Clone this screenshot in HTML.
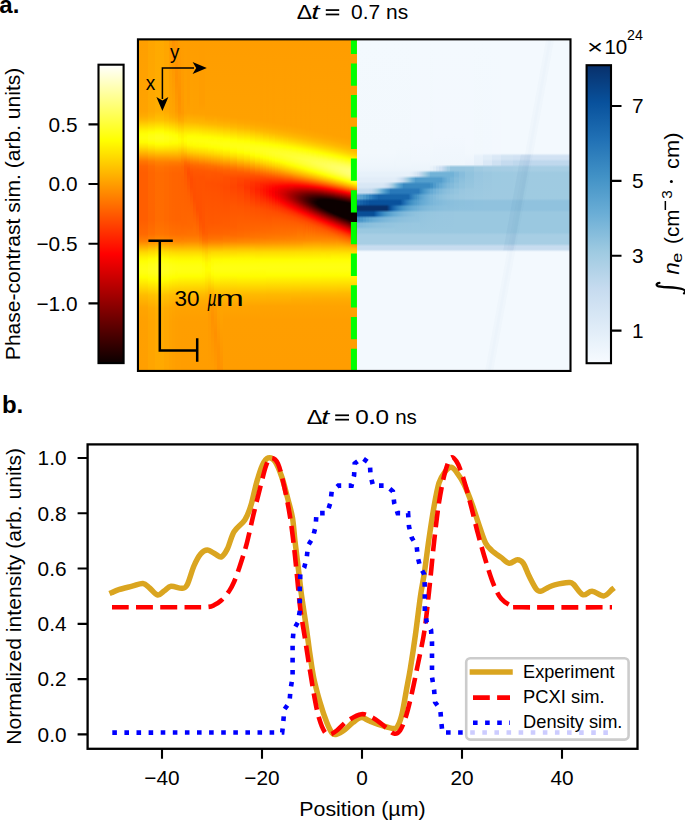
<!DOCTYPE html>
<html><head><meta charset="utf-8"><title>figure</title>
<style>
html,body{margin:0;padding:0;background:#fff;width:685px;height:821px;overflow:hidden}
svg{display:block;font-family:"Liberation Sans",sans-serif}
</style></head><body>
<svg width="685" height="821" viewBox="0 0 685 821" font-family='Liberation Sans, sans-serif' fill="#000"><defs><linearGradient id="g0" x2="0" y2="1"><stop offset="0.0000" stop-color="#ff9f00"/><stop offset="0.2153" stop-color="#ffa300"/><stop offset="0.2304" stop-color="#ffab00"/><stop offset="0.2426" stop-color="#ffb900"/><stop offset="0.2759" stop-color="#fff600"/><stop offset="0.2850" stop-color="#ffff05"/><stop offset="0.2971" stop-color="#ffff0c"/><stop offset="0.3093" stop-color="#fffd00"/><stop offset="0.3244" stop-color="#ffdf00"/><stop offset="0.3669" stop-color="#ff7600"/><stop offset="0.3820" stop-color="#ff6400"/><stop offset="0.4002" stop-color="#ff5e00"/><stop offset="0.5428" stop-color="#ff5e00"/><stop offset="0.5882" stop-color="#ff6900"/><stop offset="0.6095" stop-color="#ff8100"/><stop offset="0.6428" stop-color="#ffd700"/><stop offset="0.6580" stop-color="#fff100"/><stop offset="0.6701" stop-color="#ffff02"/><stop offset="0.6822" stop-color="#ffff10"/><stop offset="0.6944" stop-color="#ffff15"/><stop offset="0.7065" stop-color="#ffff0f"/><stop offset="0.7186" stop-color="#ffff00"/><stop offset="0.7732" stop-color="#ffbc00"/><stop offset="0.8096" stop-color="#ffa500"/><stop offset="0.8520" stop-color="#ffa000"/><stop offset="0.9976" stop-color="#ff9f00"/></linearGradient><linearGradient id="g1" x2="0" y2="1"><stop offset="0.0000" stop-color="#ffa500"/><stop offset="0.2153" stop-color="#ffa900"/><stop offset="0.2304" stop-color="#ffb100"/><stop offset="0.2426" stop-color="#ffbe00"/><stop offset="0.2790" stop-color="#ffff01"/><stop offset="0.2881" stop-color="#ffff11"/><stop offset="0.2971" stop-color="#ffff15"/><stop offset="0.3032" stop-color="#ffff10"/><stop offset="0.3123" stop-color="#ffff00"/><stop offset="0.3275" stop-color="#ffe000"/><stop offset="0.3669" stop-color="#ff7e00"/><stop offset="0.3820" stop-color="#ff6c00"/><stop offset="0.4002" stop-color="#ff6600"/><stop offset="0.5428" stop-color="#ff6500"/><stop offset="0.5882" stop-color="#ff7000"/><stop offset="0.6095" stop-color="#ff8800"/><stop offset="0.6398" stop-color="#ffd700"/><stop offset="0.6640" stop-color="#ffff01"/><stop offset="0.6792" stop-color="#ffff16"/><stop offset="0.6944" stop-color="#ffff1d"/><stop offset="0.7065" stop-color="#ffff18"/><stop offset="0.7247" stop-color="#fffe00"/><stop offset="0.7732" stop-color="#ffc100"/><stop offset="0.8126" stop-color="#ffaa00"/><stop offset="0.8551" stop-color="#ffa500"/><stop offset="0.9976" stop-color="#ffa500"/></linearGradient><linearGradient id="g2" x2="0" y2="1"><stop offset="0.0000" stop-color="#ffa900"/><stop offset="0.2153" stop-color="#ffad00"/><stop offset="0.2426" stop-color="#ffc200"/><stop offset="0.2759" stop-color="#fffe00"/><stop offset="0.2790" stop-color="#ffff06"/><stop offset="0.2881" stop-color="#ffff17"/><stop offset="0.2971" stop-color="#ffff1c"/><stop offset="0.3062" stop-color="#ffff14"/><stop offset="0.3153" stop-color="#ffff01"/><stop offset="0.3275" stop-color="#ffe700"/><stop offset="0.3578" stop-color="#ff9900"/><stop offset="0.3699" stop-color="#ff8000"/><stop offset="0.3851" stop-color="#ff7100"/><stop offset="0.4033" stop-color="#ff6b00"/><stop offset="0.5428" stop-color="#ff6c00"/><stop offset="0.5882" stop-color="#ff7600"/><stop offset="0.6095" stop-color="#ff8e00"/><stop offset="0.6398" stop-color="#ffdc00"/><stop offset="0.6610" stop-color="#ffff02"/><stop offset="0.6792" stop-color="#ffff1d"/><stop offset="0.6944" stop-color="#ffff24"/><stop offset="0.7095" stop-color="#ffff1b"/><stop offset="0.7277" stop-color="#fffe00"/><stop offset="0.7732" stop-color="#ffc500"/><stop offset="0.8126" stop-color="#ffaf00"/><stop offset="0.8551" stop-color="#ffaa00"/><stop offset="0.9976" stop-color="#ffa900"/></linearGradient><linearGradient id="g3" x2="0" y2="1"><stop offset="0.0000" stop-color="#ffa500"/><stop offset="0.2153" stop-color="#ffa900"/><stop offset="0.2426" stop-color="#ffbd00"/><stop offset="0.2790" stop-color="#fffd00"/><stop offset="0.2820" stop-color="#ffff04"/><stop offset="0.2911" stop-color="#ffff13"/><stop offset="0.2971" stop-color="#ffff16"/><stop offset="0.3062" stop-color="#ffff10"/><stop offset="0.3153" stop-color="#fffe00"/><stop offset="0.3305" stop-color="#ffde00"/><stop offset="0.3578" stop-color="#ff9900"/><stop offset="0.3699" stop-color="#ff7f00"/><stop offset="0.3851" stop-color="#ff6e00"/><stop offset="0.4033" stop-color="#ff6900"/><stop offset="0.5428" stop-color="#ff6900"/><stop offset="0.5882" stop-color="#ff7400"/><stop offset="0.6095" stop-color="#ff8b00"/><stop offset="0.6428" stop-color="#ffdf00"/><stop offset="0.6640" stop-color="#ffff02"/><stop offset="0.6792" stop-color="#ffff17"/><stop offset="0.6944" stop-color="#ffff1e"/><stop offset="0.7065" stop-color="#ffff18"/><stop offset="0.7247" stop-color="#fffe00"/><stop offset="0.7732" stop-color="#ffc100"/><stop offset="0.8126" stop-color="#ffaa00"/><stop offset="0.8551" stop-color="#ffa600"/><stop offset="0.9976" stop-color="#ffa500"/></linearGradient><linearGradient id="g4" x2="0" y2="1"><stop offset="0.0000" stop-color="#ff9b00"/><stop offset="0.2183" stop-color="#ffa600"/><stop offset="0.2335" stop-color="#ffaf00"/><stop offset="0.2456" stop-color="#ffbd00"/><stop offset="0.2790" stop-color="#fff900"/><stop offset="0.2850" stop-color="#ffff04"/><stop offset="0.2941" stop-color="#ffff0f"/><stop offset="0.3002" stop-color="#ffff10"/><stop offset="0.3153" stop-color="#fffb00"/><stop offset="0.3305" stop-color="#ffdd00"/><stop offset="0.3699" stop-color="#ff7d00"/><stop offset="0.3851" stop-color="#ff6c00"/><stop offset="0.4033" stop-color="#ff6600"/><stop offset="0.5428" stop-color="#ff6600"/><stop offset="0.5882" stop-color="#ff7100"/><stop offset="0.6095" stop-color="#ff8800"/><stop offset="0.6428" stop-color="#ffdb00"/><stop offset="0.6671" stop-color="#ffff02"/><stop offset="0.6822" stop-color="#ffff15"/><stop offset="0.6944" stop-color="#ffff18"/><stop offset="0.7065" stop-color="#ffff12"/><stop offset="0.7216" stop-color="#fffe00"/><stop offset="0.7732" stop-color="#ffbd00"/><stop offset="0.8126" stop-color="#ffa700"/><stop offset="0.8551" stop-color="#ffa200"/><stop offset="0.9976" stop-color="#ffa200"/></linearGradient><linearGradient id="g5" x2="0" y2="1"><stop offset="0.0000" stop-color="#ff9200"/><stop offset="0.2183" stop-color="#ffa400"/><stop offset="0.2335" stop-color="#ffac00"/><stop offset="0.2456" stop-color="#ffba00"/><stop offset="0.2790" stop-color="#fff600"/><stop offset="0.2881" stop-color="#ffff05"/><stop offset="0.3002" stop-color="#ffff0e"/><stop offset="0.3123" stop-color="#ffff00"/><stop offset="0.3275" stop-color="#ffe300"/><stop offset="0.3699" stop-color="#ff7d00"/><stop offset="0.3851" stop-color="#ff6b00"/><stop offset="0.4033" stop-color="#ff6400"/><stop offset="0.5428" stop-color="#ff6500"/><stop offset="0.5882" stop-color="#ff7000"/><stop offset="0.6095" stop-color="#ff8700"/><stop offset="0.6428" stop-color="#ffd900"/><stop offset="0.6580" stop-color="#fff300"/><stop offset="0.6701" stop-color="#ffff04"/><stop offset="0.6822" stop-color="#ffff12"/><stop offset="0.6944" stop-color="#ffff15"/><stop offset="0.7065" stop-color="#ffff0f"/><stop offset="0.7186" stop-color="#ffff00"/><stop offset="0.7732" stop-color="#ffbb00"/><stop offset="0.8096" stop-color="#ffa600"/><stop offset="0.8520" stop-color="#ffa000"/><stop offset="0.9976" stop-color="#ffa000"/></linearGradient><linearGradient id="g6" x2="0" y2="1"><stop offset="0.0000" stop-color="#ff9800"/><stop offset="0.1152" stop-color="#ff9100"/><stop offset="0.2153" stop-color="#ff9c00"/><stop offset="0.2304" stop-color="#ffa400"/><stop offset="0.2456" stop-color="#ffb500"/><stop offset="0.2881" stop-color="#ffff01"/><stop offset="0.3002" stop-color="#ffff0b"/><stop offset="0.3123" stop-color="#fffe00"/><stop offset="0.3305" stop-color="#ffdc00"/><stop offset="0.3699" stop-color="#ff7d00"/><stop offset="0.3851" stop-color="#ff6a00"/><stop offset="0.4033" stop-color="#ff6400"/><stop offset="0.5428" stop-color="#ff6400"/><stop offset="0.5882" stop-color="#ff6f00"/><stop offset="0.6095" stop-color="#ff8600"/><stop offset="0.6428" stop-color="#ffd800"/><stop offset="0.6580" stop-color="#fff200"/><stop offset="0.6701" stop-color="#ffff02"/><stop offset="0.6822" stop-color="#ffff10"/><stop offset="0.6944" stop-color="#ffff14"/><stop offset="0.7186" stop-color="#fffe00"/><stop offset="0.7702" stop-color="#ffbd00"/><stop offset="0.7884" stop-color="#ffae00"/><stop offset="0.8096" stop-color="#ffa400"/><stop offset="0.8520" stop-color="#ff9f00"/><stop offset="0.9976" stop-color="#ff9e00"/></linearGradient><linearGradient id="g7" x2="0" y2="1"><stop offset="0.0000" stop-color="#ff9d00"/><stop offset="0.1789" stop-color="#ff9100"/><stop offset="0.2183" stop-color="#ff9500"/><stop offset="0.2426" stop-color="#ffa700"/><stop offset="0.2850" stop-color="#fff300"/><stop offset="0.3002" stop-color="#ffff00"/><stop offset="0.3093" stop-color="#fffc00"/><stop offset="0.3214" stop-color="#ffeb00"/><stop offset="0.3730" stop-color="#ff7700"/><stop offset="0.3851" stop-color="#ff6a00"/><stop offset="0.4033" stop-color="#ff6300"/><stop offset="0.5428" stop-color="#ff6400"/><stop offset="0.5882" stop-color="#ff6f00"/><stop offset="0.6095" stop-color="#ff8600"/><stop offset="0.6428" stop-color="#ffd800"/><stop offset="0.6580" stop-color="#fff100"/><stop offset="0.6701" stop-color="#ffff01"/><stop offset="0.6822" stop-color="#ffff0f"/><stop offset="0.6913" stop-color="#ffff13"/><stop offset="0.7035" stop-color="#ffff0f"/><stop offset="0.7156" stop-color="#ffff01"/><stop offset="0.7732" stop-color="#ffb900"/><stop offset="0.8096" stop-color="#ffa400"/><stop offset="0.8520" stop-color="#ff9e00"/><stop offset="0.9976" stop-color="#ff9e00"/></linearGradient><linearGradient id="g8" x2="0" y2="1"><stop offset="0.0000" stop-color="#ff9d00"/><stop offset="0.2213" stop-color="#ff9a00"/><stop offset="0.2456" stop-color="#ffab00"/><stop offset="0.2850" stop-color="#ffee00"/><stop offset="0.3002" stop-color="#fff900"/><stop offset="0.3093" stop-color="#fff500"/><stop offset="0.3214" stop-color="#ffe500"/><stop offset="0.3669" stop-color="#ff7c00"/><stop offset="0.3851" stop-color="#ff6600"/><stop offset="0.4154" stop-color="#ff6100"/><stop offset="0.5579" stop-color="#ff6600"/><stop offset="0.5852" stop-color="#ff6e00"/><stop offset="0.6034" stop-color="#ff7d00"/><stop offset="0.6155" stop-color="#ff9300"/><stop offset="0.6428" stop-color="#ffd800"/><stop offset="0.6580" stop-color="#fff100"/><stop offset="0.6701" stop-color="#ffff01"/><stop offset="0.6822" stop-color="#ffff0e"/><stop offset="0.6913" stop-color="#ffff12"/><stop offset="0.7035" stop-color="#ffff0e"/><stop offset="0.7156" stop-color="#ffff01"/><stop offset="0.7732" stop-color="#ffb900"/><stop offset="0.8096" stop-color="#ffa300"/><stop offset="0.8520" stop-color="#ff9e00"/><stop offset="0.9976" stop-color="#ff9d00"/></linearGradient><linearGradient id="g9" x2="0" y2="1"><stop offset="0.0000" stop-color="#ff9d00"/><stop offset="0.2213" stop-color="#ffa100"/><stop offset="0.2456" stop-color="#ffb300"/><stop offset="0.2820" stop-color="#fff000"/><stop offset="0.2971" stop-color="#ffff01"/><stop offset="0.3062" stop-color="#ffff00"/><stop offset="0.3184" stop-color="#fff100"/><stop offset="0.3366" stop-color="#ffc900"/><stop offset="0.3699" stop-color="#ff6e00"/><stop offset="0.3820" stop-color="#ff5d00"/><stop offset="0.3942" stop-color="#ff5900"/><stop offset="0.4548" stop-color="#ff6100"/><stop offset="0.5549" stop-color="#ff6600"/><stop offset="0.5882" stop-color="#ff7000"/><stop offset="0.6095" stop-color="#ff8700"/><stop offset="0.6428" stop-color="#ffd800"/><stop offset="0.6580" stop-color="#fff100"/><stop offset="0.6701" stop-color="#ffff01"/><stop offset="0.6822" stop-color="#ffff0e"/><stop offset="0.6913" stop-color="#ffff12"/><stop offset="0.7035" stop-color="#ffff0e"/><stop offset="0.7156" stop-color="#ffff00"/><stop offset="0.7702" stop-color="#ffbc00"/><stop offset="0.7884" stop-color="#ffad00"/><stop offset="0.8096" stop-color="#ffa300"/><stop offset="0.8520" stop-color="#ff9e00"/><stop offset="0.9976" stop-color="#ff9d00"/></linearGradient><linearGradient id="g10" x2="0" y2="1"><stop offset="0.0000" stop-color="#ff9d00"/><stop offset="0.1880" stop-color="#ff9d00"/><stop offset="0.2213" stop-color="#ffa200"/><stop offset="0.2486" stop-color="#ffb800"/><stop offset="0.2911" stop-color="#ffff01"/><stop offset="0.3032" stop-color="#ffff0a"/><stop offset="0.3123" stop-color="#ffff02"/><stop offset="0.3184" stop-color="#fff900"/><stop offset="0.3396" stop-color="#ffcb00"/><stop offset="0.3669" stop-color="#ff7b00"/><stop offset="0.3760" stop-color="#ff6600"/><stop offset="0.3881" stop-color="#ff5500"/><stop offset="0.4033" stop-color="#ff4e00"/><stop offset="0.4730" stop-color="#ff6000"/><stop offset="0.5640" stop-color="#ff6800"/><stop offset="0.5913" stop-color="#ff7300"/><stop offset="0.6095" stop-color="#ff8800"/><stop offset="0.6428" stop-color="#ffd800"/><stop offset="0.6580" stop-color="#fff100"/><stop offset="0.6701" stop-color="#ffff01"/><stop offset="0.6822" stop-color="#ffff0e"/><stop offset="0.6913" stop-color="#ffff12"/><stop offset="0.7035" stop-color="#ffff0e"/><stop offset="0.7156" stop-color="#ffff00"/><stop offset="0.7702" stop-color="#ffbc00"/><stop offset="0.7884" stop-color="#ffad00"/><stop offset="0.8096" stop-color="#ffa300"/><stop offset="0.8520" stop-color="#ff9e00"/><stop offset="0.9976" stop-color="#ff9d00"/></linearGradient><linearGradient id="g11" x2="0" y2="1"><stop offset="0.0000" stop-color="#ff9d00"/><stop offset="0.2213" stop-color="#ffa200"/><stop offset="0.2486" stop-color="#ffb700"/><stop offset="0.2911" stop-color="#ffff01"/><stop offset="0.3032" stop-color="#ffff0b"/><stop offset="0.3184" stop-color="#fffb00"/><stop offset="0.3366" stop-color="#ffd600"/><stop offset="0.3669" stop-color="#ff8200"/><stop offset="0.3790" stop-color="#ff6700"/><stop offset="0.3972" stop-color="#ff5400"/><stop offset="0.4215" stop-color="#ff4c00"/><stop offset="0.4457" stop-color="#ff4e00"/><stop offset="0.5033" stop-color="#ff6100"/><stop offset="0.5670" stop-color="#ff6900"/><stop offset="0.5913" stop-color="#ff7300"/><stop offset="0.6095" stop-color="#ff8800"/><stop offset="0.6428" stop-color="#ffd800"/><stop offset="0.6580" stop-color="#fff100"/><stop offset="0.6701" stop-color="#ffff01"/><stop offset="0.6822" stop-color="#ffff0e"/><stop offset="0.6913" stop-color="#ffff12"/><stop offset="0.7035" stop-color="#ffff0e"/><stop offset="0.7156" stop-color="#ffff00"/><stop offset="0.7702" stop-color="#ffbc00"/><stop offset="0.7884" stop-color="#ffad00"/><stop offset="0.8096" stop-color="#ffa300"/><stop offset="0.8520" stop-color="#ff9e00"/><stop offset="0.9976" stop-color="#ff9d00"/></linearGradient><linearGradient id="g12" x2="0" y2="1"><stop offset="0.0000" stop-color="#ff9d00"/><stop offset="0.2213" stop-color="#ffa100"/><stop offset="0.2486" stop-color="#ffb600"/><stop offset="0.2850" stop-color="#fff600"/><stop offset="0.2941" stop-color="#ffff04"/><stop offset="0.3062" stop-color="#ffff0b"/><stop offset="0.3153" stop-color="#ffff02"/><stop offset="0.3244" stop-color="#fff300"/><stop offset="0.3426" stop-color="#ffca00"/><stop offset="0.3699" stop-color="#ff7d00"/><stop offset="0.3820" stop-color="#ff6500"/><stop offset="0.3972" stop-color="#ff5700"/><stop offset="0.4215" stop-color="#ff5100"/><stop offset="0.4791" stop-color="#ff4f00"/><stop offset="0.5913" stop-color="#ff7300"/><stop offset="0.6095" stop-color="#ff8800"/><stop offset="0.6428" stop-color="#ffd800"/><stop offset="0.6580" stop-color="#fff200"/><stop offset="0.6701" stop-color="#ffff01"/><stop offset="0.6822" stop-color="#ffff0e"/><stop offset="0.6913" stop-color="#ffff12"/><stop offset="0.7035" stop-color="#ffff0e"/><stop offset="0.7156" stop-color="#ffff00"/><stop offset="0.7702" stop-color="#ffbb00"/><stop offset="0.7884" stop-color="#ffad00"/><stop offset="0.8096" stop-color="#ffa300"/><stop offset="0.8520" stop-color="#ff9e00"/><stop offset="0.9976" stop-color="#ff9d00"/></linearGradient><linearGradient id="g13" x2="0" y2="1"><stop offset="0.0000" stop-color="#ff9d00"/><stop offset="0.2213" stop-color="#ffa100"/><stop offset="0.2486" stop-color="#ffb500"/><stop offset="0.2850" stop-color="#fff500"/><stop offset="0.2941" stop-color="#ffff03"/><stop offset="0.3062" stop-color="#ffff0c"/><stop offset="0.3214" stop-color="#fffa00"/><stop offset="0.3396" stop-color="#ffd400"/><stop offset="0.3699" stop-color="#ff7f00"/><stop offset="0.3790" stop-color="#ff6b00"/><stop offset="0.3942" stop-color="#ff5900"/><stop offset="0.4124" stop-color="#ff5300"/><stop offset="0.5124" stop-color="#ff5000"/><stop offset="0.5882" stop-color="#ff7000"/><stop offset="0.6095" stop-color="#ff8800"/><stop offset="0.6428" stop-color="#ffd800"/><stop offset="0.6580" stop-color="#fff200"/><stop offset="0.6701" stop-color="#ffff01"/><stop offset="0.6822" stop-color="#ffff0f"/><stop offset="0.6913" stop-color="#ffff12"/><stop offset="0.7035" stop-color="#ffff0e"/><stop offset="0.7156" stop-color="#ffff00"/><stop offset="0.7702" stop-color="#ffbb00"/><stop offset="0.7884" stop-color="#ffad00"/><stop offset="0.8096" stop-color="#ffa300"/><stop offset="0.8520" stop-color="#ff9e00"/><stop offset="0.9976" stop-color="#ff9d00"/></linearGradient><linearGradient id="g14" x2="0" y2="1"><stop offset="0.0000" stop-color="#ff9d00"/><stop offset="0.1910" stop-color="#ff9d00"/><stop offset="0.2244" stop-color="#ffa200"/><stop offset="0.2517" stop-color="#ffb800"/><stop offset="0.2850" stop-color="#fff300"/><stop offset="0.2941" stop-color="#ffff02"/><stop offset="0.3062" stop-color="#ffff0d"/><stop offset="0.3214" stop-color="#fffc00"/><stop offset="0.3396" stop-color="#ffd700"/><stop offset="0.3790" stop-color="#ff6d00"/><stop offset="0.3942" stop-color="#ff5a00"/><stop offset="0.4154" stop-color="#ff5200"/><stop offset="0.5397" stop-color="#ff5100"/><stop offset="0.5731" stop-color="#ff5d00"/><stop offset="0.5943" stop-color="#ff6e00"/><stop offset="0.6064" stop-color="#ff7e00"/><stop offset="0.6155" stop-color="#ff9000"/><stop offset="0.6428" stop-color="#ffd700"/><stop offset="0.6580" stop-color="#fff100"/><stop offset="0.6701" stop-color="#ffff01"/><stop offset="0.6822" stop-color="#ffff0e"/><stop offset="0.6913" stop-color="#ffff12"/><stop offset="0.7035" stop-color="#ffff0d"/><stop offset="0.7156" stop-color="#ffff00"/><stop offset="0.7702" stop-color="#ffbb00"/><stop offset="0.7884" stop-color="#ffad00"/><stop offset="0.8096" stop-color="#ffa300"/><stop offset="0.8520" stop-color="#ff9e00"/><stop offset="0.9976" stop-color="#ff9d00"/></linearGradient><linearGradient id="g15" x2="0" y2="1"><stop offset="0.0000" stop-color="#ff9d00"/><stop offset="0.1910" stop-color="#ff9d00"/><stop offset="0.2244" stop-color="#ffa200"/><stop offset="0.2517" stop-color="#ffb700"/><stop offset="0.2941" stop-color="#ffff01"/><stop offset="0.3062" stop-color="#ffff0d"/><stop offset="0.3214" stop-color="#fffd00"/><stop offset="0.3396" stop-color="#ffd900"/><stop offset="0.3730" stop-color="#ff7d00"/><stop offset="0.3820" stop-color="#ff6900"/><stop offset="0.3972" stop-color="#ff5800"/><stop offset="0.4154" stop-color="#ff5200"/><stop offset="0.5640" stop-color="#ff5500"/><stop offset="0.5852" stop-color="#ff5c00"/><stop offset="0.6064" stop-color="#ff7200"/><stop offset="0.6155" stop-color="#ff8600"/><stop offset="0.6337" stop-color="#ffba00"/><stop offset="0.6458" stop-color="#ffd600"/><stop offset="0.6610" stop-color="#ffef00"/><stop offset="0.6762" stop-color="#ffff02"/><stop offset="0.6944" stop-color="#ffff0d"/><stop offset="0.7156" stop-color="#fffd00"/><stop offset="0.7702" stop-color="#ffbb00"/><stop offset="0.7884" stop-color="#ffac00"/><stop offset="0.8096" stop-color="#ffa300"/><stop offset="0.8520" stop-color="#ff9e00"/><stop offset="0.9976" stop-color="#ff9d00"/></linearGradient><linearGradient id="g16" x2="0" y2="1"><stop offset="0.0000" stop-color="#ff9d00"/><stop offset="0.2244" stop-color="#ffa100"/><stop offset="0.2395" stop-color="#ffa900"/><stop offset="0.2547" stop-color="#ffba00"/><stop offset="0.2941" stop-color="#ffff00"/><stop offset="0.3032" stop-color="#ffff0c"/><stop offset="0.3093" stop-color="#ffff0d"/><stop offset="0.3214" stop-color="#ffff00"/><stop offset="0.3426" stop-color="#ffd500"/><stop offset="0.3790" stop-color="#ff7100"/><stop offset="0.3972" stop-color="#ff5900"/><stop offset="0.4336" stop-color="#ff5000"/><stop offset="0.5670" stop-color="#ff5b00"/><stop offset="0.5882" stop-color="#ff6000"/><stop offset="0.6034" stop-color="#ff6e00"/><stop offset="0.6125" stop-color="#ff7d00"/><stop offset="0.6367" stop-color="#ffbe00"/><stop offset="0.6519" stop-color="#ffdb00"/><stop offset="0.6731" stop-color="#fff600"/><stop offset="0.6944" stop-color="#ffff00"/><stop offset="0.7156" stop-color="#fff500"/><stop offset="0.7702" stop-color="#ffb800"/><stop offset="0.8035" stop-color="#ffa400"/><stop offset="0.8460" stop-color="#ff9e00"/><stop offset="0.9976" stop-color="#ff9d00"/></linearGradient><linearGradient id="g17" x2="0" y2="1"><stop offset="0.0000" stop-color="#ff9d00"/><stop offset="0.2244" stop-color="#ffa100"/><stop offset="0.2395" stop-color="#ffa900"/><stop offset="0.2547" stop-color="#ffb800"/><stop offset="0.2941" stop-color="#fffe00"/><stop offset="0.3093" stop-color="#ffff0e"/><stop offset="0.3214" stop-color="#ffff03"/><stop offset="0.3305" stop-color="#fff300"/><stop offset="0.3426" stop-color="#ffd800"/><stop offset="0.3790" stop-color="#ff7400"/><stop offset="0.3972" stop-color="#ff5a00"/><stop offset="0.4336" stop-color="#ff5000"/><stop offset="0.5518" stop-color="#ff5900"/><stop offset="0.5822" stop-color="#ff6100"/><stop offset="0.6004" stop-color="#ff6f00"/><stop offset="0.6125" stop-color="#ff8300"/><stop offset="0.6367" stop-color="#ffc600"/><stop offset="0.6519" stop-color="#ffe300"/><stop offset="0.6762" stop-color="#fffd00"/><stop offset="0.6974" stop-color="#ffff00"/><stop offset="0.7186" stop-color="#ffef00"/><stop offset="0.7671" stop-color="#ffb200"/><stop offset="0.7975" stop-color="#ff9f00"/><stop offset="0.8308" stop-color="#ff9a00"/><stop offset="0.9976" stop-color="#ff9d00"/></linearGradient><linearGradient id="g18" x2="0" y2="1"><stop offset="0.0000" stop-color="#ff9d00"/><stop offset="0.2244" stop-color="#ffa100"/><stop offset="0.2395" stop-color="#ffa800"/><stop offset="0.2547" stop-color="#ffb700"/><stop offset="0.2941" stop-color="#fffc00"/><stop offset="0.3093" stop-color="#ffff0e"/><stop offset="0.3153" stop-color="#ffff0d"/><stop offset="0.3244" stop-color="#ffff00"/><stop offset="0.3457" stop-color="#ffd300"/><stop offset="0.3820" stop-color="#ff7000"/><stop offset="0.4002" stop-color="#ff5800"/><stop offset="0.4336" stop-color="#ff4f00"/><stop offset="0.5549" stop-color="#ff5900"/><stop offset="0.5852" stop-color="#ff6300"/><stop offset="0.6034" stop-color="#ff7300"/><stop offset="0.6155" stop-color="#ff8c00"/><stop offset="0.6428" stop-color="#ffd700"/><stop offset="0.6671" stop-color="#fffc00"/><stop offset="0.6913" stop-color="#ffff0f"/><stop offset="0.7095" stop-color="#ffff02"/><stop offset="0.7247" stop-color="#ffef00"/><stop offset="0.7702" stop-color="#ffb000"/><stop offset="0.8065" stop-color="#ff9700"/><stop offset="0.8429" stop-color="#ff9200"/><stop offset="0.9976" stop-color="#ff9d00"/></linearGradient><linearGradient id="g19" x2="0" y2="1"><stop offset="0.0000" stop-color="#ff9d00"/><stop offset="0.2274" stop-color="#ffa100"/><stop offset="0.2547" stop-color="#ffb600"/><stop offset="0.2971" stop-color="#ffff01"/><stop offset="0.3062" stop-color="#ffff0d"/><stop offset="0.3123" stop-color="#ffff0f"/><stop offset="0.3244" stop-color="#ffff02"/><stop offset="0.3335" stop-color="#fff200"/><stop offset="0.3457" stop-color="#ffd700"/><stop offset="0.3820" stop-color="#ff7200"/><stop offset="0.3911" stop-color="#ff6200"/><stop offset="0.4033" stop-color="#ff5600"/><stop offset="0.4366" stop-color="#ff4f00"/><stop offset="0.5549" stop-color="#ff5a00"/><stop offset="0.5852" stop-color="#ff6300"/><stop offset="0.6034" stop-color="#ff7400"/><stop offset="0.6155" stop-color="#ff8c00"/><stop offset="0.6428" stop-color="#ffd800"/><stop offset="0.6671" stop-color="#fffd00"/><stop offset="0.6822" stop-color="#ffff0f"/><stop offset="0.6913" stop-color="#ffff12"/><stop offset="0.7004" stop-color="#ffff0f"/><stop offset="0.7126" stop-color="#ffff03"/><stop offset="0.7247" stop-color="#fff400"/><stop offset="0.7732" stop-color="#ffb600"/><stop offset="0.7944" stop-color="#ffa500"/><stop offset="0.8156" stop-color="#ff9b00"/><stop offset="0.8914" stop-color="#ff9000"/><stop offset="0.9976" stop-color="#ff9a00"/></linearGradient><linearGradient id="g20" x2="0" y2="1"><stop offset="0.0000" stop-color="#ff9d00"/><stop offset="0.2274" stop-color="#ffa100"/><stop offset="0.2426" stop-color="#ffa900"/><stop offset="0.2577" stop-color="#ffb800"/><stop offset="0.2971" stop-color="#fffe00"/><stop offset="0.3123" stop-color="#ffff10"/><stop offset="0.3244" stop-color="#ffff05"/><stop offset="0.3305" stop-color="#fffa00"/><stop offset="0.3426" stop-color="#ffe100"/><stop offset="0.3851" stop-color="#ff6e00"/><stop offset="0.4033" stop-color="#ff5700"/><stop offset="0.4366" stop-color="#ff4e00"/><stop offset="0.5549" stop-color="#ff5a00"/><stop offset="0.5852" stop-color="#ff6300"/><stop offset="0.6034" stop-color="#ff7400"/><stop offset="0.6155" stop-color="#ff8c00"/><stop offset="0.6428" stop-color="#ffd800"/><stop offset="0.6671" stop-color="#fffd00"/><stop offset="0.6822" stop-color="#ffff0f"/><stop offset="0.6913" stop-color="#ffff12"/><stop offset="0.7004" stop-color="#ffff0f"/><stop offset="0.7126" stop-color="#ffff03"/><stop offset="0.7216" stop-color="#fff800"/><stop offset="0.7702" stop-color="#ffbb00"/><stop offset="0.8035" stop-color="#ffa400"/><stop offset="0.9339" stop-color="#ff9200"/><stop offset="0.9976" stop-color="#ff9100"/></linearGradient><linearGradient id="g21" x2="0" y2="1"><stop offset="0.0000" stop-color="#ff9d00"/><stop offset="0.2274" stop-color="#ffa100"/><stop offset="0.2426" stop-color="#ffa800"/><stop offset="0.2577" stop-color="#ffb700"/><stop offset="0.2971" stop-color="#fffd00"/><stop offset="0.3123" stop-color="#ffff10"/><stop offset="0.3184" stop-color="#ffff0f"/><stop offset="0.3275" stop-color="#ffff03"/><stop offset="0.3457" stop-color="#ffdd00"/><stop offset="0.3851" stop-color="#ff7100"/><stop offset="0.3942" stop-color="#ff6100"/><stop offset="0.4063" stop-color="#ff5500"/><stop offset="0.4397" stop-color="#ff4c00"/><stop offset="0.5549" stop-color="#ff5b00"/><stop offset="0.5852" stop-color="#ff6400"/><stop offset="0.6034" stop-color="#ff7400"/><stop offset="0.6155" stop-color="#ff8c00"/><stop offset="0.6428" stop-color="#ffd800"/><stop offset="0.6671" stop-color="#fffd00"/><stop offset="0.6822" stop-color="#ffff0f"/><stop offset="0.6913" stop-color="#ffff12"/><stop offset="0.7004" stop-color="#ffff0f"/><stop offset="0.7126" stop-color="#ffff03"/><stop offset="0.7702" stop-color="#ffbb00"/><stop offset="0.8035" stop-color="#ffa500"/><stop offset="0.9976" stop-color="#ff9300"/></linearGradient><linearGradient id="g22" x2="0" y2="1"><stop offset="0.0000" stop-color="#ff9d00"/><stop offset="0.2304" stop-color="#ffa100"/><stop offset="0.2456" stop-color="#ffa900"/><stop offset="0.2608" stop-color="#ffb900"/><stop offset="0.3002" stop-color="#ffff00"/><stop offset="0.3093" stop-color="#ffff0e"/><stop offset="0.3153" stop-color="#ffff12"/><stop offset="0.3214" stop-color="#ffff10"/><stop offset="0.3305" stop-color="#ffff02"/><stop offset="0.3487" stop-color="#ffdc00"/><stop offset="0.3820" stop-color="#ff7d00"/><stop offset="0.3942" stop-color="#ff6300"/><stop offset="0.4154" stop-color="#ff4f00"/><stop offset="0.4457" stop-color="#ff4a00"/><stop offset="0.5640" stop-color="#ff5d00"/><stop offset="0.5882" stop-color="#ff6700"/><stop offset="0.6095" stop-color="#ff8000"/><stop offset="0.6398" stop-color="#ffd200"/><stop offset="0.6640" stop-color="#fffa00"/><stop offset="0.6701" stop-color="#ffff02"/><stop offset="0.6822" stop-color="#ffff0f"/><stop offset="0.6913" stop-color="#ffff12"/><stop offset="0.7004" stop-color="#ffff0f"/><stop offset="0.7126" stop-color="#ffff03"/><stop offset="0.7702" stop-color="#ffbb00"/><stop offset="0.8035" stop-color="#ffa500"/><stop offset="0.8490" stop-color="#ff9e00"/><stop offset="0.9976" stop-color="#ff9d00"/></linearGradient><linearGradient id="g23" x2="0" y2="1"><stop offset="0.0000" stop-color="#ff9d00"/><stop offset="0.2335" stop-color="#ffa100"/><stop offset="0.2486" stop-color="#ffa900"/><stop offset="0.2638" stop-color="#ffb900"/><stop offset="0.3032" stop-color="#ffff02"/><stop offset="0.3123" stop-color="#ffff10"/><stop offset="0.3184" stop-color="#ffff14"/><stop offset="0.3244" stop-color="#ffff12"/><stop offset="0.3335" stop-color="#ffff04"/><stop offset="0.3396" stop-color="#fff800"/><stop offset="0.3517" stop-color="#ffdd00"/><stop offset="0.3851" stop-color="#ff7c00"/><stop offset="0.3972" stop-color="#ff6100"/><stop offset="0.4184" stop-color="#ff4b00"/><stop offset="0.4457" stop-color="#ff4500"/><stop offset="0.5033" stop-color="#ff5600"/><stop offset="0.5670" stop-color="#ff5f00"/><stop offset="0.5913" stop-color="#ff6a00"/><stop offset="0.6095" stop-color="#ff8100"/><stop offset="0.6398" stop-color="#ffd200"/><stop offset="0.6610" stop-color="#fff700"/><stop offset="0.6701" stop-color="#ffff03"/><stop offset="0.6822" stop-color="#ffff0f"/><stop offset="0.6913" stop-color="#ffff12"/><stop offset="0.7004" stop-color="#ffff0f"/><stop offset="0.7126" stop-color="#ffff03"/><stop offset="0.7702" stop-color="#ffba00"/><stop offset="0.8035" stop-color="#ffa500"/><stop offset="0.8490" stop-color="#ff9e00"/><stop offset="0.9976" stop-color="#ff9d00"/></linearGradient><linearGradient id="g24" x2="0" y2="1"><stop offset="0.0000" stop-color="#ff9d00"/><stop offset="0.2365" stop-color="#ffa100"/><stop offset="0.2517" stop-color="#ffa900"/><stop offset="0.2668" stop-color="#ffb900"/><stop offset="0.3062" stop-color="#ffff03"/><stop offset="0.3153" stop-color="#ffff12"/><stop offset="0.3244" stop-color="#ffff16"/><stop offset="0.3305" stop-color="#ffff11"/><stop offset="0.3396" stop-color="#ffff00"/><stop offset="0.3578" stop-color="#ffd700"/><stop offset="0.3881" stop-color="#ff7c00"/><stop offset="0.4002" stop-color="#ff5f00"/><stop offset="0.4184" stop-color="#ff4800"/><stop offset="0.4397" stop-color="#ff3e00"/><stop offset="0.5094" stop-color="#ff5600"/><stop offset="0.5731" stop-color="#ff6300"/><stop offset="0.5943" stop-color="#ff6e00"/><stop offset="0.6125" stop-color="#ff8900"/><stop offset="0.6337" stop-color="#ffc400"/><stop offset="0.6458" stop-color="#ffdf00"/><stop offset="0.6610" stop-color="#fff700"/><stop offset="0.6701" stop-color="#ffff03"/><stop offset="0.6822" stop-color="#ffff0f"/><stop offset="0.6913" stop-color="#ffff12"/><stop offset="0.7004" stop-color="#ffff0f"/><stop offset="0.7156" stop-color="#fffe00"/><stop offset="0.7702" stop-color="#ffba00"/><stop offset="0.8065" stop-color="#ffa400"/><stop offset="0.8490" stop-color="#ff9e00"/><stop offset="0.9976" stop-color="#ff9d00"/></linearGradient><linearGradient id="g25" x2="0" y2="1"><stop offset="0.0000" stop-color="#ff9d00"/><stop offset="0.2365" stop-color="#ffa100"/><stop offset="0.2517" stop-color="#ffa700"/><stop offset="0.2668" stop-color="#ffb600"/><stop offset="0.3062" stop-color="#fffe00"/><stop offset="0.3153" stop-color="#ffff11"/><stop offset="0.3244" stop-color="#ffff19"/><stop offset="0.3335" stop-color="#ffff14"/><stop offset="0.3426" stop-color="#ffff02"/><stop offset="0.3608" stop-color="#ffd700"/><stop offset="0.3911" stop-color="#ff7a00"/><stop offset="0.4033" stop-color="#ff5c00"/><stop offset="0.4245" stop-color="#ff3f00"/><stop offset="0.4457" stop-color="#ff3500"/><stop offset="0.5064" stop-color="#ff5300"/><stop offset="0.5731" stop-color="#ff6400"/><stop offset="0.5943" stop-color="#ff7000"/><stop offset="0.6125" stop-color="#ff8a00"/><stop offset="0.6337" stop-color="#ffc400"/><stop offset="0.6458" stop-color="#ffe000"/><stop offset="0.6610" stop-color="#fff700"/><stop offset="0.6701" stop-color="#ffff03"/><stop offset="0.6822" stop-color="#ffff0f"/><stop offset="0.6913" stop-color="#ffff12"/><stop offset="0.7004" stop-color="#ffff0f"/><stop offset="0.7156" stop-color="#fffe00"/><stop offset="0.7702" stop-color="#ffba00"/><stop offset="0.8065" stop-color="#ffa400"/><stop offset="0.8490" stop-color="#ff9e00"/><stop offset="0.9976" stop-color="#ff9d00"/></linearGradient><linearGradient id="g26" x2="0" y2="1"><stop offset="0.0000" stop-color="#ff9d00"/><stop offset="0.2395" stop-color="#ffa100"/><stop offset="0.2547" stop-color="#ffa800"/><stop offset="0.2699" stop-color="#ffb600"/><stop offset="0.3093" stop-color="#ffff00"/><stop offset="0.3184" stop-color="#ffff13"/><stop offset="0.3275" stop-color="#ffff1b"/><stop offset="0.3366" stop-color="#ffff16"/><stop offset="0.3457" stop-color="#ffff05"/><stop offset="0.3487" stop-color="#fffd00"/><stop offset="0.3608" stop-color="#ffe100"/><stop offset="0.3972" stop-color="#ff7000"/><stop offset="0.4093" stop-color="#ff5300"/><stop offset="0.4306" stop-color="#ff3500"/><stop offset="0.4488" stop-color="#ff2c00"/><stop offset="0.4609" stop-color="#ff3000"/><stop offset="0.5094" stop-color="#ff5200"/><stop offset="0.5761" stop-color="#ff6600"/><stop offset="0.5973" stop-color="#ff7400"/><stop offset="0.6125" stop-color="#ff8b00"/><stop offset="0.6337" stop-color="#ffc500"/><stop offset="0.6458" stop-color="#ffe000"/><stop offset="0.6610" stop-color="#fff700"/><stop offset="0.6701" stop-color="#ffff03"/><stop offset="0.6822" stop-color="#ffff0f"/><stop offset="0.6913" stop-color="#ffff12"/><stop offset="0.7156" stop-color="#fffd00"/><stop offset="0.7702" stop-color="#ffba00"/><stop offset="0.8065" stop-color="#ffa400"/><stop offset="0.8490" stop-color="#ff9e00"/><stop offset="0.9976" stop-color="#ff9d00"/></linearGradient><linearGradient id="g27" x2="0" y2="1"><stop offset="0.0000" stop-color="#ff9d00"/><stop offset="0.2426" stop-color="#ffa100"/><stop offset="0.2577" stop-color="#ffa800"/><stop offset="0.2729" stop-color="#ffb700"/><stop offset="0.3123" stop-color="#ffff03"/><stop offset="0.3214" stop-color="#ffff16"/><stop offset="0.3305" stop-color="#ffff1e"/><stop offset="0.3396" stop-color="#ffff18"/><stop offset="0.3487" stop-color="#ffff06"/><stop offset="0.3517" stop-color="#fffe00"/><stop offset="0.3669" stop-color="#ffd900"/><stop offset="0.4002" stop-color="#ff6e00"/><stop offset="0.4124" stop-color="#ff4f00"/><stop offset="0.4336" stop-color="#ff2d00"/><stop offset="0.4518" stop-color="#ff2200"/><stop offset="0.4639" stop-color="#ff2800"/><stop offset="0.5124" stop-color="#ff5100"/><stop offset="0.5761" stop-color="#ff6700"/><stop offset="0.5973" stop-color="#ff7500"/><stop offset="0.6125" stop-color="#ff8c00"/><stop offset="0.6428" stop-color="#ffda00"/><stop offset="0.6671" stop-color="#fffe00"/><stop offset="0.6792" stop-color="#ffff0d"/><stop offset="0.6913" stop-color="#ffff12"/><stop offset="0.7156" stop-color="#fffd00"/><stop offset="0.7702" stop-color="#ffba00"/><stop offset="0.8065" stop-color="#ffa400"/><stop offset="0.8490" stop-color="#ff9e00"/><stop offset="0.9976" stop-color="#ff9d00"/></linearGradient><linearGradient id="g28" x2="0" y2="1"><stop offset="0.0000" stop-color="#ff9d00"/><stop offset="0.2426" stop-color="#ffa000"/><stop offset="0.2608" stop-color="#ffa900"/><stop offset="0.2759" stop-color="#ffb900"/><stop offset="0.3123" stop-color="#fffe00"/><stop offset="0.3244" stop-color="#ffff19"/><stop offset="0.3335" stop-color="#ffff20"/><stop offset="0.3426" stop-color="#ffff19"/><stop offset="0.3517" stop-color="#ffff06"/><stop offset="0.3548" stop-color="#fffd00"/><stop offset="0.3699" stop-color="#ffd700"/><stop offset="0.4033" stop-color="#ff6a00"/><stop offset="0.4154" stop-color="#ff4a00"/><stop offset="0.4366" stop-color="#ff2400"/><stop offset="0.4548" stop-color="#ff1a00"/><stop offset="0.4669" stop-color="#ff2000"/><stop offset="0.5124" stop-color="#ff4f00"/><stop offset="0.5791" stop-color="#ff6900"/><stop offset="0.5973" stop-color="#ff7600"/><stop offset="0.6125" stop-color="#ff8d00"/><stop offset="0.6428" stop-color="#ffda00"/><stop offset="0.6671" stop-color="#ffff00"/><stop offset="0.6792" stop-color="#ffff0e"/><stop offset="0.6913" stop-color="#ffff12"/><stop offset="0.7156" stop-color="#fffd00"/><stop offset="0.7702" stop-color="#ffba00"/><stop offset="0.8065" stop-color="#ffa300"/><stop offset="0.8490" stop-color="#ff9e00"/><stop offset="0.9976" stop-color="#ff9d00"/></linearGradient><linearGradient id="g29" x2="0" y2="1"><stop offset="0.0000" stop-color="#ff9d00"/><stop offset="0.2456" stop-color="#ffa100"/><stop offset="0.2608" stop-color="#ffa800"/><stop offset="0.2759" stop-color="#ffb700"/><stop offset="0.2881" stop-color="#ffca00"/><stop offset="0.3123" stop-color="#fffc00"/><stop offset="0.3153" stop-color="#ffff04"/><stop offset="0.3275" stop-color="#ffff1c"/><stop offset="0.3366" stop-color="#ffff21"/><stop offset="0.3457" stop-color="#ffff19"/><stop offset="0.3548" stop-color="#ffff04"/><stop offset="0.3608" stop-color="#fff500"/><stop offset="0.3730" stop-color="#ffd400"/><stop offset="0.4033" stop-color="#ff6e00"/><stop offset="0.4184" stop-color="#ff4400"/><stop offset="0.4397" stop-color="#ff1d00"/><stop offset="0.4548" stop-color="#ff1200"/><stop offset="0.4669" stop-color="#ff1800"/><stop offset="0.4973" stop-color="#ff3f00"/><stop offset="0.5155" stop-color="#ff4f00"/><stop offset="0.5822" stop-color="#ff6b00"/><stop offset="0.6004" stop-color="#ff7900"/><stop offset="0.6155" stop-color="#ff9400"/><stop offset="0.6428" stop-color="#ffdb00"/><stop offset="0.6671" stop-color="#ffff00"/><stop offset="0.6792" stop-color="#ffff0e"/><stop offset="0.6913" stop-color="#ffff12"/><stop offset="0.7156" stop-color="#fffd00"/><stop offset="0.7702" stop-color="#ffba00"/><stop offset="0.8065" stop-color="#ffa300"/><stop offset="0.8490" stop-color="#ff9e00"/><stop offset="0.9976" stop-color="#ff9d00"/></linearGradient><linearGradient id="g30" x2="0" y2="1"><stop offset="0.0000" stop-color="#ff9d00"/><stop offset="0.2456" stop-color="#ffa000"/><stop offset="0.2638" stop-color="#ffa900"/><stop offset="0.2790" stop-color="#ffb900"/><stop offset="0.3153" stop-color="#ffff01"/><stop offset="0.3275" stop-color="#ffff1c"/><stop offset="0.3366" stop-color="#ffff23"/><stop offset="0.3457" stop-color="#ffff1e"/><stop offset="0.3578" stop-color="#ffff02"/><stop offset="0.3760" stop-color="#ffd100"/><stop offset="0.4063" stop-color="#ff6900"/><stop offset="0.4215" stop-color="#ff3e00"/><stop offset="0.4427" stop-color="#ff1400"/><stop offset="0.4579" stop-color="#ff0a00"/><stop offset="0.4700" stop-color="#ff1200"/><stop offset="0.4973" stop-color="#ff3a00"/><stop offset="0.5155" stop-color="#ff4d00"/><stop offset="0.5822" stop-color="#ff6c00"/><stop offset="0.6004" stop-color="#ff7a00"/><stop offset="0.6155" stop-color="#ff9500"/><stop offset="0.6428" stop-color="#ffdb00"/><stop offset="0.6671" stop-color="#ffff00"/><stop offset="0.6792" stop-color="#ffff0e"/><stop offset="0.6913" stop-color="#ffff12"/><stop offset="0.7004" stop-color="#ffff0e"/><stop offset="0.7126" stop-color="#ffff01"/><stop offset="0.7702" stop-color="#ffb900"/><stop offset="0.8065" stop-color="#ffa300"/><stop offset="0.8490" stop-color="#ff9e00"/><stop offset="0.9976" stop-color="#ff9d00"/></linearGradient><linearGradient id="g31" x2="0" y2="1"><stop offset="0.0000" stop-color="#ff9d00"/><stop offset="0.2486" stop-color="#ffa100"/><stop offset="0.2638" stop-color="#ffa800"/><stop offset="0.2790" stop-color="#ffb700"/><stop offset="0.2941" stop-color="#ffd000"/><stop offset="0.3153" stop-color="#fffd00"/><stop offset="0.3305" stop-color="#ffff1f"/><stop offset="0.3396" stop-color="#ffff25"/><stop offset="0.3487" stop-color="#ffff1e"/><stop offset="0.3608" stop-color="#ffff00"/><stop offset="0.3790" stop-color="#ffcd00"/><stop offset="0.4093" stop-color="#ff6300"/><stop offset="0.4245" stop-color="#ff3700"/><stop offset="0.4427" stop-color="#ff0f00"/><stop offset="0.4579" stop-color="#ff0100"/><stop offset="0.4700" stop-color="#ff0800"/><stop offset="0.5003" stop-color="#ff3900"/><stop offset="0.5185" stop-color="#ff4e00"/><stop offset="0.5822" stop-color="#ff6c00"/><stop offset="0.6004" stop-color="#ff7b00"/><stop offset="0.6155" stop-color="#ff9500"/><stop offset="0.6428" stop-color="#ffdb00"/><stop offset="0.6671" stop-color="#ffff00"/><stop offset="0.6792" stop-color="#ffff0e"/><stop offset="0.6883" stop-color="#ffff12"/><stop offset="0.7004" stop-color="#ffff0e"/><stop offset="0.7126" stop-color="#ffff01"/><stop offset="0.7702" stop-color="#ffb900"/><stop offset="0.8065" stop-color="#ffa300"/><stop offset="0.8490" stop-color="#ff9e00"/><stop offset="0.9976" stop-color="#ff9d00"/></linearGradient><linearGradient id="g32" x2="0" y2="1"><stop offset="0.0000" stop-color="#ff9d00"/><stop offset="0.2486" stop-color="#ffa000"/><stop offset="0.2668" stop-color="#ffa900"/><stop offset="0.2820" stop-color="#ffb900"/><stop offset="0.3184" stop-color="#ffff02"/><stop offset="0.3305" stop-color="#ffff1e"/><stop offset="0.3396" stop-color="#ffff27"/><stop offset="0.3487" stop-color="#ffff22"/><stop offset="0.3608" stop-color="#ffff07"/><stop offset="0.3639" stop-color="#fffd00"/><stop offset="0.3790" stop-color="#ffd400"/><stop offset="0.4154" stop-color="#ff5300"/><stop offset="0.4366" stop-color="#ff1800"/><stop offset="0.4488" stop-color="#ff0000"/><stop offset="0.4609" stop-color="#f70000"/><stop offset="0.4700" stop-color="#fc0000"/><stop offset="0.4760" stop-color="#ff0600"/><stop offset="0.5033" stop-color="#ff3800"/><stop offset="0.5185" stop-color="#ff4b00"/><stop offset="0.5397" stop-color="#ff5a00"/><stop offset="0.5852" stop-color="#ff6e00"/><stop offset="0.6034" stop-color="#ff7f00"/><stop offset="0.6155" stop-color="#ff9600"/><stop offset="0.6428" stop-color="#ffdb00"/><stop offset="0.6671" stop-color="#ffff00"/><stop offset="0.6792" stop-color="#ffff0e"/><stop offset="0.6883" stop-color="#ffff12"/><stop offset="0.7004" stop-color="#ffff0e"/><stop offset="0.7126" stop-color="#ffff01"/><stop offset="0.7702" stop-color="#ffb900"/><stop offset="0.8065" stop-color="#ffa300"/><stop offset="0.8490" stop-color="#ff9e00"/><stop offset="0.9976" stop-color="#ff9d00"/></linearGradient><linearGradient id="g33" x2="0" y2="1"><stop offset="0.0000" stop-color="#ff9d00"/><stop offset="0.2517" stop-color="#ffa100"/><stop offset="0.2668" stop-color="#ffa800"/><stop offset="0.2820" stop-color="#ffb700"/><stop offset="0.2971" stop-color="#ffd000"/><stop offset="0.3184" stop-color="#fffe00"/><stop offset="0.3305" stop-color="#ffff1d"/><stop offset="0.3426" stop-color="#ffff29"/><stop offset="0.3517" stop-color="#ffff23"/><stop offset="0.3639" stop-color="#ffff06"/><stop offset="0.3669" stop-color="#fffc00"/><stop offset="0.3820" stop-color="#ffd100"/><stop offset="0.4184" stop-color="#ff4d00"/><stop offset="0.4427" stop-color="#ff0600"/><stop offset="0.4457" stop-color="#fe0000"/><stop offset="0.4609" stop-color="#ec0000"/><stop offset="0.4700" stop-color="#f00000"/><stop offset="0.4791" stop-color="#fe0000"/><stop offset="0.5033" stop-color="#ff3200"/><stop offset="0.5215" stop-color="#ff4c00"/><stop offset="0.5428" stop-color="#ff5b00"/><stop offset="0.5852" stop-color="#ff6f00"/><stop offset="0.6034" stop-color="#ff8000"/><stop offset="0.6155" stop-color="#ff9600"/><stop offset="0.6428" stop-color="#ffdb00"/><stop offset="0.6671" stop-color="#ffff00"/><stop offset="0.6792" stop-color="#ffff0e"/><stop offset="0.6883" stop-color="#ffff12"/><stop offset="0.7004" stop-color="#ffff0e"/><stop offset="0.7126" stop-color="#ffff01"/><stop offset="0.7702" stop-color="#ffb900"/><stop offset="0.8065" stop-color="#ffa300"/><stop offset="0.8490" stop-color="#ff9e00"/><stop offset="0.9976" stop-color="#ff9d00"/></linearGradient><linearGradient id="g34" x2="0" y2="1"><stop offset="0.0000" stop-color="#ff9d00"/><stop offset="0.2517" stop-color="#ffa100"/><stop offset="0.2699" stop-color="#ffa900"/><stop offset="0.2850" stop-color="#ffb900"/><stop offset="0.2971" stop-color="#ffce00"/><stop offset="0.3184" stop-color="#fffc00"/><stop offset="0.3335" stop-color="#ffff21"/><stop offset="0.3426" stop-color="#ffff2b"/><stop offset="0.3548" stop-color="#ffff21"/><stop offset="0.3669" stop-color="#ffff01"/><stop offset="0.3851" stop-color="#ffcc00"/><stop offset="0.4215" stop-color="#ff4500"/><stop offset="0.4427" stop-color="#ff0300"/><stop offset="0.4548" stop-color="#ea0000"/><stop offset="0.4639" stop-color="#e40000"/><stop offset="0.4730" stop-color="#ea0000"/><stop offset="0.4821" stop-color="#fb0000"/><stop offset="0.5064" stop-color="#ff3300"/><stop offset="0.5246" stop-color="#ff4d00"/><stop offset="0.5428" stop-color="#ff5b00"/><stop offset="0.5852" stop-color="#ff6f00"/><stop offset="0.6034" stop-color="#ff8000"/><stop offset="0.6155" stop-color="#ff9700"/><stop offset="0.6428" stop-color="#ffdb00"/><stop offset="0.6671" stop-color="#ffff00"/><stop offset="0.6792" stop-color="#ffff0e"/><stop offset="0.6883" stop-color="#ffff12"/><stop offset="0.7004" stop-color="#ffff0e"/><stop offset="0.7126" stop-color="#ffff01"/><stop offset="0.7702" stop-color="#ffb900"/><stop offset="0.8065" stop-color="#ffa300"/><stop offset="0.8490" stop-color="#ff9e00"/><stop offset="0.9976" stop-color="#ff9d00"/></linearGradient><linearGradient id="g35" x2="0" y2="1"><stop offset="0.0000" stop-color="#ff9d00"/><stop offset="0.2547" stop-color="#ffa100"/><stop offset="0.2699" stop-color="#ffa800"/><stop offset="0.2850" stop-color="#ffb800"/><stop offset="0.2971" stop-color="#ffcc00"/><stop offset="0.3184" stop-color="#fffa00"/><stop offset="0.3214" stop-color="#ffff02"/><stop offset="0.3366" stop-color="#ffff26"/><stop offset="0.3457" stop-color="#ffff2c"/><stop offset="0.3548" stop-color="#ffff25"/><stop offset="0.3669" stop-color="#ffff07"/><stop offset="0.3730" stop-color="#fff500"/><stop offset="0.3881" stop-color="#ffc600"/><stop offset="0.4215" stop-color="#ff4700"/><stop offset="0.4427" stop-color="#ff0000"/><stop offset="0.4548" stop-color="#e40000"/><stop offset="0.4639" stop-color="#db0000"/><stop offset="0.4730" stop-color="#e10000"/><stop offset="0.4851" stop-color="#f90000"/><stop offset="0.4882" stop-color="#ff0100"/><stop offset="0.5094" stop-color="#ff3400"/><stop offset="0.5246" stop-color="#ff4b00"/><stop offset="0.5428" stop-color="#ff5a00"/><stop offset="0.5882" stop-color="#ff7200"/><stop offset="0.6034" stop-color="#ff8100"/><stop offset="0.6155" stop-color="#ff9700"/><stop offset="0.6428" stop-color="#ffdc00"/><stop offset="0.6671" stop-color="#ffff00"/><stop offset="0.6792" stop-color="#ffff0e"/><stop offset="0.6883" stop-color="#ffff12"/><stop offset="0.7004" stop-color="#ffff0e"/><stop offset="0.7126" stop-color="#ffff01"/><stop offset="0.7702" stop-color="#ffb900"/><stop offset="0.8065" stop-color="#ffa300"/><stop offset="0.8490" stop-color="#ff9e00"/><stop offset="0.9976" stop-color="#ff9d00"/></linearGradient><linearGradient id="g36" x2="0" y2="1"><stop offset="0.0000" stop-color="#ff9d00"/><stop offset="0.2547" stop-color="#ffa100"/><stop offset="0.2699" stop-color="#ffa800"/><stop offset="0.2850" stop-color="#ffb700"/><stop offset="0.3002" stop-color="#ffd100"/><stop offset="0.3214" stop-color="#ffff00"/><stop offset="0.3335" stop-color="#ffff20"/><stop offset="0.3457" stop-color="#ffff2d"/><stop offset="0.3578" stop-color="#ffff21"/><stop offset="0.3699" stop-color="#fffe00"/><stop offset="0.3911" stop-color="#ffbe00"/><stop offset="0.4245" stop-color="#ff3d00"/><stop offset="0.4427" stop-color="#fe0000"/><stop offset="0.4548" stop-color="#e10000"/><stop offset="0.4639" stop-color="#d70000"/><stop offset="0.4760" stop-color="#e00000"/><stop offset="0.4882" stop-color="#fb0000"/><stop offset="0.5094" stop-color="#ff3200"/><stop offset="0.5276" stop-color="#ff4d00"/><stop offset="0.5458" stop-color="#ff5c00"/><stop offset="0.5882" stop-color="#ff7200"/><stop offset="0.6034" stop-color="#ff8100"/><stop offset="0.6155" stop-color="#ff9700"/><stop offset="0.6428" stop-color="#ffdc00"/><stop offset="0.6671" stop-color="#ffff00"/><stop offset="0.6792" stop-color="#ffff0e"/><stop offset="0.6883" stop-color="#ffff12"/><stop offset="0.7004" stop-color="#ffff0e"/><stop offset="0.7126" stop-color="#ffff01"/><stop offset="0.7702" stop-color="#ffb900"/><stop offset="0.8065" stop-color="#ffa300"/><stop offset="0.8490" stop-color="#ff9e00"/><stop offset="0.9976" stop-color="#ff9d00"/></linearGradient><linearGradient id="g37" x2="0" y2="1"><stop offset="0.0000" stop-color="#ff9d00"/><stop offset="0.2547" stop-color="#ffa100"/><stop offset="0.2729" stop-color="#ffaa00"/><stop offset="0.2881" stop-color="#ffbb00"/><stop offset="0.3214" stop-color="#fffe00"/><stop offset="0.3335" stop-color="#ffff1f"/><stop offset="0.3457" stop-color="#ffff2e"/><stop offset="0.3578" stop-color="#ffff23"/><stop offset="0.3699" stop-color="#ffff02"/><stop offset="0.3790" stop-color="#ffe800"/><stop offset="0.3911" stop-color="#ffc100"/><stop offset="0.4275" stop-color="#ff3300"/><stop offset="0.4427" stop-color="#fd0000"/><stop offset="0.4548" stop-color="#de0000"/><stop offset="0.4669" stop-color="#d20000"/><stop offset="0.4791" stop-color="#e00000"/><stop offset="0.4912" stop-color="#ff0000"/><stop offset="0.5094" stop-color="#ff2f00"/><stop offset="0.5276" stop-color="#ff4c00"/><stop offset="0.5458" stop-color="#ff5c00"/><stop offset="0.5882" stop-color="#ff7200"/><stop offset="0.6034" stop-color="#ff8100"/><stop offset="0.6155" stop-color="#ff9700"/><stop offset="0.6428" stop-color="#ffdc00"/><stop offset="0.6671" stop-color="#ffff00"/><stop offset="0.6792" stop-color="#ffff0e"/><stop offset="0.6883" stop-color="#ffff12"/><stop offset="0.7004" stop-color="#ffff0e"/><stop offset="0.7126" stop-color="#ffff01"/><stop offset="0.7702" stop-color="#ffb900"/><stop offset="0.8065" stop-color="#ffa300"/><stop offset="0.8490" stop-color="#ff9e00"/><stop offset="0.9976" stop-color="#ff9d00"/></linearGradient><linearGradient id="g38" x2="0" y2="1"><stop offset="0.0000" stop-color="#ff9d00"/><stop offset="0.2547" stop-color="#ffa100"/><stop offset="0.2729" stop-color="#ffa900"/><stop offset="0.2881" stop-color="#ffba00"/><stop offset="0.3002" stop-color="#ffcf00"/><stop offset="0.3214" stop-color="#fffd00"/><stop offset="0.3366" stop-color="#ffff25"/><stop offset="0.3487" stop-color="#ffff2e"/><stop offset="0.3578" stop-color="#ffff25"/><stop offset="0.3699" stop-color="#ffff05"/><stop offset="0.3760" stop-color="#fff300"/><stop offset="0.3911" stop-color="#ffc300"/><stop offset="0.4306" stop-color="#ff2800"/><stop offset="0.4427" stop-color="#fc0000"/><stop offset="0.4548" stop-color="#db0000"/><stop offset="0.4669" stop-color="#ce0000"/><stop offset="0.4791" stop-color="#db0000"/><stop offset="0.4912" stop-color="#fa0000"/><stop offset="0.4942" stop-color="#ff0400"/><stop offset="0.5124" stop-color="#ff3300"/><stop offset="0.5276" stop-color="#ff4b00"/><stop offset="0.5458" stop-color="#ff5b00"/><stop offset="0.5882" stop-color="#ff7200"/><stop offset="0.6034" stop-color="#ff8100"/><stop offset="0.6155" stop-color="#ff9700"/><stop offset="0.6428" stop-color="#ffdc00"/><stop offset="0.6671" stop-color="#ffff00"/><stop offset="0.6792" stop-color="#ffff0e"/><stop offset="0.6883" stop-color="#ffff12"/><stop offset="0.7004" stop-color="#ffff0e"/><stop offset="0.7126" stop-color="#ffff01"/><stop offset="0.7702" stop-color="#ffb900"/><stop offset="0.8065" stop-color="#ffa300"/><stop offset="0.8490" stop-color="#ff9e00"/><stop offset="0.9976" stop-color="#ff9d00"/></linearGradient><linearGradient id="g39" x2="0" y2="1"><stop offset="0.0000" stop-color="#ff9d00"/><stop offset="0.2547" stop-color="#ffa000"/><stop offset="0.2729" stop-color="#ffa900"/><stop offset="0.2881" stop-color="#ffb900"/><stop offset="0.3002" stop-color="#ffce00"/><stop offset="0.3214" stop-color="#fffc00"/><stop offset="0.3366" stop-color="#ffff24"/><stop offset="0.3487" stop-color="#ffff2f"/><stop offset="0.3578" stop-color="#ffff27"/><stop offset="0.3699" stop-color="#ffff08"/><stop offset="0.3730" stop-color="#fffd00"/><stop offset="0.3911" stop-color="#ffc600"/><stop offset="0.4397" stop-color="#ff0600"/><stop offset="0.4427" stop-color="#fb0000"/><stop offset="0.4548" stop-color="#d80000"/><stop offset="0.4669" stop-color="#c90000"/><stop offset="0.4791" stop-color="#d50000"/><stop offset="0.4942" stop-color="#fe0000"/><stop offset="0.5124" stop-color="#ff3000"/><stop offset="0.5306" stop-color="#ff4e00"/><stop offset="0.5488" stop-color="#ff5d00"/><stop offset="0.5882" stop-color="#ff7200"/><stop offset="0.6034" stop-color="#ff8100"/><stop offset="0.6155" stop-color="#ff9800"/><stop offset="0.6428" stop-color="#ffdc00"/><stop offset="0.6671" stop-color="#ffff00"/><stop offset="0.6792" stop-color="#ffff0e"/><stop offset="0.6883" stop-color="#ffff12"/><stop offset="0.7004" stop-color="#ffff0e"/><stop offset="0.7126" stop-color="#ffff01"/><stop offset="0.7702" stop-color="#ffb900"/><stop offset="0.8065" stop-color="#ffa300"/><stop offset="0.8490" stop-color="#ff9e00"/><stop offset="0.9976" stop-color="#ff9d00"/></linearGradient><linearGradient id="g40" x2="0" y2="1"><stop offset="0.0000" stop-color="#ff9d00"/><stop offset="0.2547" stop-color="#ffa000"/><stop offset="0.2729" stop-color="#ffa900"/><stop offset="0.2881" stop-color="#ffb800"/><stop offset="0.3002" stop-color="#ffcd00"/><stop offset="0.3214" stop-color="#fffb00"/><stop offset="0.3366" stop-color="#ffff24"/><stop offset="0.3487" stop-color="#ffff30"/><stop offset="0.3608" stop-color="#ffff24"/><stop offset="0.3730" stop-color="#ffff00"/><stop offset="0.3851" stop-color="#ffdd00"/><stop offset="0.3972" stop-color="#ffb200"/><stop offset="0.4397" stop-color="#ff0600"/><stop offset="0.4427" stop-color="#fa0000"/><stop offset="0.4548" stop-color="#d50000"/><stop offset="0.4669" stop-color="#c40000"/><stop offset="0.4791" stop-color="#cf0000"/><stop offset="0.4942" stop-color="#f80000"/><stop offset="0.4973" stop-color="#ff0300"/><stop offset="0.5155" stop-color="#ff3400"/><stop offset="0.5306" stop-color="#ff4d00"/><stop offset="0.5488" stop-color="#ff5d00"/><stop offset="0.5882" stop-color="#ff7200"/><stop offset="0.6034" stop-color="#ff8200"/><stop offset="0.6155" stop-color="#ff9800"/><stop offset="0.6428" stop-color="#ffdc00"/><stop offset="0.6671" stop-color="#ffff00"/><stop offset="0.6792" stop-color="#ffff0e"/><stop offset="0.6883" stop-color="#ffff12"/><stop offset="0.7004" stop-color="#ffff0e"/><stop offset="0.7126" stop-color="#ffff01"/><stop offset="0.7702" stop-color="#ffb900"/><stop offset="0.8065" stop-color="#ffa300"/><stop offset="0.8490" stop-color="#ff9e00"/><stop offset="0.9976" stop-color="#ff9d00"/></linearGradient><linearGradient id="g41" x2="0" y2="1"><stop offset="0.0000" stop-color="#ff9d00"/><stop offset="0.2577" stop-color="#ffa100"/><stop offset="0.2729" stop-color="#ffa800"/><stop offset="0.2881" stop-color="#ffb700"/><stop offset="0.3032" stop-color="#ffd100"/><stop offset="0.3214" stop-color="#fffa00"/><stop offset="0.3244" stop-color="#ffff02"/><stop offset="0.3396" stop-color="#ffff29"/><stop offset="0.3487" stop-color="#ffff31"/><stop offset="0.3608" stop-color="#ffff26"/><stop offset="0.3730" stop-color="#ffff04"/><stop offset="0.3820" stop-color="#ffe900"/><stop offset="0.3972" stop-color="#ffb500"/><stop offset="0.4397" stop-color="#ff0500"/><stop offset="0.4427" stop-color="#f90000"/><stop offset="0.4579" stop-color="#cb0000"/><stop offset="0.4700" stop-color="#bf0000"/><stop offset="0.4821" stop-color="#cf0000"/><stop offset="0.4973" stop-color="#fd0000"/><stop offset="0.5155" stop-color="#ff3200"/><stop offset="0.5306" stop-color="#ff4c00"/><stop offset="0.5488" stop-color="#ff5c00"/><stop offset="0.5913" stop-color="#ff7500"/><stop offset="0.6064" stop-color="#ff8600"/><stop offset="0.6155" stop-color="#ff9800"/><stop offset="0.6428" stop-color="#ffdc00"/><stop offset="0.6671" stop-color="#ffff00"/><stop offset="0.6792" stop-color="#ffff0e"/><stop offset="0.6883" stop-color="#ffff12"/><stop offset="0.7004" stop-color="#ffff0e"/><stop offset="0.7126" stop-color="#ffff01"/><stop offset="0.7702" stop-color="#ffb900"/><stop offset="0.8065" stop-color="#ffa300"/><stop offset="0.8490" stop-color="#ff9e00"/><stop offset="0.9976" stop-color="#ff9d00"/></linearGradient><linearGradient id="g42" x2="0" y2="1"><stop offset="0.0000" stop-color="#ff9d00"/><stop offset="0.2577" stop-color="#ffa100"/><stop offset="0.2759" stop-color="#ffaa00"/><stop offset="0.2911" stop-color="#ffbb00"/><stop offset="0.3244" stop-color="#ffff01"/><stop offset="0.3366" stop-color="#ffff22"/><stop offset="0.3487" stop-color="#ffff32"/><stop offset="0.3608" stop-color="#ffff28"/><stop offset="0.3730" stop-color="#ffff07"/><stop offset="0.3760" stop-color="#fffc00"/><stop offset="0.3820" stop-color="#ffeb00"/><stop offset="0.3972" stop-color="#ffb700"/><stop offset="0.4397" stop-color="#ff0500"/><stop offset="0.4427" stop-color="#f80000"/><stop offset="0.4579" stop-color="#c70000"/><stop offset="0.4639" stop-color="#bd0000"/><stop offset="0.4700" stop-color="#ba0000"/><stop offset="0.4821" stop-color="#c90000"/><stop offset="0.4973" stop-color="#f70000"/><stop offset="0.5003" stop-color="#ff0300"/><stop offset="0.5185" stop-color="#ff3600"/><stop offset="0.5337" stop-color="#ff4e00"/><stop offset="0.5488" stop-color="#ff5c00"/><stop offset="0.5882" stop-color="#ff7300"/><stop offset="0.6064" stop-color="#ff8600"/><stop offset="0.6155" stop-color="#ff9800"/><stop offset="0.6428" stop-color="#ffdc00"/><stop offset="0.6671" stop-color="#ffff00"/><stop offset="0.6792" stop-color="#ffff0e"/><stop offset="0.6883" stop-color="#ffff12"/><stop offset="0.7004" stop-color="#ffff0e"/><stop offset="0.7126" stop-color="#ffff01"/><stop offset="0.7702" stop-color="#ffb900"/><stop offset="0.8065" stop-color="#ffa300"/><stop offset="0.8490" stop-color="#ff9e00"/><stop offset="0.9976" stop-color="#ff9d00"/></linearGradient><linearGradient id="g43" x2="0" y2="1"><stop offset="0.0000" stop-color="#ff9d00"/><stop offset="0.2577" stop-color="#ffa100"/><stop offset="0.2759" stop-color="#ffaa00"/><stop offset="0.2911" stop-color="#ffba00"/><stop offset="0.3032" stop-color="#ffcf00"/><stop offset="0.3244" stop-color="#ffff00"/><stop offset="0.3396" stop-color="#ffff28"/><stop offset="0.3517" stop-color="#ffff33"/><stop offset="0.3639" stop-color="#ffff24"/><stop offset="0.3760" stop-color="#fffe00"/><stop offset="0.3881" stop-color="#ffda00"/><stop offset="0.4002" stop-color="#ffae00"/><stop offset="0.4397" stop-color="#ff0400"/><stop offset="0.4427" stop-color="#f70000"/><stop offset="0.4579" stop-color="#c40000"/><stop offset="0.4639" stop-color="#b90000"/><stop offset="0.4700" stop-color="#b40000"/><stop offset="0.4760" stop-color="#b80000"/><stop offset="0.4821" stop-color="#c30000"/><stop offset="0.5003" stop-color="#fc0000"/><stop offset="0.5185" stop-color="#ff3300"/><stop offset="0.5337" stop-color="#ff4d00"/><stop offset="0.5488" stop-color="#ff5c00"/><stop offset="0.5913" stop-color="#ff7500"/><stop offset="0.6064" stop-color="#ff8700"/><stop offset="0.6155" stop-color="#ff9800"/><stop offset="0.6428" stop-color="#ffdc00"/><stop offset="0.6671" stop-color="#ffff01"/><stop offset="0.6792" stop-color="#ffff0e"/><stop offset="0.6883" stop-color="#ffff12"/><stop offset="0.7004" stop-color="#ffff0e"/><stop offset="0.7126" stop-color="#ffff01"/><stop offset="0.7702" stop-color="#ffb900"/><stop offset="0.8065" stop-color="#ffa300"/><stop offset="0.8490" stop-color="#ff9e00"/><stop offset="0.9976" stop-color="#ff9d00"/></linearGradient><linearGradient id="g44" x2="0" y2="1"><stop offset="0.0000" stop-color="#ff9d00"/><stop offset="0.2577" stop-color="#ffa100"/><stop offset="0.2759" stop-color="#ffa900"/><stop offset="0.2911" stop-color="#ffb900"/><stop offset="0.3032" stop-color="#ffce00"/><stop offset="0.3244" stop-color="#fffd00"/><stop offset="0.3396" stop-color="#ffff27"/><stop offset="0.3517" stop-color="#ffff33"/><stop offset="0.3639" stop-color="#ffff26"/><stop offset="0.3760" stop-color="#ffff02"/><stop offset="0.3881" stop-color="#ffdd00"/><stop offset="0.4002" stop-color="#ffb100"/><stop offset="0.4397" stop-color="#ff0400"/><stop offset="0.4579" stop-color="#c10000"/><stop offset="0.4639" stop-color="#b40000"/><stop offset="0.4700" stop-color="#af0000"/><stop offset="0.4760" stop-color="#b20000"/><stop offset="0.4821" stop-color="#bc0000"/><stop offset="0.5003" stop-color="#f70000"/><stop offset="0.5033" stop-color="#ff0200"/><stop offset="0.5185" stop-color="#ff3000"/><stop offset="0.5337" stop-color="#ff4c00"/><stop offset="0.5518" stop-color="#ff5e00"/><stop offset="0.5913" stop-color="#ff7500"/><stop offset="0.6064" stop-color="#ff8700"/><stop offset="0.6155" stop-color="#ff9800"/><stop offset="0.6428" stop-color="#ffdc00"/><stop offset="0.6671" stop-color="#ffff01"/><stop offset="0.6792" stop-color="#ffff0e"/><stop offset="0.6883" stop-color="#ffff12"/><stop offset="0.7004" stop-color="#ffff0e"/><stop offset="0.7126" stop-color="#ffff01"/><stop offset="0.7702" stop-color="#ffb900"/><stop offset="0.8065" stop-color="#ffa300"/><stop offset="0.8490" stop-color="#ff9e00"/><stop offset="0.9976" stop-color="#ff9d00"/></linearGradient><linearGradient id="g45" x2="0" y2="1"><stop offset="0.0000" stop-color="#ff9d00"/><stop offset="0.2577" stop-color="#ffa000"/><stop offset="0.2759" stop-color="#ffa900"/><stop offset="0.2911" stop-color="#ffb900"/><stop offset="0.3062" stop-color="#ffd300"/><stop offset="0.3244" stop-color="#fffc00"/><stop offset="0.3396" stop-color="#ffff27"/><stop offset="0.3517" stop-color="#ffff34"/><stop offset="0.3639" stop-color="#ffff29"/><stop offset="0.3760" stop-color="#ffff05"/><stop offset="0.3790" stop-color="#fffb00"/><stop offset="0.3851" stop-color="#ffe900"/><stop offset="0.4002" stop-color="#ffb400"/><stop offset="0.4397" stop-color="#ff0400"/><stop offset="0.4579" stop-color="#be0000"/><stop offset="0.4669" stop-color="#ac0000"/><stop offset="0.4730" stop-color="#a90000"/><stop offset="0.4791" stop-color="#af0000"/><stop offset="0.4851" stop-color="#bd0000"/><stop offset="0.5033" stop-color="#fc0000"/><stop offset="0.5185" stop-color="#ff2d00"/><stop offset="0.5306" stop-color="#ff4600"/><stop offset="0.5488" stop-color="#ff5b00"/><stop offset="0.5882" stop-color="#ff7300"/><stop offset="0.6034" stop-color="#ff8200"/><stop offset="0.6155" stop-color="#ff9900"/><stop offset="0.6428" stop-color="#ffdc00"/><stop offset="0.6671" stop-color="#ffff01"/><stop offset="0.6792" stop-color="#ffff0e"/><stop offset="0.6883" stop-color="#ffff12"/><stop offset="0.7004" stop-color="#ffff0e"/><stop offset="0.7126" stop-color="#ffff01"/><stop offset="0.7702" stop-color="#ffb900"/><stop offset="0.8065" stop-color="#ffa300"/><stop offset="0.8490" stop-color="#ff9e00"/><stop offset="0.9976" stop-color="#ff9d00"/></linearGradient><linearGradient id="g46" x2="0" y2="1"><stop offset="0.0000" stop-color="#ff9d00"/><stop offset="0.2577" stop-color="#ffa000"/><stop offset="0.2759" stop-color="#ffa800"/><stop offset="0.2911" stop-color="#ffb800"/><stop offset="0.3062" stop-color="#ffd200"/><stop offset="0.3244" stop-color="#fffb00"/><stop offset="0.3396" stop-color="#ffff26"/><stop offset="0.3517" stop-color="#ffff35"/><stop offset="0.3639" stop-color="#ffff2b"/><stop offset="0.3760" stop-color="#ffff09"/><stop offset="0.3790" stop-color="#fffd00"/><stop offset="0.3851" stop-color="#ffec00"/><stop offset="0.4002" stop-color="#ffb700"/><stop offset="0.4397" stop-color="#ff0400"/><stop offset="0.4579" stop-color="#ba0000"/><stop offset="0.4669" stop-color="#a70000"/><stop offset="0.4730" stop-color="#a30000"/><stop offset="0.4791" stop-color="#a90000"/><stop offset="0.4851" stop-color="#b60000"/><stop offset="0.5033" stop-color="#f60000"/><stop offset="0.5064" stop-color="#ff0300"/><stop offset="0.5185" stop-color="#ff2a00"/><stop offset="0.5337" stop-color="#ff4900"/><stop offset="0.5488" stop-color="#ff5a00"/><stop offset="0.5882" stop-color="#ff7300"/><stop offset="0.6034" stop-color="#ff8300"/><stop offset="0.6155" stop-color="#ff9900"/><stop offset="0.6428" stop-color="#ffdc00"/><stop offset="0.6671" stop-color="#ffff01"/><stop offset="0.6792" stop-color="#ffff0e"/><stop offset="0.6883" stop-color="#ffff12"/><stop offset="0.7004" stop-color="#ffff0e"/><stop offset="0.7126" stop-color="#ffff00"/><stop offset="0.7671" stop-color="#ffbc00"/><stop offset="0.7853" stop-color="#ffad00"/><stop offset="0.8065" stop-color="#ffa300"/><stop offset="0.8490" stop-color="#ff9e00"/><stop offset="0.9976" stop-color="#ff9d00"/></linearGradient><linearGradient id="g47" x2="0" y2="1"><stop offset="0.0000" stop-color="#ff9d00"/><stop offset="0.2608" stop-color="#ffa100"/><stop offset="0.2759" stop-color="#ffa800"/><stop offset="0.2911" stop-color="#ffb700"/><stop offset="0.3062" stop-color="#ffd100"/><stop offset="0.3244" stop-color="#fffa00"/><stop offset="0.3275" stop-color="#ffff03"/><stop offset="0.3426" stop-color="#ffff2c"/><stop offset="0.3548" stop-color="#ffff36"/><stop offset="0.3669" stop-color="#ffff27"/><stop offset="0.3790" stop-color="#ffff01"/><stop offset="0.3911" stop-color="#ffdb00"/><stop offset="0.4033" stop-color="#ffad00"/><stop offset="0.4397" stop-color="#ff0400"/><stop offset="0.4579" stop-color="#b70000"/><stop offset="0.4669" stop-color="#a20000"/><stop offset="0.4730" stop-color="#9e0000"/><stop offset="0.4791" stop-color="#a20000"/><stop offset="0.4851" stop-color="#ae0000"/><stop offset="0.5064" stop-color="#fc0000"/><stop offset="0.5215" stop-color="#ff2e00"/><stop offset="0.5337" stop-color="#ff4800"/><stop offset="0.5488" stop-color="#ff5a00"/><stop offset="0.5882" stop-color="#ff7300"/><stop offset="0.6034" stop-color="#ff8300"/><stop offset="0.6155" stop-color="#ff9900"/><stop offset="0.6428" stop-color="#ffdc00"/><stop offset="0.6671" stop-color="#ffff01"/><stop offset="0.6792" stop-color="#ffff0e"/><stop offset="0.6883" stop-color="#ffff12"/><stop offset="0.7004" stop-color="#ffff0e"/><stop offset="0.7126" stop-color="#ffff00"/><stop offset="0.7671" stop-color="#ffbc00"/><stop offset="0.7853" stop-color="#ffad00"/><stop offset="0.8065" stop-color="#ffa300"/><stop offset="0.8490" stop-color="#ff9e00"/><stop offset="0.9976" stop-color="#ff9d00"/></linearGradient><linearGradient id="g48" x2="0" y2="1"><stop offset="0.0000" stop-color="#ff9d00"/><stop offset="0.2608" stop-color="#ffa100"/><stop offset="0.2790" stop-color="#ffaa00"/><stop offset="0.2941" stop-color="#ffba00"/><stop offset="0.3062" stop-color="#ffd000"/><stop offset="0.3275" stop-color="#ffff01"/><stop offset="0.3426" stop-color="#ffff2b"/><stop offset="0.3548" stop-color="#ffff37"/><stop offset="0.3669" stop-color="#ffff29"/><stop offset="0.3790" stop-color="#ffff04"/><stop offset="0.3881" stop-color="#ffe700"/><stop offset="0.4033" stop-color="#ffb000"/><stop offset="0.4154" stop-color="#ff7a00"/><stop offset="0.4397" stop-color="#ff0400"/><stop offset="0.4548" stop-color="#bf0000"/><stop offset="0.4609" stop-color="#ab0000"/><stop offset="0.4669" stop-color="#9d0000"/><stop offset="0.4730" stop-color="#980000"/><stop offset="0.4791" stop-color="#9b0000"/><stop offset="0.4851" stop-color="#a70000"/><stop offset="0.4942" stop-color="#c50000"/><stop offset="0.5064" stop-color="#f60000"/><stop offset="0.5094" stop-color="#ff0300"/><stop offset="0.5215" stop-color="#ff2b00"/><stop offset="0.5367" stop-color="#ff4b00"/><stop offset="0.5518" stop-color="#ff5c00"/><stop offset="0.5882" stop-color="#ff7400"/><stop offset="0.6034" stop-color="#ff8300"/><stop offset="0.6155" stop-color="#ff9900"/><stop offset="0.6428" stop-color="#ffdc00"/><stop offset="0.6671" stop-color="#ffff01"/><stop offset="0.6792" stop-color="#ffff0e"/><stop offset="0.6883" stop-color="#ffff12"/><stop offset="0.7004" stop-color="#ffff0e"/><stop offset="0.7126" stop-color="#ffff00"/><stop offset="0.7671" stop-color="#ffbc00"/><stop offset="0.7853" stop-color="#ffad00"/><stop offset="0.8065" stop-color="#ffa300"/><stop offset="0.8490" stop-color="#ff9e00"/><stop offset="0.9976" stop-color="#ff9d00"/></linearGradient><linearGradient id="g49" x2="0" y2="1"><stop offset="0.0000" stop-color="#ff9d00"/><stop offset="0.2608" stop-color="#ffa100"/><stop offset="0.2790" stop-color="#ffa900"/><stop offset="0.2941" stop-color="#ffba00"/><stop offset="0.3062" stop-color="#ffcf00"/><stop offset="0.3275" stop-color="#ffff00"/><stop offset="0.3426" stop-color="#ffff2b"/><stop offset="0.3548" stop-color="#ffff38"/><stop offset="0.3669" stop-color="#ffff2c"/><stop offset="0.3790" stop-color="#ffff07"/><stop offset="0.3820" stop-color="#fffc00"/><stop offset="0.3881" stop-color="#ffea00"/><stop offset="0.4033" stop-color="#ffb300"/><stop offset="0.4154" stop-color="#ff7d00"/><stop offset="0.4397" stop-color="#ff0400"/><stop offset="0.4427" stop-color="#f40000"/><stop offset="0.4518" stop-color="#ca0000"/><stop offset="0.4609" stop-color="#a80000"/><stop offset="0.4669" stop-color="#990000"/><stop offset="0.4730" stop-color="#920000"/><stop offset="0.4791" stop-color="#940000"/><stop offset="0.4882" stop-color="#a80000"/><stop offset="0.5094" stop-color="#fc0000"/><stop offset="0.5246" stop-color="#ff3000"/><stop offset="0.5367" stop-color="#ff4900"/><stop offset="0.5518" stop-color="#ff5b00"/><stop offset="0.5882" stop-color="#ff7400"/><stop offset="0.6034" stop-color="#ff8300"/><stop offset="0.6155" stop-color="#ff9900"/><stop offset="0.6428" stop-color="#ffdc00"/><stop offset="0.6671" stop-color="#ffff01"/><stop offset="0.6792" stop-color="#ffff0e"/><stop offset="0.6883" stop-color="#ffff12"/><stop offset="0.7004" stop-color="#ffff0e"/><stop offset="0.7126" stop-color="#ffff00"/><stop offset="0.7671" stop-color="#ffbc00"/><stop offset="0.7853" stop-color="#ffad00"/><stop offset="0.8065" stop-color="#ffa300"/><stop offset="0.8490" stop-color="#ff9e00"/><stop offset="0.9976" stop-color="#ff9d00"/></linearGradient><linearGradient id="g50" x2="0" y2="1"><stop offset="0.0000" stop-color="#ff9d00"/><stop offset="0.2608" stop-color="#ffa000"/><stop offset="0.2790" stop-color="#ffa900"/><stop offset="0.2941" stop-color="#ffb900"/><stop offset="0.3093" stop-color="#ffd400"/><stop offset="0.3275" stop-color="#fffe00"/><stop offset="0.3426" stop-color="#ffff2a"/><stop offset="0.3548" stop-color="#ffff39"/><stop offset="0.3669" stop-color="#ffff2e"/><stop offset="0.3730" stop-color="#ffff1f"/><stop offset="0.3820" stop-color="#fffe00"/><stop offset="0.3942" stop-color="#ffd800"/><stop offset="0.4063" stop-color="#ffa900"/><stop offset="0.4184" stop-color="#ff7100"/><stop offset="0.4397" stop-color="#ff0500"/><stop offset="0.4427" stop-color="#f40000"/><stop offset="0.4518" stop-color="#c80000"/><stop offset="0.4609" stop-color="#a40000"/><stop offset="0.4700" stop-color="#8f0000"/><stop offset="0.4760" stop-color="#8c0000"/><stop offset="0.4821" stop-color="#920000"/><stop offset="0.4882" stop-color="#a00000"/><stop offset="0.5094" stop-color="#f60000"/><stop offset="0.5124" stop-color="#ff0300"/><stop offset="0.5246" stop-color="#ff2d00"/><stop offset="0.5367" stop-color="#ff4800"/><stop offset="0.5518" stop-color="#ff5b00"/><stop offset="0.5882" stop-color="#ff7400"/><stop offset="0.6034" stop-color="#ff8300"/><stop offset="0.6155" stop-color="#ff9900"/><stop offset="0.6428" stop-color="#ffdd00"/><stop offset="0.6671" stop-color="#ffff01"/><stop offset="0.6792" stop-color="#ffff0e"/><stop offset="0.6883" stop-color="#ffff12"/><stop offset="0.7004" stop-color="#ffff0e"/><stop offset="0.7126" stop-color="#ffff00"/><stop offset="0.7671" stop-color="#ffbc00"/><stop offset="0.7853" stop-color="#ffad00"/><stop offset="0.8065" stop-color="#ffa300"/><stop offset="0.8490" stop-color="#ff9e00"/><stop offset="0.9976" stop-color="#ff9d00"/></linearGradient><linearGradient id="g51" x2="0" y2="1"><stop offset="0.0000" stop-color="#ff9d00"/><stop offset="0.2608" stop-color="#ffa000"/><stop offset="0.2790" stop-color="#ffa800"/><stop offset="0.2941" stop-color="#ffb800"/><stop offset="0.3093" stop-color="#ffd200"/><stop offset="0.3275" stop-color="#fffc00"/><stop offset="0.3457" stop-color="#ffff30"/><stop offset="0.3578" stop-color="#ffff3a"/><stop offset="0.3699" stop-color="#ffff2a"/><stop offset="0.3820" stop-color="#ffff03"/><stop offset="0.3942" stop-color="#ffdb00"/><stop offset="0.4063" stop-color="#ffac00"/><stop offset="0.4184" stop-color="#ff7300"/><stop offset="0.4397" stop-color="#ff0500"/><stop offset="0.4427" stop-color="#f40000"/><stop offset="0.4518" stop-color="#c70000"/><stop offset="0.4609" stop-color="#a10000"/><stop offset="0.4700" stop-color="#8a0000"/><stop offset="0.4760" stop-color="#850000"/><stop offset="0.4821" stop-color="#8a0000"/><stop offset="0.4912" stop-color="#a20000"/><stop offset="0.5124" stop-color="#fd0000"/><stop offset="0.5276" stop-color="#ff3200"/><stop offset="0.5397" stop-color="#ff4b00"/><stop offset="0.5549" stop-color="#ff5d00"/><stop offset="0.5882" stop-color="#ff7400"/><stop offset="0.6034" stop-color="#ff8400"/><stop offset="0.6155" stop-color="#ff9a00"/><stop offset="0.6428" stop-color="#ffdd00"/><stop offset="0.6671" stop-color="#ffff01"/><stop offset="0.6792" stop-color="#ffff0e"/><stop offset="0.6883" stop-color="#ffff12"/><stop offset="0.7004" stop-color="#ffff0e"/><stop offset="0.7126" stop-color="#ffff00"/><stop offset="0.7671" stop-color="#ffbc00"/><stop offset="0.7853" stop-color="#ffad00"/><stop offset="0.8065" stop-color="#ffa300"/><stop offset="0.8490" stop-color="#ff9e00"/><stop offset="0.9976" stop-color="#ff9d00"/></linearGradient><linearGradient id="g52" x2="0" y2="1"><stop offset="0.0000" stop-color="#ff9d00"/><stop offset="0.2638" stop-color="#ffa100"/><stop offset="0.2790" stop-color="#ffa800"/><stop offset="0.2941" stop-color="#ffb700"/><stop offset="0.3093" stop-color="#ffd100"/><stop offset="0.3275" stop-color="#fffb00"/><stop offset="0.3457" stop-color="#ffff2f"/><stop offset="0.3578" stop-color="#ffff3b"/><stop offset="0.3699" stop-color="#ffff2c"/><stop offset="0.3820" stop-color="#ffff06"/><stop offset="0.3851" stop-color="#fffb00"/><stop offset="0.3911" stop-color="#ffe800"/><stop offset="0.4063" stop-color="#ffaf00"/><stop offset="0.4184" stop-color="#ff7600"/><stop offset="0.4397" stop-color="#ff0600"/><stop offset="0.4427" stop-color="#f40000"/><stop offset="0.4518" stop-color="#c60000"/><stop offset="0.4609" stop-color="#9e0000"/><stop offset="0.4700" stop-color="#850000"/><stop offset="0.4760" stop-color="#7f0000"/><stop offset="0.4821" stop-color="#830000"/><stop offset="0.4912" stop-color="#9a0000"/><stop offset="0.5124" stop-color="#f60000"/><stop offset="0.5155" stop-color="#ff0400"/><stop offset="0.5276" stop-color="#ff2e00"/><stop offset="0.5397" stop-color="#ff4900"/><stop offset="0.5549" stop-color="#ff5c00"/><stop offset="0.6034" stop-color="#ff8400"/><stop offset="0.6155" stop-color="#ff9a00"/><stop offset="0.6428" stop-color="#ffdd00"/><stop offset="0.6671" stop-color="#ffff01"/><stop offset="0.6792" stop-color="#ffff0e"/><stop offset="0.6883" stop-color="#ffff12"/><stop offset="0.7004" stop-color="#ffff0e"/><stop offset="0.7126" stop-color="#ffff00"/><stop offset="0.7671" stop-color="#ffbc00"/><stop offset="0.7853" stop-color="#ffad00"/><stop offset="0.8065" stop-color="#ffa300"/><stop offset="0.8490" stop-color="#ff9e00"/><stop offset="0.9976" stop-color="#ff9d00"/></linearGradient><linearGradient id="g53" x2="0" y2="1"><stop offset="0.0000" stop-color="#ff9d00"/><stop offset="0.2638" stop-color="#ffa100"/><stop offset="0.2820" stop-color="#ffaa00"/><stop offset="0.2971" stop-color="#ffba00"/><stop offset="0.3093" stop-color="#ffd000"/><stop offset="0.3275" stop-color="#fffa00"/><stop offset="0.3305" stop-color="#ffff03"/><stop offset="0.3457" stop-color="#ffff2f"/><stop offset="0.3578" stop-color="#ffff3c"/><stop offset="0.3699" stop-color="#ffff2f"/><stop offset="0.3820" stop-color="#ffff0a"/><stop offset="0.3851" stop-color="#fffd00"/><stop offset="0.3911" stop-color="#ffeb00"/><stop offset="0.4063" stop-color="#ffb200"/><stop offset="0.4184" stop-color="#ff7900"/><stop offset="0.4397" stop-color="#ff0600"/><stop offset="0.4427" stop-color="#f50000"/><stop offset="0.4548" stop-color="#b60000"/><stop offset="0.4639" stop-color="#900000"/><stop offset="0.4730" stop-color="#7b0000"/><stop offset="0.4791" stop-color="#790000"/><stop offset="0.4851" stop-color="#810000"/><stop offset="0.4912" stop-color="#920000"/><stop offset="0.5155" stop-color="#fd0000"/><stop offset="0.5306" stop-color="#ff3300"/><stop offset="0.5428" stop-color="#ff4d00"/><stop offset="0.5579" stop-color="#ff5f00"/><stop offset="0.6034" stop-color="#ff8400"/><stop offset="0.6155" stop-color="#ff9a00"/><stop offset="0.6428" stop-color="#ffdd00"/><stop offset="0.6671" stop-color="#ffff01"/><stop offset="0.6792" stop-color="#ffff0e"/><stop offset="0.6883" stop-color="#ffff12"/><stop offset="0.7004" stop-color="#ffff0e"/><stop offset="0.7126" stop-color="#ffff00"/><stop offset="0.7671" stop-color="#ffbc00"/><stop offset="0.7853" stop-color="#ffad00"/><stop offset="0.8065" stop-color="#ffa300"/><stop offset="0.8490" stop-color="#ff9e00"/><stop offset="0.9976" stop-color="#ff9d00"/></linearGradient><linearGradient id="g54" x2="0" y2="1"><stop offset="0.0000" stop-color="#ff9d00"/><stop offset="0.2638" stop-color="#ffa100"/><stop offset="0.2820" stop-color="#ffa900"/><stop offset="0.2971" stop-color="#ffba00"/><stop offset="0.3093" stop-color="#ffcf00"/><stop offset="0.3305" stop-color="#ffff01"/><stop offset="0.3457" stop-color="#ffff2e"/><stop offset="0.3578" stop-color="#ffff3d"/><stop offset="0.3699" stop-color="#ffff31"/><stop offset="0.3760" stop-color="#ffff22"/><stop offset="0.3851" stop-color="#ffff01"/><stop offset="0.3972" stop-color="#ffd900"/><stop offset="0.4093" stop-color="#ffa700"/><stop offset="0.4215" stop-color="#ff6c00"/><stop offset="0.4397" stop-color="#ff0700"/><stop offset="0.4427" stop-color="#f50000"/><stop offset="0.4548" stop-color="#b40000"/><stop offset="0.4639" stop-color="#8d0000"/><stop offset="0.4730" stop-color="#760000"/><stop offset="0.4791" stop-color="#730000"/><stop offset="0.4851" stop-color="#790000"/><stop offset="0.4912" stop-color="#8a0000"/><stop offset="0.5003" stop-color="#af0000"/><stop offset="0.5155" stop-color="#f70000"/><stop offset="0.5185" stop-color="#ff0500"/><stop offset="0.5306" stop-color="#ff3000"/><stop offset="0.5428" stop-color="#ff4b00"/><stop offset="0.5579" stop-color="#ff5e00"/><stop offset="0.6034" stop-color="#ff8400"/><stop offset="0.6155" stop-color="#ff9a00"/><stop offset="0.6428" stop-color="#ffdd00"/><stop offset="0.6671" stop-color="#ffff01"/><stop offset="0.6792" stop-color="#ffff0e"/><stop offset="0.6883" stop-color="#ffff12"/><stop offset="0.7004" stop-color="#ffff0e"/><stop offset="0.7126" stop-color="#ffff00"/><stop offset="0.7671" stop-color="#ffbc00"/><stop offset="0.7853" stop-color="#ffad00"/><stop offset="0.8065" stop-color="#ffa300"/><stop offset="0.8490" stop-color="#ff9e00"/><stop offset="0.9976" stop-color="#ff9d00"/></linearGradient><linearGradient id="g55" x2="0" y2="1"><stop offset="0.0000" stop-color="#ff9d00"/><stop offset="0.2638" stop-color="#ffa000"/><stop offset="0.2820" stop-color="#ffa900"/><stop offset="0.2971" stop-color="#ffb900"/><stop offset="0.3123" stop-color="#ffd400"/><stop offset="0.3305" stop-color="#ffff00"/><stop offset="0.3457" stop-color="#ffff2d"/><stop offset="0.3578" stop-color="#ffff3d"/><stop offset="0.3699" stop-color="#ffff34"/><stop offset="0.3760" stop-color="#ffff25"/><stop offset="0.3851" stop-color="#ffff05"/><stop offset="0.3942" stop-color="#ffe600"/><stop offset="0.4093" stop-color="#ffaa00"/><stop offset="0.4215" stop-color="#ff6e00"/><stop offset="0.4397" stop-color="#ff0800"/><stop offset="0.4427" stop-color="#f60000"/><stop offset="0.4548" stop-color="#b30000"/><stop offset="0.4639" stop-color="#8a0000"/><stop offset="0.4730" stop-color="#710000"/><stop offset="0.4791" stop-color="#6c0000"/><stop offset="0.4851" stop-color="#720000"/><stop offset="0.4942" stop-color="#8c0000"/><stop offset="0.5185" stop-color="#fe0000"/><stop offset="0.5306" stop-color="#ff2c00"/><stop offset="0.5428" stop-color="#ff4900"/><stop offset="0.5579" stop-color="#ff5d00"/><stop offset="0.6034" stop-color="#ff8400"/><stop offset="0.6155" stop-color="#ff9a00"/><stop offset="0.6428" stop-color="#ffdd00"/><stop offset="0.6671" stop-color="#ffff01"/><stop offset="0.6792" stop-color="#ffff0e"/><stop offset="0.6883" stop-color="#ffff12"/><stop offset="0.7004" stop-color="#ffff0e"/><stop offset="0.7126" stop-color="#ffff00"/><stop offset="0.7671" stop-color="#ffbc00"/><stop offset="0.7853" stop-color="#ffad00"/><stop offset="0.8065" stop-color="#ffa300"/><stop offset="0.8490" stop-color="#ff9e00"/><stop offset="0.9976" stop-color="#ff9d00"/></linearGradient><linearGradient id="g56" x2="0" y2="1"><stop offset="0.0000" stop-color="#ff9d00"/><stop offset="0.2638" stop-color="#ffa000"/><stop offset="0.2820" stop-color="#ffa800"/><stop offset="0.2971" stop-color="#ffb800"/><stop offset="0.3123" stop-color="#ffd300"/><stop offset="0.3305" stop-color="#fffd00"/><stop offset="0.3487" stop-color="#ffff33"/><stop offset="0.3608" stop-color="#ffff3f"/><stop offset="0.3730" stop-color="#ffff30"/><stop offset="0.3851" stop-color="#ffff09"/><stop offset="0.3881" stop-color="#fffc00"/><stop offset="0.3942" stop-color="#ffe900"/><stop offset="0.4093" stop-color="#ffad00"/><stop offset="0.4215" stop-color="#ff7100"/><stop offset="0.4397" stop-color="#ff0a00"/><stop offset="0.4427" stop-color="#f70000"/><stop offset="0.4548" stop-color="#b20000"/><stop offset="0.4639" stop-color="#870000"/><stop offset="0.4730" stop-color="#6c0000"/><stop offset="0.4791" stop-color="#660000"/><stop offset="0.4851" stop-color="#6a0000"/><stop offset="0.4942" stop-color="#840000"/><stop offset="0.5185" stop-color="#f80000"/><stop offset="0.5215" stop-color="#ff0600"/><stop offset="0.5337" stop-color="#ff3200"/><stop offset="0.5458" stop-color="#ff4d00"/><stop offset="0.5609" stop-color="#ff6000"/><stop offset="0.6034" stop-color="#ff8400"/><stop offset="0.6155" stop-color="#ff9a00"/><stop offset="0.6428" stop-color="#ffdd00"/><stop offset="0.6671" stop-color="#ffff01"/><stop offset="0.6792" stop-color="#ffff0e"/><stop offset="0.6883" stop-color="#ffff12"/><stop offset="0.7004" stop-color="#ffff0e"/><stop offset="0.7126" stop-color="#ffff00"/><stop offset="0.7671" stop-color="#ffbb00"/><stop offset="0.7853" stop-color="#ffad00"/><stop offset="0.8065" stop-color="#ffa300"/><stop offset="0.8490" stop-color="#ff9e00"/><stop offset="0.9976" stop-color="#ff9d00"/></linearGradient><linearGradient id="g57" x2="0" y2="1"><stop offset="0.0000" stop-color="#ff9d00"/><stop offset="0.2668" stop-color="#ffa100"/><stop offset="0.2820" stop-color="#ffa800"/><stop offset="0.2971" stop-color="#ffb700"/><stop offset="0.3123" stop-color="#ffd100"/><stop offset="0.3305" stop-color="#fffc00"/><stop offset="0.3487" stop-color="#ffff32"/><stop offset="0.3608" stop-color="#ffff40"/><stop offset="0.3730" stop-color="#ffff33"/><stop offset="0.3790" stop-color="#ffff22"/><stop offset="0.3881" stop-color="#ffff00"/><stop offset="0.4002" stop-color="#ffd600"/><stop offset="0.4124" stop-color="#ffa200"/><stop offset="0.4245" stop-color="#ff6300"/><stop offset="0.4397" stop-color="#ff0b00"/><stop offset="0.4427" stop-color="#f80000"/><stop offset="0.4548" stop-color="#b10000"/><stop offset="0.4639" stop-color="#840000"/><stop offset="0.4730" stop-color="#670000"/><stop offset="0.4791" stop-color="#600000"/><stop offset="0.4851" stop-color="#630000"/><stop offset="0.4942" stop-color="#7b0000"/><stop offset="0.5215" stop-color="#ff0000"/><stop offset="0.5337" stop-color="#ff2e00"/><stop offset="0.5458" stop-color="#ff4b00"/><stop offset="0.5609" stop-color="#ff5f00"/><stop offset="0.6034" stop-color="#ff8400"/><stop offset="0.6155" stop-color="#ff9a00"/><stop offset="0.6428" stop-color="#ffdd00"/><stop offset="0.6671" stop-color="#ffff01"/><stop offset="0.6792" stop-color="#ffff0e"/><stop offset="0.6883" stop-color="#ffff12"/><stop offset="0.7004" stop-color="#ffff0e"/><stop offset="0.7126" stop-color="#ffff00"/><stop offset="0.7671" stop-color="#ffbb00"/><stop offset="0.7853" stop-color="#ffad00"/><stop offset="0.8065" stop-color="#ffa300"/><stop offset="0.8490" stop-color="#ff9e00"/><stop offset="0.9976" stop-color="#ff9d00"/></linearGradient><linearGradient id="g58" x2="0" y2="1"><stop offset="0.0000" stop-color="#ff9d00"/><stop offset="0.2668" stop-color="#ffa100"/><stop offset="0.2850" stop-color="#ffaa00"/><stop offset="0.3002" stop-color="#ffba00"/><stop offset="0.3123" stop-color="#ffd000"/><stop offset="0.3305" stop-color="#fffb00"/><stop offset="0.3335" stop-color="#ffff05"/><stop offset="0.3487" stop-color="#ffff32"/><stop offset="0.3608" stop-color="#ffff41"/><stop offset="0.3730" stop-color="#ffff35"/><stop offset="0.3790" stop-color="#ffff26"/><stop offset="0.3881" stop-color="#ffff04"/><stop offset="0.4002" stop-color="#ffd900"/><stop offset="0.4124" stop-color="#ffa500"/><stop offset="0.4245" stop-color="#ff6600"/><stop offset="0.4397" stop-color="#ff0c00"/><stop offset="0.4427" stop-color="#f90000"/><stop offset="0.4579" stop-color="#a00000"/><stop offset="0.4669" stop-color="#750000"/><stop offset="0.4760" stop-color="#5d0000"/><stop offset="0.4821" stop-color="#590000"/><stop offset="0.4882" stop-color="#610000"/><stop offset="0.4942" stop-color="#720000"/><stop offset="0.5033" stop-color="#9b0000"/><stop offset="0.5215" stop-color="#f90000"/><stop offset="0.5246" stop-color="#ff0800"/><stop offset="0.5367" stop-color="#ff3300"/><stop offset="0.5488" stop-color="#ff4f00"/><stop offset="0.5609" stop-color="#ff5e00"/><stop offset="0.5913" stop-color="#ff7700"/><stop offset="0.6064" stop-color="#ff8900"/><stop offset="0.6428" stop-color="#ffdd00"/><stop offset="0.6671" stop-color="#ffff01"/><stop offset="0.6792" stop-color="#ffff0e"/><stop offset="0.6883" stop-color="#ffff12"/><stop offset="0.7004" stop-color="#ffff0e"/><stop offset="0.7126" stop-color="#ffff00"/><stop offset="0.7671" stop-color="#ffbb00"/><stop offset="0.7853" stop-color="#ffad00"/><stop offset="0.8065" stop-color="#ffa300"/><stop offset="0.8490" stop-color="#ff9e00"/><stop offset="0.9976" stop-color="#ff9d00"/></linearGradient><linearGradient id="g59" x2="0" y2="1"><stop offset="0.0000" stop-color="#ff9d00"/><stop offset="0.2668" stop-color="#ffa100"/><stop offset="0.2850" stop-color="#ffa900"/><stop offset="0.3002" stop-color="#ffba00"/><stop offset="0.3123" stop-color="#ffcf00"/><stop offset="0.3305" stop-color="#fff900"/><stop offset="0.3335" stop-color="#ffff03"/><stop offset="0.3487" stop-color="#ffff31"/><stop offset="0.3608" stop-color="#ffff41"/><stop offset="0.3730" stop-color="#ffff38"/><stop offset="0.3790" stop-color="#ffff29"/><stop offset="0.3881" stop-color="#ffff08"/><stop offset="0.3911" stop-color="#fffb00"/><stop offset="0.3972" stop-color="#ffe700"/><stop offset="0.4124" stop-color="#ffa900"/><stop offset="0.4245" stop-color="#ff6900"/><stop offset="0.4397" stop-color="#ff0e00"/><stop offset="0.4427" stop-color="#fa0000"/><stop offset="0.4579" stop-color="#9f0000"/><stop offset="0.4669" stop-color="#720000"/><stop offset="0.4760" stop-color="#580000"/><stop offset="0.4821" stop-color="#530000"/><stop offset="0.4882" stop-color="#590000"/><stop offset="0.4973" stop-color="#760000"/><stop offset="0.5246" stop-color="#ff0200"/><stop offset="0.5367" stop-color="#ff3000"/><stop offset="0.5488" stop-color="#ff4d00"/><stop offset="0.5609" stop-color="#ff5e00"/><stop offset="0.5943" stop-color="#ff7a00"/><stop offset="0.6064" stop-color="#ff8900"/><stop offset="0.6428" stop-color="#ffdd00"/><stop offset="0.6671" stop-color="#ffff01"/><stop offset="0.6792" stop-color="#ffff0e"/><stop offset="0.6883" stop-color="#ffff12"/><stop offset="0.7004" stop-color="#ffff0e"/><stop offset="0.7126" stop-color="#ffff00"/><stop offset="0.7671" stop-color="#ffbb00"/><stop offset="0.7853" stop-color="#ffad00"/><stop offset="0.8065" stop-color="#ffa300"/><stop offset="0.8490" stop-color="#ff9e00"/><stop offset="0.9976" stop-color="#ff9d00"/></linearGradient><linearGradient id="g60" x2="0" y2="1"><stop offset="0.0000" stop-color="#ff9d00"/><stop offset="0.2668" stop-color="#ffa000"/><stop offset="0.2850" stop-color="#ffa900"/><stop offset="0.3002" stop-color="#ffb900"/><stop offset="0.3153" stop-color="#ffd400"/><stop offset="0.3335" stop-color="#ffff01"/><stop offset="0.3426" stop-color="#ffff20"/><stop offset="0.3517" stop-color="#ffff37"/><stop offset="0.3639" stop-color="#ffff43"/><stop offset="0.3760" stop-color="#ffff34"/><stop offset="0.3881" stop-color="#ffff0c"/><stop offset="0.3911" stop-color="#fffe00"/><stop offset="0.3972" stop-color="#ffea00"/><stop offset="0.4124" stop-color="#ffac00"/><stop offset="0.4245" stop-color="#ff6c00"/><stop offset="0.4427" stop-color="#fb0000"/><stop offset="0.4579" stop-color="#9e0000"/><stop offset="0.4669" stop-color="#700000"/><stop offset="0.4760" stop-color="#530000"/><stop offset="0.4821" stop-color="#4c0000"/><stop offset="0.4882" stop-color="#510000"/><stop offset="0.4973" stop-color="#6d0000"/><stop offset="0.5246" stop-color="#fb0000"/><stop offset="0.5276" stop-color="#ff0900"/><stop offset="0.5397" stop-color="#ff3500"/><stop offset="0.5518" stop-color="#ff5000"/><stop offset="0.6064" stop-color="#ff8900"/><stop offset="0.6428" stop-color="#ffdd00"/><stop offset="0.6671" stop-color="#ffff01"/><stop offset="0.6792" stop-color="#ffff0e"/><stop offset="0.6883" stop-color="#ffff12"/><stop offset="0.7004" stop-color="#ffff0e"/><stop offset="0.7126" stop-color="#ffff00"/><stop offset="0.7671" stop-color="#ffbb00"/><stop offset="0.7853" stop-color="#ffad00"/><stop offset="0.8065" stop-color="#ffa300"/><stop offset="0.8490" stop-color="#ff9e00"/><stop offset="0.9976" stop-color="#ff9d00"/></linearGradient><linearGradient id="g61" x2="0" y2="1"><stop offset="0.0000" stop-color="#ff9d00"/><stop offset="0.2699" stop-color="#ffa100"/><stop offset="0.2850" stop-color="#ffa800"/><stop offset="0.3002" stop-color="#ffb800"/><stop offset="0.3153" stop-color="#ffd300"/><stop offset="0.3335" stop-color="#fffe00"/><stop offset="0.3517" stop-color="#ffff36"/><stop offset="0.3639" stop-color="#ffff44"/><stop offset="0.3760" stop-color="#ffff36"/><stop offset="0.3820" stop-color="#ffff26"/><stop offset="0.3911" stop-color="#ffff02"/><stop offset="0.4033" stop-color="#ffd600"/><stop offset="0.4154" stop-color="#ffa000"/><stop offset="0.4245" stop-color="#ff6f00"/><stop offset="0.4427" stop-color="#fd0000"/><stop offset="0.4579" stop-color="#9d0000"/><stop offset="0.4669" stop-color="#6d0000"/><stop offset="0.4760" stop-color="#4e0000"/><stop offset="0.4821" stop-color="#460000"/><stop offset="0.4882" stop-color="#4a0000"/><stop offset="0.4973" stop-color="#640000"/><stop offset="0.5064" stop-color="#900000"/><stop offset="0.5215" stop-color="#e50000"/><stop offset="0.5276" stop-color="#ff0400"/><stop offset="0.5397" stop-color="#ff3200"/><stop offset="0.5518" stop-color="#ff4f00"/><stop offset="0.5640" stop-color="#ff6000"/><stop offset="0.6064" stop-color="#ff8a00"/><stop offset="0.6428" stop-color="#ffdd00"/><stop offset="0.6671" stop-color="#ffff01"/><stop offset="0.6792" stop-color="#ffff0e"/><stop offset="0.6883" stop-color="#ffff12"/><stop offset="0.7004" stop-color="#ffff0e"/><stop offset="0.7126" stop-color="#ffff00"/><stop offset="0.7671" stop-color="#ffbb00"/><stop offset="0.7853" stop-color="#ffad00"/><stop offset="0.8065" stop-color="#ffa300"/><stop offset="0.8490" stop-color="#ff9e00"/><stop offset="0.9976" stop-color="#ff9d00"/></linearGradient><linearGradient id="g62" x2="0" y2="1"><stop offset="0.0000" stop-color="#ff9d00"/><stop offset="0.2699" stop-color="#ffa100"/><stop offset="0.2881" stop-color="#ffaa00"/><stop offset="0.3032" stop-color="#ffbb00"/><stop offset="0.3153" stop-color="#ffd100"/><stop offset="0.3335" stop-color="#fffd00"/><stop offset="0.3517" stop-color="#ffff36"/><stop offset="0.3639" stop-color="#ffff45"/><stop offset="0.3760" stop-color="#ffff39"/><stop offset="0.3820" stop-color="#ffff29"/><stop offset="0.3911" stop-color="#ffff07"/><stop offset="0.3942" stop-color="#fffa00"/><stop offset="0.4002" stop-color="#ffe500"/><stop offset="0.4154" stop-color="#ffa300"/><stop offset="0.4275" stop-color="#ff6000"/><stop offset="0.4427" stop-color="#ff0000"/><stop offset="0.4579" stop-color="#9d0000"/><stop offset="0.4669" stop-color="#6b0000"/><stop offset="0.4760" stop-color="#4a0000"/><stop offset="0.4851" stop-color="#400000"/><stop offset="0.4912" stop-color="#480000"/><stop offset="0.5003" stop-color="#680000"/><stop offset="0.5276" stop-color="#fc0000"/><stop offset="0.5397" stop-color="#ff2e00"/><stop offset="0.5518" stop-color="#ff4d00"/><stop offset="0.5640" stop-color="#ff5f00"/><stop offset="0.6064" stop-color="#ff8a00"/><stop offset="0.6428" stop-color="#ffdd00"/><stop offset="0.6671" stop-color="#ffff01"/><stop offset="0.6792" stop-color="#ffff0e"/><stop offset="0.6883" stop-color="#ffff12"/><stop offset="0.7004" stop-color="#ffff0e"/><stop offset="0.7126" stop-color="#ffff00"/><stop offset="0.7671" stop-color="#ffbb00"/><stop offset="0.7853" stop-color="#ffad00"/><stop offset="0.8065" stop-color="#ffa300"/><stop offset="0.8490" stop-color="#ff9e00"/><stop offset="0.9976" stop-color="#ff9d00"/></linearGradient><linearGradient id="g63" x2="0" y2="1"><stop offset="0.0000" stop-color="#ff9d00"/><stop offset="0.2699" stop-color="#ffa100"/><stop offset="0.2881" stop-color="#ffaa00"/><stop offset="0.3032" stop-color="#ffba00"/><stop offset="0.3153" stop-color="#ffd000"/><stop offset="0.3335" stop-color="#fffb00"/><stop offset="0.3517" stop-color="#ffff35"/><stop offset="0.3639" stop-color="#ffff46"/><stop offset="0.3760" stop-color="#ffff3c"/><stop offset="0.3820" stop-color="#ffff2c"/><stop offset="0.3911" stop-color="#ffff0b"/><stop offset="0.3942" stop-color="#fffd00"/><stop offset="0.4002" stop-color="#ffe800"/><stop offset="0.4154" stop-color="#ffa700"/><stop offset="0.4275" stop-color="#ff6300"/><stop offset="0.4427" stop-color="#ff0100"/><stop offset="0.4579" stop-color="#9d0000"/><stop offset="0.4669" stop-color="#690000"/><stop offset="0.4760" stop-color="#460000"/><stop offset="0.4851" stop-color="#3a0000"/><stop offset="0.4912" stop-color="#400000"/><stop offset="0.5003" stop-color="#5f0000"/><stop offset="0.5246" stop-color="#e60000"/><stop offset="0.5306" stop-color="#ff0500"/><stop offset="0.5428" stop-color="#ff3400"/><stop offset="0.5549" stop-color="#ff5000"/><stop offset="0.6064" stop-color="#ff8a00"/><stop offset="0.6428" stop-color="#ffdd00"/><stop offset="0.6671" stop-color="#ffff01"/><stop offset="0.6792" stop-color="#ffff0f"/><stop offset="0.6883" stop-color="#ffff12"/><stop offset="0.7004" stop-color="#ffff0e"/><stop offset="0.7126" stop-color="#ffff00"/><stop offset="0.7671" stop-color="#ffbb00"/><stop offset="0.7853" stop-color="#ffad00"/><stop offset="0.8065" stop-color="#ffa300"/><stop offset="0.8490" stop-color="#ff9e00"/><stop offset="0.9976" stop-color="#ff9d00"/></linearGradient><linearGradient id="g64" x2="0" y2="1"><stop offset="0.0000" stop-color="#ff9d00"/><stop offset="0.2699" stop-color="#ffa000"/><stop offset="0.2881" stop-color="#ffa900"/><stop offset="0.3032" stop-color="#ffb900"/><stop offset="0.3153" stop-color="#ffcf00"/><stop offset="0.3335" stop-color="#fffa00"/><stop offset="0.3366" stop-color="#ffff04"/><stop offset="0.3457" stop-color="#ffff23"/><stop offset="0.3548" stop-color="#ffff3b"/><stop offset="0.3669" stop-color="#ffff47"/><stop offset="0.3790" stop-color="#ffff38"/><stop offset="0.3851" stop-color="#ffff26"/><stop offset="0.3942" stop-color="#ffff01"/><stop offset="0.4063" stop-color="#ffd300"/><stop offset="0.4184" stop-color="#ff9a00"/><stop offset="0.4306" stop-color="#ff5400"/><stop offset="0.4427" stop-color="#ff0400"/><stop offset="0.4609" stop-color="#8a0000"/><stop offset="0.4700" stop-color="#590000"/><stop offset="0.4791" stop-color="#3b0000"/><stop offset="0.4851" stop-color="#340000"/><stop offset="0.4912" stop-color="#390000"/><stop offset="0.5003" stop-color="#560000"/><stop offset="0.5064" stop-color="#740000"/><stop offset="0.5306" stop-color="#fe0000"/><stop offset="0.5428" stop-color="#ff3000"/><stop offset="0.5549" stop-color="#ff4f00"/><stop offset="0.5670" stop-color="#ff6100"/><stop offset="0.6064" stop-color="#ff8a00"/><stop offset="0.6428" stop-color="#ffdd00"/><stop offset="0.6671" stop-color="#ffff01"/><stop offset="0.6792" stop-color="#ffff0f"/><stop offset="0.6883" stop-color="#ffff12"/><stop offset="0.7004" stop-color="#ffff0e"/><stop offset="0.7126" stop-color="#ffff00"/><stop offset="0.7671" stop-color="#ffbb00"/><stop offset="0.7853" stop-color="#ffad00"/><stop offset="0.8065" stop-color="#ffa300"/><stop offset="0.8490" stop-color="#ff9e00"/><stop offset="0.9976" stop-color="#ff9d00"/></linearGradient><linearGradient id="g65" x2="0" y2="1"><stop offset="0.0000" stop-color="#ff9d00"/><stop offset="0.2699" stop-color="#ffa000"/><stop offset="0.2881" stop-color="#ffa900"/><stop offset="0.3032" stop-color="#ffb900"/><stop offset="0.3153" stop-color="#ffce00"/><stop offset="0.3366" stop-color="#ffff02"/><stop offset="0.3457" stop-color="#ffff22"/><stop offset="0.3548" stop-color="#ffff3b"/><stop offset="0.3669" stop-color="#ffff48"/><stop offset="0.3790" stop-color="#ffff3b"/><stop offset="0.3851" stop-color="#ffff2a"/><stop offset="0.3942" stop-color="#ffff05"/><stop offset="0.3972" stop-color="#fff900"/><stop offset="0.4063" stop-color="#ffd700"/><stop offset="0.4184" stop-color="#ff9e00"/><stop offset="0.4306" stop-color="#ff5700"/><stop offset="0.4427" stop-color="#ff0600"/><stop offset="0.4457" stop-color="#f00000"/><stop offset="0.4609" stop-color="#8a0000"/><stop offset="0.4700" stop-color="#570000"/><stop offset="0.4791" stop-color="#370000"/><stop offset="0.4851" stop-color="#2e0000"/><stop offset="0.4912" stop-color="#320000"/><stop offset="0.5003" stop-color="#4d0000"/><stop offset="0.5094" stop-color="#7c0000"/><stop offset="0.5276" stop-color="#e80000"/><stop offset="0.5306" stop-color="#f80000"/><stop offset="0.5337" stop-color="#ff0700"/><stop offset="0.5458" stop-color="#ff3600"/><stop offset="0.5579" stop-color="#ff5200"/><stop offset="0.6064" stop-color="#ff8a00"/><stop offset="0.6428" stop-color="#ffdd00"/><stop offset="0.6671" stop-color="#ffff01"/><stop offset="0.6792" stop-color="#ffff0f"/><stop offset="0.6883" stop-color="#ffff12"/><stop offset="0.7004" stop-color="#ffff0e"/><stop offset="0.7126" stop-color="#ffff00"/><stop offset="0.7671" stop-color="#ffbb00"/><stop offset="0.7853" stop-color="#ffad00"/><stop offset="0.8065" stop-color="#ffa300"/><stop offset="0.8490" stop-color="#ff9e00"/><stop offset="0.9976" stop-color="#ff9d00"/></linearGradient><linearGradient id="g66" x2="0" y2="1"><stop offset="0.0000" stop-color="#ff9d00"/><stop offset="0.2729" stop-color="#ffa100"/><stop offset="0.2911" stop-color="#ffaa00"/><stop offset="0.3062" stop-color="#ffbc00"/><stop offset="0.3184" stop-color="#ffd300"/><stop offset="0.3366" stop-color="#ffff00"/><stop offset="0.3548" stop-color="#ffff3a"/><stop offset="0.3669" stop-color="#ffff49"/><stop offset="0.3730" stop-color="#ffff47"/><stop offset="0.3790" stop-color="#ffff3d"/><stop offset="0.3851" stop-color="#ffff2d"/><stop offset="0.3942" stop-color="#ffff0a"/><stop offset="0.3972" stop-color="#fffc00"/><stop offset="0.4002" stop-color="#fff100"/><stop offset="0.4154" stop-color="#ffb000"/><stop offset="0.4275" stop-color="#ff6d00"/><stop offset="0.4427" stop-color="#ff0800"/><stop offset="0.4457" stop-color="#f20000"/><stop offset="0.4609" stop-color="#8a0000"/><stop offset="0.4700" stop-color="#560000"/><stop offset="0.4791" stop-color="#330000"/><stop offset="0.4882" stop-color="#280000"/><stop offset="0.4942" stop-color="#300000"/><stop offset="0.5033" stop-color="#520000"/><stop offset="0.5276" stop-color="#e00000"/><stop offset="0.5337" stop-color="#ff0100"/><stop offset="0.5458" stop-color="#ff3200"/><stop offset="0.5579" stop-color="#ff5000"/><stop offset="0.5700" stop-color="#ff6300"/><stop offset="0.6064" stop-color="#ff8a00"/><stop offset="0.6428" stop-color="#ffdd00"/><stop offset="0.6671" stop-color="#ffff01"/><stop offset="0.6792" stop-color="#ffff0f"/><stop offset="0.6883" stop-color="#ffff12"/><stop offset="0.7004" stop-color="#ffff0d"/><stop offset="0.7126" stop-color="#ffff00"/><stop offset="0.7671" stop-color="#ffbb00"/><stop offset="0.7853" stop-color="#ffad00"/><stop offset="0.8065" stop-color="#ffa300"/><stop offset="0.8490" stop-color="#ff9e00"/><stop offset="0.9976" stop-color="#ff9d00"/></linearGradient><linearGradient id="g67" x2="0" y2="1"><stop offset="0.0000" stop-color="#ff9d00"/><stop offset="0.2729" stop-color="#ffa100"/><stop offset="0.2911" stop-color="#ffaa00"/><stop offset="0.3062" stop-color="#ffbb00"/><stop offset="0.3184" stop-color="#ffd100"/><stop offset="0.3366" stop-color="#fffd00"/><stop offset="0.3548" stop-color="#ffff39"/><stop offset="0.3639" stop-color="#ffff48"/><stop offset="0.3699" stop-color="#ffff4a"/><stop offset="0.3760" stop-color="#ffff45"/><stop offset="0.3820" stop-color="#ffff39"/><stop offset="0.3881" stop-color="#ffff26"/><stop offset="0.3972" stop-color="#ffff00"/><stop offset="0.4093" stop-color="#ffd000"/><stop offset="0.4184" stop-color="#ffa400"/><stop offset="0.4306" stop-color="#ff5d00"/><stop offset="0.4427" stop-color="#ff0b00"/><stop offset="0.4457" stop-color="#f40000"/><stop offset="0.4609" stop-color="#8a0000"/><stop offset="0.4700" stop-color="#540000"/><stop offset="0.4791" stop-color="#2f0000"/><stop offset="0.4882" stop-color="#220000"/><stop offset="0.4942" stop-color="#290000"/><stop offset="0.5033" stop-color="#490000"/><stop offset="0.5094" stop-color="#690000"/><stop offset="0.5306" stop-color="#ea0000"/><stop offset="0.5337" stop-color="#fa0000"/><stop offset="0.5367" stop-color="#ff0900"/><stop offset="0.5488" stop-color="#ff3800"/><stop offset="0.5609" stop-color="#ff5400"/><stop offset="0.6064" stop-color="#ff8a00"/><stop offset="0.6428" stop-color="#ffdd00"/><stop offset="0.6671" stop-color="#ffff01"/><stop offset="0.6792" stop-color="#ffff0f"/><stop offset="0.6883" stop-color="#ffff12"/><stop offset="0.7004" stop-color="#ffff0d"/><stop offset="0.7126" stop-color="#ffff00"/><stop offset="0.7671" stop-color="#ffbb00"/><stop offset="0.7853" stop-color="#ffac00"/><stop offset="0.8065" stop-color="#ffa300"/><stop offset="0.8490" stop-color="#ff9e00"/><stop offset="0.9976" stop-color="#ff9d00"/></linearGradient><linearGradient id="g68" x2="0" y2="1"><stop offset="0.0000" stop-color="#ff9d00"/><stop offset="0.2729" stop-color="#ffa100"/><stop offset="0.2911" stop-color="#ffa900"/><stop offset="0.3062" stop-color="#ffba00"/><stop offset="0.3184" stop-color="#ffd000"/><stop offset="0.3366" stop-color="#fffc00"/><stop offset="0.3578" stop-color="#ffff3f"/><stop offset="0.3699" stop-color="#ffff4c"/><stop offset="0.3760" stop-color="#ffff47"/><stop offset="0.3820" stop-color="#ffff3c"/><stop offset="0.3881" stop-color="#ffff2a"/><stop offset="0.3972" stop-color="#ffff04"/><stop offset="0.4063" stop-color="#ffe000"/><stop offset="0.4184" stop-color="#ffa800"/><stop offset="0.4306" stop-color="#ff6000"/><stop offset="0.4427" stop-color="#ff0d00"/><stop offset="0.4457" stop-color="#f60000"/><stop offset="0.4609" stop-color="#8b0000"/><stop offset="0.4700" stop-color="#530000"/><stop offset="0.4791" stop-color="#2c0000"/><stop offset="0.4882" stop-color="#1d0000"/><stop offset="0.4942" stop-color="#220000"/><stop offset="0.5033" stop-color="#400000"/><stop offset="0.5124" stop-color="#710000"/><stop offset="0.5306" stop-color="#e20000"/><stop offset="0.5367" stop-color="#ff0300"/><stop offset="0.5488" stop-color="#ff3400"/><stop offset="0.5609" stop-color="#ff5200"/><stop offset="0.6064" stop-color="#ff8b00"/><stop offset="0.6428" stop-color="#ffde00"/><stop offset="0.6671" stop-color="#ffff02"/><stop offset="0.6792" stop-color="#ffff0f"/><stop offset="0.6883" stop-color="#ffff12"/><stop offset="0.7004" stop-color="#ffff0d"/><stop offset="0.7126" stop-color="#ffff00"/><stop offset="0.7671" stop-color="#ffbb00"/><stop offset="0.7853" stop-color="#ffac00"/><stop offset="0.8065" stop-color="#ffa300"/><stop offset="0.8490" stop-color="#ff9e00"/><stop offset="0.9976" stop-color="#ff9d00"/></linearGradient><linearGradient id="g69" x2="0" y2="1"><stop offset="0.0000" stop-color="#ff9d00"/><stop offset="0.2759" stop-color="#ffa100"/><stop offset="0.2911" stop-color="#ffa900"/><stop offset="0.3062" stop-color="#ffb900"/><stop offset="0.3184" stop-color="#ffcf00"/><stop offset="0.3366" stop-color="#fffa00"/><stop offset="0.3396" stop-color="#ffff05"/><stop offset="0.3487" stop-color="#ffff25"/><stop offset="0.3578" stop-color="#ffff3f"/><stop offset="0.3699" stop-color="#ffff4d"/><stop offset="0.3760" stop-color="#ffff49"/><stop offset="0.3820" stop-color="#ffff3f"/><stop offset="0.3881" stop-color="#ffff2e"/><stop offset="0.3972" stop-color="#ffff08"/><stop offset="0.4002" stop-color="#fffa00"/><stop offset="0.4063" stop-color="#ffe300"/><stop offset="0.4184" stop-color="#ffab00"/><stop offset="0.4306" stop-color="#ff6400"/><stop offset="0.4427" stop-color="#ff1000"/><stop offset="0.4457" stop-color="#f90000"/><stop offset="0.4609" stop-color="#8c0000"/><stop offset="0.4700" stop-color="#530000"/><stop offset="0.4791" stop-color="#2a0000"/><stop offset="0.4882" stop-color="#180000"/><stop offset="0.4942" stop-color="#1b0000"/><stop offset="0.5033" stop-color="#370000"/><stop offset="0.5124" stop-color="#680000"/><stop offset="0.5337" stop-color="#ec0000"/><stop offset="0.5367" stop-color="#fc0000"/><stop offset="0.5397" stop-color="#ff0c00"/><stop offset="0.5488" stop-color="#ff3000"/><stop offset="0.5609" stop-color="#ff5000"/><stop offset="0.5731" stop-color="#ff6400"/><stop offset="0.6064" stop-color="#ff8b00"/><stop offset="0.6428" stop-color="#ffde00"/><stop offset="0.6671" stop-color="#ffff02"/><stop offset="0.6792" stop-color="#ffff0f"/><stop offset="0.6883" stop-color="#ffff12"/><stop offset="0.7004" stop-color="#ffff0d"/><stop offset="0.7126" stop-color="#ffff00"/><stop offset="0.7671" stop-color="#ffbb00"/><stop offset="0.7853" stop-color="#ffac00"/><stop offset="0.8065" stop-color="#ffa300"/><stop offset="0.8490" stop-color="#ff9e00"/><stop offset="0.9976" stop-color="#ff9d00"/></linearGradient><linearGradient id="g70" x2="0" y2="1"><stop offset="0.0000" stop-color="#ff9d00"/><stop offset="0.2759" stop-color="#ffa100"/><stop offset="0.2911" stop-color="#ffa800"/><stop offset="0.3062" stop-color="#ffb800"/><stop offset="0.3214" stop-color="#ffd400"/><stop offset="0.3366" stop-color="#fff900"/><stop offset="0.3396" stop-color="#ffff03"/><stop offset="0.3487" stop-color="#ffff24"/><stop offset="0.3578" stop-color="#ffff3e"/><stop offset="0.3699" stop-color="#ffff4e"/><stop offset="0.3760" stop-color="#ffff4b"/><stop offset="0.3820" stop-color="#ffff42"/><stop offset="0.3881" stop-color="#ffff31"/><stop offset="0.3972" stop-color="#ffff0d"/><stop offset="0.4002" stop-color="#fffd00"/><stop offset="0.4093" stop-color="#ffda00"/><stop offset="0.4184" stop-color="#ffaf00"/><stop offset="0.4306" stop-color="#ff6700"/><stop offset="0.4457" stop-color="#fc0000"/><stop offset="0.4639" stop-color="#780000"/><stop offset="0.4730" stop-color="#420000"/><stop offset="0.4821" stop-color="#1e0000"/><stop offset="0.4912" stop-color="#120000"/><stop offset="0.4973" stop-color="#1a0000"/><stop offset="0.5064" stop-color="#3d0000"/><stop offset="0.5124" stop-color="#5e0000"/><stop offset="0.5337" stop-color="#e40000"/><stop offset="0.5397" stop-color="#ff0600"/><stop offset="0.5518" stop-color="#ff3600"/><stop offset="0.5640" stop-color="#ff5400"/><stop offset="0.6064" stop-color="#ff8b00"/><stop offset="0.6428" stop-color="#ffde00"/><stop offset="0.6671" stop-color="#ffff02"/><stop offset="0.6792" stop-color="#ffff0f"/><stop offset="0.6883" stop-color="#ffff12"/><stop offset="0.7004" stop-color="#ffff0d"/><stop offset="0.7126" stop-color="#ffff00"/><stop offset="0.7671" stop-color="#ffbb00"/><stop offset="0.7853" stop-color="#ffac00"/><stop offset="0.8065" stop-color="#ffa300"/><stop offset="0.8490" stop-color="#ff9e00"/><stop offset="0.9976" stop-color="#ff9d00"/></linearGradient><linearGradient id="g71" x2="0" y2="1"><stop offset="0.0000" stop-color="#ff9d00"/><stop offset="0.2759" stop-color="#ffa100"/><stop offset="0.2941" stop-color="#ffaa00"/><stop offset="0.3093" stop-color="#ffbc00"/><stop offset="0.3214" stop-color="#ffd200"/><stop offset="0.3396" stop-color="#ffff00"/><stop offset="0.3578" stop-color="#ffff3d"/><stop offset="0.3669" stop-color="#ffff4d"/><stop offset="0.3730" stop-color="#ffff4f"/><stop offset="0.3790" stop-color="#ffff4a"/><stop offset="0.3851" stop-color="#ffff3d"/><stop offset="0.3911" stop-color="#ffff2a"/><stop offset="0.4002" stop-color="#ffff02"/><stop offset="0.4093" stop-color="#ffdd00"/><stop offset="0.4215" stop-color="#ffa200"/><stop offset="0.4336" stop-color="#ff5700"/><stop offset="0.4457" stop-color="#ff0000"/><stop offset="0.4639" stop-color="#790000"/><stop offset="0.4730" stop-color="#410000"/><stop offset="0.4821" stop-color="#1b0000"/><stop offset="0.4912" stop-color="#0d0000"/><stop offset="0.4973" stop-color="#140000"/><stop offset="0.5064" stop-color="#340000"/><stop offset="0.5124" stop-color="#550000"/><stop offset="0.5306" stop-color="#ca0000"/><stop offset="0.5397" stop-color="#fe0000"/><stop offset="0.5518" stop-color="#ff3200"/><stop offset="0.5640" stop-color="#ff5200"/><stop offset="0.6064" stop-color="#ff8b00"/><stop offset="0.6428" stop-color="#ffde00"/><stop offset="0.6671" stop-color="#ffff02"/><stop offset="0.6792" stop-color="#ffff0f"/><stop offset="0.6883" stop-color="#ffff12"/><stop offset="0.7004" stop-color="#ffff0d"/><stop offset="0.7126" stop-color="#ffff00"/><stop offset="0.7671" stop-color="#ffbb00"/><stop offset="0.7853" stop-color="#ffac00"/><stop offset="0.8065" stop-color="#ffa300"/><stop offset="0.8490" stop-color="#ff9e00"/><stop offset="0.9976" stop-color="#ff9d00"/></linearGradient><linearGradient id="g72" x2="0" y2="1"><stop offset="0.0000" stop-color="#ff9d00"/><stop offset="0.2759" stop-color="#ffa100"/><stop offset="0.2941" stop-color="#ffaa00"/><stop offset="0.3093" stop-color="#ffbb00"/><stop offset="0.3214" stop-color="#ffd100"/><stop offset="0.3396" stop-color="#fffe00"/><stop offset="0.3578" stop-color="#ffff3c"/><stop offset="0.3669" stop-color="#ffff4d"/><stop offset="0.3730" stop-color="#ffff50"/><stop offset="0.3790" stop-color="#ffff4c"/><stop offset="0.3851" stop-color="#ffff41"/><stop offset="0.3911" stop-color="#ffff2e"/><stop offset="0.4002" stop-color="#ffff07"/><stop offset="0.4033" stop-color="#fff900"/><stop offset="0.4093" stop-color="#ffe100"/><stop offset="0.4215" stop-color="#ffa600"/><stop offset="0.4336" stop-color="#ff5a00"/><stop offset="0.4457" stop-color="#ff0300"/><stop offset="0.4639" stop-color="#7a0000"/><stop offset="0.4730" stop-color="#410000"/><stop offset="0.4821" stop-color="#180000"/><stop offset="0.4882" stop-color="#0b0000"/><stop offset="0.4912" stop-color="#0b0000"/><stop offset="0.4973" stop-color="#0d0000"/><stop offset="0.5064" stop-color="#2b0000"/><stop offset="0.5155" stop-color="#5e0000"/><stop offset="0.5367" stop-color="#e70000"/><stop offset="0.5397" stop-color="#f80000"/><stop offset="0.5428" stop-color="#ff0800"/><stop offset="0.5549" stop-color="#ff3800"/><stop offset="0.5670" stop-color="#ff5600"/><stop offset="0.6064" stop-color="#ff8b00"/><stop offset="0.6428" stop-color="#ffde00"/><stop offset="0.6671" stop-color="#ffff02"/><stop offset="0.6792" stop-color="#ffff0f"/><stop offset="0.6883" stop-color="#ffff12"/><stop offset="0.7004" stop-color="#ffff0d"/><stop offset="0.7126" stop-color="#ffff00"/><stop offset="0.7671" stop-color="#ffbb00"/><stop offset="0.7853" stop-color="#ffac00"/><stop offset="0.8065" stop-color="#ffa300"/><stop offset="0.8490" stop-color="#ff9e00"/><stop offset="0.9976" stop-color="#ff9d00"/></linearGradient><linearGradient id="g73" x2="0" y2="1"><stop offset="0.0000" stop-color="#ff9d00"/><stop offset="0.2759" stop-color="#ffa100"/><stop offset="0.2941" stop-color="#ffa900"/><stop offset="0.3093" stop-color="#ffba00"/><stop offset="0.3214" stop-color="#ffd000"/><stop offset="0.3396" stop-color="#fffc00"/><stop offset="0.3608" stop-color="#ffff43"/><stop offset="0.3730" stop-color="#ffff51"/><stop offset="0.3790" stop-color="#ffff4e"/><stop offset="0.3851" stop-color="#ffff44"/><stop offset="0.3911" stop-color="#ffff32"/><stop offset="0.4002" stop-color="#ffff0b"/><stop offset="0.4033" stop-color="#fffc00"/><stop offset="0.4063" stop-color="#fff100"/><stop offset="0.4215" stop-color="#ffa900"/><stop offset="0.4336" stop-color="#ff5e00"/><stop offset="0.4457" stop-color="#ff0600"/><stop offset="0.4488" stop-color="#ee0000"/><stop offset="0.4639" stop-color="#7c0000"/><stop offset="0.4730" stop-color="#410000"/><stop offset="0.4821" stop-color="#160000"/><stop offset="0.4882" stop-color="#0b0000"/><stop offset="0.5003" stop-color="#0d0000"/><stop offset="0.5064" stop-color="#230000"/><stop offset="0.5155" stop-color="#550000"/><stop offset="0.5337" stop-color="#cd0000"/><stop offset="0.5428" stop-color="#ff0200"/><stop offset="0.5549" stop-color="#ff3500"/><stop offset="0.5670" stop-color="#ff5400"/><stop offset="0.6064" stop-color="#ff8b00"/><stop offset="0.6428" stop-color="#ffde00"/><stop offset="0.6671" stop-color="#ffff02"/><stop offset="0.6792" stop-color="#ffff0f"/><stop offset="0.6883" stop-color="#ffff12"/><stop offset="0.7004" stop-color="#ffff0d"/><stop offset="0.7126" stop-color="#ffff00"/><stop offset="0.7671" stop-color="#ffbb00"/><stop offset="0.7853" stop-color="#ffac00"/><stop offset="0.8065" stop-color="#ffa300"/><stop offset="0.8490" stop-color="#ff9e00"/><stop offset="0.9976" stop-color="#ff9d00"/></linearGradient><linearGradient id="g74" x2="0" y2="1"><stop offset="0.0000" stop-color="#ff9d00"/><stop offset="0.2790" stop-color="#ffa100"/><stop offset="0.2941" stop-color="#ffa900"/><stop offset="0.3093" stop-color="#ffb900"/><stop offset="0.3244" stop-color="#ffd500"/><stop offset="0.3396" stop-color="#fffb00"/><stop offset="0.3426" stop-color="#ffff05"/><stop offset="0.3517" stop-color="#ffff27"/><stop offset="0.3608" stop-color="#ffff42"/><stop offset="0.3730" stop-color="#ffff52"/><stop offset="0.3790" stop-color="#ffff50"/><stop offset="0.3881" stop-color="#ffff3f"/><stop offset="0.3942" stop-color="#ffff2b"/><stop offset="0.4033" stop-color="#ffff00"/><stop offset="0.4154" stop-color="#ffcc00"/><stop offset="0.4245" stop-color="#ff9c00"/><stop offset="0.4336" stop-color="#ff6200"/><stop offset="0.4457" stop-color="#ff0900"/><stop offset="0.4488" stop-color="#f10000"/><stop offset="0.4639" stop-color="#7d0000"/><stop offset="0.4730" stop-color="#410000"/><stop offset="0.4821" stop-color="#150000"/><stop offset="0.4851" stop-color="#0b0000"/><stop offset="0.4882" stop-color="#0b0000"/><stop offset="0.5003" stop-color="#0b0000"/><stop offset="0.5064" stop-color="#1b0000"/><stop offset="0.5155" stop-color="#4b0000"/><stop offset="0.5397" stop-color="#e90000"/><stop offset="0.5428" stop-color="#fa0000"/><stop offset="0.5458" stop-color="#ff0a00"/><stop offset="0.5579" stop-color="#ff3b00"/><stop offset="0.5700" stop-color="#ff5900"/><stop offset="0.6064" stop-color="#ff8b00"/><stop offset="0.6428" stop-color="#ffde00"/><stop offset="0.6671" stop-color="#ffff02"/><stop offset="0.6792" stop-color="#ffff0f"/><stop offset="0.6883" stop-color="#ffff12"/><stop offset="0.7004" stop-color="#ffff0d"/><stop offset="0.7126" stop-color="#ffff00"/><stop offset="0.7671" stop-color="#ffbb00"/><stop offset="0.7853" stop-color="#ffac00"/><stop offset="0.8065" stop-color="#ffa300"/><stop offset="0.8490" stop-color="#ff9e00"/><stop offset="0.9976" stop-color="#ff9d00"/></linearGradient><linearGradient id="g75" x2="0" y2="1"><stop offset="0.0000" stop-color="#ff9d00"/><stop offset="0.2790" stop-color="#ffa100"/><stop offset="0.2941" stop-color="#ffa800"/><stop offset="0.3093" stop-color="#ffb800"/><stop offset="0.3244" stop-color="#ffd300"/><stop offset="0.3396" stop-color="#fff900"/><stop offset="0.3426" stop-color="#ffff03"/><stop offset="0.3608" stop-color="#ffff41"/><stop offset="0.3699" stop-color="#ffff51"/><stop offset="0.3760" stop-color="#ffff54"/><stop offset="0.3820" stop-color="#ffff4f"/><stop offset="0.3881" stop-color="#ffff42"/><stop offset="0.3942" stop-color="#ffff2e"/><stop offset="0.4033" stop-color="#ffff05"/><stop offset="0.4124" stop-color="#ffde00"/><stop offset="0.4245" stop-color="#ffa000"/><stop offset="0.4336" stop-color="#ff6600"/><stop offset="0.4457" stop-color="#ff0d00"/><stop offset="0.4488" stop-color="#f40000"/><stop offset="0.4639" stop-color="#7f0000"/><stop offset="0.4730" stop-color="#420000"/><stop offset="0.4791" stop-color="#200000"/><stop offset="0.4851" stop-color="#0b0000"/><stop offset="0.5033" stop-color="#0b0000"/><stop offset="0.5064" stop-color="#130000"/><stop offset="0.5155" stop-color="#420000"/><stop offset="0.5367" stop-color="#d00000"/><stop offset="0.5428" stop-color="#f30000"/><stop offset="0.5458" stop-color="#ff0400"/><stop offset="0.5579" stop-color="#ff3700"/><stop offset="0.5700" stop-color="#ff5700"/><stop offset="0.6064" stop-color="#ff8b00"/><stop offset="0.6428" stop-color="#ffde00"/><stop offset="0.6671" stop-color="#ffff02"/><stop offset="0.6792" stop-color="#ffff0f"/><stop offset="0.6883" stop-color="#ffff12"/><stop offset="0.7004" stop-color="#ffff0d"/><stop offset="0.7126" stop-color="#ffff00"/><stop offset="0.7671" stop-color="#ffbb00"/><stop offset="0.7853" stop-color="#ffac00"/><stop offset="0.8065" stop-color="#ffa300"/><stop offset="0.8490" stop-color="#ff9e00"/><stop offset="0.9976" stop-color="#ff9d00"/></linearGradient><linearGradient id="g76" x2="0" y2="1"><stop offset="0.0000" stop-color="#ff9d00"/><stop offset="0.2790" stop-color="#ffa100"/><stop offset="0.2941" stop-color="#ffa800"/><stop offset="0.3093" stop-color="#ffb700"/><stop offset="0.3244" stop-color="#ffd200"/><stop offset="0.3396" stop-color="#fff700"/><stop offset="0.3426" stop-color="#ffff01"/><stop offset="0.3548" stop-color="#ffff2e"/><stop offset="0.3639" stop-color="#ffff48"/><stop offset="0.3760" stop-color="#ffff55"/><stop offset="0.3820" stop-color="#ffff51"/><stop offset="0.3881" stop-color="#ffff45"/><stop offset="0.3942" stop-color="#ffff32"/><stop offset="0.4033" stop-color="#ffff0a"/><stop offset="0.4063" stop-color="#fffa00"/><stop offset="0.4093" stop-color="#ffee00"/><stop offset="0.4215" stop-color="#ffb400"/><stop offset="0.4336" stop-color="#ff6a00"/><stop offset="0.4457" stop-color="#ff1000"/><stop offset="0.4488" stop-color="#f80000"/><stop offset="0.4639" stop-color="#820000"/><stop offset="0.4730" stop-color="#420000"/><stop offset="0.4791" stop-color="#200000"/><stop offset="0.4851" stop-color="#0b0000"/><stop offset="0.5064" stop-color="#0b0000"/><stop offset="0.5155" stop-color="#390000"/><stop offset="0.5428" stop-color="#ec0000"/><stop offset="0.5458" stop-color="#fd0000"/><stop offset="0.5488" stop-color="#ff0d00"/><stop offset="0.5579" stop-color="#ff3300"/><stop offset="0.5700" stop-color="#ff5500"/><stop offset="0.6095" stop-color="#ff9000"/><stop offset="0.6458" stop-color="#ffe400"/><stop offset="0.6671" stop-color="#ffff02"/><stop offset="0.6792" stop-color="#ffff0f"/><stop offset="0.6883" stop-color="#ffff12"/><stop offset="0.7004" stop-color="#ffff0d"/><stop offset="0.7126" stop-color="#fffe00"/><stop offset="0.7671" stop-color="#ffbb00"/><stop offset="0.7853" stop-color="#ffac00"/><stop offset="0.8065" stop-color="#ffa300"/><stop offset="0.8490" stop-color="#ff9e00"/><stop offset="0.9976" stop-color="#ff9d00"/></linearGradient><linearGradient id="g77" x2="0" y2="1"><stop offset="0.0000" stop-color="#ff9d00"/><stop offset="0.2790" stop-color="#ffa100"/><stop offset="0.2971" stop-color="#ffa900"/><stop offset="0.3123" stop-color="#ffba00"/><stop offset="0.3244" stop-color="#ffd100"/><stop offset="0.3426" stop-color="#fffe00"/><stop offset="0.3608" stop-color="#ffff3f"/><stop offset="0.3699" stop-color="#ffff52"/><stop offset="0.3760" stop-color="#ffff56"/><stop offset="0.3820" stop-color="#ffff53"/><stop offset="0.3881" stop-color="#ffff48"/><stop offset="0.3942" stop-color="#ffff36"/><stop offset="0.4033" stop-color="#ffff0e"/><stop offset="0.4063" stop-color="#fffe00"/><stop offset="0.4215" stop-color="#ffb800"/><stop offset="0.4336" stop-color="#ff6e00"/><stop offset="0.4488" stop-color="#fb0000"/><stop offset="0.4639" stop-color="#840000"/><stop offset="0.4730" stop-color="#440000"/><stop offset="0.4821" stop-color="#120000"/><stop offset="0.4851" stop-color="#0b0000"/><stop offset="0.5064" stop-color="#0b0000"/><stop offset="0.5094" stop-color="#100000"/><stop offset="0.5185" stop-color="#430000"/><stop offset="0.5428" stop-color="#e50000"/><stop offset="0.5458" stop-color="#f60000"/><stop offset="0.5488" stop-color="#ff0700"/><stop offset="0.5609" stop-color="#ff3900"/><stop offset="0.5731" stop-color="#ff5900"/><stop offset="0.6095" stop-color="#ff9000"/><stop offset="0.6458" stop-color="#ffe400"/><stop offset="0.6671" stop-color="#ffff02"/><stop offset="0.6792" stop-color="#ffff0f"/><stop offset="0.6883" stop-color="#ffff12"/><stop offset="0.7004" stop-color="#ffff0d"/><stop offset="0.7126" stop-color="#fffe00"/><stop offset="0.7671" stop-color="#ffbb00"/><stop offset="0.7853" stop-color="#ffac00"/><stop offset="0.8065" stop-color="#ffa300"/><stop offset="0.8490" stop-color="#ff9e00"/><stop offset="0.9976" stop-color="#ff9d00"/></linearGradient><linearGradient id="g78" x2="0" y2="1"><stop offset="0.0000" stop-color="#ff9d00"/><stop offset="0.2820" stop-color="#ffa100"/><stop offset="0.2971" stop-color="#ffa900"/><stop offset="0.3123" stop-color="#ffb900"/><stop offset="0.3275" stop-color="#ffd600"/><stop offset="0.3426" stop-color="#fffc00"/><stop offset="0.3639" stop-color="#ffff46"/><stop offset="0.3760" stop-color="#ffff57"/><stop offset="0.3820" stop-color="#ffff55"/><stop offset="0.3911" stop-color="#ffff44"/><stop offset="0.3972" stop-color="#ffff2f"/><stop offset="0.4063" stop-color="#ffff03"/><stop offset="0.4154" stop-color="#ffdb00"/><stop offset="0.4275" stop-color="#ff9900"/><stop offset="0.4366" stop-color="#ff5c00"/><stop offset="0.4488" stop-color="#ff0000"/><stop offset="0.4639" stop-color="#870000"/><stop offset="0.4730" stop-color="#450000"/><stop offset="0.4821" stop-color="#110000"/><stop offset="0.4851" stop-color="#0b0000"/><stop offset="0.5094" stop-color="#0b0000"/><stop offset="0.5185" stop-color="#390000"/><stop offset="0.5397" stop-color="#ca0000"/><stop offset="0.5488" stop-color="#ff0100"/><stop offset="0.5609" stop-color="#ff3500"/><stop offset="0.5731" stop-color="#ff5700"/><stop offset="0.6095" stop-color="#ff9000"/><stop offset="0.6458" stop-color="#ffe400"/><stop offset="0.6671" stop-color="#ffff02"/><stop offset="0.6792" stop-color="#ffff0f"/><stop offset="0.6883" stop-color="#ffff12"/><stop offset="0.7004" stop-color="#ffff0d"/><stop offset="0.7126" stop-color="#fffe00"/><stop offset="0.7671" stop-color="#ffbb00"/><stop offset="0.7853" stop-color="#ffac00"/><stop offset="0.8065" stop-color="#ffa300"/><stop offset="0.8490" stop-color="#ff9e00"/><stop offset="0.9976" stop-color="#ff9d00"/></linearGradient><linearGradient id="g79" x2="0" y2="1"><stop offset="0.0000" stop-color="#ff9d00"/><stop offset="0.2820" stop-color="#ffa100"/><stop offset="0.2971" stop-color="#ffa800"/><stop offset="0.3123" stop-color="#ffb800"/><stop offset="0.3275" stop-color="#ffd400"/><stop offset="0.3426" stop-color="#fffb00"/><stop offset="0.3457" stop-color="#ffff06"/><stop offset="0.3639" stop-color="#ffff45"/><stop offset="0.3730" stop-color="#ffff56"/><stop offset="0.3790" stop-color="#ffff59"/><stop offset="0.3851" stop-color="#ffff54"/><stop offset="0.3911" stop-color="#ffff47"/><stop offset="0.3972" stop-color="#ffff33"/><stop offset="0.4063" stop-color="#ffff08"/><stop offset="0.4093" stop-color="#fff900"/><stop offset="0.4124" stop-color="#ffec00"/><stop offset="0.4245" stop-color="#ffaf00"/><stop offset="0.4366" stop-color="#ff6100"/><stop offset="0.4488" stop-color="#ff0400"/><stop offset="0.4730" stop-color="#470000"/><stop offset="0.4821" stop-color="#110000"/><stop offset="0.4851" stop-color="#0b0000"/><stop offset="0.5094" stop-color="#0b0000"/><stop offset="0.5124" stop-color="#0f0000"/><stop offset="0.5215" stop-color="#440000"/><stop offset="0.5428" stop-color="#d50000"/><stop offset="0.5488" stop-color="#f90000"/><stop offset="0.5518" stop-color="#ff0a00"/><stop offset="0.5640" stop-color="#ff3c00"/><stop offset="0.5761" stop-color="#ff5b00"/><stop offset="0.6095" stop-color="#ff9000"/><stop offset="0.6458" stop-color="#ffe400"/><stop offset="0.6671" stop-color="#ffff02"/><stop offset="0.6792" stop-color="#ffff0f"/><stop offset="0.6883" stop-color="#ffff12"/><stop offset="0.7004" stop-color="#ffff0d"/><stop offset="0.7126" stop-color="#fffe00"/><stop offset="0.7671" stop-color="#ffbb00"/><stop offset="0.7853" stop-color="#ffac00"/><stop offset="0.8065" stop-color="#ffa300"/><stop offset="0.8490" stop-color="#ff9e00"/><stop offset="0.9976" stop-color="#ff9d00"/></linearGradient><linearGradient id="g80" x2="0" y2="1"><stop offset="0.0000" stop-color="#ff9d00"/><stop offset="0.2820" stop-color="#ffa100"/><stop offset="0.2971" stop-color="#ffa800"/><stop offset="0.3123" stop-color="#ffb700"/><stop offset="0.3275" stop-color="#ffd300"/><stop offset="0.3426" stop-color="#fff900"/><stop offset="0.3457" stop-color="#ffff03"/><stop offset="0.3578" stop-color="#ffff32"/><stop offset="0.3669" stop-color="#ffff4c"/><stop offset="0.3790" stop-color="#ffff5a"/><stop offset="0.3851" stop-color="#ffff56"/><stop offset="0.3911" stop-color="#ffff4a"/><stop offset="0.3972" stop-color="#ffff37"/><stop offset="0.4063" stop-color="#ffff0d"/><stop offset="0.4093" stop-color="#fffc00"/><stop offset="0.4245" stop-color="#ffb300"/><stop offset="0.4366" stop-color="#ff6500"/><stop offset="0.4488" stop-color="#ff0800"/><stop offset="0.4518" stop-color="#ee0000"/><stop offset="0.4730" stop-color="#490000"/><stop offset="0.4821" stop-color="#120000"/><stop offset="0.4851" stop-color="#0b0000"/><stop offset="0.5124" stop-color="#0b0000"/><stop offset="0.5185" stop-color="#280000"/><stop offset="0.5428" stop-color="#cd0000"/><stop offset="0.5488" stop-color="#f20000"/><stop offset="0.5518" stop-color="#ff0300"/><stop offset="0.5640" stop-color="#ff3800"/><stop offset="0.5761" stop-color="#ff5900"/><stop offset="0.6095" stop-color="#ff9000"/><stop offset="0.6458" stop-color="#ffe400"/><stop offset="0.6671" stop-color="#ffff02"/><stop offset="0.6792" stop-color="#ffff0f"/><stop offset="0.6883" stop-color="#ffff12"/><stop offset="0.7004" stop-color="#ffff0d"/><stop offset="0.7126" stop-color="#fffe00"/><stop offset="0.7671" stop-color="#ffbb00"/><stop offset="0.7853" stop-color="#ffac00"/><stop offset="0.8065" stop-color="#ffa300"/><stop offset="0.8490" stop-color="#ff9e00"/><stop offset="0.9976" stop-color="#ff9d00"/></linearGradient><linearGradient id="g81" x2="0" y2="1"><stop offset="0.0000" stop-color="#ff9d00"/><stop offset="0.2820" stop-color="#ffa100"/><stop offset="0.2971" stop-color="#ffa700"/><stop offset="0.3123" stop-color="#ffb600"/><stop offset="0.3275" stop-color="#ffd100"/><stop offset="0.3426" stop-color="#fff700"/><stop offset="0.3457" stop-color="#ffff01"/><stop offset="0.3578" stop-color="#ffff30"/><stop offset="0.3669" stop-color="#ffff4b"/><stop offset="0.3790" stop-color="#ffff5b"/><stop offset="0.3851" stop-color="#ffff58"/><stop offset="0.3942" stop-color="#ffff45"/><stop offset="0.4002" stop-color="#ffff2f"/><stop offset="0.4093" stop-color="#ffff01"/><stop offset="0.4184" stop-color="#ffd700"/><stop offset="0.4275" stop-color="#ffa500"/><stop offset="0.4366" stop-color="#ff6900"/><stop offset="0.4488" stop-color="#ff0c00"/><stop offset="0.4518" stop-color="#f20000"/><stop offset="0.4669" stop-color="#780000"/><stop offset="0.4760" stop-color="#360000"/><stop offset="0.4821" stop-color="#130000"/><stop offset="0.4851" stop-color="#0b0000"/><stop offset="0.5124" stop-color="#0b0000"/><stop offset="0.5155" stop-color="#0f0000"/><stop offset="0.5246" stop-color="#460000"/><stop offset="0.5458" stop-color="#d90000"/><stop offset="0.5518" stop-color="#fc0000"/><stop offset="0.5549" stop-color="#ff0d00"/><stop offset="0.5670" stop-color="#ff3e00"/><stop offset="0.5791" stop-color="#ff5e00"/><stop offset="0.6125" stop-color="#ff9600"/><stop offset="0.6428" stop-color="#ffde00"/><stop offset="0.6671" stop-color="#ffff02"/><stop offset="0.6792" stop-color="#ffff0f"/><stop offset="0.6883" stop-color="#ffff12"/><stop offset="0.7004" stop-color="#ffff0d"/><stop offset="0.7126" stop-color="#fffe00"/><stop offset="0.7671" stop-color="#ffbb00"/><stop offset="0.7853" stop-color="#ffac00"/><stop offset="0.8065" stop-color="#ffa300"/><stop offset="0.8490" stop-color="#ff9e00"/><stop offset="0.9976" stop-color="#ff9d00"/></linearGradient><linearGradient id="g82" x2="0" y2="1"><stop offset="0.0000" stop-color="#ff9d00"/><stop offset="0.2820" stop-color="#ffa000"/><stop offset="0.3002" stop-color="#ffa900"/><stop offset="0.3153" stop-color="#ffba00"/><stop offset="0.3305" stop-color="#ffd700"/><stop offset="0.3457" stop-color="#fffe00"/><stop offset="0.3639" stop-color="#ffff42"/><stop offset="0.3730" stop-color="#ffff57"/><stop offset="0.3790" stop-color="#ffff5c"/><stop offset="0.3851" stop-color="#ffff5a"/><stop offset="0.3942" stop-color="#ffff49"/><stop offset="0.4002" stop-color="#ffff33"/><stop offset="0.4093" stop-color="#ffff06"/><stop offset="0.4154" stop-color="#ffe900"/><stop offset="0.4275" stop-color="#ffa900"/><stop offset="0.4366" stop-color="#ff6d00"/><stop offset="0.4488" stop-color="#ff1000"/><stop offset="0.4518" stop-color="#f60000"/><stop offset="0.4730" stop-color="#4e0000"/><stop offset="0.4821" stop-color="#140000"/><stop offset="0.4851" stop-color="#0b0000"/><stop offset="0.5155" stop-color="#0b0000"/><stop offset="0.5185" stop-color="#170000"/><stop offset="0.5246" stop-color="#3d0000"/><stop offset="0.5458" stop-color="#d10000"/><stop offset="0.5518" stop-color="#f50000"/><stop offset="0.5549" stop-color="#ff0600"/><stop offset="0.5670" stop-color="#ff3a00"/><stop offset="0.5791" stop-color="#ff5c00"/><stop offset="0.6125" stop-color="#ff9600"/><stop offset="0.6428" stop-color="#ffde00"/><stop offset="0.6671" stop-color="#ffff02"/><stop offset="0.6792" stop-color="#ffff0f"/><stop offset="0.6883" stop-color="#ffff12"/><stop offset="0.7004" stop-color="#ffff0d"/><stop offset="0.7126" stop-color="#fffe00"/><stop offset="0.7671" stop-color="#ffbb00"/><stop offset="0.7853" stop-color="#ffac00"/><stop offset="0.8065" stop-color="#ffa300"/><stop offset="0.8490" stop-color="#ff9e00"/><stop offset="0.9976" stop-color="#ff9d00"/></linearGradient><linearGradient id="g83" x2="0" y2="1"><stop offset="0.0000" stop-color="#ff9d00"/><stop offset="0.2850" stop-color="#ffa100"/><stop offset="0.3002" stop-color="#ffa900"/><stop offset="0.3153" stop-color="#ffb900"/><stop offset="0.3305" stop-color="#ffd500"/><stop offset="0.3457" stop-color="#fffc00"/><stop offset="0.3669" stop-color="#ffff4a"/><stop offset="0.3760" stop-color="#ffff5b"/><stop offset="0.3820" stop-color="#ffff5e"/><stop offset="0.3881" stop-color="#ffff59"/><stop offset="0.3942" stop-color="#ffff4c"/><stop offset="0.4002" stop-color="#ffff37"/><stop offset="0.4093" stop-color="#ffff0b"/><stop offset="0.4124" stop-color="#fffa00"/><stop offset="0.4154" stop-color="#ffed00"/><stop offset="0.4275" stop-color="#ffad00"/><stop offset="0.4366" stop-color="#ff7200"/><stop offset="0.4518" stop-color="#fb0000"/><stop offset="0.4730" stop-color="#500000"/><stop offset="0.4821" stop-color="#150000"/><stop offset="0.4851" stop-color="#0b0000"/><stop offset="0.5155" stop-color="#0b0000"/><stop offset="0.5185" stop-color="#0f0000"/><stop offset="0.5276" stop-color="#480000"/><stop offset="0.5458" stop-color="#c90000"/><stop offset="0.5549" stop-color="#ff0000"/><stop offset="0.5670" stop-color="#ff3600"/><stop offset="0.5791" stop-color="#ff5900"/><stop offset="0.6125" stop-color="#ff9600"/><stop offset="0.6428" stop-color="#ffde00"/><stop offset="0.6671" stop-color="#ffff02"/><stop offset="0.6792" stop-color="#ffff0f"/><stop offset="0.6883" stop-color="#ffff12"/><stop offset="0.7004" stop-color="#ffff0d"/><stop offset="0.7126" stop-color="#fffe00"/><stop offset="0.7671" stop-color="#ffbb00"/><stop offset="0.7853" stop-color="#ffac00"/><stop offset="0.8065" stop-color="#ffa300"/><stop offset="0.8490" stop-color="#ff9e00"/><stop offset="0.9976" stop-color="#ff9d00"/></linearGradient><linearGradient id="g84" x2="0" y2="1"><stop offset="0.0000" stop-color="#ff9d00"/><stop offset="0.2850" stop-color="#ffa100"/><stop offset="0.3002" stop-color="#ffa800"/><stop offset="0.3153" stop-color="#ffb800"/><stop offset="0.3305" stop-color="#ffd400"/><stop offset="0.3457" stop-color="#fffa00"/><stop offset="0.3487" stop-color="#ffff06"/><stop offset="0.3669" stop-color="#ffff48"/><stop offset="0.3760" stop-color="#ffff5b"/><stop offset="0.3820" stop-color="#ffff5f"/><stop offset="0.3881" stop-color="#ffff5b"/><stop offset="0.3942" stop-color="#ffff4f"/><stop offset="0.4002" stop-color="#ffff3b"/><stop offset="0.4093" stop-color="#ffff10"/><stop offset="0.4124" stop-color="#fffe00"/><stop offset="0.4275" stop-color="#ffb200"/><stop offset="0.4397" stop-color="#ff6000"/><stop offset="0.4518" stop-color="#ff0000"/><stop offset="0.4730" stop-color="#530000"/><stop offset="0.4821" stop-color="#170000"/><stop offset="0.4851" stop-color="#0b0000"/><stop offset="0.5185" stop-color="#0b0000"/><stop offset="0.5246" stop-color="#2b0000"/><stop offset="0.5488" stop-color="#d40000"/><stop offset="0.5549" stop-color="#f80000"/><stop offset="0.5579" stop-color="#ff0900"/><stop offset="0.5700" stop-color="#ff3d00"/><stop offset="0.5822" stop-color="#ff5e00"/><stop offset="0.6125" stop-color="#ff9600"/><stop offset="0.6428" stop-color="#ffde00"/><stop offset="0.6671" stop-color="#ffff02"/><stop offset="0.6792" stop-color="#ffff0f"/><stop offset="0.6883" stop-color="#ffff12"/><stop offset="0.7004" stop-color="#ffff0d"/><stop offset="0.7126" stop-color="#fffe00"/><stop offset="0.7671" stop-color="#ffbb00"/><stop offset="0.7853" stop-color="#ffac00"/><stop offset="0.8065" stop-color="#ffa300"/><stop offset="0.8490" stop-color="#ff9e00"/><stop offset="0.9976" stop-color="#ff9d00"/></linearGradient><linearGradient id="g85" x2="0" y2="1"><stop offset="0.0000" stop-color="#ff9d00"/><stop offset="0.2850" stop-color="#ffa100"/><stop offset="0.3002" stop-color="#ffa800"/><stop offset="0.3153" stop-color="#ffb700"/><stop offset="0.3305" stop-color="#ffd200"/><stop offset="0.3457" stop-color="#fff900"/><stop offset="0.3487" stop-color="#ffff03"/><stop offset="0.3608" stop-color="#ffff33"/><stop offset="0.3699" stop-color="#ffff4f"/><stop offset="0.3820" stop-color="#ffff60"/><stop offset="0.3881" stop-color="#ffff5d"/><stop offset="0.3972" stop-color="#ffff4a"/><stop offset="0.4033" stop-color="#ffff33"/><stop offset="0.4124" stop-color="#ffff03"/><stop offset="0.4215" stop-color="#ffd700"/><stop offset="0.4306" stop-color="#ffa300"/><stop offset="0.4397" stop-color="#ff6500"/><stop offset="0.4518" stop-color="#ff0500"/><stop offset="0.4548" stop-color="#ea0000"/><stop offset="0.4730" stop-color="#560000"/><stop offset="0.4821" stop-color="#190000"/><stop offset="0.4851" stop-color="#0b0000"/><stop offset="0.5185" stop-color="#0b0000"/><stop offset="0.5215" stop-color="#100000"/><stop offset="0.5276" stop-color="#360000"/><stop offset="0.5488" stop-color="#cc0000"/><stop offset="0.5579" stop-color="#ff0300"/><stop offset="0.5700" stop-color="#ff3900"/><stop offset="0.5822" stop-color="#ff5c00"/><stop offset="0.6125" stop-color="#ff9600"/><stop offset="0.6428" stop-color="#ffde00"/><stop offset="0.6671" stop-color="#ffff02"/><stop offset="0.6792" stop-color="#ffff0f"/><stop offset="0.6883" stop-color="#ffff12"/><stop offset="0.7004" stop-color="#ffff0d"/><stop offset="0.7126" stop-color="#fffe00"/><stop offset="0.7671" stop-color="#ffbb00"/><stop offset="0.7853" stop-color="#ffac00"/><stop offset="0.8065" stop-color="#ffa300"/><stop offset="0.8490" stop-color="#ff9e00"/><stop offset="0.9976" stop-color="#ff9d00"/></linearGradient><linearGradient id="g86" x2="0" y2="1"><stop offset="0.0000" stop-color="#ff9d00"/><stop offset="0.2850" stop-color="#ffa100"/><stop offset="0.3032" stop-color="#ffa900"/><stop offset="0.3184" stop-color="#ffba00"/><stop offset="0.3335" stop-color="#ffd700"/><stop offset="0.3487" stop-color="#ffff00"/><stop offset="0.3608" stop-color="#ffff31"/><stop offset="0.3699" stop-color="#ffff4f"/><stop offset="0.3790" stop-color="#ffff5f"/><stop offset="0.3851" stop-color="#ffff61"/><stop offset="0.3911" stop-color="#ffff5c"/><stop offset="0.3972" stop-color="#ffff4e"/><stop offset="0.4033" stop-color="#ffff38"/><stop offset="0.4124" stop-color="#ffff09"/><stop offset="0.4154" stop-color="#fff800"/><stop offset="0.4184" stop-color="#ffea00"/><stop offset="0.4306" stop-color="#ffa800"/><stop offset="0.4397" stop-color="#ff6900"/><stop offset="0.4518" stop-color="#ff0900"/><stop offset="0.4548" stop-color="#ef0000"/><stop offset="0.4760" stop-color="#430000"/><stop offset="0.4851" stop-color="#0b0000"/><stop offset="0.5215" stop-color="#0b0000"/><stop offset="0.5276" stop-color="#2e0000"/><stop offset="0.5518" stop-color="#d80000"/><stop offset="0.5579" stop-color="#fb0000"/><stop offset="0.5609" stop-color="#ff0c00"/><stop offset="0.5731" stop-color="#ff3f00"/><stop offset="0.5852" stop-color="#ff6100"/><stop offset="0.6125" stop-color="#ff9600"/><stop offset="0.6428" stop-color="#ffde00"/><stop offset="0.6549" stop-color="#fff200"/><stop offset="0.6671" stop-color="#ffff02"/><stop offset="0.6792" stop-color="#ffff0f"/><stop offset="0.6883" stop-color="#ffff12"/><stop offset="0.7004" stop-color="#ffff0d"/><stop offset="0.7126" stop-color="#fffe00"/><stop offset="0.7671" stop-color="#ffbb00"/><stop offset="0.7853" stop-color="#ffac00"/><stop offset="0.8065" stop-color="#ffa300"/><stop offset="0.8490" stop-color="#ff9e00"/><stop offset="0.9976" stop-color="#ff9d00"/></linearGradient><linearGradient id="g87" x2="0" y2="1"><stop offset="0.0000" stop-color="#ff9d00"/><stop offset="0.2881" stop-color="#ffa100"/><stop offset="0.3032" stop-color="#ffa900"/><stop offset="0.3184" stop-color="#ffb900"/><stop offset="0.3335" stop-color="#ffd600"/><stop offset="0.3487" stop-color="#fffe00"/><stop offset="0.3699" stop-color="#ffff4e"/><stop offset="0.3790" stop-color="#ffff60"/><stop offset="0.3851" stop-color="#ffff63"/><stop offset="0.3911" stop-color="#ffff5e"/><stop offset="0.3972" stop-color="#ffff51"/><stop offset="0.4033" stop-color="#ffff3c"/><stop offset="0.4124" stop-color="#ffff0e"/><stop offset="0.4154" stop-color="#fffc00"/><stop offset="0.4306" stop-color="#ffac00"/><stop offset="0.4397" stop-color="#ff6e00"/><stop offset="0.4518" stop-color="#ff0e00"/><stop offset="0.4548" stop-color="#f40000"/><stop offset="0.4700" stop-color="#750000"/><stop offset="0.4791" stop-color="#310000"/><stop offset="0.4851" stop-color="#0b0000"/><stop offset="0.4882" stop-color="#0b0000"/><stop offset="0.5215" stop-color="#0b0000"/><stop offset="0.5246" stop-color="#120000"/><stop offset="0.5518" stop-color="#d00000"/><stop offset="0.5579" stop-color="#f50000"/><stop offset="0.5609" stop-color="#ff0600"/><stop offset="0.5731" stop-color="#ff3b00"/><stop offset="0.5852" stop-color="#ff5f00"/><stop offset="0.6125" stop-color="#ff9600"/><stop offset="0.6428" stop-color="#ffde00"/><stop offset="0.6549" stop-color="#fff200"/><stop offset="0.6671" stop-color="#ffff02"/><stop offset="0.6792" stop-color="#ffff0f"/><stop offset="0.6883" stop-color="#ffff12"/><stop offset="0.7004" stop-color="#ffff0d"/><stop offset="0.7126" stop-color="#fffe00"/><stop offset="0.7671" stop-color="#ffbb00"/><stop offset="0.7853" stop-color="#ffac00"/><stop offset="0.8065" stop-color="#ffa300"/><stop offset="0.8490" stop-color="#ff9e00"/><stop offset="0.9976" stop-color="#ff9d00"/></linearGradient><linearGradient id="g88" x2="0" y2="1"><stop offset="0.0000" stop-color="#ff9d00"/><stop offset="0.2881" stop-color="#ffa100"/><stop offset="0.3032" stop-color="#ffa800"/><stop offset="0.3184" stop-color="#ffb800"/><stop offset="0.3335" stop-color="#ffd400"/><stop offset="0.3487" stop-color="#fffc00"/><stop offset="0.3699" stop-color="#ffff4c"/><stop offset="0.3790" stop-color="#ffff60"/><stop offset="0.3851" stop-color="#ffff64"/><stop offset="0.3911" stop-color="#ffff60"/><stop offset="0.4002" stop-color="#ffff4b"/><stop offset="0.4063" stop-color="#ffff33"/><stop offset="0.4154" stop-color="#ffff01"/><stop offset="0.4245" stop-color="#ffd300"/><stop offset="0.4336" stop-color="#ff9d00"/><stop offset="0.4427" stop-color="#ff5c00"/><stop offset="0.4518" stop-color="#ff1300"/><stop offset="0.4548" stop-color="#f80000"/><stop offset="0.4700" stop-color="#790000"/><stop offset="0.4791" stop-color="#340000"/><stop offset="0.4851" stop-color="#0d0000"/><stop offset="0.4882" stop-color="#0b0000"/><stop offset="0.5246" stop-color="#0b0000"/><stop offset="0.5306" stop-color="#310000"/><stop offset="0.5518" stop-color="#c80000"/><stop offset="0.5609" stop-color="#ff0000"/><stop offset="0.5731" stop-color="#ff3700"/><stop offset="0.5882" stop-color="#ff6400"/><stop offset="0.6125" stop-color="#ff9500"/><stop offset="0.6428" stop-color="#ffde00"/><stop offset="0.6549" stop-color="#fff200"/><stop offset="0.6671" stop-color="#ffff02"/><stop offset="0.6792" stop-color="#ffff0f"/><stop offset="0.6883" stop-color="#ffff12"/><stop offset="0.7004" stop-color="#ffff0d"/><stop offset="0.7126" stop-color="#fffe00"/><stop offset="0.7671" stop-color="#ffbb00"/><stop offset="0.7853" stop-color="#ffac00"/><stop offset="0.8065" stop-color="#ffa300"/><stop offset="0.8490" stop-color="#ff9e00"/><stop offset="0.9976" stop-color="#ff9d00"/></linearGradient><linearGradient id="g89" x2="0" y2="1"><stop offset="0.0000" stop-color="#ff9d00"/><stop offset="0.2881" stop-color="#ffa100"/><stop offset="0.3032" stop-color="#ffa800"/><stop offset="0.3184" stop-color="#ffb700"/><stop offset="0.3335" stop-color="#ffd300"/><stop offset="0.3487" stop-color="#fffa00"/><stop offset="0.3517" stop-color="#ffff05"/><stop offset="0.3639" stop-color="#ffff37"/><stop offset="0.3730" stop-color="#ffff54"/><stop offset="0.3790" stop-color="#ffff60"/><stop offset="0.3851" stop-color="#ffff65"/><stop offset="0.3942" stop-color="#ffff5e"/><stop offset="0.4002" stop-color="#ffff4f"/><stop offset="0.4063" stop-color="#ffff38"/><stop offset="0.4154" stop-color="#ffff06"/><stop offset="0.4215" stop-color="#ffe700"/><stop offset="0.4336" stop-color="#ffa100"/><stop offset="0.4427" stop-color="#ff6100"/><stop offset="0.4548" stop-color="#fd0000"/><stop offset="0.4700" stop-color="#7d0000"/><stop offset="0.4791" stop-color="#380000"/><stop offset="0.4851" stop-color="#100000"/><stop offset="0.4882" stop-color="#0b0000"/><stop offset="0.5246" stop-color="#0b0000"/><stop offset="0.5276" stop-color="#150000"/><stop offset="0.5306" stop-color="#280000"/><stop offset="0.5488" stop-color="#ab0000"/><stop offset="0.5579" stop-color="#e60000"/><stop offset="0.5609" stop-color="#f80000"/><stop offset="0.5640" stop-color="#ff0900"/><stop offset="0.5761" stop-color="#ff3e00"/><stop offset="0.5882" stop-color="#ff6200"/><stop offset="0.6125" stop-color="#ff9500"/><stop offset="0.6398" stop-color="#ffd800"/><stop offset="0.6549" stop-color="#fff200"/><stop offset="0.6671" stop-color="#ffff02"/><stop offset="0.6792" stop-color="#ffff0f"/><stop offset="0.6883" stop-color="#ffff12"/><stop offset="0.7004" stop-color="#ffff0d"/><stop offset="0.7126" stop-color="#fffe00"/><stop offset="0.7671" stop-color="#ffbb00"/><stop offset="0.7853" stop-color="#ffac00"/><stop offset="0.8065" stop-color="#ffa300"/><stop offset="0.8490" stop-color="#ff9e00"/><stop offset="0.9976" stop-color="#ff9d00"/></linearGradient><linearGradient id="g90" x2="0" y2="1"><stop offset="0.0000" stop-color="#ff9d00"/><stop offset="0.2881" stop-color="#ffa100"/><stop offset="0.3062" stop-color="#ffa900"/><stop offset="0.3214" stop-color="#ffba00"/><stop offset="0.3335" stop-color="#ffd100"/><stop offset="0.3487" stop-color="#fff800"/><stop offset="0.3517" stop-color="#ffff02"/><stop offset="0.3639" stop-color="#ffff35"/><stop offset="0.3730" stop-color="#ffff53"/><stop offset="0.3820" stop-color="#ffff64"/><stop offset="0.3881" stop-color="#ffff67"/><stop offset="0.3942" stop-color="#ffff61"/><stop offset="0.4002" stop-color="#ffff53"/><stop offset="0.4063" stop-color="#ffff3c"/><stop offset="0.4154" stop-color="#ffff0c"/><stop offset="0.4184" stop-color="#fffa00"/><stop offset="0.4215" stop-color="#ffeb00"/><stop offset="0.4336" stop-color="#ffa600"/><stop offset="0.4427" stop-color="#ff6600"/><stop offset="0.4548" stop-color="#ff0300"/><stop offset="0.4791" stop-color="#3b0000"/><stop offset="0.4851" stop-color="#120000"/><stop offset="0.4882" stop-color="#0b0000"/><stop offset="0.5276" stop-color="#0d0000"/><stop offset="0.5549" stop-color="#cb0000"/><stop offset="0.5640" stop-color="#ff0300"/><stop offset="0.5761" stop-color="#ff3a00"/><stop offset="0.5913" stop-color="#ff6700"/><stop offset="0.6125" stop-color="#ff9500"/><stop offset="0.6398" stop-color="#ffd800"/><stop offset="0.6549" stop-color="#fff200"/><stop offset="0.6671" stop-color="#ffff02"/><stop offset="0.6792" stop-color="#ffff0f"/><stop offset="0.6883" stop-color="#ffff12"/><stop offset="0.7004" stop-color="#ffff0d"/><stop offset="0.7126" stop-color="#fffe00"/><stop offset="0.7671" stop-color="#ffbb00"/><stop offset="0.7853" stop-color="#ffac00"/><stop offset="0.8065" stop-color="#ffa300"/><stop offset="0.8490" stop-color="#ff9e00"/><stop offset="0.9976" stop-color="#ff9d00"/></linearGradient><linearGradient id="g91" x2="0" y2="1"><stop offset="0.0000" stop-color="#ff9d00"/><stop offset="0.2911" stop-color="#ffa100"/><stop offset="0.3062" stop-color="#ffa900"/><stop offset="0.3214" stop-color="#ffb900"/><stop offset="0.3366" stop-color="#ffd600"/><stop offset="0.3517" stop-color="#ffff00"/><stop offset="0.3639" stop-color="#ffff32"/><stop offset="0.3730" stop-color="#ffff52"/><stop offset="0.3820" stop-color="#ffff64"/><stop offset="0.3881" stop-color="#ffff68"/><stop offset="0.3942" stop-color="#ffff63"/><stop offset="0.4002" stop-color="#ffff56"/><stop offset="0.4063" stop-color="#ffff41"/><stop offset="0.4154" stop-color="#ffff11"/><stop offset="0.4184" stop-color="#fffe00"/><stop offset="0.4275" stop-color="#ffcf00"/><stop offset="0.4336" stop-color="#ffab00"/><stop offset="0.4427" stop-color="#ff6b00"/><stop offset="0.4548" stop-color="#ff0800"/><stop offset="0.4579" stop-color="#ed0000"/><stop offset="0.4791" stop-color="#3f0000"/><stop offset="0.4851" stop-color="#150000"/><stop offset="0.4882" stop-color="#0b0000"/><stop offset="0.5276" stop-color="#0b0000"/><stop offset="0.5337" stop-color="#2c0000"/><stop offset="0.5579" stop-color="#d70000"/><stop offset="0.5640" stop-color="#fb0000"/><stop offset="0.5670" stop-color="#ff0c00"/><stop offset="0.5791" stop-color="#ff4100"/><stop offset="0.5913" stop-color="#ff6500"/><stop offset="0.6398" stop-color="#ffd800"/><stop offset="0.6549" stop-color="#fff200"/><stop offset="0.6671" stop-color="#ffff02"/><stop offset="0.6792" stop-color="#ffff0f"/><stop offset="0.6883" stop-color="#ffff12"/><stop offset="0.7004" stop-color="#ffff0d"/><stop offset="0.7126" stop-color="#fffe00"/><stop offset="0.7671" stop-color="#ffbb00"/><stop offset="0.7853" stop-color="#ffac00"/><stop offset="0.8065" stop-color="#ffa300"/><stop offset="0.8490" stop-color="#ff9e00"/><stop offset="0.9976" stop-color="#ff9d00"/></linearGradient><linearGradient id="g92" x2="0" y2="1"><stop offset="0.0000" stop-color="#ff9d00"/><stop offset="0.2911" stop-color="#ffa100"/><stop offset="0.3062" stop-color="#ffa800"/><stop offset="0.3214" stop-color="#ffb800"/><stop offset="0.3366" stop-color="#ffd500"/><stop offset="0.3517" stop-color="#fffd00"/><stop offset="0.3730" stop-color="#ffff50"/><stop offset="0.3820" stop-color="#ffff65"/><stop offset="0.3881" stop-color="#ffff69"/><stop offset="0.3972" stop-color="#ffff61"/><stop offset="0.4033" stop-color="#ffff50"/><stop offset="0.4093" stop-color="#ffff38"/><stop offset="0.4184" stop-color="#ffff04"/><stop offset="0.4275" stop-color="#ffd400"/><stop offset="0.4366" stop-color="#ff9b00"/><stop offset="0.4457" stop-color="#ff5800"/><stop offset="0.4548" stop-color="#ff0d00"/><stop offset="0.4579" stop-color="#f20000"/><stop offset="0.4760" stop-color="#5a0000"/><stop offset="0.4851" stop-color="#190000"/><stop offset="0.4882" stop-color="#0b0000"/><stop offset="0.5276" stop-color="#0b0000"/><stop offset="0.5306" stop-color="#100000"/><stop offset="0.5579" stop-color="#cf0000"/><stop offset="0.5640" stop-color="#f40000"/><stop offset="0.5670" stop-color="#ff0600"/><stop offset="0.5791" stop-color="#ff3d00"/><stop offset="0.5943" stop-color="#ff6a00"/><stop offset="0.6398" stop-color="#ffd800"/><stop offset="0.6549" stop-color="#fff200"/><stop offset="0.6671" stop-color="#ffff02"/><stop offset="0.6792" stop-color="#ffff0f"/><stop offset="0.6883" stop-color="#ffff12"/><stop offset="0.7004" stop-color="#ffff0d"/><stop offset="0.7126" stop-color="#fffe00"/><stop offset="0.7671" stop-color="#ffba00"/><stop offset="0.7853" stop-color="#ffac00"/><stop offset="0.8065" stop-color="#ffa300"/><stop offset="0.8490" stop-color="#ff9e00"/><stop offset="0.9976" stop-color="#ff9d00"/></linearGradient><linearGradient id="g93" x2="0" y2="1"><stop offset="0.0000" stop-color="#ff9d00"/><stop offset="0.2911" stop-color="#ffa100"/><stop offset="0.3062" stop-color="#ffa800"/><stop offset="0.3214" stop-color="#ffb700"/><stop offset="0.3366" stop-color="#ffd300"/><stop offset="0.3517" stop-color="#fffb00"/><stop offset="0.3548" stop-color="#ffff07"/><stop offset="0.3730" stop-color="#ffff4f"/><stop offset="0.3820" stop-color="#ffff65"/><stop offset="0.3881" stop-color="#ffff6a"/><stop offset="0.3972" stop-color="#ffff64"/><stop offset="0.4033" stop-color="#ffff54"/><stop offset="0.4093" stop-color="#ffff3c"/><stop offset="0.4184" stop-color="#ffff09"/><stop offset="0.4215" stop-color="#fff700"/><stop offset="0.4336" stop-color="#ffb400"/><stop offset="0.4427" stop-color="#ff7500"/><stop offset="0.4548" stop-color="#ff1300"/><stop offset="0.4579" stop-color="#f80000"/><stop offset="0.4760" stop-color="#5e0000"/><stop offset="0.4821" stop-color="#310000"/><stop offset="0.4882" stop-color="#0b0000"/><stop offset="0.5306" stop-color="#0b0000"/><stop offset="0.5367" stop-color="#300000"/><stop offset="0.5579" stop-color="#c70000"/><stop offset="0.5670" stop-color="#fe0000"/><stop offset="0.5791" stop-color="#ff3800"/><stop offset="0.5943" stop-color="#ff6800"/><stop offset="0.6398" stop-color="#ffd800"/><stop offset="0.6549" stop-color="#fff200"/><stop offset="0.6671" stop-color="#ffff02"/><stop offset="0.6792" stop-color="#ffff0f"/><stop offset="0.6883" stop-color="#ffff12"/><stop offset="0.7004" stop-color="#ffff0d"/><stop offset="0.7126" stop-color="#fffe00"/><stop offset="0.7671" stop-color="#ffba00"/><stop offset="0.7853" stop-color="#ffac00"/><stop offset="0.8065" stop-color="#ffa300"/><stop offset="0.8490" stop-color="#ff9e00"/><stop offset="0.9976" stop-color="#ff9d00"/></linearGradient><linearGradient id="g94" x2="0" y2="1"><stop offset="0.0000" stop-color="#ff9d00"/><stop offset="0.2911" stop-color="#ffa100"/><stop offset="0.3093" stop-color="#ffa900"/><stop offset="0.3244" stop-color="#ffbb00"/><stop offset="0.3366" stop-color="#ffd200"/><stop offset="0.3517" stop-color="#fff900"/><stop offset="0.3548" stop-color="#ffff04"/><stop offset="0.3669" stop-color="#ffff38"/><stop offset="0.3760" stop-color="#ffff57"/><stop offset="0.3851" stop-color="#ffff69"/><stop offset="0.3911" stop-color="#ffff6c"/><stop offset="0.3972" stop-color="#ffff66"/><stop offset="0.4033" stop-color="#ffff58"/><stop offset="0.4093" stop-color="#ffff41"/><stop offset="0.4184" stop-color="#ffff0f"/><stop offset="0.4215" stop-color="#fffb00"/><stop offset="0.4336" stop-color="#ffb800"/><stop offset="0.4427" stop-color="#ff7a00"/><stop offset="0.4579" stop-color="#fd0000"/><stop offset="0.4730" stop-color="#7b0000"/><stop offset="0.4821" stop-color="#350000"/><stop offset="0.4882" stop-color="#0c0000"/><stop offset="0.4912" stop-color="#0b0000"/><stop offset="0.5306" stop-color="#0b0000"/><stop offset="0.5337" stop-color="#130000"/><stop offset="0.5609" stop-color="#d30000"/><stop offset="0.5670" stop-color="#f80000"/><stop offset="0.5700" stop-color="#ff0900"/><stop offset="0.5791" stop-color="#ff3400"/><stop offset="0.5882" stop-color="#ff5400"/><stop offset="0.6307" stop-color="#ffc300"/><stop offset="0.6489" stop-color="#ffe900"/><stop offset="0.6671" stop-color="#ffff02"/><stop offset="0.6792" stop-color="#ffff0f"/><stop offset="0.6883" stop-color="#ffff12"/><stop offset="0.7004" stop-color="#ffff0d"/><stop offset="0.7126" stop-color="#fffe00"/><stop offset="0.7671" stop-color="#ffba00"/><stop offset="0.7853" stop-color="#ffac00"/><stop offset="0.8065" stop-color="#ffa300"/><stop offset="0.8490" stop-color="#ff9e00"/><stop offset="0.9976" stop-color="#ff9d00"/></linearGradient><linearGradient id="g95" x2="0" y2="1"><stop offset="0.0000" stop-color="#ff9d00"/><stop offset="0.2911" stop-color="#ffa000"/><stop offset="0.3093" stop-color="#ffa900"/><stop offset="0.3244" stop-color="#ffba00"/><stop offset="0.3366" stop-color="#ffd000"/><stop offset="0.3517" stop-color="#fff700"/><stop offset="0.3548" stop-color="#ffff01"/><stop offset="0.3669" stop-color="#ffff35"/><stop offset="0.3760" stop-color="#ffff55"/><stop offset="0.3851" stop-color="#ffff69"/><stop offset="0.3911" stop-color="#ffff6d"/><stop offset="0.4002" stop-color="#ffff63"/><stop offset="0.4063" stop-color="#ffff52"/><stop offset="0.4124" stop-color="#ffff37"/><stop offset="0.4215" stop-color="#ffff00"/><stop offset="0.4306" stop-color="#ffcf00"/><stop offset="0.4397" stop-color="#ff9500"/><stop offset="0.4488" stop-color="#ff5000"/><stop offset="0.4579" stop-color="#ff0300"/><stop offset="0.4821" stop-color="#390000"/><stop offset="0.4882" stop-color="#0f0000"/><stop offset="0.4912" stop-color="#0b0000"/><stop offset="0.5337" stop-color="#0c0000"/><stop offset="0.5609" stop-color="#cb0000"/><stop offset="0.5700" stop-color="#ff0300"/><stop offset="0.5791" stop-color="#ff2f00"/><stop offset="0.5882" stop-color="#ff5100"/><stop offset="0.6307" stop-color="#ffc300"/><stop offset="0.6489" stop-color="#ffe900"/><stop offset="0.6671" stop-color="#ffff02"/><stop offset="0.6792" stop-color="#ffff0f"/><stop offset="0.6883" stop-color="#ffff12"/><stop offset="0.7004" stop-color="#ffff0d"/><stop offset="0.7126" stop-color="#fffe00"/><stop offset="0.7671" stop-color="#ffba00"/><stop offset="0.7853" stop-color="#ffac00"/><stop offset="0.8065" stop-color="#ffa300"/><stop offset="0.8490" stop-color="#ff9e00"/><stop offset="0.9976" stop-color="#ff9d00"/></linearGradient><linearGradient id="g96" x2="0" y2="1"><stop offset="0.0000" stop-color="#ff9d00"/><stop offset="0.2941" stop-color="#ffa100"/><stop offset="0.3093" stop-color="#ffa800"/><stop offset="0.3244" stop-color="#ffb800"/><stop offset="0.3396" stop-color="#ffd500"/><stop offset="0.3548" stop-color="#fffe00"/><stop offset="0.3760" stop-color="#ffff54"/><stop offset="0.3851" stop-color="#ffff69"/><stop offset="0.3911" stop-color="#ffff6f"/><stop offset="0.4002" stop-color="#ffff66"/><stop offset="0.4063" stop-color="#ffff56"/><stop offset="0.4124" stop-color="#ffff3c"/><stop offset="0.4215" stop-color="#ffff06"/><stop offset="0.4275" stop-color="#ffe500"/><stop offset="0.4366" stop-color="#ffae00"/><stop offset="0.4457" stop-color="#ff6d00"/><stop offset="0.4579" stop-color="#ff0900"/><stop offset="0.4609" stop-color="#ee0000"/><stop offset="0.4730" stop-color="#850000"/><stop offset="0.4821" stop-color="#3d0000"/><stop offset="0.4882" stop-color="#130000"/><stop offset="0.4912" stop-color="#0b0000"/><stop offset="0.5337" stop-color="#0b0000"/><stop offset="0.5367" stop-color="#170000"/><stop offset="0.5397" stop-color="#2b0000"/><stop offset="0.5640" stop-color="#d70000"/><stop offset="0.5700" stop-color="#fb0000"/><stop offset="0.5731" stop-color="#ff0c00"/><stop offset="0.5822" stop-color="#ff3700"/><stop offset="0.5913" stop-color="#ff5800"/><stop offset="0.6307" stop-color="#ffc300"/><stop offset="0.6489" stop-color="#ffe900"/><stop offset="0.6671" stop-color="#ffff03"/><stop offset="0.6792" stop-color="#ffff0f"/><stop offset="0.6883" stop-color="#ffff12"/><stop offset="0.7004" stop-color="#ffff0d"/><stop offset="0.7126" stop-color="#fffe00"/><stop offset="0.7671" stop-color="#ffba00"/><stop offset="0.7853" stop-color="#ffac00"/><stop offset="0.8065" stop-color="#ffa300"/><stop offset="0.8490" stop-color="#ff9e00"/><stop offset="0.9976" stop-color="#ff9d00"/></linearGradient><linearGradient id="g97" x2="0" y2="1"><stop offset="0.0000" stop-color="#ff9d00"/><stop offset="0.2941" stop-color="#ffa100"/><stop offset="0.3123" stop-color="#ffaa00"/><stop offset="0.3275" stop-color="#ffbc00"/><stop offset="0.3396" stop-color="#ffd400"/><stop offset="0.3548" stop-color="#fffc00"/><stop offset="0.3760" stop-color="#ffff53"/><stop offset="0.3851" stop-color="#ffff69"/><stop offset="0.3911" stop-color="#ffff70"/><stop offset="0.4002" stop-color="#ffff69"/><stop offset="0.4063" stop-color="#ffff5a"/><stop offset="0.4124" stop-color="#ffff41"/><stop offset="0.4215" stop-color="#ffff0c"/><stop offset="0.4245" stop-color="#fff900"/><stop offset="0.4366" stop-color="#ffb300"/><stop offset="0.4457" stop-color="#ff7200"/><stop offset="0.4579" stop-color="#ff0e00"/><stop offset="0.4609" stop-color="#f30000"/><stop offset="0.4821" stop-color="#410000"/><stop offset="0.4882" stop-color="#170000"/><stop offset="0.4912" stop-color="#0b0000"/><stop offset="0.5337" stop-color="#0b0000"/><stop offset="0.5367" stop-color="#0f0000"/><stop offset="0.5640" stop-color="#cf0000"/><stop offset="0.5700" stop-color="#f40000"/><stop offset="0.5731" stop-color="#ff0600"/><stop offset="0.5822" stop-color="#ff3200"/><stop offset="0.5913" stop-color="#ff5400"/><stop offset="0.6307" stop-color="#ffc300"/><stop offset="0.6489" stop-color="#ffe900"/><stop offset="0.6671" stop-color="#ffff03"/><stop offset="0.6792" stop-color="#ffff0f"/><stop offset="0.6883" stop-color="#ffff12"/><stop offset="0.7004" stop-color="#ffff0d"/><stop offset="0.7126" stop-color="#fffe00"/><stop offset="0.7671" stop-color="#ffba00"/><stop offset="0.7853" stop-color="#ffac00"/><stop offset="0.8065" stop-color="#ffa300"/><stop offset="0.8490" stop-color="#ff9e00"/><stop offset="0.9976" stop-color="#ff9d00"/></linearGradient><linearGradient id="g98" x2="0" y2="1"><stop offset="0.0000" stop-color="#ff9d00"/><stop offset="0.2941" stop-color="#ffa100"/><stop offset="0.3123" stop-color="#ffa900"/><stop offset="0.3275" stop-color="#ffbb00"/><stop offset="0.3396" stop-color="#ffd200"/><stop offset="0.3548" stop-color="#fffa00"/><stop offset="0.3578" stop-color="#ffff06"/><stop offset="0.3699" stop-color="#ffff3a"/><stop offset="0.3790" stop-color="#ffff5b"/><stop offset="0.3881" stop-color="#ffff6e"/><stop offset="0.3942" stop-color="#ffff71"/><stop offset="0.4002" stop-color="#ffff6c"/><stop offset="0.4063" stop-color="#ffff5d"/><stop offset="0.4124" stop-color="#ffff46"/><stop offset="0.4215" stop-color="#ffff12"/><stop offset="0.4245" stop-color="#fffd00"/><stop offset="0.4366" stop-color="#ffb800"/><stop offset="0.4457" stop-color="#ff7800"/><stop offset="0.4579" stop-color="#ff1400"/><stop offset="0.4609" stop-color="#f90000"/><stop offset="0.4791" stop-color="#5e0000"/><stop offset="0.4882" stop-color="#1b0000"/><stop offset="0.4912" stop-color="#0b0000"/><stop offset="0.5367" stop-color="#0b0000"/><stop offset="0.5428" stop-color="#300000"/><stop offset="0.5640" stop-color="#c70000"/><stop offset="0.5731" stop-color="#fe0000"/><stop offset="0.5822" stop-color="#ff2d00"/><stop offset="0.5913" stop-color="#ff5100"/><stop offset="0.6277" stop-color="#ffba00"/><stop offset="0.6458" stop-color="#ffe400"/><stop offset="0.6671" stop-color="#ffff03"/><stop offset="0.6792" stop-color="#ffff0f"/><stop offset="0.6883" stop-color="#ffff12"/><stop offset="0.7004" stop-color="#ffff0d"/><stop offset="0.7126" stop-color="#fffe00"/><stop offset="0.7671" stop-color="#ffba00"/><stop offset="0.7853" stop-color="#ffac00"/><stop offset="0.8065" stop-color="#ffa300"/><stop offset="0.8490" stop-color="#ff9e00"/><stop offset="0.9976" stop-color="#ff9d00"/></linearGradient><linearGradient id="g99" x2="0" y2="1"><stop offset="0.0000" stop-color="#ff9d00"/><stop offset="0.2941" stop-color="#ffa000"/><stop offset="0.3123" stop-color="#ffa900"/><stop offset="0.3275" stop-color="#ffba00"/><stop offset="0.3396" stop-color="#ffd000"/><stop offset="0.3548" stop-color="#fff800"/><stop offset="0.3578" stop-color="#ffff03"/><stop offset="0.3699" stop-color="#ffff38"/><stop offset="0.3790" stop-color="#ffff59"/><stop offset="0.3881" stop-color="#ffff6e"/><stop offset="0.3942" stop-color="#ffff72"/><stop offset="0.4033" stop-color="#ffff69"/><stop offset="0.4093" stop-color="#ffff57"/><stop offset="0.4154" stop-color="#ffff3c"/><stop offset="0.4245" stop-color="#ffff03"/><stop offset="0.4306" stop-color="#ffe200"/><stop offset="0.4397" stop-color="#ffa900"/><stop offset="0.4488" stop-color="#ff6500"/><stop offset="0.4609" stop-color="#fe0000"/><stop offset="0.4760" stop-color="#7b0000"/><stop offset="0.4851" stop-color="#340000"/><stop offset="0.4912" stop-color="#0b0000"/><stop offset="0.4942" stop-color="#0b0000"/><stop offset="0.5367" stop-color="#0b0000"/><stop offset="0.5397" stop-color="#130000"/><stop offset="0.5670" stop-color="#d30000"/><stop offset="0.5731" stop-color="#f80000"/><stop offset="0.5761" stop-color="#ff0900"/><stop offset="0.5852" stop-color="#ff3500"/><stop offset="0.5943" stop-color="#ff5800"/><stop offset="0.6307" stop-color="#ffc200"/><stop offset="0.6489" stop-color="#ffe900"/><stop offset="0.6671" stop-color="#ffff03"/><stop offset="0.6792" stop-color="#ffff0f"/><stop offset="0.6883" stop-color="#ffff12"/><stop offset="0.7004" stop-color="#ffff0d"/><stop offset="0.7126" stop-color="#fffe00"/><stop offset="0.7671" stop-color="#ffba00"/><stop offset="0.7853" stop-color="#ffac00"/><stop offset="0.8065" stop-color="#ffa300"/><stop offset="0.8490" stop-color="#ff9e00"/><stop offset="0.9976" stop-color="#ff9d00"/></linearGradient><linearGradient id="g100" x2="0" y2="1"><stop offset="0.0000" stop-color="#ff9d00"/><stop offset="0.2971" stop-color="#ffa100"/><stop offset="0.3123" stop-color="#ffa800"/><stop offset="0.3275" stop-color="#ffb900"/><stop offset="0.3426" stop-color="#ffd600"/><stop offset="0.3578" stop-color="#ffff00"/><stop offset="0.3790" stop-color="#ffff58"/><stop offset="0.3881" stop-color="#ffff6e"/><stop offset="0.3942" stop-color="#ffff74"/><stop offset="0.4033" stop-color="#ffff6c"/><stop offset="0.4093" stop-color="#ffff5b"/><stop offset="0.4154" stop-color="#ffff41"/><stop offset="0.4245" stop-color="#ffff09"/><stop offset="0.4275" stop-color="#fff600"/><stop offset="0.4397" stop-color="#ffae00"/><stop offset="0.4488" stop-color="#ff6b00"/><stop offset="0.4609" stop-color="#ff0500"/><stop offset="0.4639" stop-color="#e90000"/><stop offset="0.4760" stop-color="#810000"/><stop offset="0.4851" stop-color="#390000"/><stop offset="0.4912" stop-color="#0f0000"/><stop offset="0.4942" stop-color="#0b0000"/><stop offset="0.5397" stop-color="#0c0000"/><stop offset="0.5670" stop-color="#cb0000"/><stop offset="0.5761" stop-color="#ff0300"/><stop offset="0.5852" stop-color="#ff3000"/><stop offset="0.5943" stop-color="#ff5400"/><stop offset="0.6277" stop-color="#ffb900"/><stop offset="0.6458" stop-color="#ffe400"/><stop offset="0.6671" stop-color="#ffff03"/><stop offset="0.6792" stop-color="#ffff0f"/><stop offset="0.6883" stop-color="#ffff12"/><stop offset="0.6974" stop-color="#ffff0f"/><stop offset="0.7126" stop-color="#fffe00"/><stop offset="0.7671" stop-color="#ffba00"/><stop offset="0.7853" stop-color="#ffac00"/><stop offset="0.8065" stop-color="#ffa300"/><stop offset="0.8490" stop-color="#ff9e00"/><stop offset="0.9976" stop-color="#ff9d00"/></linearGradient><linearGradient id="g101" x2="0" y2="1"><stop offset="0.0000" stop-color="#ff9d00"/><stop offset="0.2971" stop-color="#ffa100"/><stop offset="0.3153" stop-color="#ffaa00"/><stop offset="0.3305" stop-color="#ffbc00"/><stop offset="0.3426" stop-color="#ffd400"/><stop offset="0.3578" stop-color="#fffd00"/><stop offset="0.3730" stop-color="#ffff3f"/><stop offset="0.3820" stop-color="#ffff60"/><stop offset="0.3911" stop-color="#ffff72"/><stop offset="0.3972" stop-color="#ffff75"/><stop offset="0.4033" stop-color="#ffff6f"/><stop offset="0.4093" stop-color="#ffff5f"/><stop offset="0.4154" stop-color="#ffff46"/><stop offset="0.4245" stop-color="#ffff10"/><stop offset="0.4275" stop-color="#fffb00"/><stop offset="0.4397" stop-color="#ffb300"/><stop offset="0.4488" stop-color="#ff7000"/><stop offset="0.4609" stop-color="#ff0b00"/><stop offset="0.4639" stop-color="#ef0000"/><stop offset="0.4760" stop-color="#860000"/><stop offset="0.4851" stop-color="#3e0000"/><stop offset="0.4912" stop-color="#130000"/><stop offset="0.4942" stop-color="#0b0000"/><stop offset="0.5397" stop-color="#0b0000"/><stop offset="0.5428" stop-color="#180000"/><stop offset="0.5640" stop-color="#ae0000"/><stop offset="0.5731" stop-color="#e90000"/><stop offset="0.5761" stop-color="#fb0000"/><stop offset="0.5791" stop-color="#ff0d00"/><stop offset="0.5882" stop-color="#ff3800"/><stop offset="0.5973" stop-color="#ff5b00"/><stop offset="0.6307" stop-color="#ffc100"/><stop offset="0.6489" stop-color="#ffe900"/><stop offset="0.6671" stop-color="#ffff03"/><stop offset="0.6792" stop-color="#ffff0f"/><stop offset="0.6883" stop-color="#ffff12"/><stop offset="0.6974" stop-color="#ffff0f"/><stop offset="0.7126" stop-color="#fffe00"/><stop offset="0.7671" stop-color="#ffba00"/><stop offset="0.7853" stop-color="#ffac00"/><stop offset="0.8065" stop-color="#ffa300"/><stop offset="0.8490" stop-color="#ff9e00"/><stop offset="0.9976" stop-color="#ff9d00"/></linearGradient><linearGradient id="g102" x2="0" y2="1"><stop offset="0.0000" stop-color="#ff9d00"/><stop offset="0.2971" stop-color="#ffa100"/><stop offset="0.3153" stop-color="#ffa900"/><stop offset="0.3305" stop-color="#ffbb00"/><stop offset="0.3426" stop-color="#ffd200"/><stop offset="0.3578" stop-color="#fffb00"/><stop offset="0.3608" stop-color="#ffff07"/><stop offset="0.3730" stop-color="#ffff3d"/><stop offset="0.3820" stop-color="#ffff5e"/><stop offset="0.3911" stop-color="#ffff73"/><stop offset="0.3972" stop-color="#ffff76"/><stop offset="0.4063" stop-color="#ffff6b"/><stop offset="0.4124" stop-color="#ffff58"/><stop offset="0.4184" stop-color="#ffff3b"/><stop offset="0.4275" stop-color="#ffff00"/><stop offset="0.4336" stop-color="#ffde00"/><stop offset="0.4427" stop-color="#ffa300"/><stop offset="0.4518" stop-color="#ff5e00"/><stop offset="0.4609" stop-color="#ff1100"/><stop offset="0.4639" stop-color="#f50000"/><stop offset="0.4821" stop-color="#5a0000"/><stop offset="0.4912" stop-color="#170000"/><stop offset="0.4942" stop-color="#0b0000"/><stop offset="0.5397" stop-color="#0b0000"/><stop offset="0.5428" stop-color="#100000"/><stop offset="0.5700" stop-color="#cf0000"/><stop offset="0.5761" stop-color="#f40000"/><stop offset="0.5791" stop-color="#ff0600"/><stop offset="0.5882" stop-color="#ff3400"/><stop offset="0.5973" stop-color="#ff5800"/><stop offset="0.6307" stop-color="#ffc100"/><stop offset="0.6489" stop-color="#ffe900"/><stop offset="0.6671" stop-color="#ffff03"/><stop offset="0.6792" stop-color="#ffff0f"/><stop offset="0.6883" stop-color="#ffff12"/><stop offset="0.6974" stop-color="#ffff0f"/><stop offset="0.7126" stop-color="#fffe00"/><stop offset="0.7671" stop-color="#ffba00"/><stop offset="0.7853" stop-color="#ffac00"/><stop offset="0.8065" stop-color="#ffa300"/><stop offset="0.8490" stop-color="#ff9e00"/><stop offset="0.9976" stop-color="#ff9d00"/></linearGradient><linearGradient id="g103" x2="0" y2="1"><stop offset="0.0000" stop-color="#ff9d00"/><stop offset="0.2971" stop-color="#ffa000"/><stop offset="0.3153" stop-color="#ffa900"/><stop offset="0.3305" stop-color="#ffba00"/><stop offset="0.3426" stop-color="#ffd000"/><stop offset="0.3578" stop-color="#fff900"/><stop offset="0.3608" stop-color="#ffff04"/><stop offset="0.3730" stop-color="#ffff3a"/><stop offset="0.3820" stop-color="#ffff5d"/><stop offset="0.3911" stop-color="#ffff73"/><stop offset="0.3972" stop-color="#ffff78"/><stop offset="0.4063" stop-color="#ffff6e"/><stop offset="0.4124" stop-color="#ffff5c"/><stop offset="0.4184" stop-color="#ffff40"/><stop offset="0.4275" stop-color="#ffff06"/><stop offset="0.4336" stop-color="#ffe300"/><stop offset="0.4427" stop-color="#ffa800"/><stop offset="0.4639" stop-color="#fb0000"/><stop offset="0.4821" stop-color="#5f0000"/><stop offset="0.4912" stop-color="#1c0000"/><stop offset="0.4942" stop-color="#0b0000"/><stop offset="0.5428" stop-color="#0b0000"/><stop offset="0.5488" stop-color="#300000"/><stop offset="0.5700" stop-color="#c70000"/><stop offset="0.5791" stop-color="#ff0000"/><stop offset="0.5882" stop-color="#ff2e00"/><stop offset="0.5973" stop-color="#ff5400"/><stop offset="0.6277" stop-color="#ffb800"/><stop offset="0.6458" stop-color="#ffe300"/><stop offset="0.6671" stop-color="#ffff03"/><stop offset="0.6792" stop-color="#ffff0f"/><stop offset="0.6883" stop-color="#ffff12"/><stop offset="0.6974" stop-color="#ffff0f"/><stop offset="0.7126" stop-color="#fffe00"/><stop offset="0.7671" stop-color="#ffba00"/><stop offset="0.7853" stop-color="#ffac00"/><stop offset="0.8065" stop-color="#ffa300"/><stop offset="0.8490" stop-color="#ff9e00"/><stop offset="0.9976" stop-color="#ff9d00"/></linearGradient><linearGradient id="g104" x2="0" y2="1"><stop offset="0.0000" stop-color="#ff9d00"/><stop offset="0.2971" stop-color="#ffa000"/><stop offset="0.3153" stop-color="#ffa800"/><stop offset="0.3305" stop-color="#ffb900"/><stop offset="0.3426" stop-color="#ffcf00"/><stop offset="0.3578" stop-color="#fff700"/><stop offset="0.3608" stop-color="#ffff01"/><stop offset="0.3760" stop-color="#ffff45"/><stop offset="0.3851" stop-color="#ffff65"/><stop offset="0.3911" stop-color="#ffff73"/><stop offset="0.3972" stop-color="#ffff79"/><stop offset="0.4063" stop-color="#ffff71"/><stop offset="0.4124" stop-color="#ffff60"/><stop offset="0.4184" stop-color="#ffff46"/><stop offset="0.4275" stop-color="#ffff0d"/><stop offset="0.4306" stop-color="#fff800"/><stop offset="0.4427" stop-color="#ffae00"/><stop offset="0.4518" stop-color="#ff6900"/><stop offset="0.4639" stop-color="#ff0200"/><stop offset="0.4791" stop-color="#7d0000"/><stop offset="0.4882" stop-color="#360000"/><stop offset="0.4942" stop-color="#0c0000"/><stop offset="0.4973" stop-color="#0b0000"/><stop offset="0.5428" stop-color="#0b0000"/><stop offset="0.5458" stop-color="#140000"/><stop offset="0.5761" stop-color="#e60000"/><stop offset="0.5791" stop-color="#f80000"/><stop offset="0.5822" stop-color="#ff0a00"/><stop offset="0.5913" stop-color="#ff3700"/><stop offset="0.6004" stop-color="#ff5c00"/><stop offset="0.6307" stop-color="#ffc000"/><stop offset="0.6489" stop-color="#ffe900"/><stop offset="0.6671" stop-color="#ffff03"/><stop offset="0.6792" stop-color="#ffff0f"/><stop offset="0.6883" stop-color="#ffff12"/><stop offset="0.6974" stop-color="#ffff0f"/><stop offset="0.7126" stop-color="#fffe00"/><stop offset="0.7671" stop-color="#ffba00"/><stop offset="0.7853" stop-color="#ffac00"/><stop offset="0.8065" stop-color="#ffa300"/><stop offset="0.8490" stop-color="#ff9e00"/><stop offset="0.9976" stop-color="#ff9d00"/></linearGradient><linearGradient id="g105" x2="0" y2="1"><stop offset="0.0000" stop-color="#ff9d00"/><stop offset="0.3002" stop-color="#ffa100"/><stop offset="0.3184" stop-color="#ffaa00"/><stop offset="0.3335" stop-color="#ffbc00"/><stop offset="0.3457" stop-color="#ffd400"/><stop offset="0.3608" stop-color="#fffe00"/><stop offset="0.3760" stop-color="#ffff42"/><stop offset="0.3851" stop-color="#ffff63"/><stop offset="0.3942" stop-color="#ffff77"/><stop offset="0.4002" stop-color="#ffff7a"/><stop offset="0.4063" stop-color="#ffff74"/><stop offset="0.4124" stop-color="#ffff64"/><stop offset="0.4184" stop-color="#ffff4b"/><stop offset="0.4275" stop-color="#ffff13"/><stop offset="0.4306" stop-color="#fffd00"/><stop offset="0.4427" stop-color="#ffb300"/><stop offset="0.4518" stop-color="#ff6f00"/><stop offset="0.4639" stop-color="#ff0800"/><stop offset="0.4669" stop-color="#ec0000"/><stop offset="0.4791" stop-color="#830000"/><stop offset="0.4882" stop-color="#3b0000"/><stop offset="0.4942" stop-color="#110000"/><stop offset="0.4973" stop-color="#0b0000"/><stop offset="0.5458" stop-color="#0d0000"/><stop offset="0.5731" stop-color="#cb0000"/><stop offset="0.5822" stop-color="#ff0300"/><stop offset="0.5913" stop-color="#ff3200"/><stop offset="0.6004" stop-color="#ff5800"/><stop offset="0.6307" stop-color="#ffbf00"/><stop offset="0.6489" stop-color="#ffe800"/><stop offset="0.6671" stop-color="#ffff02"/><stop offset="0.6792" stop-color="#ffff0f"/><stop offset="0.6883" stop-color="#ffff12"/><stop offset="0.6974" stop-color="#ffff0f"/><stop offset="0.7126" stop-color="#fffe00"/><stop offset="0.7671" stop-color="#ffba00"/><stop offset="0.7853" stop-color="#ffac00"/><stop offset="0.8065" stop-color="#ffa300"/><stop offset="0.8490" stop-color="#ff9e00"/><stop offset="0.9976" stop-color="#ff9d00"/></linearGradient><linearGradient id="g106" x2="0" y2="1"><stop offset="0.0000" stop-color="#ff9d00"/><stop offset="0.3002" stop-color="#ffa100"/><stop offset="0.3184" stop-color="#ffa900"/><stop offset="0.3335" stop-color="#ffbb00"/><stop offset="0.3457" stop-color="#ffd200"/><stop offset="0.3608" stop-color="#fffb00"/><stop offset="0.3639" stop-color="#ffff08"/><stop offset="0.3760" stop-color="#ffff3f"/><stop offset="0.3851" stop-color="#ffff62"/><stop offset="0.3942" stop-color="#ffff77"/><stop offset="0.4002" stop-color="#ffff7b"/><stop offset="0.4093" stop-color="#ffff71"/><stop offset="0.4154" stop-color="#ffff5d"/><stop offset="0.4215" stop-color="#ffff40"/><stop offset="0.4306" stop-color="#ffff03"/><stop offset="0.4366" stop-color="#ffdf00"/><stop offset="0.4457" stop-color="#ffa300"/><stop offset="0.4548" stop-color="#ff5c00"/><stop offset="0.4639" stop-color="#ff0e00"/><stop offset="0.4669" stop-color="#f30000"/><stop offset="0.4791" stop-color="#890000"/><stop offset="0.4882" stop-color="#400000"/><stop offset="0.4942" stop-color="#150000"/><stop offset="0.4973" stop-color="#0b0000"/><stop offset="0.5458" stop-color="#0b0000"/><stop offset="0.5488" stop-color="#190000"/><stop offset="0.5700" stop-color="#ae0000"/><stop offset="0.5822" stop-color="#fc0000"/><stop offset="0.5943" stop-color="#ff3b00"/><stop offset="0.6034" stop-color="#ff6000"/><stop offset="0.6307" stop-color="#ffbe00"/><stop offset="0.6489" stop-color="#ffe800"/><stop offset="0.6671" stop-color="#ffff02"/><stop offset="0.6792" stop-color="#ffff0f"/><stop offset="0.6883" stop-color="#ffff12"/><stop offset="0.6974" stop-color="#ffff0f"/><stop offset="0.7126" stop-color="#fffe00"/><stop offset="0.7671" stop-color="#ffba00"/><stop offset="0.8035" stop-color="#ffa400"/><stop offset="0.8490" stop-color="#ff9e00"/><stop offset="0.9976" stop-color="#ff9d00"/></linearGradient><linearGradient id="g107" x2="0" y2="1"><stop offset="0.0000" stop-color="#ff9d00"/><stop offset="0.3002" stop-color="#ffa000"/><stop offset="0.3184" stop-color="#ffa900"/><stop offset="0.3335" stop-color="#ffba00"/><stop offset="0.3457" stop-color="#ffd100"/><stop offset="0.3608" stop-color="#fff900"/><stop offset="0.3639" stop-color="#ffff05"/><stop offset="0.3760" stop-color="#ffff3d"/><stop offset="0.3851" stop-color="#ffff60"/><stop offset="0.3942" stop-color="#ffff77"/><stop offset="0.4002" stop-color="#ffff7d"/><stop offset="0.4093" stop-color="#ffff74"/><stop offset="0.4154" stop-color="#ffff61"/><stop offset="0.4215" stop-color="#ffff45"/><stop offset="0.4306" stop-color="#ffff0a"/><stop offset="0.4336" stop-color="#fff500"/><stop offset="0.4457" stop-color="#ffa800"/><stop offset="0.4548" stop-color="#ff6200"/><stop offset="0.4639" stop-color="#ff1500"/><stop offset="0.4669" stop-color="#f90000"/><stop offset="0.4851" stop-color="#5d0000"/><stop offset="0.4942" stop-color="#1a0000"/><stop offset="0.4973" stop-color="#0b0000"/><stop offset="0.5458" stop-color="#0b0000"/><stop offset="0.5488" stop-color="#110000"/><stop offset="0.5731" stop-color="#bb0000"/><stop offset="0.5822" stop-color="#f50000"/><stop offset="0.5852" stop-color="#ff0700"/><stop offset="0.5943" stop-color="#ff3600"/><stop offset="0.6034" stop-color="#ff5d00"/><stop offset="0.6307" stop-color="#ffbd00"/><stop offset="0.6489" stop-color="#ffe800"/><stop offset="0.6671" stop-color="#ffff02"/><stop offset="0.6792" stop-color="#ffff0f"/><stop offset="0.6883" stop-color="#ffff12"/><stop offset="0.6974" stop-color="#ffff0f"/><stop offset="0.7126" stop-color="#fffe00"/><stop offset="0.7671" stop-color="#ffba00"/><stop offset="0.8035" stop-color="#ffa400"/><stop offset="0.8490" stop-color="#ff9e00"/><stop offset="0.9976" stop-color="#ff9d00"/></linearGradient><linearGradient id="g108" x2="0" y2="1"><stop offset="0.0000" stop-color="#ff9d00"/><stop offset="0.3002" stop-color="#ffa000"/><stop offset="0.3184" stop-color="#ffa800"/><stop offset="0.3335" stop-color="#ffb800"/><stop offset="0.3457" stop-color="#ffcf00"/><stop offset="0.3608" stop-color="#fff700"/><stop offset="0.3639" stop-color="#ffff02"/><stop offset="0.3790" stop-color="#ffff47"/><stop offset="0.3881" stop-color="#ffff68"/><stop offset="0.3942" stop-color="#ffff77"/><stop offset="0.4002" stop-color="#ffff7e"/><stop offset="0.4093" stop-color="#ffff77"/><stop offset="0.4154" stop-color="#ffff65"/><stop offset="0.4215" stop-color="#ffff4a"/><stop offset="0.4306" stop-color="#ffff10"/><stop offset="0.4336" stop-color="#fffa00"/><stop offset="0.4457" stop-color="#ffae00"/><stop offset="0.4548" stop-color="#ff6800"/><stop offset="0.4669" stop-color="#ff0000"/><stop offset="0.4821" stop-color="#7b0000"/><stop offset="0.4912" stop-color="#340000"/><stop offset="0.4973" stop-color="#0b0000"/><stop offset="0.5003" stop-color="#0b0000"/><stop offset="0.5488" stop-color="#0b0000"/><stop offset="0.5761" stop-color="#c70000"/><stop offset="0.5852" stop-color="#ff0000"/><stop offset="0.5943" stop-color="#ff3000"/><stop offset="0.6034" stop-color="#ff5900"/><stop offset="0.6307" stop-color="#ffbc00"/><stop offset="0.6489" stop-color="#ffe800"/><stop offset="0.6671" stop-color="#ffff02"/><stop offset="0.6792" stop-color="#ffff0f"/><stop offset="0.6883" stop-color="#ffff12"/><stop offset="0.6974" stop-color="#ffff0f"/><stop offset="0.7126" stop-color="#fffe00"/><stop offset="0.7671" stop-color="#ffba00"/><stop offset="0.8035" stop-color="#ffa400"/><stop offset="0.8490" stop-color="#ff9e00"/><stop offset="0.9976" stop-color="#ff9d00"/></linearGradient><linearGradient id="g109" x2="0" y2="1"><stop offset="0.0000" stop-color="#ff9d00"/><stop offset="0.3032" stop-color="#ffa100"/><stop offset="0.3214" stop-color="#ffaa00"/><stop offset="0.3366" stop-color="#ffbc00"/><stop offset="0.3487" stop-color="#ffd400"/><stop offset="0.3639" stop-color="#fffe00"/><stop offset="0.3790" stop-color="#ffff44"/><stop offset="0.3881" stop-color="#ffff67"/><stop offset="0.3972" stop-color="#ffff7b"/><stop offset="0.4033" stop-color="#ffff7f"/><stop offset="0.4124" stop-color="#ffff73"/><stop offset="0.4184" stop-color="#ffff5e"/><stop offset="0.4245" stop-color="#ffff3f"/><stop offset="0.4336" stop-color="#ffff00"/><stop offset="0.4397" stop-color="#ffdb00"/><stop offset="0.4488" stop-color="#ff9d00"/><stop offset="0.4669" stop-color="#ff0600"/><stop offset="0.4700" stop-color="#ea0000"/><stop offset="0.4821" stop-color="#810000"/><stop offset="0.4912" stop-color="#390000"/><stop offset="0.4973" stop-color="#100000"/><stop offset="0.5003" stop-color="#0b0000"/><stop offset="0.5488" stop-color="#0b0000"/><stop offset="0.5518" stop-color="#160000"/><stop offset="0.5761" stop-color="#bf0000"/><stop offset="0.5852" stop-color="#f80000"/><stop offset="0.5882" stop-color="#ff0b00"/><stop offset="0.6064" stop-color="#ff6200"/><stop offset="0.6307" stop-color="#ffbb00"/><stop offset="0.6489" stop-color="#ffe700"/><stop offset="0.6671" stop-color="#ffff02"/><stop offset="0.6792" stop-color="#ffff0f"/><stop offset="0.6883" stop-color="#ffff12"/><stop offset="0.6974" stop-color="#ffff0f"/><stop offset="0.7126" stop-color="#fffe00"/><stop offset="0.7671" stop-color="#ffba00"/><stop offset="0.8035" stop-color="#ffa400"/><stop offset="0.8490" stop-color="#ff9e00"/><stop offset="0.9976" stop-color="#ff9d00"/></linearGradient><linearGradient id="g110" x2="0" y2="1"><stop offset="0.0000" stop-color="#ff9d00"/><stop offset="0.3032" stop-color="#ffa100"/><stop offset="0.3214" stop-color="#ffa900"/><stop offset="0.3366" stop-color="#ffbb00"/><stop offset="0.3487" stop-color="#ffd200"/><stop offset="0.3639" stop-color="#fffc00"/><stop offset="0.3881" stop-color="#ffff65"/><stop offset="0.3972" stop-color="#ffff7b"/><stop offset="0.4033" stop-color="#ffff80"/><stop offset="0.4124" stop-color="#ffff76"/><stop offset="0.4184" stop-color="#ffff62"/><stop offset="0.4245" stop-color="#ffff45"/><stop offset="0.4336" stop-color="#ffff06"/><stop offset="0.4397" stop-color="#ffe100"/><stop offset="0.4488" stop-color="#ffa300"/><stop offset="0.4579" stop-color="#ff5b00"/><stop offset="0.4669" stop-color="#ff0d00"/><stop offset="0.4700" stop-color="#f10000"/><stop offset="0.4821" stop-color="#870000"/><stop offset="0.4912" stop-color="#3f0000"/><stop offset="0.4973" stop-color="#140000"/><stop offset="0.5003" stop-color="#0b0000"/><stop offset="0.5488" stop-color="#0b0000"/><stop offset="0.5518" stop-color="#0f0000"/><stop offset="0.5791" stop-color="#cb0000"/><stop offset="0.5852" stop-color="#f10000"/><stop offset="0.5882" stop-color="#ff0400"/><stop offset="0.6064" stop-color="#ff5e00"/><stop offset="0.6307" stop-color="#ffba00"/><stop offset="0.6489" stop-color="#ffe700"/><stop offset="0.6671" stop-color="#ffff02"/><stop offset="0.6792" stop-color="#ffff0f"/><stop offset="0.6883" stop-color="#ffff12"/><stop offset="0.6974" stop-color="#ffff0f"/><stop offset="0.7126" stop-color="#fffe00"/><stop offset="0.7671" stop-color="#ffba00"/><stop offset="0.8035" stop-color="#ffa400"/><stop offset="0.8490" stop-color="#ff9e00"/><stop offset="0.9976" stop-color="#ff9d00"/></linearGradient><linearGradient id="g111" x2="0" y2="1"><stop offset="0.0000" stop-color="#ff9d00"/><stop offset="0.3032" stop-color="#ffa000"/><stop offset="0.3214" stop-color="#ffa900"/><stop offset="0.3366" stop-color="#ffb900"/><stop offset="0.3487" stop-color="#ffd000"/><stop offset="0.3639" stop-color="#fffa00"/><stop offset="0.3669" stop-color="#ffff06"/><stop offset="0.3881" stop-color="#ffff63"/><stop offset="0.3972" stop-color="#ffff7b"/><stop offset="0.4033" stop-color="#ffff81"/><stop offset="0.4124" stop-color="#ffff79"/><stop offset="0.4184" stop-color="#ffff67"/><stop offset="0.4245" stop-color="#ffff4a"/><stop offset="0.4336" stop-color="#ffff0d"/><stop offset="0.4366" stop-color="#fff700"/><stop offset="0.4457" stop-color="#ffbe00"/><stop offset="0.4548" stop-color="#ff7a00"/><stop offset="0.4669" stop-color="#ff1300"/><stop offset="0.4700" stop-color="#f70000"/><stop offset="0.4882" stop-color="#5b0000"/><stop offset="0.4973" stop-color="#190000"/><stop offset="0.5003" stop-color="#0b0000"/><stop offset="0.5518" stop-color="#0b0000"/><stop offset="0.5579" stop-color="#2f0000"/><stop offset="0.5761" stop-color="#af0000"/><stop offset="0.5882" stop-color="#fc0000"/><stop offset="0.6064" stop-color="#ff5a00"/><stop offset="0.6307" stop-color="#ffb900"/><stop offset="0.6489" stop-color="#ffe600"/><stop offset="0.6671" stop-color="#ffff02"/><stop offset="0.6792" stop-color="#ffff0f"/><stop offset="0.6883" stop-color="#ffff12"/><stop offset="0.6974" stop-color="#ffff0f"/><stop offset="0.7126" stop-color="#fffe00"/><stop offset="0.7671" stop-color="#ffba00"/><stop offset="0.8035" stop-color="#ffa400"/><stop offset="0.8490" stop-color="#ff9e00"/><stop offset="0.9976" stop-color="#ff9d00"/></linearGradient><linearGradient id="g112" x2="0" y2="1"><stop offset="-0.0262" stop-color="#f3f9fe"/><stop offset="0.3428" stop-color="#f2f8fd"/><stop offset="0.3770" stop-color="#eff6fc"/><stop offset="0.3942" stop-color="#ecf4fb"/><stop offset="0.4021" stop-color="#e7f1fa"/><stop offset="0.4113" stop-color="#e7f1fa"/><stop offset="0.4192" stop-color="#e2edf8"/><stop offset="0.4284" stop-color="#e2edf8"/><stop offset="0.4363" stop-color="#d8e7f5"/><stop offset="0.4456" stop-color="#d8e7f5"/><stop offset="0.4535" stop-color="#c7dcef"/><stop offset="0.4627" stop-color="#c7dcef"/><stop offset="0.4706" stop-color="#5ea5d1"/><stop offset="0.4798" stop-color="#5ea5d1"/><stop offset="0.4877" stop-color="#1a69ae"/><stop offset="0.4970" stop-color="#1a69ae"/><stop offset="0.5049" stop-color="#08306b"/><stop offset="0.5141" stop-color="#08306b"/><stop offset="0.5220" stop-color="#084e97"/><stop offset="0.5312" stop-color="#084e97"/><stop offset="0.5391" stop-color="#4090c5"/><stop offset="0.5484" stop-color="#4090c5"/><stop offset="0.5562" stop-color="#82bbdb"/><stop offset="0.5655" stop-color="#82bbdb"/><stop offset="0.5734" stop-color="#9ac8e0"/><stop offset="0.5826" stop-color="#9ac8e0"/><stop offset="0.5905" stop-color="#a7cee4"/><stop offset="0.6169" stop-color="#a7cee4"/><stop offset="0.6248" stop-color="#c7dcef"/><stop offset="0.6340" stop-color="#c7dcef"/><stop offset="0.6419" stop-color="#f3f9fe"/><stop offset="1.0452" stop-color="#f3f9fe"/></linearGradient><linearGradient id="g113" x2="0" y2="1"><stop offset="-0.0262" stop-color="#f3f9fe"/><stop offset="0.3428" stop-color="#f2f8fd"/><stop offset="0.3770" stop-color="#eff6fc"/><stop offset="0.3942" stop-color="#ecf4fb"/><stop offset="0.4021" stop-color="#e7f1fa"/><stop offset="0.4113" stop-color="#e7f1fa"/><stop offset="0.4192" stop-color="#e2edf8"/><stop offset="0.4284" stop-color="#e2edf8"/><stop offset="0.4363" stop-color="#d8e7f5"/><stop offset="0.4456" stop-color="#d8e7f5"/><stop offset="0.4535" stop-color="#c7dcef"/><stop offset="0.4627" stop-color="#c7dcef"/><stop offset="0.4706" stop-color="#57a0ce"/><stop offset="0.4798" stop-color="#57a0ce"/><stop offset="0.4877" stop-color="#1562a9"/><stop offset="0.4970" stop-color="#1562a9"/><stop offset="0.5049" stop-color="#08306b"/><stop offset="0.5141" stop-color="#08306b"/><stop offset="0.5220" stop-color="#084e97"/><stop offset="0.5312" stop-color="#084e97"/><stop offset="0.5391" stop-color="#4a97c9"/><stop offset="0.5484" stop-color="#4a97c9"/><stop offset="0.5562" stop-color="#85bcdc"/><stop offset="0.5655" stop-color="#85bcdc"/><stop offset="0.5734" stop-color="#9ac8e0"/><stop offset="0.5826" stop-color="#9ac8e0"/><stop offset="0.5905" stop-color="#a7cee4"/><stop offset="0.6169" stop-color="#a7cee4"/><stop offset="0.6248" stop-color="#c7dcef"/><stop offset="0.6340" stop-color="#c7dcef"/><stop offset="0.6419" stop-color="#f3f9fe"/><stop offset="1.0452" stop-color="#f3f9fe"/></linearGradient><linearGradient id="g114" x2="0" y2="1"><stop offset="-0.0262" stop-color="#f3f9fe"/><stop offset="0.3428" stop-color="#f2f8fd"/><stop offset="0.3770" stop-color="#eff6fc"/><stop offset="0.3942" stop-color="#ecf4fb"/><stop offset="0.4021" stop-color="#e7f1fa"/><stop offset="0.4113" stop-color="#e7f1fa"/><stop offset="0.4192" stop-color="#e2edf8"/><stop offset="0.4284" stop-color="#e2edf8"/><stop offset="0.4363" stop-color="#d8e7f5"/><stop offset="0.4456" stop-color="#d8e7f5"/><stop offset="0.4535" stop-color="#c7dcef"/><stop offset="0.4627" stop-color="#c7dcef"/><stop offset="0.4706" stop-color="#4b98ca"/><stop offset="0.4798" stop-color="#4b98ca"/><stop offset="0.4877" stop-color="#105ba4"/><stop offset="0.4970" stop-color="#105ba4"/><stop offset="0.5049" stop-color="#08306b"/><stop offset="0.5141" stop-color="#08306b"/><stop offset="0.5220" stop-color="#084e97"/><stop offset="0.5312" stop-color="#084e97"/><stop offset="0.5391" stop-color="#539dcd"/><stop offset="0.5484" stop-color="#539dcd"/><stop offset="0.5562" stop-color="#87bedc"/><stop offset="0.5655" stop-color="#87bedc"/><stop offset="0.5734" stop-color="#9ac8e0"/><stop offset="0.5826" stop-color="#9ac8e0"/><stop offset="0.5905" stop-color="#a7cee4"/><stop offset="0.6169" stop-color="#a7cee4"/><stop offset="0.6248" stop-color="#c7dcef"/><stop offset="0.6340" stop-color="#c7dcef"/><stop offset="0.6419" stop-color="#f3f9fe"/><stop offset="1.0452" stop-color="#f3f9fe"/></linearGradient><linearGradient id="g115" x2="0" y2="1"><stop offset="-0.0262" stop-color="#f3f9fe"/><stop offset="0.3428" stop-color="#f2f8fd"/><stop offset="0.3770" stop-color="#eff6fc"/><stop offset="0.3942" stop-color="#ecf4fb"/><stop offset="0.4021" stop-color="#e7f1fa"/><stop offset="0.4113" stop-color="#e7f1fa"/><stop offset="0.4192" stop-color="#e2edf8"/><stop offset="0.4284" stop-color="#e2edf8"/><stop offset="0.4363" stop-color="#d8e7f5"/><stop offset="0.4456" stop-color="#d8e7f5"/><stop offset="0.4535" stop-color="#c7dcef"/><stop offset="0.4627" stop-color="#c7dcef"/><stop offset="0.4706" stop-color="#3e8ec4"/><stop offset="0.4798" stop-color="#3e8ec4"/><stop offset="0.4877" stop-color="#0c56a0"/><stop offset="0.4970" stop-color="#0c56a0"/><stop offset="0.5049" stop-color="#08306b"/><stop offset="0.5141" stop-color="#08306b"/><stop offset="0.5220" stop-color="#084e97"/><stop offset="0.5312" stop-color="#084e97"/><stop offset="0.5391" stop-color="#5ba3d0"/><stop offset="0.5484" stop-color="#5ba3d0"/><stop offset="0.5562" stop-color="#89bfdd"/><stop offset="0.5655" stop-color="#89bfdd"/><stop offset="0.5734" stop-color="#9ac8e0"/><stop offset="0.5826" stop-color="#9ac8e0"/><stop offset="0.5905" stop-color="#a7cee4"/><stop offset="0.6169" stop-color="#a7cee4"/><stop offset="0.6248" stop-color="#c7dcef"/><stop offset="0.6340" stop-color="#c7dcef"/><stop offset="0.6419" stop-color="#f3f9fe"/><stop offset="1.0452" stop-color="#f3f9fe"/></linearGradient><linearGradient id="g116" x2="0" y2="1"><stop offset="-0.0262" stop-color="#f3f9fe"/><stop offset="0.3428" stop-color="#f2f8fd"/><stop offset="0.3770" stop-color="#eff6fc"/><stop offset="0.3942" stop-color="#ecf4fb"/><stop offset="0.4021" stop-color="#e7f1fa"/><stop offset="0.4113" stop-color="#e7f1fa"/><stop offset="0.4192" stop-color="#e2edf8"/><stop offset="0.4284" stop-color="#e2edf8"/><stop offset="0.4363" stop-color="#d8e7f5"/><stop offset="0.4456" stop-color="#d8e7f5"/><stop offset="0.4535" stop-color="#c4daee"/><stop offset="0.4627" stop-color="#c4daee"/><stop offset="0.4706" stop-color="#3282be"/><stop offset="0.4798" stop-color="#3282be"/><stop offset="0.4877" stop-color="#08519c"/><stop offset="0.4970" stop-color="#08519c"/><stop offset="0.5049" stop-color="#08306b"/><stop offset="0.5141" stop-color="#08306b"/><stop offset="0.5220" stop-color="#084e97"/><stop offset="0.5312" stop-color="#084e97"/><stop offset="0.5391" stop-color="#62a8d2"/><stop offset="0.5484" stop-color="#62a8d2"/><stop offset="0.5562" stop-color="#8bc0dd"/><stop offset="0.5655" stop-color="#8bc0dd"/><stop offset="0.5734" stop-color="#9ac8e0"/><stop offset="0.5826" stop-color="#9ac8e0"/><stop offset="0.5905" stop-color="#a7cee4"/><stop offset="0.6169" stop-color="#a7cee4"/><stop offset="0.6248" stop-color="#c7dcef"/><stop offset="0.6340" stop-color="#c7dcef"/><stop offset="0.6419" stop-color="#f3f9fe"/><stop offset="1.0452" stop-color="#f3f9fe"/></linearGradient><linearGradient id="g117" x2="0" y2="1"><stop offset="-0.0262" stop-color="#f3f9fe"/><stop offset="0.3428" stop-color="#f2f8fd"/><stop offset="0.3770" stop-color="#eff6fc"/><stop offset="0.3942" stop-color="#ecf4fb"/><stop offset="0.4021" stop-color="#e7f1fa"/><stop offset="0.4113" stop-color="#e7f1fa"/><stop offset="0.4192" stop-color="#e2edf8"/><stop offset="0.4284" stop-color="#e2edf8"/><stop offset="0.4363" stop-color="#d8e7f5"/><stop offset="0.4456" stop-color="#d8e7f5"/><stop offset="0.4535" stop-color="#bdd7ec"/><stop offset="0.4627" stop-color="#bdd7ec"/><stop offset="0.4706" stop-color="#2a7aba"/><stop offset="0.4798" stop-color="#2a7aba"/><stop offset="0.4877" stop-color="#08519c"/><stop offset="0.4970" stop-color="#08519c"/><stop offset="0.5049" stop-color="#08306b"/><stop offset="0.5141" stop-color="#08306b"/><stop offset="0.5220" stop-color="#084e97"/><stop offset="0.5312" stop-color="#084e97"/><stop offset="0.5391" stop-color="#66aad4"/><stop offset="0.5484" stop-color="#66aad4"/><stop offset="0.5562" stop-color="#8dc0dd"/><stop offset="0.5655" stop-color="#8dc0dd"/><stop offset="0.5734" stop-color="#9ac8e0"/><stop offset="0.5826" stop-color="#9ac8e0"/><stop offset="0.5905" stop-color="#a7cee4"/><stop offset="0.6169" stop-color="#a7cee4"/><stop offset="0.6248" stop-color="#c7dcef"/><stop offset="0.6340" stop-color="#c7dcef"/><stop offset="0.6419" stop-color="#f3f9fe"/><stop offset="1.0452" stop-color="#f3f9fe"/></linearGradient><linearGradient id="g118" x2="0" y2="1"><stop offset="-0.0262" stop-color="#f3f9fe"/><stop offset="0.3428" stop-color="#f2f8fd"/><stop offset="0.3770" stop-color="#eff6fc"/><stop offset="0.3942" stop-color="#ecf4fb"/><stop offset="0.4021" stop-color="#e7f1fa"/><stop offset="0.4113" stop-color="#e7f1fa"/><stop offset="0.4192" stop-color="#e2edf8"/><stop offset="0.4284" stop-color="#e2edf8"/><stop offset="0.4363" stop-color="#d8e7f5"/><stop offset="0.4456" stop-color="#d8e7f5"/><stop offset="0.4535" stop-color="#b8d5ea"/><stop offset="0.4627" stop-color="#b8d5ea"/><stop offset="0.4706" stop-color="#2777b8"/><stop offset="0.4798" stop-color="#2777b8"/><stop offset="0.4877" stop-color="#08519c"/><stop offset="0.4970" stop-color="#08519c"/><stop offset="0.5049" stop-color="#08306b"/><stop offset="0.5141" stop-color="#08306b"/><stop offset="0.5220" stop-color="#084e97"/><stop offset="0.5312" stop-color="#084e97"/><stop offset="0.5391" stop-color="#68acd5"/><stop offset="0.5484" stop-color="#68acd5"/><stop offset="0.5562" stop-color="#8dc1dd"/><stop offset="0.5655" stop-color="#8dc1dd"/><stop offset="0.5734" stop-color="#9ac8e0"/><stop offset="0.5826" stop-color="#9ac8e0"/><stop offset="0.5905" stop-color="#a7cee4"/><stop offset="0.6169" stop-color="#a7cee4"/><stop offset="0.6248" stop-color="#c7dcef"/><stop offset="0.6340" stop-color="#c7dcef"/><stop offset="0.6419" stop-color="#f3f9fe"/><stop offset="1.0452" stop-color="#f3f9fe"/></linearGradient><linearGradient id="g119" x2="0" y2="1"><stop offset="-0.0262" stop-color="#f3f9fe"/><stop offset="0.3428" stop-color="#f2f8fd"/><stop offset="0.3770" stop-color="#eff6fc"/><stop offset="0.3942" stop-color="#ecf4fb"/><stop offset="0.4021" stop-color="#e7f1fa"/><stop offset="0.4113" stop-color="#e7f1fa"/><stop offset="0.4192" stop-color="#e2edf8"/><stop offset="0.4284" stop-color="#e2edf8"/><stop offset="0.4363" stop-color="#d8e7f5"/><stop offset="0.4456" stop-color="#d8e7f5"/><stop offset="0.4535" stop-color="#b2d2e8"/><stop offset="0.4627" stop-color="#b2d2e8"/><stop offset="0.4706" stop-color="#2373b6"/><stop offset="0.4798" stop-color="#2373b6"/><stop offset="0.4877" stop-color="#08519c"/><stop offset="0.4970" stop-color="#08519c"/><stop offset="0.5049" stop-color="#08306b"/><stop offset="0.5141" stop-color="#08306b"/><stop offset="0.5220" stop-color="#0a549e"/><stop offset="0.5312" stop-color="#0a549e"/><stop offset="0.5391" stop-color="#6aadd5"/><stop offset="0.5484" stop-color="#6aadd5"/><stop offset="0.5562" stop-color="#8ec1dd"/><stop offset="0.5655" stop-color="#8ec1dd"/><stop offset="0.5734" stop-color="#9ac8e0"/><stop offset="0.5826" stop-color="#9ac8e0"/><stop offset="0.5905" stop-color="#a7cee4"/><stop offset="0.6169" stop-color="#a7cee4"/><stop offset="0.6248" stop-color="#c7dcef"/><stop offset="0.6340" stop-color="#c7dcef"/><stop offset="0.6419" stop-color="#f3f9fe"/><stop offset="1.0452" stop-color="#f3f9fe"/></linearGradient><linearGradient id="g120" x2="0" y2="1"><stop offset="-0.0262" stop-color="#f3f9fe"/><stop offset="0.3428" stop-color="#f2f8fd"/><stop offset="0.3770" stop-color="#eff6fc"/><stop offset="0.3942" stop-color="#ecf4fb"/><stop offset="0.4021" stop-color="#e7f1fa"/><stop offset="0.4113" stop-color="#e7f1fa"/><stop offset="0.4192" stop-color="#e2edf8"/><stop offset="0.4284" stop-color="#e2edf8"/><stop offset="0.4363" stop-color="#d8e7f5"/><stop offset="0.4456" stop-color="#d8e7f5"/><stop offset="0.4535" stop-color="#abcfe5"/><stop offset="0.4627" stop-color="#abcfe5"/><stop offset="0.4706" stop-color="#2070b4"/><stop offset="0.4798" stop-color="#2070b4"/><stop offset="0.4877" stop-color="#08519c"/><stop offset="0.4970" stop-color="#08519c"/><stop offset="0.5049" stop-color="#08306b"/><stop offset="0.5141" stop-color="#08306b"/><stop offset="0.5220" stop-color="#105ca4"/><stop offset="0.5312" stop-color="#105ca4"/><stop offset="0.5391" stop-color="#6baed6"/><stop offset="0.5484" stop-color="#6baed6"/><stop offset="0.5562" stop-color="#8ec1de"/><stop offset="0.5655" stop-color="#8ec1de"/><stop offset="0.5734" stop-color="#9ac8e0"/><stop offset="0.5826" stop-color="#9ac8e0"/><stop offset="0.5905" stop-color="#a7cee4"/><stop offset="0.6169" stop-color="#a7cee4"/><stop offset="0.6248" stop-color="#c7dcef"/><stop offset="0.6340" stop-color="#c7dcef"/><stop offset="0.6419" stop-color="#f3f9fe"/><stop offset="1.0452" stop-color="#f3f9fe"/></linearGradient><linearGradient id="g121" x2="0" y2="1"><stop offset="-0.0262" stop-color="#f3f9fe"/><stop offset="0.3428" stop-color="#f2f8fd"/><stop offset="0.3770" stop-color="#eff6fc"/><stop offset="0.3942" stop-color="#ecf4fb"/><stop offset="0.4021" stop-color="#e7f1fa"/><stop offset="0.4113" stop-color="#e7f1fa"/><stop offset="0.4192" stop-color="#e2edf8"/><stop offset="0.4284" stop-color="#e2edf8"/><stop offset="0.4363" stop-color="#d8e7f5"/><stop offset="0.4456" stop-color="#d8e7f5"/><stop offset="0.4535" stop-color="#a3cce3"/><stop offset="0.4627" stop-color="#a3cce3"/><stop offset="0.4706" stop-color="#1e6db2"/><stop offset="0.4798" stop-color="#1e6db2"/><stop offset="0.4877" stop-color="#08519c"/><stop offset="0.4970" stop-color="#08519c"/><stop offset="0.5049" stop-color="#08306b"/><stop offset="0.5141" stop-color="#08306b"/><stop offset="0.5220" stop-color="#1663aa"/><stop offset="0.5312" stop-color="#1663aa"/><stop offset="0.5391" stop-color="#6dafd7"/><stop offset="0.5484" stop-color="#6dafd7"/><stop offset="0.5562" stop-color="#8fc2de"/><stop offset="0.5655" stop-color="#8fc2de"/><stop offset="0.5734" stop-color="#9ac8e0"/><stop offset="0.5826" stop-color="#9ac8e0"/><stop offset="0.5905" stop-color="#a7cee4"/><stop offset="0.6169" stop-color="#a7cee4"/><stop offset="0.6248" stop-color="#c7dcef"/><stop offset="0.6340" stop-color="#c7dcef"/><stop offset="0.6419" stop-color="#f3f9fe"/><stop offset="1.0452" stop-color="#f3f9fe"/></linearGradient><linearGradient id="g122" x2="0" y2="1"><stop offset="-0.0262" stop-color="#f3f9fe"/><stop offset="0.3428" stop-color="#f2f8fd"/><stop offset="0.3770" stop-color="#eff6fc"/><stop offset="0.3942" stop-color="#ecf4fb"/><stop offset="0.4021" stop-color="#e7f1fa"/><stop offset="0.4113" stop-color="#e7f1fa"/><stop offset="0.4192" stop-color="#e2edf8"/><stop offset="0.4284" stop-color="#e2edf8"/><stop offset="0.4363" stop-color="#d8e7f5"/><stop offset="0.4456" stop-color="#d8e7f5"/><stop offset="0.4535" stop-color="#9bc8e0"/><stop offset="0.4627" stop-color="#9bc8e0"/><stop offset="0.4706" stop-color="#1c6bb0"/><stop offset="0.4798" stop-color="#1c6bb0"/><stop offset="0.4877" stop-color="#08519c"/><stop offset="0.4970" stop-color="#08519c"/><stop offset="0.5049" stop-color="#08306b"/><stop offset="0.5141" stop-color="#08306b"/><stop offset="0.5220" stop-color="#1c6ab0"/><stop offset="0.5312" stop-color="#1c6ab0"/><stop offset="0.5391" stop-color="#6fb0d7"/><stop offset="0.5484" stop-color="#6fb0d7"/><stop offset="0.5562" stop-color="#8fc2de"/><stop offset="0.5655" stop-color="#8fc2de"/><stop offset="0.5734" stop-color="#9ac8e0"/><stop offset="0.5826" stop-color="#9ac8e0"/><stop offset="0.5905" stop-color="#a7cee4"/><stop offset="0.6169" stop-color="#a7cee4"/><stop offset="0.6248" stop-color="#c7dcef"/><stop offset="0.6340" stop-color="#c7dcef"/><stop offset="0.6419" stop-color="#f3f9fe"/><stop offset="1.0452" stop-color="#f3f9fe"/></linearGradient><linearGradient id="g123" x2="0" y2="1"><stop offset="-0.0262" stop-color="#f3f9fe"/><stop offset="0.3428" stop-color="#f2f8fd"/><stop offset="0.3770" stop-color="#eff6fc"/><stop offset="0.3942" stop-color="#ecf4fb"/><stop offset="0.4021" stop-color="#e7f1fa"/><stop offset="0.4113" stop-color="#e7f1fa"/><stop offset="0.4192" stop-color="#e2edf8"/><stop offset="0.4284" stop-color="#e2edf8"/><stop offset="0.4363" stop-color="#d8e7f5"/><stop offset="0.4456" stop-color="#d8e7f5"/><stop offset="0.4535" stop-color="#90c3de"/><stop offset="0.4627" stop-color="#90c3de"/><stop offset="0.4706" stop-color="#1765ab"/><stop offset="0.4798" stop-color="#1765ab"/><stop offset="0.4877" stop-color="#08519c"/><stop offset="0.4970" stop-color="#08519c"/><stop offset="0.5049" stop-color="#08306b"/><stop offset="0.5141" stop-color="#08306b"/><stop offset="0.5220" stop-color="#2171b5"/><stop offset="0.5312" stop-color="#2171b5"/><stop offset="0.5391" stop-color="#71b1d7"/><stop offset="0.5484" stop-color="#71b1d7"/><stop offset="0.5562" stop-color="#8fc2de"/><stop offset="0.5655" stop-color="#8fc2de"/><stop offset="0.5734" stop-color="#9ac8e0"/><stop offset="0.5826" stop-color="#9ac8e0"/><stop offset="0.5905" stop-color="#a7cee4"/><stop offset="0.6169" stop-color="#a7cee4"/><stop offset="0.6248" stop-color="#c7dcef"/><stop offset="0.6340" stop-color="#c7dcef"/><stop offset="0.6419" stop-color="#f3f9fe"/><stop offset="1.0452" stop-color="#f3f9fe"/></linearGradient><linearGradient id="g124" x2="0" y2="1"><stop offset="-0.0262" stop-color="#f3f9fe"/><stop offset="0.3428" stop-color="#f2f8fd"/><stop offset="0.3770" stop-color="#eff6fc"/><stop offset="0.3942" stop-color="#ecf4fb"/><stop offset="0.4021" stop-color="#e7f1fa"/><stop offset="0.4113" stop-color="#e7f1fa"/><stop offset="0.4192" stop-color="#e2edf8"/><stop offset="0.4284" stop-color="#e2edf8"/><stop offset="0.4363" stop-color="#d8e7f5"/><stop offset="0.4456" stop-color="#d8e7f5"/><stop offset="0.4535" stop-color="#86bddc"/><stop offset="0.4627" stop-color="#86bddc"/><stop offset="0.4706" stop-color="#1765ab"/><stop offset="0.4798" stop-color="#1765ab"/><stop offset="0.4877" stop-color="#08519c"/><stop offset="0.4970" stop-color="#08519c"/><stop offset="0.5049" stop-color="#08306b"/><stop offset="0.5141" stop-color="#08306b"/><stop offset="0.5220" stop-color="#2777b8"/><stop offset="0.5312" stop-color="#2777b8"/><stop offset="0.5391" stop-color="#73b2d8"/><stop offset="0.5484" stop-color="#73b2d8"/><stop offset="0.5562" stop-color="#90c2de"/><stop offset="0.5655" stop-color="#90c2de"/><stop offset="0.5734" stop-color="#9ac8e0"/><stop offset="0.5826" stop-color="#9ac8e0"/><stop offset="0.5905" stop-color="#a7cee4"/><stop offset="0.6169" stop-color="#a7cee4"/><stop offset="0.6248" stop-color="#c7dcef"/><stop offset="0.6340" stop-color="#c7dcef"/><stop offset="0.6419" stop-color="#f3f9fe"/><stop offset="1.0452" stop-color="#f3f9fe"/></linearGradient><linearGradient id="g125" x2="0" y2="1"><stop offset="-0.0262" stop-color="#f3f9fe"/><stop offset="0.3428" stop-color="#f2f8fd"/><stop offset="0.3770" stop-color="#eff6fc"/><stop offset="0.3942" stop-color="#ecf4fb"/><stop offset="0.4021" stop-color="#e7f1fa"/><stop offset="0.4113" stop-color="#e7f1fa"/><stop offset="0.4192" stop-color="#e2edf8"/><stop offset="0.4284" stop-color="#e2edf8"/><stop offset="0.4363" stop-color="#d8e7f5"/><stop offset="0.4456" stop-color="#d8e7f5"/><stop offset="0.4535" stop-color="#7ab6d9"/><stop offset="0.4627" stop-color="#7ab6d9"/><stop offset="0.4706" stop-color="#1765ab"/><stop offset="0.4798" stop-color="#1765ab"/><stop offset="0.4877" stop-color="#08519c"/><stop offset="0.4970" stop-color="#08519c"/><stop offset="0.5049" stop-color="#08306b"/><stop offset="0.5141" stop-color="#08306b"/><stop offset="0.5220" stop-color="#2d7dbb"/><stop offset="0.5312" stop-color="#2d7dbb"/><stop offset="0.5391" stop-color="#75b3d8"/><stop offset="0.5484" stop-color="#75b3d8"/><stop offset="0.5562" stop-color="#90c2de"/><stop offset="0.5655" stop-color="#90c2de"/><stop offset="0.5734" stop-color="#9ac8e0"/><stop offset="0.5826" stop-color="#9ac8e0"/><stop offset="0.5905" stop-color="#a7cee4"/><stop offset="0.6169" stop-color="#a7cee4"/><stop offset="0.6248" stop-color="#c7dcef"/><stop offset="0.6340" stop-color="#c7dcef"/><stop offset="0.6419" stop-color="#f3f9fe"/><stop offset="1.0452" stop-color="#f3f9fe"/></linearGradient><linearGradient id="g126" x2="0" y2="1"><stop offset="-0.0262" stop-color="#f3f9fe"/><stop offset="0.3428" stop-color="#f2f8fd"/><stop offset="0.3770" stop-color="#eff6fc"/><stop offset="0.3942" stop-color="#ecf4fb"/><stop offset="0.4021" stop-color="#e7f1fa"/><stop offset="0.4113" stop-color="#e7f1fa"/><stop offset="0.4192" stop-color="#e2edf8"/><stop offset="0.4284" stop-color="#e2edf8"/><stop offset="0.4363" stop-color="#d8e7f5"/><stop offset="0.4456" stop-color="#d8e7f5"/><stop offset="0.4535" stop-color="#6fb0d7"/><stop offset="0.4627" stop-color="#6fb0d7"/><stop offset="0.4706" stop-color="#1765ab"/><stop offset="0.4798" stop-color="#1765ab"/><stop offset="0.4877" stop-color="#08519c"/><stop offset="0.4970" stop-color="#08519c"/><stop offset="0.5049" stop-color="#08306b"/><stop offset="0.5141" stop-color="#08306b"/><stop offset="0.5220" stop-color="#3282be"/><stop offset="0.5312" stop-color="#3282be"/><stop offset="0.5391" stop-color="#77b4d9"/><stop offset="0.5484" stop-color="#77b4d9"/><stop offset="0.5562" stop-color="#91c3de"/><stop offset="0.5655" stop-color="#91c3de"/><stop offset="0.5734" stop-color="#9ac8e0"/><stop offset="0.5826" stop-color="#9ac8e0"/><stop offset="0.5905" stop-color="#a7cee4"/><stop offset="0.6169" stop-color="#a7cee4"/><stop offset="0.6248" stop-color="#c7dcef"/><stop offset="0.6340" stop-color="#c7dcef"/><stop offset="0.6419" stop-color="#f3f9fe"/><stop offset="1.0452" stop-color="#f3f9fe"/></linearGradient><linearGradient id="g127" x2="0" y2="1"><stop offset="-0.0262" stop-color="#f3f9fe"/><stop offset="0.3428" stop-color="#f2f8fd"/><stop offset="0.3770" stop-color="#eff6fc"/><stop offset="0.3942" stop-color="#ecf4fb"/><stop offset="0.4021" stop-color="#e7f1fa"/><stop offset="0.4113" stop-color="#e7f1fa"/><stop offset="0.4192" stop-color="#e2edf8"/><stop offset="0.4284" stop-color="#e2edf8"/><stop offset="0.4363" stop-color="#d7e6f5"/><stop offset="0.4456" stop-color="#d7e6f5"/><stop offset="0.4535" stop-color="#65aad4"/><stop offset="0.4627" stop-color="#65aad4"/><stop offset="0.4706" stop-color="#1765ab"/><stop offset="0.4798" stop-color="#1765ab"/><stop offset="0.4877" stop-color="#08519c"/><stop offset="0.4970" stop-color="#08519c"/><stop offset="0.5049" stop-color="#08306b"/><stop offset="0.5141" stop-color="#08306b"/><stop offset="0.5220" stop-color="#3787c1"/><stop offset="0.5312" stop-color="#3787c1"/><stop offset="0.5391" stop-color="#78b5d9"/><stop offset="0.5484" stop-color="#78b5d9"/><stop offset="0.5562" stop-color="#91c3de"/><stop offset="0.5655" stop-color="#91c3de"/><stop offset="0.5734" stop-color="#9ac8e0"/><stop offset="0.5826" stop-color="#9ac8e0"/><stop offset="0.5905" stop-color="#a7cee4"/><stop offset="0.6169" stop-color="#a7cee4"/><stop offset="0.6248" stop-color="#c7dcef"/><stop offset="0.6340" stop-color="#c7dcef"/><stop offset="0.6419" stop-color="#f3f9fe"/><stop offset="1.0452" stop-color="#f3f9fe"/></linearGradient><linearGradient id="g128" x2="0" y2="1"><stop offset="-0.0262" stop-color="#f3f9fe"/><stop offset="0.3428" stop-color="#f2f8fd"/><stop offset="0.3770" stop-color="#eff6fc"/><stop offset="0.3942" stop-color="#ecf4fb"/><stop offset="0.4021" stop-color="#e7f1fa"/><stop offset="0.4113" stop-color="#e7f1fa"/><stop offset="0.4192" stop-color="#e2edf8"/><stop offset="0.4284" stop-color="#e2edf8"/><stop offset="0.4363" stop-color="#d6e6f4"/><stop offset="0.4456" stop-color="#d6e6f4"/><stop offset="0.4535" stop-color="#5ca4d0"/><stop offset="0.4627" stop-color="#5ca4d0"/><stop offset="0.4706" stop-color="#1765ab"/><stop offset="0.4798" stop-color="#1765ab"/><stop offset="0.4877" stop-color="#08519c"/><stop offset="0.4970" stop-color="#08519c"/><stop offset="0.5049" stop-color="#08306b"/><stop offset="0.5141" stop-color="#08306b"/><stop offset="0.5220" stop-color="#3c8cc3"/><stop offset="0.5312" stop-color="#3c8cc3"/><stop offset="0.5391" stop-color="#7ab6d9"/><stop offset="0.5484" stop-color="#7ab6d9"/><stop offset="0.5562" stop-color="#91c3de"/><stop offset="0.5655" stop-color="#91c3de"/><stop offset="0.5734" stop-color="#9ac8e0"/><stop offset="0.5826" stop-color="#9ac8e0"/><stop offset="0.5905" stop-color="#a7cee4"/><stop offset="0.6169" stop-color="#a7cee4"/><stop offset="0.6248" stop-color="#c7dcef"/><stop offset="0.6340" stop-color="#c7dcef"/><stop offset="0.6419" stop-color="#f3f9fe"/><stop offset="1.0452" stop-color="#f3f9fe"/></linearGradient><linearGradient id="g129" x2="0" y2="1"><stop offset="-0.0262" stop-color="#f3f9fe"/><stop offset="0.3428" stop-color="#f2f8fd"/><stop offset="0.3770" stop-color="#eff6fc"/><stop offset="0.3942" stop-color="#ecf4fb"/><stop offset="0.4021" stop-color="#e7f1fa"/><stop offset="0.4113" stop-color="#e7f1fa"/><stop offset="0.4192" stop-color="#e2edf8"/><stop offset="0.4284" stop-color="#e2edf8"/><stop offset="0.4363" stop-color="#d4e4f4"/><stop offset="0.4456" stop-color="#d4e4f4"/><stop offset="0.4535" stop-color="#549ecd"/><stop offset="0.4627" stop-color="#549ecd"/><stop offset="0.4706" stop-color="#1765ab"/><stop offset="0.4798" stop-color="#1765ab"/><stop offset="0.4877" stop-color="#08519c"/><stop offset="0.4970" stop-color="#08519c"/><stop offset="0.5049" stop-color="#08306b"/><stop offset="0.5141" stop-color="#08306b"/><stop offset="0.5220" stop-color="#4191c5"/><stop offset="0.5312" stop-color="#4191c5"/><stop offset="0.5391" stop-color="#7bb7d9"/><stop offset="0.5484" stop-color="#7bb7d9"/><stop offset="0.5562" stop-color="#92c3de"/><stop offset="0.5655" stop-color="#92c3de"/><stop offset="0.5734" stop-color="#9ac8e0"/><stop offset="0.5826" stop-color="#9ac8e0"/><stop offset="0.5905" stop-color="#a7cee4"/><stop offset="0.6169" stop-color="#a7cee4"/><stop offset="0.6248" stop-color="#c7dcef"/><stop offset="0.6340" stop-color="#c7dcef"/><stop offset="0.6419" stop-color="#f3f9fe"/><stop offset="1.0452" stop-color="#f3f9fe"/></linearGradient><linearGradient id="g130" x2="0" y2="1"><stop offset="-0.0262" stop-color="#f3f9fe"/><stop offset="0.3428" stop-color="#f2f8fd"/><stop offset="0.3770" stop-color="#eff6fc"/><stop offset="0.3942" stop-color="#ecf4fb"/><stop offset="0.4021" stop-color="#e7f1fa"/><stop offset="0.4113" stop-color="#e7f1fa"/><stop offset="0.4192" stop-color="#e2edf8"/><stop offset="0.4284" stop-color="#e2edf8"/><stop offset="0.4363" stop-color="#d1e2f3"/><stop offset="0.4456" stop-color="#d1e2f3"/><stop offset="0.4535" stop-color="#4b98ca"/><stop offset="0.4627" stop-color="#4b98ca"/><stop offset="0.4706" stop-color="#1765ab"/><stop offset="0.4798" stop-color="#1765ab"/><stop offset="0.4877" stop-color="#08519c"/><stop offset="0.4970" stop-color="#08519c"/><stop offset="0.5049" stop-color="#08306b"/><stop offset="0.5141" stop-color="#08306b"/><stop offset="0.5220" stop-color="#4694c7"/><stop offset="0.5312" stop-color="#4694c7"/><stop offset="0.5391" stop-color="#7db8da"/><stop offset="0.5484" stop-color="#7db8da"/><stop offset="0.5562" stop-color="#92c4de"/><stop offset="0.5655" stop-color="#92c4de"/><stop offset="0.5734" stop-color="#9ac8e0"/><stop offset="0.5826" stop-color="#9ac8e0"/><stop offset="0.5905" stop-color="#a7cee4"/><stop offset="0.6169" stop-color="#a7cee4"/><stop offset="0.6248" stop-color="#c7dcef"/><stop offset="0.6340" stop-color="#c7dcef"/><stop offset="0.6419" stop-color="#f3f9fe"/><stop offset="1.0452" stop-color="#f3f9fe"/></linearGradient><linearGradient id="g131" x2="0" y2="1"><stop offset="-0.0262" stop-color="#f3f9fe"/><stop offset="0.3428" stop-color="#f2f8fd"/><stop offset="0.3770" stop-color="#eff6fc"/><stop offset="0.3942" stop-color="#ecf4fb"/><stop offset="0.4021" stop-color="#e7f1fa"/><stop offset="0.4113" stop-color="#e7f1fa"/><stop offset="0.4192" stop-color="#e2edf8"/><stop offset="0.4284" stop-color="#e2edf8"/><stop offset="0.4363" stop-color="#cee0f2"/><stop offset="0.4456" stop-color="#cee0f2"/><stop offset="0.4535" stop-color="#4493c7"/><stop offset="0.4627" stop-color="#4493c7"/><stop offset="0.4706" stop-color="#1765ab"/><stop offset="0.4798" stop-color="#1765ab"/><stop offset="0.4877" stop-color="#08519c"/><stop offset="0.4970" stop-color="#08519c"/><stop offset="0.5049" stop-color="#08306b"/><stop offset="0.5141" stop-color="#08306b"/><stop offset="0.5220" stop-color="#4a98c9"/><stop offset="0.5312" stop-color="#4a98c9"/><stop offset="0.5391" stop-color="#7eb8da"/><stop offset="0.5484" stop-color="#7eb8da"/><stop offset="0.5562" stop-color="#92c4df"/><stop offset="0.5655" stop-color="#92c4df"/><stop offset="0.5734" stop-color="#9ac8e0"/><stop offset="0.5826" stop-color="#9ac8e0"/><stop offset="0.5905" stop-color="#a7cee4"/><stop offset="0.6169" stop-color="#a7cee4"/><stop offset="0.6248" stop-color="#c7dcef"/><stop offset="0.6340" stop-color="#c7dcef"/><stop offset="0.6419" stop-color="#f3f9fe"/><stop offset="1.0452" stop-color="#f3f9fe"/></linearGradient><linearGradient id="g132" x2="0" y2="1"><stop offset="-0.0262" stop-color="#f3f9fe"/><stop offset="0.3428" stop-color="#f2f8fd"/><stop offset="0.3770" stop-color="#eff6fc"/><stop offset="0.3942" stop-color="#ecf4fb"/><stop offset="0.4021" stop-color="#e7f1fa"/><stop offset="0.4113" stop-color="#e7f1fa"/><stop offset="0.4192" stop-color="#e2edf8"/><stop offset="0.4284" stop-color="#e2edf8"/><stop offset="0.4363" stop-color="#cadef0"/><stop offset="0.4456" stop-color="#cadef0"/><stop offset="0.4535" stop-color="#3d8dc4"/><stop offset="0.4627" stop-color="#3d8dc4"/><stop offset="0.4706" stop-color="#1765ab"/><stop offset="0.4798" stop-color="#1765ab"/><stop offset="0.4877" stop-color="#08519c"/><stop offset="0.4970" stop-color="#08519c"/><stop offset="0.5049" stop-color="#083674"/><stop offset="0.5141" stop-color="#083674"/><stop offset="0.5220" stop-color="#4f9bcb"/><stop offset="0.5312" stop-color="#4f9bcb"/><stop offset="0.5391" stop-color="#7fb9da"/><stop offset="0.5484" stop-color="#7fb9da"/><stop offset="0.5562" stop-color="#93c4df"/><stop offset="0.5655" stop-color="#93c4df"/><stop offset="0.5734" stop-color="#9ac8e0"/><stop offset="0.5826" stop-color="#9ac8e0"/><stop offset="0.5905" stop-color="#a7cee4"/><stop offset="0.6169" stop-color="#a7cee4"/><stop offset="0.6248" stop-color="#c7dcef"/><stop offset="0.6340" stop-color="#c7dcef"/><stop offset="0.6419" stop-color="#f3f9fe"/><stop offset="1.0452" stop-color="#f3f9fe"/></linearGradient><linearGradient id="g133" x2="0" y2="1"><stop offset="-0.0262" stop-color="#f3f9fe"/><stop offset="0.3428" stop-color="#f2f8fd"/><stop offset="0.3770" stop-color="#eff6fc"/><stop offset="0.3942" stop-color="#ecf4fb"/><stop offset="0.4021" stop-color="#e7f1fa"/><stop offset="0.4113" stop-color="#e7f1fa"/><stop offset="0.4192" stop-color="#e2edf8"/><stop offset="0.4284" stop-color="#e2edf8"/><stop offset="0.4363" stop-color="#c5dbef"/><stop offset="0.4456" stop-color="#c5dbef"/><stop offset="0.4535" stop-color="#3888c1"/><stop offset="0.4627" stop-color="#3888c1"/><stop offset="0.4706" stop-color="#1765ab"/><stop offset="0.4798" stop-color="#1765ab"/><stop offset="0.4877" stop-color="#08519c"/><stop offset="0.4970" stop-color="#08519c"/><stop offset="0.5049" stop-color="#084082"/><stop offset="0.5141" stop-color="#084082"/><stop offset="0.5220" stop-color="#539ecd"/><stop offset="0.5312" stop-color="#539ecd"/><stop offset="0.5391" stop-color="#80badb"/><stop offset="0.5484" stop-color="#80badb"/><stop offset="0.5562" stop-color="#93c4df"/><stop offset="0.5655" stop-color="#93c4df"/><stop offset="0.5734" stop-color="#9ac8e0"/><stop offset="0.5826" stop-color="#9ac8e0"/><stop offset="0.5905" stop-color="#a7cee4"/><stop offset="0.6169" stop-color="#a7cee4"/><stop offset="0.6248" stop-color="#c7dcef"/><stop offset="0.6340" stop-color="#c7dcef"/><stop offset="0.6419" stop-color="#f3f9fe"/><stop offset="1.0452" stop-color="#f3f9fe"/></linearGradient><linearGradient id="g134" x2="0" y2="1"><stop offset="-0.0262" stop-color="#f3f9fe"/><stop offset="0.3428" stop-color="#f2f8fd"/><stop offset="0.3770" stop-color="#eff6fc"/><stop offset="0.3942" stop-color="#ecf4fb"/><stop offset="0.4021" stop-color="#e7f1fa"/><stop offset="0.4113" stop-color="#e7f1fa"/><stop offset="0.4192" stop-color="#e2edf8"/><stop offset="0.4284" stop-color="#e2edf8"/><stop offset="0.4363" stop-color="#bed7ec"/><stop offset="0.4456" stop-color="#bed7ec"/><stop offset="0.4535" stop-color="#3383be"/><stop offset="0.4627" stop-color="#3383be"/><stop offset="0.4706" stop-color="#1765ab"/><stop offset="0.4798" stop-color="#1765ab"/><stop offset="0.4877" stop-color="#08519c"/><stop offset="0.4970" stop-color="#08519c"/><stop offset="0.5049" stop-color="#084990"/><stop offset="0.5141" stop-color="#084990"/><stop offset="0.5220" stop-color="#57a0ce"/><stop offset="0.5312" stop-color="#57a0ce"/><stop offset="0.5391" stop-color="#82badb"/><stop offset="0.5484" stop-color="#82badb"/><stop offset="0.5562" stop-color="#93c4df"/><stop offset="0.5655" stop-color="#93c4df"/><stop offset="0.5734" stop-color="#9ac8e0"/><stop offset="0.5826" stop-color="#9ac8e0"/><stop offset="0.5905" stop-color="#a7cee4"/><stop offset="0.6169" stop-color="#a7cee4"/><stop offset="0.6248" stop-color="#c7dcef"/><stop offset="0.6340" stop-color="#c7dcef"/><stop offset="0.6419" stop-color="#f3f9fe"/><stop offset="1.0452" stop-color="#f3f9fe"/></linearGradient><linearGradient id="g135" x2="0" y2="1"><stop offset="-0.0262" stop-color="#f3f9fe"/><stop offset="0.3428" stop-color="#f2f8fd"/><stop offset="0.3770" stop-color="#eff6fc"/><stop offset="0.3942" stop-color="#ecf4fb"/><stop offset="0.4021" stop-color="#e7f1fa"/><stop offset="0.4113" stop-color="#e7f1fa"/><stop offset="0.4192" stop-color="#e2edf8"/><stop offset="0.4284" stop-color="#e2edf8"/><stop offset="0.4363" stop-color="#b5d4e9"/><stop offset="0.4456" stop-color="#b5d4e9"/><stop offset="0.4535" stop-color="#2878b9"/><stop offset="0.4627" stop-color="#2878b9"/><stop offset="0.4706" stop-color="#1765ab"/><stop offset="0.4798" stop-color="#1765ab"/><stop offset="0.4877" stop-color="#08519c"/><stop offset="0.4970" stop-color="#08519c"/><stop offset="0.5141" stop-color="#08519c"/><stop offset="0.5220" stop-color="#5ba3d0"/><stop offset="0.5312" stop-color="#5ba3d0"/><stop offset="0.5391" stop-color="#83bbdb"/><stop offset="0.5484" stop-color="#83bbdb"/><stop offset="0.5562" stop-color="#94c4df"/><stop offset="0.5655" stop-color="#94c4df"/><stop offset="0.5734" stop-color="#9ac8e0"/><stop offset="0.5826" stop-color="#9ac8e0"/><stop offset="0.5905" stop-color="#a7cee4"/><stop offset="0.6169" stop-color="#a7cee4"/><stop offset="0.6248" stop-color="#c7dcef"/><stop offset="0.6340" stop-color="#c7dcef"/><stop offset="0.6419" stop-color="#f3f9fe"/><stop offset="1.0452" stop-color="#f3f9fe"/></linearGradient><linearGradient id="g136" x2="0" y2="1"><stop offset="-0.0262" stop-color="#f3f9fe"/><stop offset="0.3428" stop-color="#f2f8fd"/><stop offset="0.3770" stop-color="#eff6fc"/><stop offset="0.3942" stop-color="#ecf4fb"/><stop offset="0.4021" stop-color="#e7f1fa"/><stop offset="0.4113" stop-color="#e7f1fa"/><stop offset="0.4192" stop-color="#e2edf8"/><stop offset="0.4284" stop-color="#e2edf8"/><stop offset="0.4363" stop-color="#add0e6"/><stop offset="0.4456" stop-color="#add0e6"/><stop offset="0.4535" stop-color="#2878b9"/><stop offset="0.4627" stop-color="#2878b9"/><stop offset="0.4706" stop-color="#1765ab"/><stop offset="0.4798" stop-color="#1765ab"/><stop offset="0.4877" stop-color="#08519c"/><stop offset="0.4970" stop-color="#08519c"/><stop offset="0.5049" stop-color="#0e59a2"/><stop offset="0.5141" stop-color="#0e59a2"/><stop offset="0.5220" stop-color="#5ea5d1"/><stop offset="0.5312" stop-color="#5ea5d1"/><stop offset="0.5391" stop-color="#84bcdb"/><stop offset="0.5484" stop-color="#84bcdb"/><stop offset="0.5562" stop-color="#94c4df"/><stop offset="0.5655" stop-color="#94c4df"/><stop offset="0.5734" stop-color="#9ac8e0"/><stop offset="0.5826" stop-color="#9ac8e0"/><stop offset="0.5905" stop-color="#a7cee4"/><stop offset="0.6169" stop-color="#a7cee4"/><stop offset="0.6248" stop-color="#c7dcef"/><stop offset="0.6340" stop-color="#c7dcef"/><stop offset="0.6419" stop-color="#f3f9fe"/><stop offset="1.0452" stop-color="#f3f9fe"/></linearGradient><linearGradient id="g137" x2="0" y2="1"><stop offset="-0.0262" stop-color="#f3f9fe"/><stop offset="0.3428" stop-color="#f2f8fd"/><stop offset="0.3770" stop-color="#eff6fc"/><stop offset="0.3942" stop-color="#ecf4fb"/><stop offset="0.4021" stop-color="#e7f1fa"/><stop offset="0.4113" stop-color="#e7f1fa"/><stop offset="0.4192" stop-color="#e2edf8"/><stop offset="0.4284" stop-color="#e2edf8"/><stop offset="0.4363" stop-color="#a4cce3"/><stop offset="0.4456" stop-color="#a4cce3"/><stop offset="0.4535" stop-color="#2878b9"/><stop offset="0.4627" stop-color="#2878b9"/><stop offset="0.4706" stop-color="#1765ab"/><stop offset="0.4798" stop-color="#1765ab"/><stop offset="0.4877" stop-color="#08519c"/><stop offset="0.4970" stop-color="#08519c"/><stop offset="0.5049" stop-color="#1460a8"/><stop offset="0.5141" stop-color="#1460a8"/><stop offset="0.5220" stop-color="#62a8d2"/><stop offset="0.5312" stop-color="#62a8d2"/><stop offset="0.5391" stop-color="#85bcdc"/><stop offset="0.5484" stop-color="#85bcdc"/><stop offset="0.5562" stop-color="#94c5df"/><stop offset="0.5655" stop-color="#94c5df"/><stop offset="0.5734" stop-color="#9ac8e0"/><stop offset="0.5826" stop-color="#9ac8e0"/><stop offset="0.5905" stop-color="#a7cee4"/><stop offset="0.6169" stop-color="#a7cee4"/><stop offset="0.6248" stop-color="#c7dcef"/><stop offset="0.6340" stop-color="#c7dcef"/><stop offset="0.6419" stop-color="#f3f9fe"/><stop offset="1.0452" stop-color="#f3f9fe"/></linearGradient><linearGradient id="g138" x2="0" y2="1"><stop offset="-0.0262" stop-color="#f3f9fe"/><stop offset="0.3428" stop-color="#f2f8fd"/><stop offset="0.3770" stop-color="#eff6fc"/><stop offset="0.3942" stop-color="#ecf4fb"/><stop offset="0.4021" stop-color="#e7f1fa"/><stop offset="0.4113" stop-color="#e7f1fa"/><stop offset="0.4192" stop-color="#e2edf8"/><stop offset="0.4284" stop-color="#e2edf8"/><stop offset="0.4363" stop-color="#9ac8e0"/><stop offset="0.4456" stop-color="#9ac8e0"/><stop offset="0.4535" stop-color="#2878b9"/><stop offset="0.4627" stop-color="#2878b9"/><stop offset="0.4706" stop-color="#1765ab"/><stop offset="0.4798" stop-color="#1765ab"/><stop offset="0.4877" stop-color="#08519c"/><stop offset="0.4970" stop-color="#08519c"/><stop offset="0.5049" stop-color="#1967ad"/><stop offset="0.5141" stop-color="#1967ad"/><stop offset="0.5220" stop-color="#65aad4"/><stop offset="0.5312" stop-color="#65aad4"/><stop offset="0.5391" stop-color="#86bddc"/><stop offset="0.5484" stop-color="#86bddc"/><stop offset="0.5562" stop-color="#94c5df"/><stop offset="0.5655" stop-color="#94c5df"/><stop offset="0.5734" stop-color="#9ac8e0"/><stop offset="0.5826" stop-color="#9ac8e0"/><stop offset="0.5905" stop-color="#a7cee4"/><stop offset="0.6169" stop-color="#a7cee4"/><stop offset="0.6248" stop-color="#c7dcef"/><stop offset="0.6340" stop-color="#c7dcef"/><stop offset="0.6419" stop-color="#f3f9fe"/><stop offset="1.0452" stop-color="#f3f9fe"/></linearGradient><linearGradient id="g139" x2="0" y2="1"><stop offset="-0.0262" stop-color="#f3f9fe"/><stop offset="0.3428" stop-color="#f2f8fd"/><stop offset="0.3942" stop-color="#ecf4fb"/><stop offset="0.4021" stop-color="#e7f1fa"/><stop offset="0.4113" stop-color="#e7f1fa"/><stop offset="0.4192" stop-color="#e1edf8"/><stop offset="0.4284" stop-color="#e1edf8"/><stop offset="0.4363" stop-color="#8ec1de"/><stop offset="0.4456" stop-color="#8ec1de"/><stop offset="0.4535" stop-color="#2878b9"/><stop offset="0.4627" stop-color="#2878b9"/><stop offset="0.4706" stop-color="#1765ab"/><stop offset="0.4798" stop-color="#1765ab"/><stop offset="0.4877" stop-color="#08519c"/><stop offset="0.4970" stop-color="#08519c"/><stop offset="0.5049" stop-color="#1e6db2"/><stop offset="0.5141" stop-color="#1e6db2"/><stop offset="0.5220" stop-color="#68acd5"/><stop offset="0.5312" stop-color="#68acd5"/><stop offset="0.5391" stop-color="#87bddc"/><stop offset="0.5484" stop-color="#87bddc"/><stop offset="0.5562" stop-color="#95c5df"/><stop offset="0.5655" stop-color="#95c5df"/><stop offset="0.5734" stop-color="#9ac8e0"/><stop offset="0.5826" stop-color="#9ac8e0"/><stop offset="0.5905" stop-color="#a7cee4"/><stop offset="0.6169" stop-color="#a7cee4"/><stop offset="0.6248" stop-color="#c7dcef"/><stop offset="0.6340" stop-color="#c7dcef"/><stop offset="0.6419" stop-color="#f3f9fe"/><stop offset="1.0452" stop-color="#f3f9fe"/></linearGradient><linearGradient id="g140" x2="0" y2="1"><stop offset="-0.0262" stop-color="#f3f9fe"/><stop offset="0.3428" stop-color="#f2f8fd"/><stop offset="0.3942" stop-color="#ecf4fb"/><stop offset="0.4021" stop-color="#e7f1fa"/><stop offset="0.4113" stop-color="#e7f1fa"/><stop offset="0.4192" stop-color="#e0ecf8"/><stop offset="0.4284" stop-color="#e0ecf8"/><stop offset="0.4363" stop-color="#82bbdb"/><stop offset="0.4456" stop-color="#82bbdb"/><stop offset="0.4535" stop-color="#2878b9"/><stop offset="0.4627" stop-color="#2878b9"/><stop offset="0.4706" stop-color="#1765ab"/><stop offset="0.4798" stop-color="#1765ab"/><stop offset="0.4877" stop-color="#08519c"/><stop offset="0.4970" stop-color="#08519c"/><stop offset="0.5049" stop-color="#2373b6"/><stop offset="0.5141" stop-color="#2373b6"/><stop offset="0.5220" stop-color="#6aaed6"/><stop offset="0.5312" stop-color="#6aaed6"/><stop offset="0.5391" stop-color="#87bedc"/><stop offset="0.5484" stop-color="#87bedc"/><stop offset="0.5562" stop-color="#95c5df"/><stop offset="0.5826" stop-color="#9ac8e0"/><stop offset="0.5905" stop-color="#a7cee4"/><stop offset="0.6169" stop-color="#a7cee4"/><stop offset="0.6248" stop-color="#c7dcef"/><stop offset="0.6340" stop-color="#c7dcef"/><stop offset="0.6419" stop-color="#f3f9fe"/><stop offset="1.0452" stop-color="#f3f9fe"/></linearGradient><linearGradient id="g141" x2="0" y2="1"><stop offset="-0.0262" stop-color="#f3f9fe"/><stop offset="0.3257" stop-color="#f2f8fd"/><stop offset="0.3770" stop-color="#eff6fc"/><stop offset="0.3942" stop-color="#ecf4fb"/><stop offset="0.4021" stop-color="#e7f1fa"/><stop offset="0.4113" stop-color="#e7f1fa"/><stop offset="0.4192" stop-color="#deebf7"/><stop offset="0.4284" stop-color="#deebf7"/><stop offset="0.4363" stop-color="#76b4d8"/><stop offset="0.4456" stop-color="#76b4d8"/><stop offset="0.4535" stop-color="#2878b9"/><stop offset="0.4627" stop-color="#2878b9"/><stop offset="0.4706" stop-color="#1765ab"/><stop offset="0.4798" stop-color="#1765ab"/><stop offset="0.4877" stop-color="#08519c"/><stop offset="0.4970" stop-color="#08519c"/><stop offset="0.5049" stop-color="#2979b9"/><stop offset="0.5141" stop-color="#2979b9"/><stop offset="0.5220" stop-color="#6dafd6"/><stop offset="0.5312" stop-color="#6dafd6"/><stop offset="0.5391" stop-color="#88bedc"/><stop offset="0.5484" stop-color="#88bedc"/><stop offset="0.5562" stop-color="#95c5df"/><stop offset="0.5826" stop-color="#9ac8e0"/><stop offset="0.5905" stop-color="#a7cee4"/><stop offset="0.6169" stop-color="#a7cee4"/><stop offset="0.6248" stop-color="#c7dcef"/><stop offset="0.6340" stop-color="#c7dcef"/><stop offset="0.6419" stop-color="#f3f9fe"/><stop offset="1.0452" stop-color="#f3f9fe"/></linearGradient><linearGradient id="g142" x2="0" y2="1"><stop offset="-0.0262" stop-color="#f3f9fe"/><stop offset="0.3257" stop-color="#f2f8fd"/><stop offset="0.3770" stop-color="#eff6fc"/><stop offset="0.3942" stop-color="#ecf4fb"/><stop offset="0.4021" stop-color="#e7f1fa"/><stop offset="0.4113" stop-color="#e7f1fa"/><stop offset="0.4192" stop-color="#dbe9f6"/><stop offset="0.4284" stop-color="#dbe9f6"/><stop offset="0.4363" stop-color="#6baed6"/><stop offset="0.4456" stop-color="#6baed6"/><stop offset="0.4535" stop-color="#2878b9"/><stop offset="0.4627" stop-color="#2878b9"/><stop offset="0.4706" stop-color="#1765ab"/><stop offset="0.4798" stop-color="#1765ab"/><stop offset="0.4877" stop-color="#08519c"/><stop offset="0.4970" stop-color="#08519c"/><stop offset="0.5049" stop-color="#2e7ebc"/><stop offset="0.5141" stop-color="#2e7ebc"/><stop offset="0.5220" stop-color="#70b1d7"/><stop offset="0.5312" stop-color="#70b1d7"/><stop offset="0.5391" stop-color="#89bfdc"/><stop offset="0.5484" stop-color="#89bfdc"/><stop offset="0.5562" stop-color="#95c5df"/><stop offset="0.5826" stop-color="#9ac8e0"/><stop offset="0.5905" stop-color="#a7cee4"/><stop offset="0.6169" stop-color="#a7cee4"/><stop offset="0.6248" stop-color="#c7dcef"/><stop offset="0.6340" stop-color="#c7dcef"/><stop offset="0.6419" stop-color="#f3f9fe"/><stop offset="1.0452" stop-color="#f3f9fe"/></linearGradient><linearGradient id="g143" x2="0" y2="1"><stop offset="-0.0262" stop-color="#f3f9fe"/><stop offset="0.3257" stop-color="#f2f8fd"/><stop offset="0.3770" stop-color="#eff6fc"/><stop offset="0.3942" stop-color="#ecf4fb"/><stop offset="0.4021" stop-color="#e7f1fa"/><stop offset="0.4113" stop-color="#e7f1fa"/><stop offset="0.4192" stop-color="#d8e7f5"/><stop offset="0.4284" stop-color="#d8e7f5"/><stop offset="0.4363" stop-color="#62a8d3"/><stop offset="0.4456" stop-color="#62a8d3"/><stop offset="0.4535" stop-color="#2878b9"/><stop offset="0.4627" stop-color="#2878b9"/><stop offset="0.4706" stop-color="#1765ab"/><stop offset="0.4798" stop-color="#1765ab"/><stop offset="0.4877" stop-color="#08519c"/><stop offset="0.4970" stop-color="#08519c"/><stop offset="0.5049" stop-color="#3383be"/><stop offset="0.5141" stop-color="#3383be"/><stop offset="0.5220" stop-color="#73b2d8"/><stop offset="0.5312" stop-color="#73b2d8"/><stop offset="0.5391" stop-color="#8abfdd"/><stop offset="0.5484" stop-color="#8abfdd"/><stop offset="0.5562" stop-color="#96c5df"/><stop offset="0.5826" stop-color="#9ac8e0"/><stop offset="0.5905" stop-color="#a7cee4"/><stop offset="0.6169" stop-color="#a7cee4"/><stop offset="0.6248" stop-color="#c7dcef"/><stop offset="0.6340" stop-color="#c7dcef"/><stop offset="0.6419" stop-color="#f3f9fe"/><stop offset="1.0452" stop-color="#f3f9fe"/></linearGradient><linearGradient id="g144" x2="0" y2="1"><stop offset="-0.0262" stop-color="#f3f9fe"/><stop offset="0.3257" stop-color="#f2f8fd"/><stop offset="0.3770" stop-color="#eff6fc"/><stop offset="0.3942" stop-color="#ecf4fb"/><stop offset="0.4021" stop-color="#e7f1fa"/><stop offset="0.4113" stop-color="#e7f1fa"/><stop offset="0.4192" stop-color="#d5e5f4"/><stop offset="0.4284" stop-color="#d5e5f4"/><stop offset="0.4363" stop-color="#5aa2cf"/><stop offset="0.4456" stop-color="#5aa2cf"/><stop offset="0.4535" stop-color="#2878b9"/><stop offset="0.4627" stop-color="#2878b9"/><stop offset="0.4706" stop-color="#1765ab"/><stop offset="0.4798" stop-color="#1765ab"/><stop offset="0.4877" stop-color="#08519c"/><stop offset="0.4970" stop-color="#08519c"/><stop offset="0.5049" stop-color="#3888c1"/><stop offset="0.5141" stop-color="#3888c1"/><stop offset="0.5220" stop-color="#75b4d8"/><stop offset="0.5312" stop-color="#75b4d8"/><stop offset="0.5391" stop-color="#8bbfdd"/><stop offset="0.5484" stop-color="#8bbfdd"/><stop offset="0.5562" stop-color="#96c5df"/><stop offset="0.5826" stop-color="#9ac8e0"/><stop offset="0.5905" stop-color="#a7cee4"/><stop offset="0.6169" stop-color="#a7cee4"/><stop offset="0.6248" stop-color="#c7dcef"/><stop offset="0.6340" stop-color="#c7dcef"/><stop offset="0.6419" stop-color="#f3f9fe"/><stop offset="1.0452" stop-color="#f3f9fe"/></linearGradient><linearGradient id="g145" x2="0" y2="1"><stop offset="-0.0262" stop-color="#f3f9fe"/><stop offset="0.3257" stop-color="#f2f8fd"/><stop offset="0.3770" stop-color="#eff6fc"/><stop offset="0.3942" stop-color="#ecf4fb"/><stop offset="0.4021" stop-color="#e7f1fa"/><stop offset="0.4113" stop-color="#e7f1fa"/><stop offset="0.4192" stop-color="#d1e2f3"/><stop offset="0.4284" stop-color="#d1e2f3"/><stop offset="0.4363" stop-color="#529dcc"/><stop offset="0.4456" stop-color="#529dcc"/><stop offset="0.4535" stop-color="#2878b9"/><stop offset="0.4627" stop-color="#2878b9"/><stop offset="0.4706" stop-color="#1765ab"/><stop offset="0.4798" stop-color="#1765ab"/><stop offset="0.4877" stop-color="#09539d"/><stop offset="0.4970" stop-color="#09539d"/><stop offset="0.5049" stop-color="#3c8cc3"/><stop offset="0.5141" stop-color="#3c8cc3"/><stop offset="0.5220" stop-color="#78b5d9"/><stop offset="0.5312" stop-color="#78b5d9"/><stop offset="0.5391" stop-color="#8bc0dd"/><stop offset="0.5484" stop-color="#8bc0dd"/><stop offset="0.5562" stop-color="#96c6df"/><stop offset="0.5826" stop-color="#9ac8e0"/><stop offset="0.5905" stop-color="#a7cee4"/><stop offset="0.6169" stop-color="#a7cee4"/><stop offset="0.6248" stop-color="#c7dcef"/><stop offset="0.6340" stop-color="#c7dcef"/><stop offset="0.6419" stop-color="#f3f9fe"/><stop offset="1.0452" stop-color="#f3f9fe"/></linearGradient><linearGradient id="g146" x2="0" y2="1"><stop offset="-0.0262" stop-color="#f3f9fe"/><stop offset="0.3257" stop-color="#f2f8fd"/><stop offset="0.3770" stop-color="#eff6fc"/><stop offset="0.3942" stop-color="#ecf4fb"/><stop offset="0.4021" stop-color="#e7f1fa"/><stop offset="0.4113" stop-color="#e7f1fa"/><stop offset="0.4192" stop-color="#ccdff1"/><stop offset="0.4284" stop-color="#ccdff1"/><stop offset="0.4363" stop-color="#4b98ca"/><stop offset="0.4456" stop-color="#4b98ca"/><stop offset="0.4535" stop-color="#2878b9"/><stop offset="0.4627" stop-color="#2878b9"/><stop offset="0.4706" stop-color="#1765ab"/><stop offset="0.4798" stop-color="#1765ab"/><stop offset="0.4877" stop-color="#0f5aa3"/><stop offset="0.4970" stop-color="#0f5aa3"/><stop offset="0.5049" stop-color="#4090c5"/><stop offset="0.5141" stop-color="#4090c5"/><stop offset="0.5220" stop-color="#7ab6d9"/><stop offset="0.5312" stop-color="#7ab6d9"/><stop offset="0.5391" stop-color="#8cc0dd"/><stop offset="0.5484" stop-color="#8cc0dd"/><stop offset="0.5562" stop-color="#96c6df"/><stop offset="0.5826" stop-color="#9ac8e0"/><stop offset="0.5905" stop-color="#a7cee4"/><stop offset="0.6169" stop-color="#a7cee4"/><stop offset="0.6248" stop-color="#c7dcef"/><stop offset="0.6340" stop-color="#c7dcef"/><stop offset="0.6419" stop-color="#f3f9fe"/><stop offset="1.0452" stop-color="#f3f9fe"/></linearGradient><linearGradient id="g147" x2="0" y2="1"><stop offset="-0.0262" stop-color="#f3f9fe"/><stop offset="0.3257" stop-color="#f2f8fd"/><stop offset="0.3770" stop-color="#eff6fc"/><stop offset="0.3942" stop-color="#ecf4fb"/><stop offset="0.4021" stop-color="#e7f1fa"/><stop offset="0.4113" stop-color="#e7f1fa"/><stop offset="0.4192" stop-color="#c8dcf0"/><stop offset="0.4284" stop-color="#c8dcf0"/><stop offset="0.4363" stop-color="#4594c7"/><stop offset="0.4456" stop-color="#4594c7"/><stop offset="0.4535" stop-color="#2878b9"/><stop offset="0.4627" stop-color="#2878b9"/><stop offset="0.4706" stop-color="#1765ab"/><stop offset="0.4970" stop-color="#1561a9"/><stop offset="0.5049" stop-color="#4494c7"/><stop offset="0.5141" stop-color="#4494c7"/><stop offset="0.5220" stop-color="#7cb7da"/><stop offset="0.5312" stop-color="#7cb7da"/><stop offset="0.5391" stop-color="#8dc0dd"/><stop offset="0.5484" stop-color="#8dc0dd"/><stop offset="0.5562" stop-color="#96c6df"/><stop offset="0.5826" stop-color="#9ac8e0"/><stop offset="0.5905" stop-color="#a7cee4"/><stop offset="0.6169" stop-color="#a7cee4"/><stop offset="0.6248" stop-color="#c7dcef"/><stop offset="0.6340" stop-color="#c7dcef"/><stop offset="0.6419" stop-color="#f3f9fe"/><stop offset="1.0452" stop-color="#f3f9fe"/></linearGradient><linearGradient id="g148" x2="0" y2="1"><stop offset="-0.0262" stop-color="#f3f9fe"/><stop offset="0.3257" stop-color="#f2f8fd"/><stop offset="0.3770" stop-color="#eff6fc"/><stop offset="0.3942" stop-color="#ecf4fb"/><stop offset="0.4021" stop-color="#e7f1fa"/><stop offset="0.4113" stop-color="#e7f1fa"/><stop offset="0.4192" stop-color="#c1d9ed"/><stop offset="0.4284" stop-color="#c1d9ed"/><stop offset="0.4363" stop-color="#3989c1"/><stop offset="0.4456" stop-color="#3989c1"/><stop offset="0.4535" stop-color="#2878b9"/><stop offset="0.4627" stop-color="#2878b9"/><stop offset="0.4706" stop-color="#1765ab"/><stop offset="0.4798" stop-color="#1765ab"/><stop offset="0.4970" stop-color="#1a68ae"/><stop offset="0.5049" stop-color="#4997c9"/><stop offset="0.5141" stop-color="#4997c9"/><stop offset="0.5220" stop-color="#7eb9da"/><stop offset="0.5312" stop-color="#7eb9da"/><stop offset="0.5391" stop-color="#8dc1dd"/><stop offset="0.5484" stop-color="#8dc1dd"/><stop offset="0.5562" stop-color="#96c6df"/><stop offset="0.5826" stop-color="#9ac8e0"/><stop offset="0.5905" stop-color="#a7cee4"/><stop offset="0.6169" stop-color="#a7cee4"/><stop offset="0.6248" stop-color="#c7dcef"/><stop offset="0.6340" stop-color="#c7dcef"/><stop offset="0.6419" stop-color="#f3f9fe"/><stop offset="1.0452" stop-color="#f3f9fe"/></linearGradient><linearGradient id="g149" x2="0" y2="1"><stop offset="-0.0262" stop-color="#f3f9fe"/><stop offset="0.3257" stop-color="#f2f8fd"/><stop offset="0.3770" stop-color="#eff6fc"/><stop offset="0.3942" stop-color="#ecf4fb"/><stop offset="0.4021" stop-color="#e7f1fa"/><stop offset="0.4113" stop-color="#e7f1fa"/><stop offset="0.4192" stop-color="#b9d5ea"/><stop offset="0.4284" stop-color="#b9d5ea"/><stop offset="0.4363" stop-color="#3989c1"/><stop offset="0.4456" stop-color="#3989c1"/><stop offset="0.4535" stop-color="#2878b9"/><stop offset="0.4627" stop-color="#2878b9"/><stop offset="0.4706" stop-color="#1765ab"/><stop offset="0.4798" stop-color="#1765ab"/><stop offset="0.4877" stop-color="#1f6eb3"/><stop offset="0.4970" stop-color="#1f6eb3"/><stop offset="0.5049" stop-color="#4d99ca"/><stop offset="0.5141" stop-color="#4d99ca"/><stop offset="0.5220" stop-color="#80badb"/><stop offset="0.5312" stop-color="#80badb"/><stop offset="0.5391" stop-color="#8ec1de"/><stop offset="0.5484" stop-color="#8ec1de"/><stop offset="0.5562" stop-color="#97c6df"/><stop offset="0.5826" stop-color="#9ac8e0"/><stop offset="0.5905" stop-color="#a7cee4"/><stop offset="0.6169" stop-color="#a7cee4"/><stop offset="0.6248" stop-color="#c7dcef"/><stop offset="0.6340" stop-color="#c7dcef"/><stop offset="0.6419" stop-color="#f3f9fe"/><stop offset="1.0452" stop-color="#f3f9fe"/></linearGradient><linearGradient id="g150" x2="0" y2="1"><stop offset="-0.0262" stop-color="#f3f9fe"/><stop offset="0.3257" stop-color="#f2f8fd"/><stop offset="0.3770" stop-color="#eff6fc"/><stop offset="0.3942" stop-color="#ecf4fb"/><stop offset="0.4021" stop-color="#e7f1fa"/><stop offset="0.4113" stop-color="#e7f1fa"/><stop offset="0.4192" stop-color="#b0d2e7"/><stop offset="0.4284" stop-color="#b0d2e7"/><stop offset="0.4363" stop-color="#3989c1"/><stop offset="0.4456" stop-color="#3989c1"/><stop offset="0.4535" stop-color="#2878b9"/><stop offset="0.4627" stop-color="#2878b9"/><stop offset="0.4706" stop-color="#1765ab"/><stop offset="0.4798" stop-color="#1765ab"/><stop offset="0.4877" stop-color="#2474b7"/><stop offset="0.4970" stop-color="#2474b7"/><stop offset="0.5049" stop-color="#519ccc"/><stop offset="0.5141" stop-color="#519ccc"/><stop offset="0.5220" stop-color="#82badb"/><stop offset="0.5312" stop-color="#82badb"/><stop offset="0.5391" stop-color="#8ec1de"/><stop offset="0.5484" stop-color="#8ec1de"/><stop offset="0.5562" stop-color="#97c6df"/><stop offset="0.5826" stop-color="#9ac8e0"/><stop offset="0.5905" stop-color="#a7cee4"/><stop offset="0.6169" stop-color="#a7cee4"/><stop offset="0.6248" stop-color="#c7dcef"/><stop offset="0.6340" stop-color="#c7dcef"/><stop offset="0.6419" stop-color="#f3f9fe"/><stop offset="1.0452" stop-color="#f3f9fe"/></linearGradient><linearGradient id="g151" x2="0" y2="1"><stop offset="-0.0262" stop-color="#f3f9fe"/><stop offset="0.3257" stop-color="#f2f8fd"/><stop offset="0.3770" stop-color="#eff6fc"/><stop offset="0.3942" stop-color="#ecf4fb"/><stop offset="0.4021" stop-color="#e7f1fa"/><stop offset="0.4113" stop-color="#e7f1fa"/><stop offset="0.4192" stop-color="#a8cee4"/><stop offset="0.4284" stop-color="#a8cee4"/><stop offset="0.4363" stop-color="#3989c1"/><stop offset="0.4456" stop-color="#3989c1"/><stop offset="0.4535" stop-color="#2878b9"/><stop offset="0.4627" stop-color="#2878b9"/><stop offset="0.4706" stop-color="#1765ab"/><stop offset="0.4798" stop-color="#1765ab"/><stop offset="0.4877" stop-color="#2a7aba"/><stop offset="0.4970" stop-color="#2a7aba"/><stop offset="0.5049" stop-color="#549fcd"/><stop offset="0.5141" stop-color="#549fcd"/><stop offset="0.5220" stop-color="#83bbdb"/><stop offset="0.5312" stop-color="#83bbdb"/><stop offset="0.5391" stop-color="#8fc2de"/><stop offset="0.5484" stop-color="#8fc2de"/><stop offset="0.5562" stop-color="#97c6df"/><stop offset="0.5826" stop-color="#9ac8e0"/><stop offset="0.5905" stop-color="#a7cee4"/><stop offset="0.6169" stop-color="#a7cee4"/><stop offset="0.6248" stop-color="#c7dcef"/><stop offset="0.6340" stop-color="#c7dcef"/><stop offset="0.6419" stop-color="#f3f9fe"/><stop offset="1.0452" stop-color="#f3f9fe"/></linearGradient><linearGradient id="g152" x2="0" y2="1"><stop offset="-0.0262" stop-color="#f3f9fe"/><stop offset="0.3257" stop-color="#f2f8fd"/><stop offset="0.3770" stop-color="#eff6fc"/><stop offset="0.3942" stop-color="#ecf4fb"/><stop offset="0.4021" stop-color="#e7f1fa"/><stop offset="0.4113" stop-color="#e7f1fa"/><stop offset="0.4192" stop-color="#9fcae1"/><stop offset="0.4284" stop-color="#9fcae1"/><stop offset="0.4363" stop-color="#3989c1"/><stop offset="0.4456" stop-color="#3989c1"/><stop offset="0.4535" stop-color="#2878b9"/><stop offset="0.4627" stop-color="#2878b9"/><stop offset="0.4706" stop-color="#1765ab"/><stop offset="0.4798" stop-color="#1765ab"/><stop offset="0.4877" stop-color="#2f7fbc"/><stop offset="0.4970" stop-color="#2f7fbc"/><stop offset="0.5049" stop-color="#58a1cf"/><stop offset="0.5141" stop-color="#58a1cf"/><stop offset="0.5220" stop-color="#85bcdc"/><stop offset="0.5312" stop-color="#85bcdc"/><stop offset="0.5391" stop-color="#8fc2de"/><stop offset="0.5484" stop-color="#8fc2de"/><stop offset="0.5562" stop-color="#97c6df"/><stop offset="0.5826" stop-color="#9ac8e0"/><stop offset="0.5905" stop-color="#a7cee4"/><stop offset="0.6169" stop-color="#a7cee4"/><stop offset="0.6248" stop-color="#c7dcef"/><stop offset="0.6340" stop-color="#c7dcef"/><stop offset="0.6419" stop-color="#f3f9fe"/><stop offset="1.0452" stop-color="#f3f9fe"/></linearGradient><linearGradient id="g153" x2="0" y2="1"><stop offset="-0.0262" stop-color="#f3f9fe"/><stop offset="0.3257" stop-color="#f2f8fd"/><stop offset="0.3770" stop-color="#eff6fc"/><stop offset="0.3942" stop-color="#ecf4fb"/><stop offset="0.4021" stop-color="#e7f1fa"/><stop offset="0.4113" stop-color="#e7f1fa"/><stop offset="0.4192" stop-color="#95c5df"/><stop offset="0.4284" stop-color="#95c5df"/><stop offset="0.4363" stop-color="#3989c1"/><stop offset="0.4456" stop-color="#3989c1"/><stop offset="0.4535" stop-color="#2878b9"/><stop offset="0.4627" stop-color="#2878b9"/><stop offset="0.4706" stop-color="#1866ac"/><stop offset="0.4798" stop-color="#1866ac"/><stop offset="0.4877" stop-color="#3484bf"/><stop offset="0.4970" stop-color="#3484bf"/><stop offset="0.5049" stop-color="#5ba3d0"/><stop offset="0.5141" stop-color="#5ba3d0"/><stop offset="0.5220" stop-color="#86bddc"/><stop offset="0.5312" stop-color="#86bddc"/><stop offset="0.5391" stop-color="#90c2de"/><stop offset="0.5484" stop-color="#90c2de"/><stop offset="0.5562" stop-color="#97c6e0"/><stop offset="0.5826" stop-color="#9ac8e0"/><stop offset="0.5905" stop-color="#a7cee4"/><stop offset="0.6169" stop-color="#a7cee4"/><stop offset="0.6248" stop-color="#c7dcef"/><stop offset="0.6340" stop-color="#c7dcef"/><stop offset="0.6419" stop-color="#f3f9fe"/><stop offset="1.0452" stop-color="#f3f9fe"/></linearGradient><linearGradient id="g154" x2="0" y2="1"><stop offset="-0.0262" stop-color="#f3f9fe"/><stop offset="0.3257" stop-color="#f2f8fd"/><stop offset="0.3770" stop-color="#eff6fc"/><stop offset="0.3942" stop-color="#ecf4fb"/><stop offset="0.4021" stop-color="#e6f0fa"/><stop offset="0.4113" stop-color="#e6f0fa"/><stop offset="0.4192" stop-color="#8abfdd"/><stop offset="0.4284" stop-color="#8abfdd"/><stop offset="0.4363" stop-color="#3989c1"/><stop offset="0.4456" stop-color="#3989c1"/><stop offset="0.4535" stop-color="#2878b9"/><stop offset="0.4627" stop-color="#2878b9"/><stop offset="0.4706" stop-color="#1e6db2"/><stop offset="0.4798" stop-color="#1e6db2"/><stop offset="0.4877" stop-color="#3989c1"/><stop offset="0.4970" stop-color="#3989c1"/><stop offset="0.5049" stop-color="#5ea5d1"/><stop offset="0.5141" stop-color="#5ea5d1"/><stop offset="0.5220" stop-color="#87bedc"/><stop offset="0.5312" stop-color="#87bedc"/><stop offset="0.5391" stop-color="#90c3de"/><stop offset="0.5484" stop-color="#90c3de"/><stop offset="0.5562" stop-color="#97c6e0"/><stop offset="0.5826" stop-color="#9ac8e0"/><stop offset="0.5905" stop-color="#a7cee4"/><stop offset="0.6169" stop-color="#a7cee4"/><stop offset="0.6248" stop-color="#c7dcef"/><stop offset="0.6340" stop-color="#c7dcef"/><stop offset="0.6419" stop-color="#f3f9fe"/><stop offset="1.0452" stop-color="#f3f9fe"/></linearGradient><linearGradient id="g155" x2="0" y2="1"><stop offset="-0.0262" stop-color="#f3f9fe"/><stop offset="0.3257" stop-color="#f2f8fd"/><stop offset="0.3770" stop-color="#eff6fc"/><stop offset="0.3942" stop-color="#ecf4fb"/><stop offset="0.4021" stop-color="#e5eff9"/><stop offset="0.4113" stop-color="#e5eff9"/><stop offset="0.4192" stop-color="#80badb"/><stop offset="0.4284" stop-color="#80badb"/><stop offset="0.4363" stop-color="#3989c1"/><stop offset="0.4456" stop-color="#3989c1"/><stop offset="0.4535" stop-color="#2878b9"/><stop offset="0.4798" stop-color="#2474b6"/><stop offset="0.4877" stop-color="#3d8dc3"/><stop offset="0.4970" stop-color="#3d8dc3"/><stop offset="0.5049" stop-color="#61a7d2"/><stop offset="0.5141" stop-color="#61a7d2"/><stop offset="0.5220" stop-color="#89bedc"/><stop offset="0.5312" stop-color="#89bedc"/><stop offset="0.5391" stop-color="#91c3de"/><stop offset="0.5484" stop-color="#91c3de"/><stop offset="0.5562" stop-color="#97c6e0"/><stop offset="0.5826" stop-color="#9ac8e0"/><stop offset="0.5905" stop-color="#a7cee4"/><stop offset="0.6169" stop-color="#a7cee4"/><stop offset="0.6248" stop-color="#c7dcef"/><stop offset="0.6340" stop-color="#c7dcef"/><stop offset="0.6419" stop-color="#f3f9fe"/><stop offset="1.0452" stop-color="#f3f9fe"/></linearGradient><linearGradient id="g156" x2="0" y2="1"><stop offset="-0.0262" stop-color="#f3f9fe"/><stop offset="0.3085" stop-color="#f3f8fe"/><stop offset="0.3599" stop-color="#f1f7fd"/><stop offset="0.3942" stop-color="#ecf4fb"/><stop offset="0.4021" stop-color="#e3eef9"/><stop offset="0.4113" stop-color="#e3eef9"/><stop offset="0.4192" stop-color="#77b4d8"/><stop offset="0.4284" stop-color="#77b4d8"/><stop offset="0.4363" stop-color="#3989c1"/><stop offset="0.4456" stop-color="#3989c1"/><stop offset="0.4535" stop-color="#2878b9"/><stop offset="0.4627" stop-color="#2878b9"/><stop offset="0.4798" stop-color="#2a7aba"/><stop offset="0.4877" stop-color="#4191c5"/><stop offset="0.4970" stop-color="#4191c5"/><stop offset="0.5049" stop-color="#63a9d3"/><stop offset="0.5141" stop-color="#63a9d3"/><stop offset="0.5220" stop-color="#8abfdd"/><stop offset="0.5312" stop-color="#8abfdd"/><stop offset="0.5391" stop-color="#91c3de"/><stop offset="0.5484" stop-color="#91c3de"/><stop offset="0.5562" stop-color="#98c6e0"/><stop offset="0.5826" stop-color="#9ac8e0"/><stop offset="0.5905" stop-color="#a7cee4"/><stop offset="0.6169" stop-color="#a7cee4"/><stop offset="0.6248" stop-color="#c7dcef"/><stop offset="0.6340" stop-color="#c7dcef"/><stop offset="0.6419" stop-color="#f3f9fe"/><stop offset="1.0452" stop-color="#f3f9fe"/></linearGradient><linearGradient id="g157" x2="0" y2="1"><stop offset="-0.0262" stop-color="#f3f9fe"/><stop offset="0.3085" stop-color="#f3f8fe"/><stop offset="0.3599" stop-color="#f1f7fd"/><stop offset="0.3942" stop-color="#ecf4fb"/><stop offset="0.4021" stop-color="#e1edf8"/><stop offset="0.4113" stop-color="#e1edf8"/><stop offset="0.4192" stop-color="#6eafd7"/><stop offset="0.4284" stop-color="#6eafd7"/><stop offset="0.4363" stop-color="#3989c1"/><stop offset="0.4456" stop-color="#3989c1"/><stop offset="0.4535" stop-color="#2878b9"/><stop offset="0.4627" stop-color="#2878b9"/><stop offset="0.4706" stop-color="#3080bd"/><stop offset="0.4798" stop-color="#3080bd"/><stop offset="0.4877" stop-color="#4594c7"/><stop offset="0.4970" stop-color="#4594c7"/><stop offset="0.5049" stop-color="#66aad4"/><stop offset="0.5141" stop-color="#66aad4"/><stop offset="0.5220" stop-color="#8bc0dd"/><stop offset="0.5312" stop-color="#8bc0dd"/><stop offset="0.5391" stop-color="#92c3de"/><stop offset="0.5484" stop-color="#92c3de"/><stop offset="0.5562" stop-color="#98c7e0"/><stop offset="0.5826" stop-color="#9ac8e0"/><stop offset="0.5905" stop-color="#a7cee4"/><stop offset="0.6169" stop-color="#a7cee4"/><stop offset="0.6248" stop-color="#c7dcef"/><stop offset="0.6340" stop-color="#c7dcef"/><stop offset="0.6419" stop-color="#f3f9fe"/><stop offset="1.0452" stop-color="#f3f9fe"/></linearGradient><linearGradient id="g158" x2="0" y2="1"><stop offset="-0.0262" stop-color="#f3f9fe"/><stop offset="0.3085" stop-color="#f3f8fe"/><stop offset="0.3599" stop-color="#f1f7fd"/><stop offset="0.3942" stop-color="#ecf4fb"/><stop offset="0.4021" stop-color="#deebf7"/><stop offset="0.4113" stop-color="#deebf7"/><stop offset="0.4192" stop-color="#67abd4"/><stop offset="0.4284" stop-color="#67abd4"/><stop offset="0.4363" stop-color="#3989c1"/><stop offset="0.4456" stop-color="#3989c1"/><stop offset="0.4535" stop-color="#2878b9"/><stop offset="0.4627" stop-color="#2878b9"/><stop offset="0.4706" stop-color="#3585bf"/><stop offset="0.4798" stop-color="#3585bf"/><stop offset="0.4877" stop-color="#4a97c9"/><stop offset="0.4970" stop-color="#4a97c9"/><stop offset="0.5049" stop-color="#68acd5"/><stop offset="0.5141" stop-color="#68acd5"/><stop offset="0.5220" stop-color="#8cc0dd"/><stop offset="0.5312" stop-color="#8cc0dd"/><stop offset="0.5391" stop-color="#92c3de"/><stop offset="0.5484" stop-color="#92c3de"/><stop offset="0.5562" stop-color="#98c7e0"/><stop offset="0.5826" stop-color="#9ac8e0"/><stop offset="0.5905" stop-color="#a7cee4"/><stop offset="0.6169" stop-color="#a7cee4"/><stop offset="0.6248" stop-color="#c7dcef"/><stop offset="0.6340" stop-color="#c7dcef"/><stop offset="0.6419" stop-color="#f3f9fe"/><stop offset="1.0452" stop-color="#f3f9fe"/></linearGradient><linearGradient id="g159" x2="0" y2="1"><stop offset="-0.0262" stop-color="#f3f9fe"/><stop offset="0.3085" stop-color="#f3f8fe"/><stop offset="0.3599" stop-color="#f1f7fd"/><stop offset="0.3942" stop-color="#ecf4fb"/><stop offset="0.4021" stop-color="#dbe9f6"/><stop offset="0.4113" stop-color="#dbe9f6"/><stop offset="0.4192" stop-color="#61a7d2"/><stop offset="0.4284" stop-color="#61a7d2"/><stop offset="0.4363" stop-color="#3989c1"/><stop offset="0.4456" stop-color="#3989c1"/><stop offset="0.4535" stop-color="#2878b9"/><stop offset="0.4627" stop-color="#2878b9"/><stop offset="0.4706" stop-color="#3a8ac2"/><stop offset="0.4798" stop-color="#3a8ac2"/><stop offset="0.4877" stop-color="#4e9acb"/><stop offset="0.4970" stop-color="#4e9acb"/><stop offset="0.5049" stop-color="#6aadd6"/><stop offset="0.5141" stop-color="#6aadd6"/><stop offset="0.5220" stop-color="#8dc1dd"/><stop offset="0.5312" stop-color="#8dc1dd"/><stop offset="0.5391" stop-color="#92c4df"/><stop offset="0.5484" stop-color="#92c4df"/><stop offset="0.5562" stop-color="#98c7e0"/><stop offset="0.5826" stop-color="#9ac8e0"/><stop offset="0.5905" stop-color="#a7cee4"/><stop offset="0.6169" stop-color="#a7cee4"/><stop offset="0.6248" stop-color="#c7dcef"/><stop offset="0.6340" stop-color="#c7dcef"/><stop offset="0.6419" stop-color="#f3f9fe"/><stop offset="1.0452" stop-color="#f3f9fe"/></linearGradient><linearGradient id="g160" x2="0" y2="1"><stop offset="-0.0262" stop-color="#f3f9fe"/><stop offset="0.3085" stop-color="#f3f8fe"/><stop offset="0.3599" stop-color="#f1f7fd"/><stop offset="0.3942" stop-color="#ecf4fb"/><stop offset="0.4021" stop-color="#d8e7f5"/><stop offset="0.4113" stop-color="#d8e7f5"/><stop offset="0.4192" stop-color="#539ecd"/><stop offset="0.4284" stop-color="#539ecd"/><stop offset="0.4363" stop-color="#3989c1"/><stop offset="0.4456" stop-color="#3989c1"/><stop offset="0.4535" stop-color="#2878b9"/><stop offset="0.4627" stop-color="#2878b9"/><stop offset="0.4706" stop-color="#3f8fc5"/><stop offset="0.4798" stop-color="#3f8fc5"/><stop offset="0.4877" stop-color="#519dcc"/><stop offset="0.4970" stop-color="#519dcc"/><stop offset="0.5049" stop-color="#6cafd6"/><stop offset="0.5141" stop-color="#6cafd6"/><stop offset="0.5220" stop-color="#8ec1dd"/><stop offset="0.5484" stop-color="#93c4df"/><stop offset="0.5562" stop-color="#98c7e0"/><stop offset="0.5826" stop-color="#9ac8e0"/><stop offset="0.5905" stop-color="#a7cee4"/><stop offset="0.6169" stop-color="#a7cee4"/><stop offset="0.6248" stop-color="#c7dcef"/><stop offset="0.6340" stop-color="#c7dcef"/><stop offset="0.6419" stop-color="#f3f9fe"/><stop offset="1.0452" stop-color="#f3f9fe"/></linearGradient><linearGradient id="g161" x2="0" y2="1"><stop offset="-0.0262" stop-color="#f3f9fe"/><stop offset="0.3085" stop-color="#f3f8fe"/><stop offset="0.3599" stop-color="#f1f7fd"/><stop offset="0.3942" stop-color="#ecf4fb"/><stop offset="0.4021" stop-color="#d0e2f2"/><stop offset="0.4113" stop-color="#d0e2f2"/><stop offset="0.4192" stop-color="#539ecd"/><stop offset="0.4284" stop-color="#539ecd"/><stop offset="0.4363" stop-color="#3989c1"/><stop offset="0.4456" stop-color="#3989c1"/><stop offset="0.4535" stop-color="#2878b9"/><stop offset="0.4627" stop-color="#2878b9"/><stop offset="0.4706" stop-color="#4997c9"/><stop offset="0.4798" stop-color="#4997c9"/><stop offset="0.4877" stop-color="#58a1cf"/><stop offset="0.4970" stop-color="#58a1cf"/><stop offset="0.5049" stop-color="#71b1d7"/><stop offset="0.5141" stop-color="#71b1d7"/><stop offset="0.5220" stop-color="#8fc2de"/><stop offset="0.5484" stop-color="#93c4df"/><stop offset="0.5562" stop-color="#98c7e0"/><stop offset="0.5826" stop-color="#9ac8e0"/><stop offset="0.5905" stop-color="#a7cee4"/><stop offset="0.6169" stop-color="#a7cee4"/><stop offset="0.6248" stop-color="#c7dcef"/><stop offset="0.6340" stop-color="#c7dcef"/><stop offset="0.6419" stop-color="#f3f9fe"/><stop offset="1.0452" stop-color="#f3f9fe"/></linearGradient><linearGradient id="g162" x2="0" y2="1"><stop offset="-0.0262" stop-color="#f3f9fe"/><stop offset="0.3085" stop-color="#f3f8fe"/><stop offset="0.3599" stop-color="#f1f7fd"/><stop offset="0.3942" stop-color="#ecf4fb"/><stop offset="0.4021" stop-color="#c8dcf0"/><stop offset="0.4113" stop-color="#c8dcf0"/><stop offset="0.4192" stop-color="#539ecd"/><stop offset="0.4284" stop-color="#539ecd"/><stop offset="0.4363" stop-color="#3989c1"/><stop offset="0.4456" stop-color="#3989c1"/><stop offset="0.4535" stop-color="#2f7fbc"/><stop offset="0.4627" stop-color="#2f7fbc"/><stop offset="0.4706" stop-color="#539dcd"/><stop offset="0.4798" stop-color="#539dcd"/><stop offset="0.4877" stop-color="#5ea5d1"/><stop offset="0.4970" stop-color="#5ea5d1"/><stop offset="0.5049" stop-color="#75b3d8"/><stop offset="0.5141" stop-color="#75b3d8"/><stop offset="0.5220" stop-color="#91c3de"/><stop offset="0.5484" stop-color="#94c5df"/><stop offset="0.5562" stop-color="#98c7e0"/><stop offset="0.5826" stop-color="#9ac8e0"/><stop offset="0.5905" stop-color="#a7cee4"/><stop offset="0.6169" stop-color="#a7cee4"/><stop offset="0.6248" stop-color="#c7dcef"/><stop offset="0.6340" stop-color="#c7dcef"/><stop offset="0.6419" stop-color="#f3f9fe"/><stop offset="1.0452" stop-color="#f3f9fe"/></linearGradient><linearGradient id="g163" x2="0" y2="1"><stop offset="-0.0262" stop-color="#f3f9fe"/><stop offset="0.3085" stop-color="#f3f8fe"/><stop offset="0.3599" stop-color="#f1f7fd"/><stop offset="0.3942" stop-color="#ecf4fb"/><stop offset="0.4021" stop-color="#c1d9ed"/><stop offset="0.4113" stop-color="#c1d9ed"/><stop offset="0.4192" stop-color="#539ecd"/><stop offset="0.4284" stop-color="#539ecd"/><stop offset="0.4363" stop-color="#3989c1"/><stop offset="0.4627" stop-color="#3585bf"/><stop offset="0.4706" stop-color="#57a0ce"/><stop offset="0.4798" stop-color="#57a0ce"/><stop offset="0.4877" stop-color="#61a7d2"/><stop offset="0.4970" stop-color="#61a7d2"/><stop offset="0.5049" stop-color="#77b4d8"/><stop offset="0.5141" stop-color="#77b4d8"/><stop offset="0.5220" stop-color="#91c3de"/><stop offset="0.5826" stop-color="#9ac8e0"/><stop offset="0.5905" stop-color="#a7cee4"/><stop offset="0.6169" stop-color="#a7cee4"/><stop offset="0.6248" stop-color="#c7dcef"/><stop offset="0.6340" stop-color="#c7dcef"/><stop offset="0.6419" stop-color="#f3f9fe"/><stop offset="1.0452" stop-color="#f3f9fe"/></linearGradient><linearGradient id="g164" x2="0" y2="1"><stop offset="-0.0262" stop-color="#f3f9fe"/><stop offset="0.3085" stop-color="#f3f8fe"/><stop offset="0.3599" stop-color="#f1f7fd"/><stop offset="0.3942" stop-color="#ecf4fb"/><stop offset="0.4021" stop-color="#bad6eb"/><stop offset="0.4113" stop-color="#bad6eb"/><stop offset="0.4192" stop-color="#539ecd"/><stop offset="0.4284" stop-color="#539ecd"/><stop offset="0.4363" stop-color="#3989c1"/><stop offset="0.4456" stop-color="#3989c1"/><stop offset="0.4627" stop-color="#3a8ac2"/><stop offset="0.4706" stop-color="#5ba3d0"/><stop offset="0.4798" stop-color="#5ba3d0"/><stop offset="0.4877" stop-color="#64a9d3"/><stop offset="0.4970" stop-color="#64a9d3"/><stop offset="0.5049" stop-color="#78b5d9"/><stop offset="0.5141" stop-color="#78b5d9"/><stop offset="0.5220" stop-color="#92c3de"/><stop offset="0.5826" stop-color="#9ac8e0"/><stop offset="0.5905" stop-color="#a7cee4"/><stop offset="0.6169" stop-color="#a7cee4"/><stop offset="0.6248" stop-color="#c7dcef"/><stop offset="0.6340" stop-color="#c7dcef"/><stop offset="0.6419" stop-color="#f3f9fe"/><stop offset="1.0452" stop-color="#f3f9fe"/></linearGradient><linearGradient id="g165" x2="0" y2="1"><stop offset="-0.0262" stop-color="#f3f9fe"/><stop offset="0.3085" stop-color="#f3f8fe"/><stop offset="0.3599" stop-color="#f1f7fd"/><stop offset="0.3942" stop-color="#ecf4fb"/><stop offset="0.4021" stop-color="#b3d3e8"/><stop offset="0.4113" stop-color="#b3d3e8"/><stop offset="0.4192" stop-color="#539ecd"/><stop offset="0.4284" stop-color="#539ecd"/><stop offset="0.4363" stop-color="#3989c1"/><stop offset="0.4456" stop-color="#3989c1"/><stop offset="0.4535" stop-color="#3f8fc4"/><stop offset="0.4627" stop-color="#3f8fc4"/><stop offset="0.4706" stop-color="#5fa6d1"/><stop offset="0.4798" stop-color="#5fa6d1"/><stop offset="0.4877" stop-color="#66abd4"/><stop offset="0.4970" stop-color="#66abd4"/><stop offset="0.5049" stop-color="#7ab6d9"/><stop offset="0.5141" stop-color="#7ab6d9"/><stop offset="0.5220" stop-color="#92c4df"/><stop offset="0.5826" stop-color="#9ac8e0"/><stop offset="0.5905" stop-color="#a7cee4"/><stop offset="0.6169" stop-color="#a7cee4"/><stop offset="0.6248" stop-color="#c7dcef"/><stop offset="0.6340" stop-color="#c7dcef"/><stop offset="0.6419" stop-color="#f3f9fe"/><stop offset="1.0452" stop-color="#f3f9fe"/></linearGradient><linearGradient id="g166" x2="0" y2="1"><stop offset="-0.0262" stop-color="#f3f9fe"/><stop offset="0.3085" stop-color="#f3f8fe"/><stop offset="0.3599" stop-color="#f1f7fd"/><stop offset="0.3942" stop-color="#ecf4fb"/><stop offset="0.4021" stop-color="#abd0e6"/><stop offset="0.4113" stop-color="#abd0e6"/><stop offset="0.4192" stop-color="#539ecd"/><stop offset="0.4284" stop-color="#539ecd"/><stop offset="0.4363" stop-color="#3989c1"/><stop offset="0.4456" stop-color="#3989c1"/><stop offset="0.4535" stop-color="#4493c7"/><stop offset="0.4627" stop-color="#4493c7"/><stop offset="0.4706" stop-color="#62a8d3"/><stop offset="0.4798" stop-color="#62a8d3"/><stop offset="0.4877" stop-color="#68acd5"/><stop offset="0.4970" stop-color="#68acd5"/><stop offset="0.5049" stop-color="#7bb7d9"/><stop offset="0.5141" stop-color="#7bb7d9"/><stop offset="0.5220" stop-color="#93c4df"/><stop offset="0.5826" stop-color="#9ac8e0"/><stop offset="0.5905" stop-color="#a7cee4"/><stop offset="0.6169" stop-color="#a7cee4"/><stop offset="0.6248" stop-color="#c7dcef"/><stop offset="0.6340" stop-color="#c7dcef"/><stop offset="0.6419" stop-color="#f3f9fe"/><stop offset="1.0452" stop-color="#f3f9fe"/></linearGradient><linearGradient id="g167" x2="0" y2="1"><stop offset="-0.0262" stop-color="#f3f9fe"/><stop offset="0.3085" stop-color="#f3f8fe"/><stop offset="0.3599" stop-color="#f1f7fd"/><stop offset="0.3942" stop-color="#ecf4fb"/><stop offset="0.4021" stop-color="#a4cde3"/><stop offset="0.4113" stop-color="#a4cde3"/><stop offset="0.4192" stop-color="#539ecd"/><stop offset="0.4284" stop-color="#539ecd"/><stop offset="0.4363" stop-color="#3989c1"/><stop offset="0.4456" stop-color="#3989c1"/><stop offset="0.4535" stop-color="#4997c9"/><stop offset="0.4627" stop-color="#4997c9"/><stop offset="0.4706" stop-color="#66aad4"/><stop offset="0.4970" stop-color="#6aaed6"/><stop offset="0.5049" stop-color="#7db8da"/><stop offset="0.5141" stop-color="#7db8da"/><stop offset="0.5220" stop-color="#93c4df"/><stop offset="0.5826" stop-color="#9ac8e0"/><stop offset="0.5905" stop-color="#a7cee4"/><stop offset="0.6169" stop-color="#a7cee4"/><stop offset="0.6248" stop-color="#c7dcef"/><stop offset="0.6340" stop-color="#c7dcef"/><stop offset="0.6419" stop-color="#f3f9fe"/><stop offset="1.0452" stop-color="#f3f9fe"/></linearGradient><linearGradient id="g168" x2="0" y2="1"><stop offset="-0.0262" stop-color="#f3f9fe"/><stop offset="0.3085" stop-color="#f3f8fe"/><stop offset="0.3599" stop-color="#f1f7fd"/><stop offset="0.3942" stop-color="#ecf4fb"/><stop offset="0.4021" stop-color="#9dcae1"/><stop offset="0.4113" stop-color="#9dcae1"/><stop offset="0.4192" stop-color="#539ecd"/><stop offset="0.4284" stop-color="#539ecd"/><stop offset="0.4363" stop-color="#3989c1"/><stop offset="0.4456" stop-color="#3989c1"/><stop offset="0.4535" stop-color="#4e9acb"/><stop offset="0.4627" stop-color="#4e9acb"/><stop offset="0.4706" stop-color="#69acd5"/><stop offset="0.4970" stop-color="#6dafd6"/><stop offset="0.5049" stop-color="#7eb8da"/><stop offset="0.5141" stop-color="#7eb8da"/><stop offset="0.5220" stop-color="#94c4df"/><stop offset="0.5826" stop-color="#9ac8e0"/><stop offset="0.5905" stop-color="#a7cee4"/><stop offset="0.6169" stop-color="#a7cee4"/><stop offset="0.6248" stop-color="#c7dcef"/><stop offset="0.6340" stop-color="#c7dcef"/><stop offset="0.6419" stop-color="#f3f9fe"/><stop offset="1.0452" stop-color="#f3f9fe"/></linearGradient><linearGradient id="g169" x2="0" y2="1"><stop offset="-0.0262" stop-color="#f3f9fe"/><stop offset="0.3085" stop-color="#f3f8fe"/><stop offset="0.3599" stop-color="#f1f7fd"/><stop offset="0.3942" stop-color="#ecf4fb"/><stop offset="0.4021" stop-color="#95c5df"/><stop offset="0.4113" stop-color="#95c5df"/><stop offset="0.4192" stop-color="#539ecd"/><stop offset="0.4284" stop-color="#539ecd"/><stop offset="0.4363" stop-color="#3989c1"/><stop offset="0.4456" stop-color="#3989c1"/><stop offset="0.4535" stop-color="#529dcc"/><stop offset="0.4627" stop-color="#529dcc"/><stop offset="0.4706" stop-color="#6caed6"/><stop offset="0.4970" stop-color="#6fb0d7"/><stop offset="0.5049" stop-color="#7fb9da"/><stop offset="0.5141" stop-color="#7fb9da"/><stop offset="0.5220" stop-color="#94c5df"/><stop offset="0.5826" stop-color="#9ac8e0"/><stop offset="0.5905" stop-color="#a7cee4"/><stop offset="0.6169" stop-color="#a7cee4"/><stop offset="0.6248" stop-color="#c7dcef"/><stop offset="0.6340" stop-color="#c7dcef"/><stop offset="0.6419" stop-color="#f3f9fe"/><stop offset="1.0452" stop-color="#f3f9fe"/></linearGradient><linearGradient id="g170" x2="0" y2="1"><stop offset="-0.0262" stop-color="#f3f9fe"/><stop offset="0.3085" stop-color="#f3f8fe"/><stop offset="0.3599" stop-color="#f1f7fd"/><stop offset="0.3942" stop-color="#ecf4fb"/><stop offset="0.4021" stop-color="#8dc1dd"/><stop offset="0.4113" stop-color="#8dc1dd"/><stop offset="0.4192" stop-color="#539ecd"/><stop offset="0.4284" stop-color="#539ecd"/><stop offset="0.4363" stop-color="#3989c1"/><stop offset="0.4456" stop-color="#3989c1"/><stop offset="0.4535" stop-color="#57a0ce"/><stop offset="0.4627" stop-color="#57a0ce"/><stop offset="0.4706" stop-color="#6fb0d7"/><stop offset="0.4970" stop-color="#71b1d7"/><stop offset="0.5049" stop-color="#80badb"/><stop offset="0.5141" stop-color="#80badb"/><stop offset="0.5220" stop-color="#95c5df"/><stop offset="0.5826" stop-color="#9ac8e0"/><stop offset="0.5905" stop-color="#a7cee4"/><stop offset="0.6169" stop-color="#a7cee4"/><stop offset="0.6248" stop-color="#c7dcef"/><stop offset="0.6340" stop-color="#c7dcef"/><stop offset="0.6419" stop-color="#f3f9fe"/><stop offset="1.0452" stop-color="#f3f9fe"/></linearGradient><linearGradient id="g171" x2="0" y2="1"><stop offset="-0.0262" stop-color="#f3f9fe"/><stop offset="0.3085" stop-color="#f3f8fe"/><stop offset="0.3599" stop-color="#f1f7fd"/><stop offset="0.3942" stop-color="#ecf4fb"/><stop offset="0.4021" stop-color="#86bddc"/><stop offset="0.4113" stop-color="#86bddc"/><stop offset="0.4192" stop-color="#539ecd"/><stop offset="0.4284" stop-color="#539ecd"/><stop offset="0.4363" stop-color="#3989c1"/><stop offset="0.4456" stop-color="#3989c1"/><stop offset="0.4535" stop-color="#5ba3d0"/><stop offset="0.4627" stop-color="#5ba3d0"/><stop offset="0.4706" stop-color="#72b2d8"/><stop offset="0.4970" stop-color="#73b3d8"/><stop offset="0.5049" stop-color="#81badb"/><stop offset="0.5141" stop-color="#81badb"/><stop offset="0.5220" stop-color="#95c5df"/><stop offset="0.5826" stop-color="#9ac8e0"/><stop offset="0.5905" stop-color="#a7cee4"/><stop offset="0.6169" stop-color="#a7cee4"/><stop offset="0.6248" stop-color="#c7dcef"/><stop offset="0.6340" stop-color="#c7dcef"/><stop offset="0.6419" stop-color="#f3f9fe"/><stop offset="1.0452" stop-color="#f3f9fe"/></linearGradient><linearGradient id="g172" x2="0" y2="1"><stop offset="-0.0262" stop-color="#f3f9fe"/><stop offset="0.3085" stop-color="#f3f8fe"/><stop offset="0.3599" stop-color="#f1f7fd"/><stop offset="0.3942" stop-color="#ebf3fb"/><stop offset="0.4021" stop-color="#80badb"/><stop offset="0.4113" stop-color="#80badb"/><stop offset="0.4192" stop-color="#539ecd"/><stop offset="0.4284" stop-color="#539ecd"/><stop offset="0.4363" stop-color="#3989c1"/><stop offset="0.4456" stop-color="#3989c1"/><stop offset="0.4535" stop-color="#5fa5d1"/><stop offset="0.4627" stop-color="#5fa5d1"/><stop offset="0.4706" stop-color="#75b4d8"/><stop offset="0.4970" stop-color="#75b4d8"/><stop offset="0.5049" stop-color="#82bbdb"/><stop offset="0.5141" stop-color="#82bbdb"/><stop offset="0.5220" stop-color="#95c5df"/><stop offset="0.5826" stop-color="#9ac8e0"/><stop offset="0.5905" stop-color="#a7cee4"/><stop offset="0.6169" stop-color="#a7cee4"/><stop offset="0.6248" stop-color="#c7dcef"/><stop offset="0.6340" stop-color="#c7dcef"/><stop offset="0.6419" stop-color="#f3f9fe"/><stop offset="1.0452" stop-color="#f3f9fe"/></linearGradient><linearGradient id="g173" x2="0" y2="1"><stop offset="-0.0262" stop-color="#f3f9fe"/><stop offset="0.3257" stop-color="#f2f8fd"/><stop offset="0.3770" stop-color="#eff6fc"/><stop offset="0.3849" stop-color="#e9f2fa"/><stop offset="0.3942" stop-color="#e9f2fa"/><stop offset="0.4021" stop-color="#71b2d7"/><stop offset="0.4113" stop-color="#71b2d7"/><stop offset="0.4192" stop-color="#539ecd"/><stop offset="0.4284" stop-color="#539ecd"/><stop offset="0.4363" stop-color="#3f8fc4"/><stop offset="0.4456" stop-color="#3f8fc4"/><stop offset="0.4535" stop-color="#65aad4"/><stop offset="0.4627" stop-color="#65aad4"/><stop offset="0.4706" stop-color="#7ab6d9"/><stop offset="0.4970" stop-color="#78b5d9"/><stop offset="0.5049" stop-color="#84bcdb"/><stop offset="0.5141" stop-color="#84bcdb"/><stop offset="0.5220" stop-color="#96c6df"/><stop offset="0.5826" stop-color="#9ac8e0"/><stop offset="0.5905" stop-color="#a7cee4"/><stop offset="0.6169" stop-color="#a7cee4"/><stop offset="0.6248" stop-color="#c7dcef"/><stop offset="0.6340" stop-color="#c7dcef"/><stop offset="0.6419" stop-color="#f3f9fe"/><stop offset="1.0452" stop-color="#f3f9fe"/></linearGradient><linearGradient id="g174" x2="0" y2="1"><stop offset="-0.0262" stop-color="#f3f9fe"/><stop offset="0.2914" stop-color="#f3f8fe"/><stop offset="0.3770" stop-color="#eff6fc"/><stop offset="0.3849" stop-color="#e2eef8"/><stop offset="0.3942" stop-color="#e2eef8"/><stop offset="0.4021" stop-color="#71b2d7"/><stop offset="0.4113" stop-color="#71b2d7"/><stop offset="0.4192" stop-color="#539ecd"/><stop offset="0.4284" stop-color="#539ecd"/><stop offset="0.4363" stop-color="#4e9acb"/><stop offset="0.4456" stop-color="#4e9acb"/><stop offset="0.4535" stop-color="#6fb0d7"/><stop offset="0.4627" stop-color="#6fb0d7"/><stop offset="0.4706" stop-color="#81badb"/><stop offset="0.4970" stop-color="#7db8da"/><stop offset="0.5049" stop-color="#86bddc"/><stop offset="0.5141" stop-color="#86bddc"/><stop offset="0.5220" stop-color="#97c6df"/><stop offset="0.5826" stop-color="#9ac8e0"/><stop offset="0.5905" stop-color="#a7cee4"/><stop offset="0.6169" stop-color="#a7cee4"/><stop offset="0.6248" stop-color="#c7dcef"/><stop offset="0.6340" stop-color="#c7dcef"/><stop offset="0.6419" stop-color="#f3f9fe"/><stop offset="1.0452" stop-color="#f3f9fe"/></linearGradient><linearGradient id="g175" x2="0" y2="1"><stop offset="-0.0262" stop-color="#f3f9fe"/><stop offset="0.2914" stop-color="#f3f8fe"/><stop offset="0.3770" stop-color="#eff6fc"/><stop offset="0.3849" stop-color="#d8e7f5"/><stop offset="0.3942" stop-color="#d8e7f5"/><stop offset="0.4021" stop-color="#71b2d7"/><stop offset="0.4113" stop-color="#71b2d7"/><stop offset="0.4192" stop-color="#539ecd"/><stop offset="0.4284" stop-color="#539ecd"/><stop offset="0.4363" stop-color="#5ba3d0"/><stop offset="0.4456" stop-color="#5ba3d0"/><stop offset="0.4535" stop-color="#78b5d9"/><stop offset="0.4627" stop-color="#78b5d9"/><stop offset="0.4706" stop-color="#87bddc"/><stop offset="0.4798" stop-color="#87bddc"/><stop offset="0.4877" stop-color="#80badb"/><stop offset="0.4970" stop-color="#80badb"/><stop offset="0.5049" stop-color="#88bedc"/><stop offset="0.5141" stop-color="#88bedc"/><stop offset="0.5220" stop-color="#98c6e0"/><stop offset="0.5826" stop-color="#9ac8e0"/><stop offset="0.5905" stop-color="#a7cee4"/><stop offset="0.6169" stop-color="#a7cee4"/><stop offset="0.6248" stop-color="#c7dcef"/><stop offset="0.6340" stop-color="#c7dcef"/><stop offset="0.6419" stop-color="#f3f9fe"/><stop offset="1.0452" stop-color="#f3f9fe"/></linearGradient><linearGradient id="g176" x2="0" y2="1"><stop offset="-0.0262" stop-color="#f3f9fe"/><stop offset="0.2914" stop-color="#f3f8fe"/><stop offset="0.3770" stop-color="#eff6fc"/><stop offset="0.3849" stop-color="#cee0f2"/><stop offset="0.3942" stop-color="#cee0f2"/><stop offset="0.4021" stop-color="#71b2d7"/><stop offset="0.4113" stop-color="#71b2d7"/><stop offset="0.4192" stop-color="#549ecd"/><stop offset="0.4284" stop-color="#549ecd"/><stop offset="0.4363" stop-color="#65aad4"/><stop offset="0.4456" stop-color="#65aad4"/><stop offset="0.4535" stop-color="#7fb9da"/><stop offset="0.4627" stop-color="#7fb9da"/><stop offset="0.4706" stop-color="#8bc0dd"/><stop offset="0.4798" stop-color="#8bc0dd"/><stop offset="0.4877" stop-color="#83bbdb"/><stop offset="0.4970" stop-color="#83bbdb"/><stop offset="0.5049" stop-color="#89bfdd"/><stop offset="0.5141" stop-color="#89bfdd"/><stop offset="0.5220" stop-color="#98c7e0"/><stop offset="0.5826" stop-color="#9ac8e0"/><stop offset="0.5905" stop-color="#a7cee4"/><stop offset="0.6169" stop-color="#a7cee4"/><stop offset="0.6248" stop-color="#c7dcef"/><stop offset="0.6340" stop-color="#c7dcef"/><stop offset="0.6419" stop-color="#f3f9fe"/><stop offset="1.0452" stop-color="#f3f9fe"/></linearGradient><linearGradient id="g177" x2="0" y2="1"><stop offset="-0.0262" stop-color="#f3f9fe"/><stop offset="0.2914" stop-color="#f3f8fe"/><stop offset="0.3770" stop-color="#eff6fc"/><stop offset="0.3849" stop-color="#c6dbef"/><stop offset="0.3942" stop-color="#c6dbef"/><stop offset="0.4021" stop-color="#71b2d7"/><stop offset="0.4113" stop-color="#71b2d7"/><stop offset="0.4192" stop-color="#5ca4d0"/><stop offset="0.4284" stop-color="#5ca4d0"/><stop offset="0.4363" stop-color="#6baed6"/><stop offset="0.4456" stop-color="#6baed6"/><stop offset="0.4535" stop-color="#83bbdb"/><stop offset="0.4627" stop-color="#83bbdb"/><stop offset="0.4706" stop-color="#8ec1dd"/><stop offset="0.4798" stop-color="#8ec1dd"/><stop offset="0.4877" stop-color="#85bcdc"/><stop offset="0.4970" stop-color="#85bcdc"/><stop offset="0.5049" stop-color="#8abfdd"/><stop offset="0.5141" stop-color="#8abfdd"/><stop offset="0.5220" stop-color="#98c7e0"/><stop offset="0.5826" stop-color="#9ac8e0"/><stop offset="0.5905" stop-color="#a7cee4"/><stop offset="0.6169" stop-color="#a7cee4"/><stop offset="0.6248" stop-color="#c7dcef"/><stop offset="0.6340" stop-color="#c7dcef"/><stop offset="0.6419" stop-color="#f3f9fe"/><stop offset="1.0452" stop-color="#f3f9fe"/></linearGradient><linearGradient id="g178" x2="0" y2="1"><stop offset="-0.0262" stop-color="#f3f9fe"/><stop offset="0.2914" stop-color="#f3f8fe"/><stop offset="0.3770" stop-color="#eff6fc"/><stop offset="0.3849" stop-color="#c0d8ed"/><stop offset="0.3942" stop-color="#c0d8ed"/><stop offset="0.4021" stop-color="#71b2d7"/><stop offset="0.4113" stop-color="#71b2d7"/><stop offset="0.4192" stop-color="#60a6d2"/><stop offset="0.4284" stop-color="#60a6d2"/><stop offset="0.4363" stop-color="#6fb0d7"/><stop offset="0.4456" stop-color="#6fb0d7"/><stop offset="0.4535" stop-color="#85bcdc"/><stop offset="0.4627" stop-color="#85bcdc"/><stop offset="0.4706" stop-color="#8fc2de"/><stop offset="0.4798" stop-color="#8fc2de"/><stop offset="0.4877" stop-color="#86bddc"/><stop offset="0.4970" stop-color="#86bddc"/><stop offset="0.5049" stop-color="#8bbfdd"/><stop offset="0.5141" stop-color="#8bbfdd"/><stop offset="0.5220" stop-color="#99c7e0"/><stop offset="0.5826" stop-color="#9ac8e0"/><stop offset="0.5905" stop-color="#a7cee4"/><stop offset="0.6169" stop-color="#a7cee4"/><stop offset="0.6248" stop-color="#c7dcef"/><stop offset="0.6340" stop-color="#c7dcef"/><stop offset="0.6419" stop-color="#f3f9fe"/><stop offset="1.0452" stop-color="#f3f9fe"/></linearGradient><linearGradient id="g179" x2="0" y2="1"><stop offset="-0.0262" stop-color="#f3f9fe"/><stop offset="0.2914" stop-color="#f3f8fe"/><stop offset="0.3770" stop-color="#eff6fc"/><stop offset="0.3849" stop-color="#bad6eb"/><stop offset="0.3942" stop-color="#bad6eb"/><stop offset="0.4021" stop-color="#71b2d7"/><stop offset="0.4113" stop-color="#71b2d7"/><stop offset="0.4192" stop-color="#63a9d3"/><stop offset="0.4284" stop-color="#63a9d3"/><stop offset="0.4363" stop-color="#72b2d7"/><stop offset="0.4456" stop-color="#72b2d7"/><stop offset="0.4535" stop-color="#87bddc"/><stop offset="0.4627" stop-color="#87bddc"/><stop offset="0.4706" stop-color="#90c2de"/><stop offset="0.4798" stop-color="#90c2de"/><stop offset="0.4877" stop-color="#86bddc"/><stop offset="0.4970" stop-color="#86bddc"/><stop offset="0.5049" stop-color="#8bc0dd"/><stop offset="0.5141" stop-color="#8bc0dd"/><stop offset="0.5220" stop-color="#99c7e0"/><stop offset="0.5826" stop-color="#9ac8e0"/><stop offset="0.5905" stop-color="#a7cee4"/><stop offset="0.6169" stop-color="#a7cee4"/><stop offset="0.6248" stop-color="#c7dcef"/><stop offset="0.6340" stop-color="#c7dcef"/><stop offset="0.6419" stop-color="#f3f9fe"/><stop offset="1.0452" stop-color="#f3f9fe"/></linearGradient><linearGradient id="g180" x2="0" y2="1"><stop offset="-0.0262" stop-color="#f3f9fe"/><stop offset="0.2914" stop-color="#f3f8fe"/><stop offset="0.3770" stop-color="#eff6fc"/><stop offset="0.3849" stop-color="#b4d3e9"/><stop offset="0.3942" stop-color="#b4d3e9"/><stop offset="0.4021" stop-color="#71b2d7"/><stop offset="0.4113" stop-color="#71b2d7"/><stop offset="0.4192" stop-color="#67abd4"/><stop offset="0.4284" stop-color="#67abd4"/><stop offset="0.4363" stop-color="#75b3d8"/><stop offset="0.4456" stop-color="#75b3d8"/><stop offset="0.4535" stop-color="#88bedc"/><stop offset="0.4627" stop-color="#88bedc"/><stop offset="0.4706" stop-color="#91c3de"/><stop offset="0.4798" stop-color="#91c3de"/><stop offset="0.4877" stop-color="#87bddc"/><stop offset="0.4970" stop-color="#87bddc"/><stop offset="0.5049" stop-color="#8bc0dd"/><stop offset="0.5141" stop-color="#8bc0dd"/><stop offset="0.5220" stop-color="#99c7e0"/><stop offset="0.5826" stop-color="#9ac8e0"/><stop offset="0.5905" stop-color="#a7cee4"/><stop offset="0.6169" stop-color="#a7cee4"/><stop offset="0.6248" stop-color="#c7dcef"/><stop offset="0.6340" stop-color="#c7dcef"/><stop offset="0.6419" stop-color="#f3f9fe"/><stop offset="1.0452" stop-color="#f3f9fe"/></linearGradient><linearGradient id="g181" x2="0" y2="1"><stop offset="-0.0262" stop-color="#f3f9fe"/><stop offset="0.2914" stop-color="#f3f8fe"/><stop offset="0.3770" stop-color="#eff6fc"/><stop offset="0.3849" stop-color="#afd1e7"/><stop offset="0.3942" stop-color="#afd1e7"/><stop offset="0.4021" stop-color="#71b2d7"/><stop offset="0.4113" stop-color="#71b2d7"/><stop offset="0.4192" stop-color="#6aadd5"/><stop offset="0.4284" stop-color="#6aadd5"/><stop offset="0.4363" stop-color="#78b5d9"/><stop offset="0.4456" stop-color="#78b5d9"/><stop offset="0.4535" stop-color="#8abfdd"/><stop offset="0.4627" stop-color="#8abfdd"/><stop offset="0.4706" stop-color="#92c3de"/><stop offset="0.4798" stop-color="#92c3de"/><stop offset="0.4877" stop-color="#87bedc"/><stop offset="0.4970" stop-color="#87bedc"/><stop offset="0.5049" stop-color="#8cc0dd"/><stop offset="0.5141" stop-color="#8cc0dd"/><stop offset="0.5220" stop-color="#99c7e0"/><stop offset="0.5826" stop-color="#9ac8e0"/><stop offset="0.5905" stop-color="#a7cee4"/><stop offset="0.6169" stop-color="#a7cee4"/><stop offset="0.6248" stop-color="#c7dcef"/><stop offset="0.6340" stop-color="#c7dcef"/><stop offset="0.6419" stop-color="#f3f9fe"/><stop offset="1.0452" stop-color="#f3f9fe"/></linearGradient><linearGradient id="g182" x2="0" y2="1"><stop offset="-0.0262" stop-color="#f3f9fe"/><stop offset="0.2914" stop-color="#f3f8fe"/><stop offset="0.3770" stop-color="#eff6fc"/><stop offset="0.3849" stop-color="#a5cde3"/><stop offset="0.3942" stop-color="#a5cde3"/><stop offset="0.4021" stop-color="#71b2d7"/><stop offset="0.4284" stop-color="#70b1d7"/><stop offset="0.4363" stop-color="#7db8da"/><stop offset="0.4456" stop-color="#7db8da"/><stop offset="0.4535" stop-color="#8cc0dd"/><stop offset="0.4627" stop-color="#8cc0dd"/><stop offset="0.4706" stop-color="#94c4df"/><stop offset="0.4798" stop-color="#94c4df"/><stop offset="0.4877" stop-color="#89bedc"/><stop offset="0.4970" stop-color="#89bedc"/><stop offset="0.5141" stop-color="#8cc0dd"/><stop offset="0.5220" stop-color="#99c7e0"/><stop offset="0.5826" stop-color="#9ac8e0"/><stop offset="0.5905" stop-color="#a7cee4"/><stop offset="0.6169" stop-color="#a7cee4"/><stop offset="0.6248" stop-color="#c7dcef"/><stop offset="0.6340" stop-color="#c7dcef"/><stop offset="0.6419" stop-color="#f3f9fe"/><stop offset="1.0452" stop-color="#f3f9fe"/></linearGradient><linearGradient id="g183" x2="0" y2="1"><stop offset="-0.0262" stop-color="#f3f9fe"/><stop offset="0.2914" stop-color="#f3f8fe"/><stop offset="0.3770" stop-color="#eff6fc"/><stop offset="0.3849" stop-color="#95c5df"/><stop offset="0.3942" stop-color="#95c5df"/><stop offset="0.4021" stop-color="#71b2d7"/><stop offset="0.4113" stop-color="#71b2d7"/><stop offset="0.4192" stop-color="#79b6d9"/><stop offset="0.4284" stop-color="#79b6d9"/><stop offset="0.4363" stop-color="#83bbdb"/><stop offset="0.4456" stop-color="#83bbdb"/><stop offset="0.4535" stop-color="#90c2de"/><stop offset="0.4627" stop-color="#90c2de"/><stop offset="0.4706" stop-color="#96c6df"/><stop offset="0.4798" stop-color="#96c6df"/><stop offset="0.4877" stop-color="#8abfdd"/><stop offset="0.4970" stop-color="#8abfdd"/><stop offset="0.5141" stop-color="#8dc1dd"/><stop offset="0.5220" stop-color="#99c7e0"/><stop offset="0.5826" stop-color="#9ac8e0"/><stop offset="0.5905" stop-color="#a7cee4"/><stop offset="0.6169" stop-color="#a7cee4"/><stop offset="0.6248" stop-color="#c7dcef"/><stop offset="0.6340" stop-color="#c7dcef"/><stop offset="0.6419" stop-color="#f3f9fe"/><stop offset="1.0452" stop-color="#f3f9fe"/></linearGradient><linearGradient id="g184" x2="0" y2="1"><stop offset="-0.0262" stop-color="#f3f9fe"/><stop offset="0.2914" stop-color="#f3f8fe"/><stop offset="0.3770" stop-color="#eff6fc"/><stop offset="0.3849" stop-color="#95c5df"/><stop offset="0.3942" stop-color="#95c5df"/><stop offset="0.4021" stop-color="#7db8da"/><stop offset="0.4113" stop-color="#7db8da"/><stop offset="0.4192" stop-color="#84bcdb"/><stop offset="0.4284" stop-color="#84bcdb"/><stop offset="0.4363" stop-color="#8bc0dd"/><stop offset="0.4456" stop-color="#8bc0dd"/><stop offset="0.4535" stop-color="#94c5df"/><stop offset="0.4627" stop-color="#94c5df"/><stop offset="0.4706" stop-color="#99c7e0"/><stop offset="0.4798" stop-color="#99c7e0"/><stop offset="0.4877" stop-color="#8cc0dd"/><stop offset="0.4970" stop-color="#8cc0dd"/><stop offset="0.5141" stop-color="#8ec1de"/><stop offset="0.5220" stop-color="#9ac8e0"/><stop offset="0.5826" stop-color="#9ac8e0"/><stop offset="0.5905" stop-color="#a7cee4"/><stop offset="0.6169" stop-color="#a7cee4"/><stop offset="0.6248" stop-color="#c7dcef"/><stop offset="0.6340" stop-color="#c7dcef"/><stop offset="0.6419" stop-color="#f3f9fe"/><stop offset="1.0452" stop-color="#f3f9fe"/></linearGradient><linearGradient id="g185" x2="0" y2="1"><stop offset="-0.0262" stop-color="#f3f9fe"/><stop offset="0.2914" stop-color="#f3f8fe"/><stop offset="0.3770" stop-color="#eff6fc"/><stop offset="0.3849" stop-color="#95c5df"/><stop offset="0.3942" stop-color="#95c5df"/><stop offset="0.4021" stop-color="#87bddc"/><stop offset="0.4113" stop-color="#87bddc"/><stop offset="0.4363" stop-color="#91c3de"/><stop offset="0.4456" stop-color="#91c3de"/><stop offset="0.4535" stop-color="#98c6e0"/><stop offset="0.4706" stop-color="#9bc8e0"/><stop offset="0.4798" stop-color="#9bc8e0"/><stop offset="0.4877" stop-color="#8dc1dd"/><stop offset="0.4970" stop-color="#8dc1dd"/><stop offset="0.5141" stop-color="#8fc2de"/><stop offset="0.5220" stop-color="#9ac8e0"/><stop offset="0.5826" stop-color="#9ac8e0"/><stop offset="0.5905" stop-color="#a7cee4"/><stop offset="0.6169" stop-color="#a7cee4"/><stop offset="0.6248" stop-color="#c7dcef"/><stop offset="0.6340" stop-color="#c7dcef"/><stop offset="0.6419" stop-color="#f3f9fe"/><stop offset="1.0452" stop-color="#f3f9fe"/></linearGradient><linearGradient id="g186" x2="0" y2="1"><stop offset="-0.0262" stop-color="#f3f9fe"/><stop offset="0.3085" stop-color="#f3f8fe"/><stop offset="0.3428" stop-color="#f2f8fd"/><stop offset="0.3770" stop-color="#edf4fc"/><stop offset="0.3849" stop-color="#97c6df"/><stop offset="0.3942" stop-color="#97c6df"/><stop offset="0.4021" stop-color="#91c3de"/><stop offset="0.4113" stop-color="#91c3de"/><stop offset="0.4456" stop-color="#97c6df"/><stop offset="0.4535" stop-color="#9bc8e0"/><stop offset="0.4798" stop-color="#9dc9e1"/><stop offset="0.4877" stop-color="#8ec1de"/><stop offset="0.4970" stop-color="#8ec1de"/><stop offset="0.5141" stop-color="#8fc2de"/><stop offset="0.5220" stop-color="#9ac8e0"/><stop offset="0.5826" stop-color="#9ac8e0"/><stop offset="0.5905" stop-color="#a7cee4"/><stop offset="0.6169" stop-color="#a7cee4"/><stop offset="0.6248" stop-color="#c7dcef"/><stop offset="0.6340" stop-color="#c7dcef"/><stop offset="0.6419" stop-color="#f3f9fe"/><stop offset="1.0452" stop-color="#f3f9fe"/></linearGradient><linearGradient id="g187" x2="0" y2="1"><stop offset="-0.0262" stop-color="#f3f9fe"/><stop offset="0.3428" stop-color="#f2f8fd"/><stop offset="0.3507" stop-color="#e9f2fb"/><stop offset="0.3770" stop-color="#e5eff9"/><stop offset="0.3849" stop-color="#9fcae1"/><stop offset="0.3942" stop-color="#9fcae1"/><stop offset="0.4021" stop-color="#98c6e0"/><stop offset="0.4798" stop-color="#9ecae1"/><stop offset="0.4877" stop-color="#8fc2de"/><stop offset="0.4970" stop-color="#8fc2de"/><stop offset="0.5141" stop-color="#90c2de"/><stop offset="0.5220" stop-color="#9ac8e0"/><stop offset="0.5826" stop-color="#9ac8e0"/><stop offset="0.5905" stop-color="#a7cee4"/><stop offset="0.6169" stop-color="#a7cee4"/><stop offset="0.6248" stop-color="#c7dcef"/><stop offset="0.6340" stop-color="#c7dcef"/><stop offset="0.6419" stop-color="#f3f9fe"/><stop offset="1.0452" stop-color="#f3f9fe"/></linearGradient><linearGradient id="g188" x2="0" y2="1"><stop offset="-0.0262" stop-color="#f3f9fe"/><stop offset="0.3428" stop-color="#f2f8fe"/><stop offset="0.3507" stop-color="#e1edf8"/><stop offset="0.3599" stop-color="#e1edf8"/><stop offset="0.3678" stop-color="#dae8f6"/><stop offset="0.3770" stop-color="#dae8f6"/><stop offset="0.3849" stop-color="#a3cce3"/><stop offset="0.3942" stop-color="#a3cce3"/><stop offset="0.4021" stop-color="#9bc8e0"/><stop offset="0.4798" stop-color="#9fcae1"/><stop offset="0.4877" stop-color="#90c2de"/><stop offset="0.4970" stop-color="#90c2de"/><stop offset="0.5141" stop-color="#90c2de"/><stop offset="0.5220" stop-color="#9ac8e0"/><stop offset="0.5826" stop-color="#9ac8e0"/><stop offset="0.5905" stop-color="#a7cee4"/><stop offset="0.6169" stop-color="#a7cee4"/><stop offset="0.6248" stop-color="#c7dcef"/><stop offset="0.6340" stop-color="#c7dcef"/><stop offset="0.6419" stop-color="#f3f9fe"/><stop offset="1.0452" stop-color="#f3f9fe"/></linearGradient><linearGradient id="g189" x2="0" y2="1"><stop offset="-0.0262" stop-color="#f3f9fe"/><stop offset="0.3428" stop-color="#f3f8fe"/><stop offset="0.3507" stop-color="#dae8f6"/><stop offset="0.3599" stop-color="#dae8f6"/><stop offset="0.3678" stop-color="#cfe1f2"/><stop offset="0.3770" stop-color="#cfe1f2"/><stop offset="0.3849" stop-color="#a5cde3"/><stop offset="0.3942" stop-color="#a5cde3"/><stop offset="0.4021" stop-color="#9dcae1"/><stop offset="0.4798" stop-color="#9fcae1"/><stop offset="0.4877" stop-color="#90c2de"/><stop offset="0.4970" stop-color="#90c2de"/><stop offset="0.5141" stop-color="#90c2de"/><stop offset="0.5220" stop-color="#9ac8e0"/><stop offset="0.5826" stop-color="#9ac8e0"/><stop offset="0.5905" stop-color="#a7cee4"/><stop offset="0.6169" stop-color="#a7cee4"/><stop offset="0.6248" stop-color="#c7dcef"/><stop offset="0.6340" stop-color="#c7dcef"/><stop offset="0.6419" stop-color="#f3f9fe"/><stop offset="1.0452" stop-color="#f3f9fe"/></linearGradient><linearGradient id="g190" x2="0" y2="1"><stop offset="-0.0262" stop-color="#f3f9fe"/><stop offset="0.3428" stop-color="#f3f9fe"/><stop offset="0.3507" stop-color="#d3e4f3"/><stop offset="0.3599" stop-color="#d3e4f3"/><stop offset="0.3678" stop-color="#c5dbef"/><stop offset="0.3770" stop-color="#c5dbef"/><stop offset="0.3849" stop-color="#a6cde4"/><stop offset="0.3942" stop-color="#a6cde4"/><stop offset="0.4021" stop-color="#9ecae1"/><stop offset="0.4798" stop-color="#9fcae1"/><stop offset="0.4877" stop-color="#90c2de"/><stop offset="0.4970" stop-color="#90c2de"/><stop offset="0.5141" stop-color="#90c2de"/><stop offset="0.5220" stop-color="#9ac8e0"/><stop offset="0.5826" stop-color="#9ac8e0"/><stop offset="0.5905" stop-color="#a7cee4"/><stop offset="0.6169" stop-color="#a7cee4"/><stop offset="0.6248" stop-color="#c7dcef"/><stop offset="0.6340" stop-color="#c7dcef"/><stop offset="0.6419" stop-color="#f3f9fe"/><stop offset="1.0452" stop-color="#f3f9fe"/></linearGradient><linearGradient id="g191" x2="0" y2="1"><stop offset="-0.0262" stop-color="#f3f9fe"/><stop offset="0.3428" stop-color="#f3f9fe"/><stop offset="0.3507" stop-color="#d1e2f3"/><stop offset="0.3599" stop-color="#d1e2f3"/><stop offset="0.3678" stop-color="#bfd8ed"/><stop offset="0.3770" stop-color="#bfd8ed"/><stop offset="0.3849" stop-color="#a7cee4"/><stop offset="0.3942" stop-color="#a7cee4"/><stop offset="0.4021" stop-color="#9fcae1"/><stop offset="0.4798" stop-color="#9fcbe1"/><stop offset="0.4877" stop-color="#90c2de"/><stop offset="0.5141" stop-color="#90c2de"/><stop offset="0.5220" stop-color="#9ac8e0"/><stop offset="0.5826" stop-color="#9ac8e0"/><stop offset="0.5905" stop-color="#a7cee4"/><stop offset="0.6169" stop-color="#a7cee4"/><stop offset="0.6248" stop-color="#c7dcef"/><stop offset="0.6340" stop-color="#c7dcef"/><stop offset="0.6419" stop-color="#f3f9fe"/><stop offset="1.0452" stop-color="#f3f9fe"/></linearGradient><linearGradient id="cbh" x1="0" y1="0" x2="0" y2="1"><stop offset="0.0000" stop-color="#ffffff"/><stop offset="0.2540" stop-color="#ffff00"/><stop offset="0.6349" stop-color="#ff0000"/><stop offset="1.0000" stop-color="#0b0000"/></linearGradient><linearGradient id="cbb" x1="0" y1="0" x2="0" y2="1"><stop offset="0.0000" stop-color="#08306b"/><stop offset="0.1250" stop-color="#08519c"/><stop offset="0.2500" stop-color="#2171b5"/><stop offset="0.3750" stop-color="#4292c6"/><stop offset="0.5000" stop-color="#6baed6"/><stop offset="0.6250" stop-color="#9ecae1"/><stop offset="0.7500" stop-color="#c6dbef"/><stop offset="0.8750" stop-color="#deebf7"/><stop offset="1.0000" stop-color="#f7fbff"/></linearGradient><clipPath id="imclip"><rect x="138.90" y="40.20" width="430.70" height="329.80"/></clipPath><clipPath id="axclip"><rect x="87.6" y="444.4" width="549.9" height="304.4"/></clipPath></defs><g shape-rendering="crispEdges"><rect x="138.9" y="40.2" width="9.4" height="329.8" fill="url(#g0)"/><rect x="147.9" y="40.2" width="7.4" height="329.8" fill="url(#g1)"/><rect x="154.9" y="40.2" width="9.4" height="329.8" fill="url(#g2)"/><rect x="163.9" y="40.2" width="5.4" height="329.8" fill="url(#g3)"/><rect x="168.9" y="40.2" width="3.4" height="329.8" fill="url(#g4)"/><rect x="171.9" y="40.2" width="3.4" height="329.8" fill="url(#g5)"/><rect x="174.9" y="40.2" width="3.4" height="329.8" fill="url(#g6)"/><rect x="177.9" y="40.2" width="3.4" height="329.8" fill="url(#g7)"/><rect x="180.9" y="40.2" width="3.4" height="329.8" fill="url(#g8)"/><rect x="183.9" y="40.2" width="3.4" height="329.8" fill="url(#g9)"/><rect x="186.9" y="40.2" width="3.4" height="329.8" fill="url(#g10)"/><rect x="189.9" y="40.2" width="3.4" height="329.8" fill="url(#g11)"/><rect x="192.9" y="40.2" width="3.4" height="329.8" fill="url(#g12)"/><rect x="195.9" y="40.2" width="3.4" height="329.8" fill="url(#g13)"/><rect x="198.9" y="40.2" width="3.4" height="329.8" fill="url(#g14)"/><rect x="201.9" y="40.2" width="3.4" height="329.8" fill="url(#g15)"/><rect x="204.9" y="40.2" width="3.4" height="329.8" fill="url(#g16)"/><rect x="207.9" y="40.2" width="3.4" height="329.8" fill="url(#g17)"/><rect x="210.9" y="40.2" width="3.4" height="329.8" fill="url(#g18)"/><rect x="213.9" y="40.2" width="3.4" height="329.8" fill="url(#g19)"/><rect x="216.9" y="40.2" width="3.4" height="329.8" fill="url(#g20)"/><rect x="219.9" y="40.2" width="3.4" height="329.8" fill="url(#g21)"/><rect x="222.9" y="40.2" width="7.4" height="329.8" fill="url(#g22)"/><rect x="229.9" y="40.2" width="7.4" height="329.8" fill="url(#g23)"/><rect x="236.9" y="40.2" width="7.4" height="329.8" fill="url(#g24)"/><rect x="243.9" y="40.2" width="6.4" height="329.8" fill="url(#g25)"/><rect x="249.9" y="40.2" width="5.4" height="329.8" fill="url(#g26)"/><rect x="254.9" y="40.2" width="5.4" height="329.8" fill="url(#g27)"/><rect x="259.9" y="40.2" width="3.4" height="329.8" fill="url(#g28)"/><rect x="262.9" y="40.2" width="3.4" height="329.8" fill="url(#g29)"/><rect x="265.9" y="40.2" width="3.4" height="329.8" fill="url(#g30)"/><rect x="268.9" y="40.2" width="3.4" height="329.8" fill="url(#g31)"/><rect x="271.9" y="40.2" width="3.4" height="329.8" fill="url(#g32)"/><rect x="274.9" y="40.2" width="3.4" height="329.8" fill="url(#g33)"/><rect x="277.9" y="40.2" width="2.4" height="329.8" fill="url(#g34)"/><rect x="279.9" y="40.2" width="1.4" height="329.8" fill="url(#g35)"/><rect x="280.9" y="40.2" width="1.4" height="329.8" fill="url(#g36)"/><rect x="281.9" y="40.2" width="1.4" height="329.8" fill="url(#g37)"/><rect x="282.9" y="40.2" width="1.4" height="329.8" fill="url(#g38)"/><rect x="283.9" y="40.2" width="1.4" height="329.8" fill="url(#g39)"/><rect x="284.9" y="40.2" width="1.4" height="329.8" fill="url(#g40)"/><rect x="285.9" y="40.2" width="1.4" height="329.8" fill="url(#g41)"/><rect x="286.9" y="40.2" width="1.4" height="329.8" fill="url(#g42)"/><rect x="287.9" y="40.2" width="1.4" height="329.8" fill="url(#g43)"/><rect x="288.9" y="40.2" width="1.4" height="329.8" fill="url(#g44)"/><rect x="289.9" y="40.2" width="1.4" height="329.8" fill="url(#g45)"/><rect x="290.9" y="40.2" width="1.4" height="329.8" fill="url(#g46)"/><rect x="291.9" y="40.2" width="1.4" height="329.8" fill="url(#g47)"/><rect x="292.9" y="40.2" width="1.4" height="329.8" fill="url(#g48)"/><rect x="293.9" y="40.2" width="1.4" height="329.8" fill="url(#g49)"/><rect x="294.9" y="40.2" width="1.4" height="329.8" fill="url(#g50)"/><rect x="295.9" y="40.2" width="1.4" height="329.8" fill="url(#g51)"/><rect x="296.9" y="40.2" width="1.4" height="329.8" fill="url(#g52)"/><rect x="297.9" y="40.2" width="1.4" height="329.8" fill="url(#g53)"/><rect x="298.9" y="40.2" width="1.4" height="329.8" fill="url(#g54)"/><rect x="299.9" y="40.2" width="1.4" height="329.8" fill="url(#g55)"/><rect x="300.9" y="40.2" width="1.4" height="329.8" fill="url(#g56)"/><rect x="301.9" y="40.2" width="1.4" height="329.8" fill="url(#g57)"/><rect x="302.9" y="40.2" width="1.4" height="329.8" fill="url(#g58)"/><rect x="303.9" y="40.2" width="1.4" height="329.8" fill="url(#g59)"/><rect x="304.9" y="40.2" width="1.4" height="329.8" fill="url(#g60)"/><rect x="305.9" y="40.2" width="1.4" height="329.8" fill="url(#g61)"/><rect x="306.9" y="40.2" width="1.4" height="329.8" fill="url(#g62)"/><rect x="307.9" y="40.2" width="1.4" height="329.8" fill="url(#g63)"/><rect x="308.9" y="40.2" width="1.4" height="329.8" fill="url(#g64)"/><rect x="309.9" y="40.2" width="1.4" height="329.8" fill="url(#g65)"/><rect x="310.9" y="40.2" width="1.4" height="329.8" fill="url(#g66)"/><rect x="311.9" y="40.2" width="1.4" height="329.8" fill="url(#g67)"/><rect x="312.9" y="40.2" width="1.4" height="329.8" fill="url(#g68)"/><rect x="313.9" y="40.2" width="1.4" height="329.8" fill="url(#g69)"/><rect x="314.9" y="40.2" width="1.4" height="329.8" fill="url(#g70)"/><rect x="315.9" y="40.2" width="1.4" height="329.8" fill="url(#g71)"/><rect x="316.9" y="40.2" width="1.4" height="329.8" fill="url(#g72)"/><rect x="317.9" y="40.2" width="1.4" height="329.8" fill="url(#g73)"/><rect x="318.9" y="40.2" width="1.4" height="329.8" fill="url(#g74)"/><rect x="319.9" y="40.2" width="1.4" height="329.8" fill="url(#g75)"/><rect x="320.9" y="40.2" width="1.4" height="329.8" fill="url(#g76)"/><rect x="321.9" y="40.2" width="1.4" height="329.8" fill="url(#g77)"/><rect x="322.9" y="40.2" width="1.4" height="329.8" fill="url(#g78)"/><rect x="323.9" y="40.2" width="1.4" height="329.8" fill="url(#g79)"/><rect x="324.9" y="40.2" width="1.4" height="329.8" fill="url(#g80)"/><rect x="325.9" y="40.2" width="1.4" height="329.8" fill="url(#g81)"/><rect x="326.9" y="40.2" width="1.4" height="329.8" fill="url(#g82)"/><rect x="327.9" y="40.2" width="1.4" height="329.8" fill="url(#g83)"/><rect x="328.9" y="40.2" width="1.4" height="329.8" fill="url(#g84)"/><rect x="329.9" y="40.2" width="1.4" height="329.8" fill="url(#g85)"/><rect x="330.9" y="40.2" width="1.4" height="329.8" fill="url(#g86)"/><rect x="331.9" y="40.2" width="1.4" height="329.8" fill="url(#g87)"/><rect x="332.9" y="40.2" width="1.4" height="329.8" fill="url(#g88)"/><rect x="333.9" y="40.2" width="1.4" height="329.8" fill="url(#g89)"/><rect x="334.9" y="40.2" width="1.4" height="329.8" fill="url(#g90)"/><rect x="335.9" y="40.2" width="1.4" height="329.8" fill="url(#g91)"/><rect x="336.9" y="40.2" width="1.4" height="329.8" fill="url(#g92)"/><rect x="337.9" y="40.2" width="1.4" height="329.8" fill="url(#g93)"/><rect x="338.9" y="40.2" width="1.4" height="329.8" fill="url(#g94)"/><rect x="339.9" y="40.2" width="1.4" height="329.8" fill="url(#g95)"/><rect x="340.9" y="40.2" width="1.4" height="329.8" fill="url(#g96)"/><rect x="341.9" y="40.2" width="1.4" height="329.8" fill="url(#g97)"/><rect x="342.9" y="40.2" width="1.4" height="329.8" fill="url(#g98)"/><rect x="343.9" y="40.2" width="1.4" height="329.8" fill="url(#g99)"/><rect x="344.9" y="40.2" width="1.4" height="329.8" fill="url(#g100)"/><rect x="345.9" y="40.2" width="1.4" height="329.8" fill="url(#g101)"/><rect x="346.9" y="40.2" width="1.4" height="329.8" fill="url(#g102)"/><rect x="347.9" y="40.2" width="1.4" height="329.8" fill="url(#g103)"/><rect x="348.9" y="40.2" width="1.4" height="329.8" fill="url(#g104)"/><rect x="349.9" y="40.2" width="1.4" height="329.8" fill="url(#g105)"/><rect x="350.9" y="40.2" width="1.4" height="329.8" fill="url(#g106)"/><rect x="351.9" y="40.2" width="1.4" height="329.8" fill="url(#g107)"/><rect x="352.9" y="40.2" width="1.4" height="329.8" fill="url(#g108)"/><rect x="353.9" y="40.2" width="1.4" height="329.8" fill="url(#g109)"/><rect x="354.9" y="40.2" width="1.4" height="329.8" fill="url(#g110)"/><rect x="355.9" y="40.2" width="1.2" height="329.8" fill="url(#g111)"/><rect x="356.7" y="40.2" width="3.4" height="329.8" fill="url(#g112)"/><rect x="359.7" y="40.2" width="3.4" height="329.8" fill="url(#g113)"/><rect x="362.7" y="40.2" width="3.4" height="329.8" fill="url(#g114)"/><rect x="365.7" y="40.2" width="3.4" height="329.8" fill="url(#g115)"/><rect x="368.7" y="40.2" width="3.4" height="329.8" fill="url(#g116)"/><rect x="371.7" y="40.2" width="1.4" height="329.8" fill="url(#g117)"/><rect x="372.7" y="40.2" width="1.4" height="329.8" fill="url(#g118)"/><rect x="373.7" y="40.2" width="1.4" height="329.8" fill="url(#g119)"/><rect x="374.7" y="40.2" width="1.4" height="329.8" fill="url(#g120)"/><rect x="375.7" y="40.2" width="1.4" height="329.8" fill="url(#g121)"/><rect x="376.7" y="40.2" width="1.4" height="329.8" fill="url(#g122)"/><rect x="377.7" y="40.2" width="1.4" height="329.8" fill="url(#g123)"/><rect x="378.7" y="40.2" width="1.4" height="329.8" fill="url(#g124)"/><rect x="379.7" y="40.2" width="1.4" height="329.8" fill="url(#g125)"/><rect x="380.7" y="40.2" width="1.4" height="329.8" fill="url(#g126)"/><rect x="381.7" y="40.2" width="1.4" height="329.8" fill="url(#g127)"/><rect x="382.7" y="40.2" width="1.4" height="329.8" fill="url(#g128)"/><rect x="383.7" y="40.2" width="1.4" height="329.8" fill="url(#g129)"/><rect x="384.7" y="40.2" width="1.4" height="329.8" fill="url(#g130)"/><rect x="385.7" y="40.2" width="1.4" height="329.8" fill="url(#g131)"/><rect x="386.7" y="40.2" width="1.4" height="329.8" fill="url(#g132)"/><rect x="387.7" y="40.2" width="1.4" height="329.8" fill="url(#g133)"/><rect x="388.7" y="40.2" width="1.4" height="329.8" fill="url(#g134)"/><rect x="389.7" y="40.2" width="1.4" height="329.8" fill="url(#g135)"/><rect x="390.7" y="40.2" width="1.4" height="329.8" fill="url(#g136)"/><rect x="391.7" y="40.2" width="1.4" height="329.8" fill="url(#g137)"/><rect x="392.7" y="40.2" width="1.4" height="329.8" fill="url(#g138)"/><rect x="393.7" y="40.2" width="1.4" height="329.8" fill="url(#g139)"/><rect x="394.7" y="40.2" width="1.4" height="329.8" fill="url(#g140)"/><rect x="395.7" y="40.2" width="1.4" height="329.8" fill="url(#g141)"/><rect x="396.7" y="40.2" width="1.4" height="329.8" fill="url(#g142)"/><rect x="397.7" y="40.2" width="1.4" height="329.8" fill="url(#g143)"/><rect x="398.7" y="40.2" width="1.4" height="329.8" fill="url(#g144)"/><rect x="399.7" y="40.2" width="1.4" height="329.8" fill="url(#g145)"/><rect x="400.7" y="40.2" width="1.4" height="329.8" fill="url(#g146)"/><rect x="401.7" y="40.2" width="1.4" height="329.8" fill="url(#g147)"/><rect x="402.7" y="40.2" width="1.4" height="329.8" fill="url(#g148)"/><rect x="403.7" y="40.2" width="1.4" height="329.8" fill="url(#g149)"/><rect x="404.7" y="40.2" width="1.4" height="329.8" fill="url(#g150)"/><rect x="405.7" y="40.2" width="1.4" height="329.8" fill="url(#g151)"/><rect x="406.7" y="40.2" width="1.4" height="329.8" fill="url(#g152)"/><rect x="407.7" y="40.2" width="1.4" height="329.8" fill="url(#g153)"/><rect x="408.7" y="40.2" width="1.4" height="329.8" fill="url(#g154)"/><rect x="409.7" y="40.2" width="1.4" height="329.8" fill="url(#g155)"/><rect x="410.7" y="40.2" width="1.4" height="329.8" fill="url(#g156)"/><rect x="411.7" y="40.2" width="1.4" height="329.8" fill="url(#g157)"/><rect x="412.7" y="40.2" width="1.4" height="329.8" fill="url(#g158)"/><rect x="413.7" y="40.2" width="1.4" height="329.8" fill="url(#g159)"/><rect x="414.7" y="40.2" width="2.4" height="329.8" fill="url(#g160)"/><rect x="416.7" y="40.2" width="2.4" height="329.8" fill="url(#g161)"/><rect x="418.7" y="40.2" width="1.4" height="329.8" fill="url(#g162)"/><rect x="419.7" y="40.2" width="1.4" height="329.8" fill="url(#g163)"/><rect x="420.7" y="40.2" width="1.4" height="329.8" fill="url(#g164)"/><rect x="421.7" y="40.2" width="1.4" height="329.8" fill="url(#g165)"/><rect x="422.7" y="40.2" width="1.4" height="329.8" fill="url(#g166)"/><rect x="423.7" y="40.2" width="1.4" height="329.8" fill="url(#g167)"/><rect x="424.7" y="40.2" width="1.4" height="329.8" fill="url(#g168)"/><rect x="425.7" y="40.2" width="1.4" height="329.8" fill="url(#g169)"/><rect x="426.7" y="40.2" width="1.4" height="329.8" fill="url(#g170)"/><rect x="427.7" y="40.2" width="1.4" height="329.8" fill="url(#g171)"/><rect x="428.7" y="40.2" width="1.4" height="329.8" fill="url(#g172)"/><rect x="429.7" y="40.2" width="3.4" height="329.8" fill="url(#g173)"/><rect x="432.7" y="40.2" width="3.4" height="329.8" fill="url(#g174)"/><rect x="435.7" y="40.2" width="3.4" height="329.8" fill="url(#g175)"/><rect x="438.7" y="40.2" width="3.4" height="329.8" fill="url(#g176)"/><rect x="441.7" y="40.2" width="1.4" height="329.8" fill="url(#g177)"/><rect x="442.7" y="40.2" width="1.4" height="329.8" fill="url(#g178)"/><rect x="443.7" y="40.2" width="1.4" height="329.8" fill="url(#g179)"/><rect x="444.7" y="40.2" width="1.4" height="329.8" fill="url(#g180)"/><rect x="445.7" y="40.2" width="1.4" height="329.8" fill="url(#g181)"/><rect x="446.7" y="40.2" width="3.4" height="329.8" fill="url(#g182)"/><rect x="449.7" y="40.2" width="4.4" height="329.8" fill="url(#g183)"/><rect x="453.7" y="40.2" width="5.4" height="329.8" fill="url(#g184)"/><rect x="458.7" y="40.2" width="6.4" height="329.8" fill="url(#g185)"/><rect x="464.7" y="40.2" width="9.4" height="329.8" fill="url(#g186)"/><rect x="473.7" y="40.2" width="9.4" height="329.8" fill="url(#g187)"/><rect x="482.7" y="40.2" width="9.4" height="329.8" fill="url(#g188)"/><rect x="491.7" y="40.2" width="9.4" height="329.8" fill="url(#g189)"/><rect x="500.7" y="40.2" width="12.4" height="329.8" fill="url(#g190)"/><rect x="512.7" y="40.2" width="57.3" height="329.8" fill="url(#g191)"/></g><g clip-path="url(#imclip)"><line x1="550" y1="40" x2="489" y2="372" stroke="#2060a0" stroke-opacity="0.018" stroke-width="8"/><line x1="550" y1="40" x2="489" y2="372" stroke="#2060a0" stroke-opacity="0.012" stroke-width="3"/></g><g clip-path="url(#imclip)"><clipPath id="bandclip"><rect x="357" y="154.5" width="213" height="96"/></clipPath><line clip-path="url(#bandclip)" x1="547" y1="40" x2="486" y2="372" stroke="#2060a0" stroke-opacity="0.05" stroke-width="10"/></g><g clip-path="url(#imclip)"><line x1="353.9" y1="31.7" x2="353.9" y2="372" stroke="#00ff00" stroke-width="5.96" stroke-dasharray="22.3 9.4"/></g><rect x="137.95" y="39.35" width="432.55" height="331.6" fill="none" stroke="#000" stroke-width="2.1"/><g stroke="#000" stroke-width="1.5" fill="none"><path d="M194,67.9 L162.4,67.9 L162.4,99"/></g><path d="M206.8,67.9 L192.6,61.9 L196.2,67.9 L192.6,73.9 Z" fill="#000"/><path d="M162.4,111 L156.4,96.9 L162.4,100.5 L168.4,96.9 Z" fill="#000"/><path d="M148.4,240.7 L172.8,240.7 M159.8,240.7 L159.8,350.4 L197.2,350.4 M197.2,338.3 L197.2,361.8" stroke="#000" stroke-width="2.5" fill="none"/><rect x="98.5" y="64.7" width="25.1" height="298.4" fill="url(#cbh)" stroke="#000" stroke-width="2.1"/><rect x="586.6" y="65.2" width="24.4" height="298" fill="url(#cbb)" stroke="#000" stroke-width="2.1"/><text x="77.50" y="131.68" font-size="20.80" text-anchor="end">0.5</text><text x="77.50" y="191.36" font-size="20.80" text-anchor="end">0.0</text><text x="77.50" y="251.04" font-size="20.80" text-anchor="end">−0.5</text><text x="77.50" y="310.72" font-size="20.80" text-anchor="end">−1.0</text><text x="632.00" y="113.30" font-size="20.80" text-anchor="start">7</text><text x="632.00" y="188.16" font-size="20.80" text-anchor="start">5</text><text x="632.00" y="263.02" font-size="20.80" text-anchor="start">3</text><text x="632.00" y="337.88" font-size="20.80" text-anchor="start">1</text><text x="66.50" y="741.70" font-size="20.80" text-anchor="end">0.0</text><text x="66.50" y="686.42" font-size="20.80" text-anchor="end">0.2</text><text x="66.50" y="631.14" font-size="20.80" text-anchor="end">0.4</text><text x="66.50" y="575.86" font-size="20.80" text-anchor="end">0.6</text><text x="66.50" y="520.58" font-size="20.80" text-anchor="end">0.8</text><text x="66.50" y="465.30" font-size="20.80" text-anchor="end">1.0</text><text x="162.00" y="784.90" font-size="20.80" text-anchor="middle">−40</text><text x="262.00" y="784.90" font-size="20.80" text-anchor="middle">−20</text><text x="362.00" y="784.90" font-size="20.80" text-anchor="middle">0</text><text x="462.00" y="784.90" font-size="20.80" text-anchor="middle">20</text><text x="562.00" y="784.90" font-size="20.80" text-anchor="middle">40</text><path d="M88.5,124.38 L98.5,124.38 M88.5,184.06 L98.5,184.06 M88.5,243.74 L98.5,243.74 M88.5,303.42 L98.5,303.42 M611,106.00 L621.5,106.00 M611,180.86 L621.5,180.86 M611,255.72 L621.5,255.72 M611,330.58 L621.5,330.58 M77.6,734.40 L87.6,734.40 M77.6,679.12 L87.6,679.12 M77.6,623.84 L87.6,623.84 M77.6,568.56 L87.6,568.56 M77.6,513.28 L87.6,513.28 M77.6,458.00 L87.6,458.00 M162.00,748.8 L162.00,758.8 M262.00,748.8 L262.00,758.8 M362.00,748.8 L362.00,758.8 M462.00,748.8 L462.00,758.8 M562.00,748.8 L562.00,758.8" stroke="#000" stroke-width="2.1" fill="none"/><text x="-0.70" y="12.80" font-size="24.00" font-weight="bold">a.</text><text x="1.92" y="412.60" font-size="24.00" font-weight="bold">b.</text><text x="296.81" y="18.80" font-size="20.80" textLength="15.38" lengthAdjust="spacingAndGlyphs">Δ</text><text x="311.16" y="18.80" font-size="20.80" textLength="8.22" lengthAdjust="spacingAndGlyphs" font-style="italic">t</text><rect x="325.8" y="9.2" width="13.4" height="1.75"/><rect x="325.8" y="13.6" width="13.4" height="1.75"/><text x="351.08" y="18.80" font-size="20.80" textLength="57.08" lengthAdjust="spacingAndGlyphs">0.7 ns</text><text x="306.80" y="423.80" font-size="20.80" textLength="15.71" lengthAdjust="spacingAndGlyphs">Δ</text><text x="321.31" y="423.80" font-size="20.80" textLength="7.91" lengthAdjust="spacingAndGlyphs" font-style="italic">t</text><rect x="335.2" y="414.4" width="13.8" height="1.75"/><rect x="335.2" y="418.8" width="13.8" height="1.75"/><text x="355.25" y="423.80" font-size="20.80" textLength="33.80" lengthAdjust="spacingAndGlyphs">0.0</text><text x="395.14" y="423.80" font-size="20.80" textLength="21.71" lengthAdjust="spacingAndGlyphs">ns</text><g transform="rotate(-90)"><text x="-360.13" y="20.00" font-size="21.10" textLength="292.43" lengthAdjust="spacingAndGlyphs">Phase-contrast sim. (arb. units)</text><text x="-744.73" y="21.00" font-size="21.10" textLength="296.74" lengthAdjust="spacingAndGlyphs">Normalized intensity (arb. units)</text></g><text x="299.25" y="816.30" font-size="21.10" textLength="126.38" lengthAdjust="spacingAndGlyphs">Position (µm)</text><text x="174.44" y="305.90" font-size="22.60" textLength="25.04" lengthAdjust="spacingAndGlyphs">30</text><text x="207.61" y="305.90" font-size="22.60" textLength="9.17" lengthAdjust="spacingAndGlyphs" font-style="italic">µ</text><text x="215.66" y="305.90" font-size="22.60" textLength="28.06" lengthAdjust="spacingAndGlyphs">m</text><text x="170.05" y="59.00" font-size="20.80" textLength="9.38" lengthAdjust="spacingAndGlyphs">y</text><text x="145.79" y="90.40" font-size="20.80" textLength="9.52" lengthAdjust="spacingAndGlyphs">x</text><text x="587.09" y="53.50" font-size="20.80" textLength="16.11" lengthAdjust="spacingAndGlyphs">×</text><text x="604.43" y="53.50" font-size="20.80" textLength="22.87" lengthAdjust="spacingAndGlyphs">10</text><text x="627.08" y="39.70" font-size="14.60" textLength="15.83" lengthAdjust="spacingAndGlyphs">24</text><g transform="translate(680,294.5) rotate(-90)"><path d="M11.6,-20.6 C11.4,-23.2 9.6,-24.2 8.6,-22.4 C7.6,-20.5 7.4,-12 6.6,-4 C5.9,2.6 5.1,4.6 3.4,5.0 C2.2,5.3 1.4,4.6 1.2,4.0" fill="none" stroke="#000" stroke-width="2.3" stroke-linecap="round"/><text x="19.83" y="-0.60" font-size="21.50" textLength="12.49" lengthAdjust="spacingAndGlyphs" font-style="italic">n</text><text x="31.84" y="2.40" font-size="14.60" textLength="9.96" lengthAdjust="spacingAndGlyphs">e</text><text x="50.52" y="-0.80" font-size="20.80" textLength="34.34" lengthAdjust="spacingAndGlyphs">(cm</text><rect x="84.5" y="-15.4" width="9" height="1.5"/><text x="95.71" y="-8.20" font-size="14.60" textLength="8.56" lengthAdjust="spacingAndGlyphs">3</text><circle cx="113" cy="-8.6" r="1.5"/><text x="125.57" y="-0.80" font-size="20.80" textLength="36.38" lengthAdjust="spacingAndGlyphs">cm)</text></g><g clip-path="url(#axclip)" fill="none"><path d="M112.00,592.50C113.13,592.02 115.43,590.65 118.80,589.60C122.17,588.55 128.18,587.22 132.20,586.20C136.22,585.18 140.00,583.20 142.90,583.50C145.80,583.80 147.13,586.08 149.60,588.00C152.07,589.92 155.23,594.55 157.70,595.00C160.17,595.45 162.17,592.17 164.40,590.70C166.63,589.23 168.20,586.60 171.10,586.20C174.00,585.80 179.12,588.53 181.80,588.30C184.48,588.07 185.18,588.52 187.20,584.80C189.22,581.08 191.67,571.13 193.90,566.00C196.13,560.87 198.37,556.67 200.60,554.00C202.83,551.33 204.85,550.00 207.30,550.00C209.75,550.00 212.95,552.85 215.30,554.00C217.65,555.15 219.40,557.72 221.40,556.90C223.40,556.08 225.18,553.32 227.30,549.10C229.42,544.88 231.18,536.47 234.10,531.60C237.02,526.73 242.03,524.13 244.80,519.90C247.57,515.67 248.75,512.37 250.70,506.20C252.65,500.03 254.57,489.72 256.50,482.90C258.43,476.08 260.35,469.47 262.30,465.30C264.25,461.13 266.08,458.55 268.20,457.90C270.32,457.25 272.73,458.22 275.00,461.40C277.27,464.58 279.68,470.83 281.80,477.00C283.92,483.17 285.92,491.58 287.70,498.40C289.48,505.22 291.28,510.75 292.50,517.90C293.72,525.05 294.02,532.82 295.00,541.30C295.98,549.78 297.37,560.22 298.40,568.80C299.43,577.38 300.07,584.27 301.20,592.80C302.33,601.33 304.07,612.13 305.20,620.00C306.33,627.87 307.17,634.00 308.00,640.00C308.83,646.00 309.23,649.63 310.20,656.00C311.17,662.37 312.17,670.48 313.80,678.20C315.43,685.92 317.87,695.00 320.00,702.30C322.13,709.60 324.58,716.88 326.60,722.00C328.62,727.12 330.45,730.95 332.10,733.00C333.75,735.05 334.35,734.88 336.50,734.30C338.65,733.72 342.23,731.50 345.00,729.50C347.77,727.50 350.38,724.28 353.10,722.30C355.82,720.32 358.57,717.83 361.30,717.60C364.03,717.37 366.10,719.60 369.50,720.90C372.90,722.20 377.62,724.13 381.70,725.40C385.78,726.67 391.27,728.50 394.00,728.50C396.73,728.50 396.73,727.97 398.10,725.40C399.47,722.83 400.83,718.88 402.20,713.10C403.57,707.32 404.93,698.18 406.30,690.70C407.67,683.22 408.88,677.48 410.40,668.20C411.92,658.92 413.72,647.05 415.40,635.00C417.08,622.95 419.00,606.32 420.50,595.90C422.00,585.48 422.95,582.25 424.40,572.50C425.85,562.75 427.58,548.45 429.20,537.40C430.82,526.35 432.47,515.28 434.10,506.20C435.73,497.12 437.22,488.58 439.00,482.90C440.78,477.22 442.80,474.70 444.80,472.10C446.80,469.50 449.05,467.30 451.00,467.30C452.95,467.30 454.28,469.18 456.50,472.10C458.72,475.02 461.70,479.43 464.30,484.80C466.90,490.17 469.50,497.15 472.10,504.30C474.70,511.45 477.63,521.20 479.90,527.70C482.17,534.20 483.73,539.52 485.70,543.30C487.67,547.08 489.15,548.05 491.70,550.40C494.25,552.75 498.08,555.27 501.00,557.40C503.92,559.53 506.47,562.82 509.20,563.20C511.93,563.58 515.07,559.70 517.40,559.70C519.73,559.70 521.25,560.47 523.20,563.20C525.15,565.93 526.95,571.82 529.10,576.10C531.25,580.38 534.17,586.38 536.10,588.90C538.03,591.42 538.77,591.40 540.70,591.20C542.63,591.00 545.37,588.75 547.70,587.70C550.03,586.65 551.18,585.75 554.70,584.90C558.22,584.05 565.68,582.72 568.80,582.60C571.92,582.48 571.07,582.18 573.40,584.20C575.73,586.22 579.68,593.53 582.80,594.70C585.92,595.87 588.60,591.00 592.10,591.20C595.60,591.40 600.48,596.18 603.80,595.90C607.12,595.62 610.63,590.57 612.00,589.50" stroke="#daa520" stroke-width="5.5" stroke-linecap="square" stroke-linejoin="round"/><path d="M112.00,607.30C125.00,607.30 174.17,607.35 190.00,607.30C205.83,607.25 203.00,607.35 207.00,607.00C211.00,606.65 211.60,606.32 214.00,605.20C216.40,604.08 218.87,602.67 221.40,600.30C223.93,597.93 227.10,594.05 229.20,591.00C231.30,587.95 232.37,585.73 234.00,582.00C235.63,578.27 236.87,575.05 239.00,568.60C241.13,562.15 244.37,552.40 246.80,543.30C249.23,534.20 251.33,523.42 253.60,514.00C255.87,504.58 258.30,494.92 260.40,486.80C262.50,478.68 264.42,470.12 266.20,465.30C267.98,460.48 269.15,458.22 271.10,457.90C273.05,457.58 275.78,458.92 277.90,463.40C280.02,467.88 281.85,476.37 283.80,484.80C285.75,493.23 287.93,503.97 289.60,514.00C291.27,524.03 292.57,534.68 293.80,545.00C295.03,555.32 295.92,565.28 297.00,575.90C298.08,586.52 299.02,598.58 300.30,608.70C301.58,618.82 303.23,627.20 304.70,636.60C306.17,646.00 307.45,654.87 309.10,665.10C310.75,675.33 312.97,689.23 314.60,698.00C316.23,706.77 317.27,712.12 318.90,717.70C320.53,723.28 322.62,728.70 324.40,731.50C326.18,734.30 327.53,734.67 329.60,734.50C331.67,734.33 333.90,732.70 336.80,730.50C339.70,728.30 342.92,724.02 347.00,721.30C351.08,718.58 356.87,714.72 361.30,714.20C365.73,713.68 369.52,716.00 373.60,718.20C377.68,720.40 382.40,724.83 385.80,727.40C389.20,729.97 391.62,733.08 394.00,733.60C396.38,734.12 398.05,733.57 400.10,730.50C402.15,727.43 404.25,721.83 406.30,715.20C408.35,708.57 410.53,698.88 412.40,690.70C414.27,682.52 415.50,676.05 417.50,666.10C419.50,656.15 422.45,643.68 424.40,631.00C426.35,618.32 427.58,604.88 429.20,590.00C430.82,575.12 432.47,556.28 434.10,541.70C435.73,527.12 437.22,513.92 439.00,502.50C440.78,491.08 442.85,480.63 444.80,473.20C446.75,465.77 448.75,459.87 450.70,457.90C452.65,455.93 454.57,458.53 456.50,461.40C458.43,464.27 460.03,468.28 462.30,475.10C464.57,481.92 467.50,492.57 470.10,502.30C472.70,512.03 475.30,523.75 477.90,533.50C480.50,543.25 483.10,552.35 485.70,560.80C488.30,569.25 490.90,577.87 493.50,584.20C496.10,590.53 498.10,595.10 501.30,598.80C504.50,602.50 509.25,604.98 512.70,606.40C516.15,607.82 505.45,607.15 522.00,607.30C538.55,607.45 597.00,607.30 612.00,607.30" stroke="#ff0000" stroke-width="4.6" stroke-dasharray="16.8 7.3"/><path d="M112.30,732.60 L282.20,732.50 L283.20,723.00 L284.30,709.50 L289.50,702.30 L290.50,689.80 L292.60,677.00 L292.60,642.00 L293.60,629.70 L297.80,622.50 L299.80,611.00 L299.80,588.00 L300.30,574.40 L304.20,567.60 L306.70,558.00 L308.00,545.60 L312.70,538.00 L315.60,526.60 L316.50,513.20 L327.00,513.10 L330.40,502.90 L331.70,491.50 L338.30,485.60 L351.60,485.60 L354.10,475.40 L354.70,463.50 L362.30,457.90 L369.90,463.50 L370.50,475.40 L373.00,485.60 L386.30,485.60 L392.90,491.50 L394.20,502.90 L397.60,513.10 L408.10,513.20 L409.00,526.60 L411.90,538.00 L416.60,545.60 L417.90,558.00 L420.40,567.60 L424.30,574.40 L424.80,588.00 L424.80,611.00 L426.80,622.50 L431.00,629.70 L432.00,642.00 L432.00,677.00 L434.10,689.80 L435.10,702.30 L440.30,709.50 L441.40,723.00 L442.40,732.50 L612.30,732.60" stroke="#0000ff" stroke-width="4.6" stroke-dasharray="4.6 7.5"/></g><rect x="466.2" y="658.2" width="162.4" height="81.4" rx="4" ry="4" fill="#fff" fill-opacity="0.8" stroke="#cccccc" stroke-width="2.6"/><line x1="472.4" y1="672" x2="510" y2="672" stroke="#daa520" stroke-width="5.5" stroke-linecap="square"/><line x1="473" y1="697.6" x2="510" y2="697.6" stroke="#ff0000" stroke-width="4.6" stroke-dasharray="16.8 7.3"/><line x1="473" y1="722.7" x2="510" y2="722.7" stroke="#0000ff" stroke-width="4.6" stroke-dasharray="4.6 7.5"/><text x="523.12" y="678.30" font-size="18.20" textLength="91.52" lengthAdjust="spacingAndGlyphs">Experiment</text><text x="523.10" y="703.20" font-size="18.20" textLength="81.48" lengthAdjust="spacingAndGlyphs">PCXI sim.</text><text x="523.10" y="728.20" font-size="18.20" textLength="99.36" lengthAdjust="spacingAndGlyphs">Density sim.</text><rect x="87.6" y="444.4" width="549.9" height="304.4" fill="none" stroke="#000" stroke-width="2.3"/></svg>
</body></html>
